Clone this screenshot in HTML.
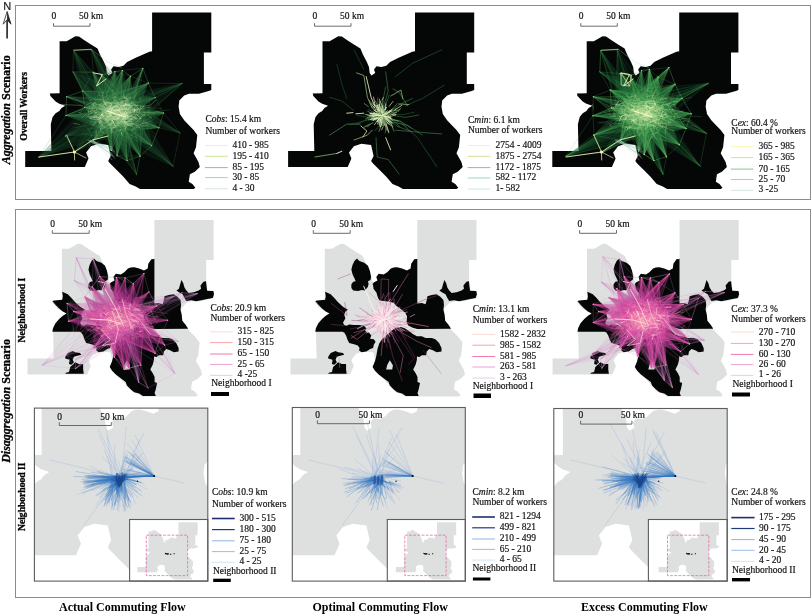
<!DOCTYPE html>
<html lang="en"><head><meta charset="utf-8"><title>Commuting flows</title>
<style>
html,body{margin:0;padding:0;background:#fff;overflow:hidden}
svg{display:block}
text{font-family:"Liberation Serif","Times New Roman",serif;fill:#111;stroke:#111;stroke-width:0.18px;paint-order:stroke}
.lg{font-size:9.5px}
.sb{font-size:9.5px}
.b{font-weight:bold}
.i{font-style:italic}
.ax{font-size:12px;font-weight:bold;fill:#000;stroke:none}
.rw{font-size:9.6px;font-weight:bold;fill:#000;stroke:#000;stroke-width:0.3px}
.vx{stroke:#000;stroke-width:0.3px}
.fl{fill:none;stroke-linecap:round}
</style></head><body>
<svg width="812" height="615" viewBox="0 0 812 615">
<defs>
<path id="ol" d="M59.6,41.3L66.7,41.3L75.4,36.2L79,36.4L84,39.9L91.4,44.8L97.5,48.5L100,54.6L103.7,61.4L106.1,66.9L106.8,73.1L108.5,75.4L112.3,73.1L111.1,69.4L113.5,66.3L118.5,66.9L123.4,65.7L127.1,62L135.7,57.7L149.4,51.8L152.1,51.2L152.1,12.4L211.3,12.4L211.3,52.5L203.9,52.5L203.9,83.9L211.3,83.9L211.3,90L208.8,91L199,93.7L189,93.7L184.2,95.6L179.3,100.5L178.6,106.7L179.9,114L184.2,120.2L188.7,125L193.6,130L197.3,134.9L196,147.2L193.6,153.3L198.5,162L199.8,166.9L194.8,171.8L189.9,174.3L188.7,181.7L192.4,184.1L195.4,187.8L193.6,189L140,189L135.7,186.6L129.6,184.1L123.4,176.7L117.2,170.6L109.9,163.2L108.2,161L110.7,156L108.2,145L98.4,143.7L91,146.2L86.1,152.4L88.5,158.5L84.8,166.9L25.2,166.9L25.2,150.9L51.4,150.9L50.8,124.3L51.1,122.9L52.6,117L55.6,113.3L59.3,111L61.5,108.1L65.2,105.7L59.3,103.7L55.6,101.4L50.4,95.9L49.8,93.4L59.6,93.2Z"/>
<path id="og" d="M59.6,41.3L66.7,41.3L75.4,36.2L79,36.4L84,39.9L91.4,44.8L97.5,48.5L100,54.6L103.7,61.4L106.1,66.9L106.8,73.1L108.5,75.4L112.3,73.1L111.1,69.4L113.5,66.3L118.5,66.9L122,64.8L125.7,61.1L128.5,60L131.9,59.8L136.8,61.1L141.7,62.9L145.4,61.1L146,56.2L149.1,51.8L151.6,51.6L152.1,51.2L152.1,12.4L211.3,12.4L211.3,52.5L203.9,52.5L203.9,83.9L211.3,83.9L211.3,90L208.8,91L199,93.7L189,93.7L184.2,95.6L179.3,100.5L178.6,106.7L179.9,114L184.2,120.2L188.7,125L193.6,130L197.3,134.9L196,147.2L193.6,153.3L198.5,162L199.8,166.9L194.8,171.8L189.9,174.3L188.7,181.7L192.4,184.1L195.4,187.8L193.6,189L140,189L135.7,186.6L129.6,184.1L123.4,176.7L117.2,170.6L109.9,163.2L108.2,161L110.7,156L108.2,145L98.4,143.7L91,146.2L86.1,152.4L88.5,158.5L84.8,166.9L25.2,166.9L25.2,150.9L51.4,150.9L50.8,124.3L51.1,122.9L52.6,117L55.6,113.3L59.3,111L61.5,108.1L65.2,105.7L59.3,103.7L55.6,101.4L50.4,95.9L49.8,93.4L59.6,93.2Z"/>
<path id="n1" d="M91.7,50.97L94.16,53.44L99.09,55.28L102.78,58.36L104.63,63.29L105.86,69.45L105.24,72.52L102.78,73.76L103.4,76.22L102.78,79.3L99.7,82.99L96.62,82.38L92.93,83.61L88,82.99L86.16,80.53L86.16,76.83L88,74.37L90.47,73.76L89.23,70.68L87.39,66.98L86.16,62.06L87.39,57.13L89.23,53.44ZM174.16,82.99L176.62,81.15L177.86,76.83L179.09,72.52L180.93,75.6L182.17,79.91L184.01,82.99L186.48,85.46L191.4,84.84L196.33,82.99L198.79,81.15L198.18,78.07L201.25,74.37L203.72,73.76L204.33,79.3L204.95,83.24L211.11,83.61L211.72,86.69L210.49,90.38L204.95,91.61L198.79,92.84L193.87,93.71L188.94,92.84L184.01,93.46L182.17,90.38L180.32,86.69L176.62,84.84ZM59.92,84.35L65.47,86.81L69.16,90.5L72.86,94.82L77.78,99.13L82.71,102.2L80.24,104.05L79.01,107.13L80.24,110.83L77.78,115.14L79.01,117.6L81.48,118.21L83.94,116.98L88.87,117.6L93.79,117.6L98.72,118.21L101.18,120.68L99.95,123.14L103.64,124.99L106.11,128.07L104.88,131.15L108.57,131.76L110.42,134.22L108.57,137.3L107.95,140.38L104.88,141.61L101.18,144.08L96.25,144.69L93.79,142.84L94.41,140.38L92.56,137.92L88.87,136.69L83.94,135.46L82.09,131.76L80.86,128.07L79.01,124.99L77.17,124.37L50.07,124.37L50.69,120.68L53.15,115.75L56.85,111.44L60.54,108.36L64.23,105.9L60.54,104.05L56.85,100.97L53.15,97.28L50.07,93.58L51.92,92.97L59.92,92.35L60.54,88.66ZM107.1,76.8L108.9,74.8L112.3,73.1L111.1,69.4L113.5,66.3L118.5,66.9L122,64.8L125.7,61.1L128.5,60L131.9,59.8L136.8,61.1L141.7,62.9L145.4,61.1L146,56.2L149.1,51.8L151.6,51.6L152.1,51.2L152.1,96L156.6,95.4L160.3,96.7L161.6,92.4L162.2,88.7L166.5,87.4L171.4,86.8L175.1,89.3L178.2,92.4L178.8,97.3L178.2,102.2L179.4,107.1L180,113.3L183.1,117L185.6,120.7L185.6,121.3L152.2,121.4L147.6,120.3L143.1,118L141.4,114.6L141.9,108.9L140.2,105.5L136.2,102.1L131.7,98.7L128.3,95.3L122.6,94.1L114.6,93L112.9,90.7L111.2,85L108.4,81.6L107.8,77.1ZM111.1,148.5L112.3,141.6L114,136L117,131.5L121,128L125,124.5L129.5,120.7L135.7,119.4L139.4,120.7L143.1,123.1L148,126.8L151.7,128.7L156.6,128.7L160.3,130.5L166.5,130.5L170.2,131.8L173.9,135.5L176.3,140.4L176.3,144.1L171.4,144.7L167.7,142.8L164,141.6L161.6,144.1L160.9,147.8L156.6,147.8L154.2,149.6L151.7,149L151.7,152.2L150.5,157.1L148,162.1L150.5,165.7L152.3,169.4L152.3,174.4L154.8,175.6L153.5,181.8L152.3,185.5L153.5,188.5L140.6,188.5L136.9,186.1L132,184.8L128.3,181.8L124.6,178.1L123.4,174.4L118.4,170.7L113.5,167L109.8,163.3L107.4,159.6L109.8,153.4ZM65.47,145.43L70.39,143.58L72.86,144.82L77.78,145.43L79.01,147.28L74.09,148.51L71.62,149.13L70.39,152.2L71.62,154.67L69.16,157.13L66.7,156.51L67.31,152.2L63,150.97L63,149.13ZM72.86,154.67L76.55,156.51L80.86,156.51L80.86,162.06L81.48,166.37L63,166.37L63.62,165.14L66.7,164.52L67.93,159.59L70.39,157.13Z"/>
<path id="n1h" d="M124.6,152.82L127.68,157.75L127.07,162.06L120.91,162.06L122.14,157.13Z"/>
</defs>
<rect width="812" height="615" fill="#fff"/>
<rect x="15.5" y="5.5" width="795" height="194" fill="none" stroke="#8c8c8c" stroke-width="1"/>
<rect x="15.5" y="209.5" width="795" height="388" fill="none" stroke="#8c8c8c" stroke-width="1"/>
<text x="7.3" y="9.6" text-anchor="middle" style="font-family:'Liberation Sans',Arial,sans-serif;font-size:11px;fill:#222">N</text>
<path d="M7.1,38.5V20" stroke="#222" stroke-width="1.6" fill="none"/>
<path d="M7.1,11.5L3.2,24.2L7.1,19.8L11,24.2Z" fill="#fff" stroke="#222" stroke-width="0.8" stroke-linejoin="miter"/>
<path d="M7.1,11.5L11,24.2L7.1,19.8Z" fill="#222"/>
<text class="ax vx" transform="translate(9.9,164.3) rotate(-90)"><tspan class="i">Aggregation</tspan> Scenario</text>
<text class="rw vx" transform="translate(27.4,140.8) rotate(-90)">Overall Workers</text>
<text class="ax vx" transform="translate(9.9,462.8) rotate(-90)"><tspan class="i">Disaggregation</tspan> Scenario</text>
<text class="rw vx" transform="translate(24.9,342.5) rotate(-90)">Neighborhood I</text>
<text class="rw vx" transform="translate(24.9,531) rotate(-90)">Neighborhood II</text>
<text class="ax" x="59" y="611">Actual Commuting Flow</text>
<text class="ax" x="312.5" y="611">Optimal Commuting Flow</text>
<text class="ax" x="581" y="611">Excess Commuting Flow</text>
<g transform="translate(0,0)">
<use href="#ol" fill="#050707"/>
<path d="M84.4,107.4L94.3,104.3L82.8,91L96,91.3L93.2,72.2L104.5,87.9L101.7,75L110.9,86L114.9,71.6L117.9,84.1L122.3,70.4L122.3,90.4L130.5,76.2L132.4,89.4L148.4,83.1L143.4,95.9L155.1,97.6L140.9,108.4L163.4,112.9L149.3,118.6L158.9,127.7L144.6,129.9L151.7,145.7L133.8,135.4L140,156.1L126.2,139.1L127,160.6L120,142.9L117.1,155.7L115.1,136.2L111.3,150.5L107.2,133.6L93.4,140L93.9,124.2L66,115.5L93.1,111.6Z" fill="#1c5230" fill-opacity="0.7"/>
<path d="M94,109.1L100.5,106.8L92.9,97.6L102.7,98.5L100.2,84.5L108.3,96L106.1,86.5L113,96.4L115.4,84.1L117.4,95.2L120.6,83.2L120.8,96.1L126.3,87.3L127.3,97L138.8,92.1L134.8,101.5L143.5,102.3L134.8,109.6L149.3,113L137.4,116.6L146.1,123.3L137.8,125.9L141.1,136L130.5,131.2L132.9,143.2L125.4,136.9L123.8,146.4L119,134.6L116.9,143L115.3,132.5L112.8,139.3L109.4,128.9L100.3,132L109,121.3L105.5,124.2L105.9,117.9L81.1,114.8L102.2,112.2Z" fill="#256a3a" fill-opacity="0.3"/>
<ellipse cx="116.5" cy="113.2" rx="20.2" ry="12.8" fill="#4a9456" fill-opacity="0.18"/>
<path d="M73.5,50.1L90.2,105.1L101.4,97.5Z" fill="#1c5230" fill-opacity="0.12"/>
<path d="M73.5,50.1L113,122.2L130.2,110.5Z" fill="#1c5230" fill-opacity="0.12"/>
<path d="M73.5,50.1L85,107L104.2,94Z" fill="#1c5230" fill-opacity="0.12"/>
<path d="M91.6,49.8L108.2,111.1L125.5,104.3Z" fill="#1c5230" fill-opacity="0.13"/>
<path d="M91.6,49.8L111.9,96.3L122.7,92.1Z" fill="#1c5230" fill-opacity="0.13"/>
<path d="M91.6,49.8L110.5,102.5L134.3,93.2Z" fill="#1c5230" fill-opacity="0.13"/>
<path d="M73,72L115.5,105.4L127.6,92.6Z" fill="#1c5230" fill-opacity="0.14"/>
<path d="M73,72L91.1,115.3L104.1,101.5Z" fill="#1c5230" fill-opacity="0.14"/>
<path d="M73,72L103.7,126.6L115.2,114.4Z" fill="#1c5230" fill-opacity="0.14"/>
<path d="M66.6,96.7L119.7,118.1L122.8,108.5Z" fill="#1c5230" fill-opacity="0.15"/>
<path d="M66.6,96.7L111,114.7L116.3,98.6Z" fill="#1c5230" fill-opacity="0.15"/>
<path d="M66,115.5L120.7,104.3L120.3,93.7Z" fill="#1c5230" fill-opacity="0.15"/>
<path d="M66,115.5L114.2,132.8L113.2,110.6Z" fill="#1c5230" fill-opacity="0.15"/>
<path d="M66,115.5L116.5,124.9L115.9,110.5Z" fill="#1c5230" fill-opacity="0.15"/>
<path d="M65.5,136L102.2,116.8L94.5,99.6Z" fill="#1c5230" fill-opacity="0.14"/>
<path d="M65.5,136L125.1,133.4L115.8,112.7Z" fill="#1c5230" fill-opacity="0.14"/>
<path d="M65.5,136L123,119.7L114.1,99.7Z" fill="#1c5230" fill-opacity="0.14"/>
<path d="M75.5,151.6L109.7,119.5L99.2,108.2Z" fill="#1c5230" fill-opacity="0.14"/>
<path d="M75.5,151.6L103.6,123.5L89.8,108.8Z" fill="#1c5230" fill-opacity="0.14"/>
<path d="M75.5,151.6L119.7,132.9L106.8,119.1Z" fill="#1c5230" fill-opacity="0.14"/>
<path d="M38.5,157.6L116.9,133.4L103.9,110.5Z" fill="#1c5230" fill-opacity="0.12"/>
<path d="M38.5,157.6L120.9,131.4L112.1,115.9Z" fill="#1c5230" fill-opacity="0.12"/>
<path d="M38.5,157.6L101,123.2L87.9,100.2Z" fill="#1c5230" fill-opacity="0.12"/>
<path d="M93.2,72.2L97.3,115.3L109.2,108.6Z" fill="#1c5230" fill-opacity="0.16"/>
<path d="M93.2,72.2L111.5,116L133.1,103.7Z" fill="#1c5230" fill-opacity="0.16"/>
<path d="M101.7,75L110.7,108L133.3,99.2Z" fill="#1c5230" fill-opacity="0.17"/>
<path d="M101.7,75L114.8,109.9L137.1,101.2Z" fill="#1c5230" fill-opacity="0.17"/>
<path d="M101.7,75L103.6,105.6L117.7,100.1Z" fill="#1c5230" fill-opacity="0.17"/>
<path d="M114.9,71.6L101.3,109.7L116.4,109.1Z" fill="#1c5230" fill-opacity="0.17"/>
<path d="M114.9,71.6L95.5,106.7L119.3,105.8Z" fill="#1c5230" fill-opacity="0.17"/>
<path d="M114.9,71.6L104.7,107.7L129,106.7Z" fill="#1c5230" fill-opacity="0.17"/>
<path d="M122.3,70.4L97,102L121.1,105.2Z" fill="#1c5230" fill-opacity="0.16"/>
<path d="M122.3,70.4L113.1,115.5L136.2,118.7Z" fill="#1c5230" fill-opacity="0.16"/>
<path d="M122.3,70.4L94.6,112.9L120.3,116.4Z" fill="#1c5230" fill-opacity="0.16"/>
<path d="M142.8,68.3L120.1,114.8L128.9,119.9Z" fill="#1c5230" fill-opacity="0.15"/>
<path d="M142.8,68.3L114.7,118L135.7,130.3Z" fill="#1c5230" fill-opacity="0.15"/>
<path d="M148.4,83.1L101.3,98.1L113.8,111.4Z" fill="#1c5230" fill-opacity="0.16"/>
<path d="M148.4,83.1L110.9,95.4L124.4,109.7Z" fill="#1c5230" fill-opacity="0.16"/>
<path d="M148.4,83.1L104,98.1L118.7,113.6Z" fill="#1c5230" fill-opacity="0.16"/>
<path d="M182.1,83.5L127.4,115.1L133.4,128.4Z" fill="#1c5230" fill-opacity="0.12"/>
<path d="M182.1,83.5L116,100L121.5,112.2Z" fill="#1c5230" fill-opacity="0.12"/>
<path d="M182.1,83.5L120.1,95.7L128.8,114.9Z" fill="#1c5230" fill-opacity="0.12"/>
<path d="M163.4,112.9L112.3,91.9L112.4,111.8Z" fill="#1c5230" fill-opacity="0.16"/>
<path d="M163.4,112.9L125.4,110.8L125.5,138.8Z" fill="#1c5230" fill-opacity="0.16"/>
<path d="M163.4,112.9L114.6,104L114.7,118.3Z" fill="#1c5230" fill-opacity="0.16"/>
<path d="M180,132.9L133.5,101.9L130.3,112.3Z" fill="#1c5230" fill-opacity="0.13"/>
<path d="M180,132.9L121,92.4L114.7,112.9Z" fill="#1c5230" fill-opacity="0.13"/>
<path d="M151.7,145.7L139.4,102.1L120.5,122.5Z" fill="#1c5230" fill-opacity="0.16"/>
<path d="M151.7,145.7L114.1,111L95.8,130.8Z" fill="#1c5230" fill-opacity="0.16"/>
<path d="M151.7,145.7L114.1,110.1L104.5,120.5Z" fill="#1c5230" fill-opacity="0.16"/>
<path d="M173,166.2L143,117.5L126.2,135.4Z" fill="#1c5230" fill-opacity="0.12"/>
<path d="M173,166.2L132.4,128.9L119.2,142.9Z" fill="#1c5230" fill-opacity="0.12"/>
<path d="M173,166.2L129.9,115.8L116.4,130.2Z" fill="#1c5230" fill-opacity="0.12"/>
<path d="M136.5,174.3L126.2,126.7L103.7,134Z" fill="#1c5230" fill-opacity="0.13"/>
<path d="M136.5,174.3L122.2,111.1L109.7,115.1Z" fill="#1c5230" fill-opacity="0.13"/>
<path d="M140,156.1L129.8,101.6L105.8,114.7Z" fill="#1c5230" fill-opacity="0.15"/>
<path d="M140,156.1L144.5,111.6L121.2,124.4Z" fill="#1c5230" fill-opacity="0.15"/>
<path d="M140,156.1L111.6,110.5L101.8,115.9Z" fill="#1c5230" fill-opacity="0.15"/>
<path d="M117.1,155.7L127.1,125.7L112.7,125.9Z" fill="#1c5230" fill-opacity="0.16"/>
<path d="M117.1,155.7L128.9,112.7L107.8,113Z" fill="#1c5230" fill-opacity="0.16"/>
<path d="M117.1,155.7L137.5,113.3L114.6,113.6Z" fill="#1c5230" fill-opacity="0.16"/>
<path d="M111.3,150.5L111.6,111.6L99.7,109.9Z" fill="#1c5230" fill-opacity="0.17"/>
<path d="M111.3,150.5L124.6,120.8L109.7,118.7Z" fill="#1c5230" fill-opacity="0.17"/>
<path d="M111.3,150.5L109.6,112.8L99.1,111.4Z" fill="#1c5230" fill-opacity="0.17"/>
<path d="M93.4,140L128.4,122.4L109.3,105.9Z" fill="#1c5230" fill-opacity="0.18"/>
<path d="M93.4,140L120,123.5L110.6,115.3Z" fill="#1c5230" fill-opacity="0.18"/>
<path d="M93.4,140L126.7,119.1L106.2,101.4Z" fill="#1c5230" fill-opacity="0.18"/>
<path d="M130.5,76.2L101.7,102.5L126.9,112Z" fill="#1c5230" fill-opacity="0.17"/>
<path d="M130.5,76.2L103.9,103.8L115.8,108.3Z" fill="#1c5230" fill-opacity="0.17"/>
<path d="M130.5,76.2L98.5,101.3L118.8,108.9Z" fill="#1c5230" fill-opacity="0.17"/>
<path d="M155.1,97.6L109.4,103.3L114.8,116.6Z" fill="#1c5230" fill-opacity="0.17"/>
<path d="M155.1,97.6L115.9,93.9L125.1,116.7Z" fill="#1c5230" fill-opacity="0.17"/>
<path d="M158.9,127.7L126.2,115.5L121,130.7Z" fill="#1c5230" fill-opacity="0.16"/>
<path d="M158.9,127.7L125.8,103.7L121.2,117.2Z" fill="#1c5230" fill-opacity="0.16"/>
<path d="M158.9,127.7L125.1,113.6L120.2,128Z" fill="#1c5230" fill-opacity="0.16"/>
<path d="M127,160.6L122.9,111.3L103.1,115.7Z" fill="#1c5230" fill-opacity="0.16"/>
<path d="M127,160.6L119.6,109.5L106.4,112.4Z" fill="#1c5230" fill-opacity="0.16"/>
<path d="M127,160.6L134.8,116.1L119.4,119.5Z" fill="#1c5230" fill-opacity="0.16"/>
<path d="M100.8,128.9L127.8,128.6L115.9,116.7Z" fill="#1c5230" fill-opacity="0.2"/>
<path d="M100.8,128.9L116.6,111.7L107.9,103Z" fill="#1c5230" fill-opacity="0.2"/>
<path d="M84.4,107.4L112.5,109.6L115.1,95Z" fill="#1c5230" fill-opacity="0.18"/>
<path d="M84.4,107.4L115,123.7L119,101.4Z" fill="#1c5230" fill-opacity="0.18"/>
<path d="M82.8,91L108,124.9L116.8,111.5Z" fill="#1c5230" fill-opacity="0.17"/>
<path d="M82.8,91L105.5,110.4L118.3,91Z" fill="#1c5230" fill-opacity="0.17"/>
<path class="fl" d="M173,166.2L128,128M180,132.9L119.2,94.9M38.5,157.6L93.7,102.7M182.1,83.5L125.9,114.9M38.5,157.6L98.5,123.3M180,132.9L115.9,105.5M65.5,136L112.8,105.5M73,72L118.4,102.7M173,166.2L125.9,127.2M73.5,50.1L98.3,95.3M173,166.2L124.7,133.2M91.6,49.8L129.5,95.3M73.5,50.1L92.7,106.2M65.5,136L123.5,130.9M73.5,50.1L88.3,105.4M73,72L108,119.7M75.5,151.6L105,108.4M136.5,174.3L121,116.2M75.5,151.6L107.2,112.3M91.6,49.8L120.6,100.1M73,72L101.9,121.9M91.6,49.8L117.6,94.1M65.5,136L125.5,129.1M91.6,49.8L119.6,107.3M182.1,83.5L135.2,122.6M65.5,136L120.2,126.4M65.5,136L102.4,106.9M75.5,151.6L110.9,114.2M180,132.9L129,107.4M38.5,157.6L115.4,121.5M73.5,50.1L92.6,97.9M73,72L102.9,108.8M136.5,174.3L124.9,126M38.5,157.6L90.3,108M38.5,157.6L92.9,111M73,72L127,98.5M65.5,136L123.7,116.6M65.5,136L119,129.8M73.5,50.1L100.5,100.9M73,72L104.6,126.1M38.5,157.6L112.7,120.6M65.5,136L90.7,103.4M182.1,83.5L134.6,121M73,72L98.5,112.2M38.5,157.6L111.5,117M73,72L114,119.6M75.5,151.6L98.4,118.1M38.5,157.6L115.1,125.9M136.5,174.3L119.9,110.9M73,72L92.8,111.4M136.5,174.3L120.4,115.1M91.6,49.8L120.6,108.1M73,72L93.2,110M75.5,151.6L106.6,120.4M173,166.2L135.4,119.7M73.5,50.1L99.3,96M65.5,136L93.5,101.8M182.1,83.5L115.5,109.7M73,72L110.7,121.4M91.6,49.8L129.5,94.3M180,132.9L133.1,104.8M75.5,151.6L117.3,128.9M73.5,50.1L97.1,100.9M73,72L101.3,105.6M73.5,50.1L97.6,94.9M75.5,151.6L114.6,134.4M38.5,157.6L118.2,127.3M91.6,49.8L133.3,98.2M182.1,83.5L129.4,127.9M73.5,50.1L117.4,123.2M136.5,174.3L118.9,114.6M38.5,157.6L112.8,119M180,132.9L129,106.7M75.5,151.6L100.3,120.6M173,166.2L126.7,125.8M173,166.2L121.2,121.6M182.1,83.5L118.3,111.1M173,166.2L134.6,128.5M91.6,49.8L118.6,110.6M136.5,174.3L121.5,109.8M182.1,83.5L123.2,107.8M75.5,151.6L98.5,115.3M180,132.9L116.3,102.7M73.5,50.1L129.7,116.6M65.5,136L124.6,116.6M173,166.2L123.7,121.3M73,72L98.3,101.5M65.5,136L124,127.4M182.1,83.5L120.4,102.7M173,166.2L140.5,118.9M136.5,174.3L117.2,110.2M73.5,50.1L116.9,125.5M73,72L98,113.7M91.6,49.8L109.7,106.7M91.6,49.8L118.9,97.4M73.5,50.1L93.5,102.3M73,72L123,92.9M73,72L100.9,104.9M65.5,136L96.6,105.8M38.5,157.6L116.4,119.5M38.5,157.6L105.1,109.9M38.5,157.6L97,115.9M73.5,50.1L118.3,117.9M75.5,151.6L104.3,110.3M180,132.9L113.4,105.4M182.1,83.5L129.5,129.8" stroke="#256a3a" stroke-width="0.4" stroke-opacity="0.25"/>
<path class="fl" d="M136.5,174.3L111.3,129.3M75.5,151.6L88.6,111.6M65.5,136L101.9,114.4M136.5,174.3L121.8,114.8M173,166.2L124.3,131.2M173,166.2L129.6,120.1M73,72L102.5,123.3M182.1,83.5L119.3,105M73,72L126.4,95.6M38.5,157.6L117.7,122.7M173,166.2L125.7,132.8M182.1,83.5L128.3,129.1M91.6,49.8L120.4,89.6M73.5,50.1L97.3,99.8M136.5,174.3L107.1,133.9M73,72L104.3,120.1M173,166.2L130.2,117.8M38.5,157.6L118.7,129.6M73,72L111.4,125.2M180,132.9L127.6,104.2M136.5,174.3L122.3,112.3M173,166.2L127,136.1M75.5,151.6L89.9,114.6M73,72L104.5,107.6M38.5,157.6L112.4,119.4M136.5,174.3L119.9,109.3M180,132.9L134.7,104.7M65.5,136L123.1,109.8M182.1,83.5L116,110.7M75.5,151.6L121.7,129.6M182.1,83.5L120.6,108.4M173,166.2L122.4,139.8M182.1,83.5L126.3,114M73.5,50.1L129.7,116.9M180,132.9L116.4,110.4M73.5,50.1L94,97.4M38.5,157.6L108.9,116.1M173,166.2L116.7,123.2M173,166.2L144.3,122.6M91.6,49.8L115,94.8M73.5,50.1L93.5,99.9M173,166.2L138.8,119.1M182.1,83.5L120.1,106.5M180,132.9L111.1,111.1M73.5,50.1L124.3,111.8M180,132.9L119.7,105.6M136.5,174.3L120.8,128.2M91.6,49.8L119.3,97.1M75.5,151.6L114.7,121.6M91.6,49.8L121.1,107.9M91.6,49.8L120.6,100.3M73.5,50.1L93,103.2M182.1,83.5L121.9,103.3M75.5,151.6L107.2,116.5M182.1,83.5L128.8,111.3M182.1,83.5L120.3,103M182.1,83.5L117.6,108.1M73.5,50.1L118.8,116.5M182.1,83.5L126.5,105.1M73.5,50.1L123.5,109.2M73.5,50.1L125.9,115.2M65.5,136L123.8,110.8M75.5,151.6L117.2,125.6M136.5,174.3L117.4,132.4M91.6,49.8L114.6,104.8M65.5,136L98.4,113.4M73,72L107.2,116.2M73,72L103.9,126.5M182.1,83.5L126.5,120.5M73,72L116.6,98.3M73,72L123.5,94M91.6,49.8L113.4,110.6M73,72L101.7,108.1M73.5,50.1L122,113.2M173,166.2L134,124.2M73,72L114.4,103.1M38.5,157.6L93.6,116.1M173,166.2L131.2,132.7M65.5,136L123.2,123.1M91.6,49.8L116.3,94.9M65.5,136L103.6,109.5M173,166.2L126.7,116.5M38.5,157.6L109.4,126.4M91.6,49.8L121,91.4M180,132.9L129.1,101.5M182.1,83.5L131.7,127.1M173,166.2L131.9,129.6M38.5,157.6L108.1,111.3M73,72L95.8,111.7M91.6,49.8L115.5,95M38.5,157.6L88.5,103.7M91.6,49.8L114,98.1M173,166.2L133.2,133.8M38.5,157.6L88.9,104.7M65.5,136L91.3,104.1M73,72L101.7,124M173,166.2L131.2,133.3M65.5,136L121.6,109.5M65.5,136L120.1,117.7M75.5,151.6L108,119.4M180,132.9L118.6,101.8M38.5,157.6L89.5,106.5M38.5,157.6L110.2,119M182.1,83.5L120.2,104.2M91.6,49.8L113.8,113.5" stroke="#256a3a" stroke-width="0.4" stroke-opacity="0.25"/>
<path class="fl" d="M130.5,76.2L115.5,107.7M142.8,68.3L134.6,131.9M127,160.6L118.4,113.3M136.5,174.3L103.7,134M101.7,75L133.2,108.1M151.7,145.7L113.9,117.1M101.7,75L130.2,106.4M117.1,155.7L125.9,121.8M82.8,91L116,102M66,115.5L115.5,132.2M111.3,150.5L107.6,108.3M158.9,127.7L125.2,116.4M142.8,68.3L125,116.5M73,72L115.5,105.4M151.7,145.7L109.4,116.1M142.8,68.3L127.4,121.6M140,156.1L101.9,111.5M114.9,71.6L113.6,106.8M127,160.6L108.6,117.3M66.6,96.7L114.2,110.6M117.1,155.7L121.7,118.5M151.7,145.7L100.1,127.6M101.7,75L121,109.8M163.4,112.9L112.4,99.7M130.5,76.2L106.8,108.9M142.8,68.3L123.8,119.4M130.5,76.2L115.2,107.1M66,115.5L115,116M140,156.1L109,118.5M158.9,127.7L126.7,110.1M122.3,70.4L100.4,114.8M101.7,75L114.2,103.3M158.9,127.7L123.3,129.8M140,156.1L136.2,116.4M101.7,75L116.6,107.8M111.3,150.5L106.4,110.3M122.3,70.4L113.1,112.1M148.4,83.1L124.6,102.8M136.5,174.3L109.7,115.1M66.6,96.7L123.5,110.9M142.8,68.3L122.7,125.4M182.1,83.5L120.1,95.7M140,156.1L132.2,113.2M180,132.9L133.5,101.9M66,115.5L114.9,115.6M127,160.6L111.8,112.8M101.7,75L118.6,104.5M148.4,83.1L114.5,110.5M151.7,145.7L96.6,123.7M163.4,112.9L116.7,111.3M130.5,76.2L108,109M127,160.6L133.9,120M158.9,127.7L122.2,117.2M114.9,71.6L102.3,110.7M158.9,127.7L125.8,126.3M66.6,96.7L118,115M114.9,71.6L107.9,112.5M114.9,71.6L101.3,107.3M151.7,145.7L135,107.2M148.4,83.1L107.3,97.2M117.1,155.7L121.9,113.5M130.5,76.2L110.3,107.4M127,160.6L122.7,120.8M114.9,71.6L117.8,103.5M130.5,76.2L124.8,111.8M140,156.1L129,105.5M66,115.5L116.5,94.7M127,160.6L125,113.7M163.4,112.9L117.9,104.6M163.4,112.9L108.8,100.4M101.7,75L126.3,100.3M130.5,76.2L106.3,102.2M140,156.1L106.3,117.2M130.5,76.2L103.8,106.6M66,115.5L120.9,112.3M148.4,83.1L124.7,108.5M142.8,68.3L115.1,122.4M111.3,150.5L116,124M117.1,155.7L126.1,117.8M140,156.1L107.5,115.4M93.2,72.2L113.3,115.5M93.2,72.2L115.7,117.7M151.7,145.7L98.4,122.6M140,156.1L109.3,118M93.2,72.2L104.8,115.8M127,160.6L116.3,111.7M117.1,155.7L124.7,112.3M130.5,76.2L115.4,107.2M130.5,76.2L125.9,113.1M73,72L104.1,101.5M66,115.5L116.2,110.9M122.3,70.4L114.1,120.3M114.9,71.6L105,114.2M122.3,70.4L103.7,99.4M117.1,155.7L114.5,108.9M142.8,68.3L127.1,128M151.7,145.7L105.3,113.3M117.1,155.7L122.3,115M66,115.5L122.3,103M114.9,71.6L98,104.4M114.9,71.6L113.3,107.2M93.2,72.2L129.7,103.2M73.5,50.1L90.2,105.1M151.7,145.7L107.2,116.3M122.3,70.4L116,120.1M130.5,76.2L108.7,103.6M158.9,127.7L117,124.1M101.7,75L112.9,104.5M151.7,145.7L106,114.7M82.8,91L121.1,94.5M114.9,71.6L114.2,110.9M101.7,75L127.6,100.9M111.3,150.5L118.2,121.1M148.4,83.1L114.2,102.7M111.3,150.5L102.4,111.5M101.7,75L136.9,104.2M140,156.1L140.6,108.8M101.7,75L115.9,101.5M163.4,112.9L118.8,115.1M142.8,68.3L126.8,114.4M114.9,71.6L120.5,106.5M130.5,76.2L98.3,103.8M111.3,150.5L111,114.3M127,160.6L121.7,114.1M155.1,97.6L118.7,113.6M122.3,70.4L114.7,102.2M117.1,155.7L120,115.4M163.4,112.9L125.3,135.9M127,160.6L117.8,114M151.7,145.7L106.1,117.1M158.9,127.7L129.8,118.7M111.3,150.5L107.2,113.2M117.1,155.7L114.8,111.2" stroke="#256a3a" stroke-width="0.4" stroke-opacity="0.36"/>
<path class="fl" d="M66,115.5L118.8,118.4M122.3,70.4L118.5,114.3M163.4,112.9L111.2,116.6M111.3,150.5L110.8,107.6M66.6,96.7L109.8,103.2M114.9,71.6L95.7,108.1M122.3,70.4L116.9,109M65.5,136L102.2,116.8M151.7,145.7L130,115M114.9,71.6L115.3,111.7M66.6,96.7L123.5,113.5M163.4,112.9L127.3,114.2M101.7,75L117.3,99.6M117.1,155.7L129,113.2M101.7,75L103.7,103.5M101.7,75L120.2,107.4M75.5,151.6L103.6,123.5M82.8,91L115.7,114.1M140,156.1L101.2,112.5M75.5,151.6L99.2,108.2M117.1,155.7L116,125.9M163.4,112.9L125.5,130M130.5,76.2L113.7,110.6M130.5,76.2L105.4,100.9M130.5,76.2L114.5,106.1M158.9,127.7L119.6,115.2M66.6,96.7L121.7,110.3M155.1,97.6L118.1,98.8M151.7,145.7L111.4,115.2M122.3,70.4L103,107.1M82.8,91L111,124.5M111.3,150.5L108.5,117.2M82.8,91L110,122.8M163.4,112.9L110.8,111.1M122.3,70.4L109.7,119.4M66.6,96.7L112.4,103.5M66,115.5L125.2,100.8M82.8,91L110.3,107.8M122.3,70.4L98.3,97.5M101.7,75L116.7,101.2M66.6,96.7L121.8,108.5M114.9,71.6L115.6,107.4M140,156.1L111.4,111.9M82.8,91L113.7,119M117.1,155.7L128,111.2M122.3,70.4L102,109.5M127,160.6L127.5,119.1M117.1,155.7L129.2,108.8M73.5,50.1L113,122.2M117.1,155.7L119.4,116.7M148.4,83.1L111.8,98.5M114.9,71.6L102,108.7M130.5,76.2L118.7,108.5M122.3,70.4L118.1,118.1M158.9,127.7L127.9,120.2M114.9,71.6L100.5,103.9M148.4,83.1L122.3,101.7M122.3,70.4L117.7,112.2M66,115.5L121,117.2M66.6,96.7L115.9,108.7M140,156.1L120.2,109.6M122.3,70.4L115.5,114.4M38.5,157.6L103.9,110.5M151.7,145.7L132.7,109.1M151.7,145.7L104.7,116.3M130.5,76.2L111.4,105.8M151.7,145.7L108,115.9M155.1,97.6L117.2,110.3M114.9,71.6L118,107.1M93.2,72.2L115.9,108.8M130.5,76.2L101.6,105.2M114.9,71.6L114.3,111.5M151.7,145.7L103.7,122.9M122.3,70.4L99.7,100.6M101.7,75L122.4,106.5M130.5,76.2L115.3,108.7M127,160.6L107.9,115.4M151.7,145.7L113.2,113.6M180,132.9L121,92.4M130.5,76.2L115,107.3M66,115.5L116.8,96.6M101.7,75L119.9,105.5M91.6,49.8L125.5,104.3M163.4,112.9L113.4,111.2M158.9,127.7L127.7,119M173,166.2L129.9,115.8M66,115.5L121.5,100.3M142.8,68.3L121.3,117M91.6,49.8L122.7,92.1M140,156.1L121.1,122.3M140,156.1L116.5,104.7M163.4,112.9L113.4,106M122.3,70.4L116.1,103.9M130.5,76.2L123.5,109.2M148.4,83.1L101.4,100.9M117.1,155.7L123.2,114.9M73.5,50.1L85,107M66,115.5L112.5,111.8M158.9,127.7L122.5,119.4M111.3,150.5L106.5,108.1M101.7,75L130.3,100.9M163.4,112.9L112.4,105.3M173,166.2L119.2,142.9M111.3,150.5L106.3,116.8M155.1,97.6L108.1,111.7M111.3,150.5L106.4,115.1M82.8,91L116.3,114.2M127,160.6L122.4,116.7M140,156.1L108.3,107.2M111.3,150.5L99.9,110.7M111.3,150.5L109.9,114.6M73,72L115.2,114.4M155.1,97.6L117.6,111.2M148.4,83.1L110.4,105.3M173,166.2L143,117.5M158.9,127.7L128.8,107.6M114.9,71.6L98.1,110.9M151.7,145.7L114.3,113.6M140,156.1L122.3,120.4M155.1,97.6L108,106.1M142.8,68.3L124,119.2M158.9,127.7L122.9,122.4M163.4,112.9L127.2,111.1M111.3,150.5L107.6,108.2M93.2,72.2L119.6,111.3M117.1,155.7L126,130.7M66,115.5L112.1,125.2M66.6,96.7L124.6,115.9M66,115.5L116.6,122.5M130.5,76.2L113.1,110.9M163.4,112.9L113.5,107.9M101.7,75L119,112.9M117.1,155.7L112.2,110.7" stroke="#256a3a" stroke-width="0.4" stroke-opacity="0.36"/>
<path class="fl" d="M142.8,68.3L126,122.3M114.9,71.6L107.6,110.4M155.1,97.6L113.4,103.5M93.2,72.2L114.7,111.3M158.9,127.7L120.7,130.6M38.5,157.6L120.9,131.4M151.7,145.7L116.2,114.5M130.5,76.2L104.4,102.1M163.4,112.9L115.5,98.2M66,115.5L118.4,113M163.4,112.9L129.9,123.6M111.3,150.5L104.9,114.4M122.3,70.4L115.8,119.2M148.4,83.1L118.9,100.9M151.7,145.7L113.6,113.3M151.7,145.7L102.3,127.2M117.1,155.7L123.1,126.4M158.9,127.7L124.1,129.2M158.9,127.7L119.3,115.5M93.2,72.2L126.1,110.3M101.7,75L111,98.7M101.7,75L103.4,103.1M148.4,83.1L121.7,110.4M101.7,75L117.2,108.5M82.8,91L112.8,113.1M101.7,75L135.9,105M122.3,70.4L96.2,115M127,160.6L110,115.7M122.3,70.4L118.8,106.7M158.9,127.7L122.4,120.1M101.7,75L114.6,110.2M114.9,71.6L109.3,110M66,115.5L121,114.3M130.5,76.2L108.7,101M148.4,83.1L109.4,107.6M114.9,71.6L121.2,104.8M101.7,75L108.7,103.8M182.1,83.5L116,100M130.5,76.2L104.7,100M127,160.6L106.6,117.9M111.3,150.5L123.4,124.3M101.7,75L117.2,108.2M111.3,150.5L103.4,116.6M93.2,72.2L107.1,109.8M127,160.6L109.1,112.1M155.1,97.6L125.2,105M93.2,72.2L104.1,113.2M148.4,83.1L112.1,109.8M127,160.6L110.5,113M122.3,70.4L136,118.3M111.3,150.5L104.1,112.2M148.4,83.1L114.7,108.1M163.4,112.9L114.5,112.1M93.2,72.2L121.1,108.9M75.5,151.6L119.7,132.9M151.7,145.7L101.9,127.6M140,156.1L108.5,110.8M114.9,71.6L113,106.8M130.5,76.2L111.5,103.7M93.2,72.2L119.7,108.1M82.8,91L114.8,123.2M101.7,75L120.9,107.5M82.8,91L114.4,112.3M163.4,112.9L110.2,108.4M82.8,91L118.1,113.3M82.8,91L112.2,117.2M111.3,150.5L106.2,116M155.1,97.6L110.2,103.8M93.2,72.2L103.3,112.6M82.8,91L106.4,121.3M158.9,127.7L125,131.1M114.9,71.6L101.9,112.1M182.1,83.5L133.4,128.4M38.5,157.6L101,123.2M117.1,155.7L136.3,111.5M130.5,76.2L108.9,107.7M122.3,70.4L117.4,101.3M140,156.1L104.2,117.7M122.3,70.4L99.2,110.4M117.1,155.7L108.3,112.1M111.3,150.5L100.3,109.5M155.1,97.6L110.8,108.8M117.1,155.7L123.3,123.2M111.3,150.5L105.3,110.4M148.4,83.1L106.8,107.6M148.4,83.1L117.4,105M140,156.1L107.8,115.8M158.9,127.7L126.1,117.4M111.3,150.5L108.9,117.5M163.4,112.9L108.1,111.1M101.7,75L129,100.4M111.3,150.5L107.2,110.8M111.3,150.5L100.4,109.9M140,156.1L129.7,106.7M65.5,136L125.1,133.4M142.8,68.3L125,119.2M111.3,150.5L107,112.4M111.3,150.5L100.8,115.1M142.8,68.3L124.1,118.9M117.1,155.7L112,114.2M66,115.5L122.3,102.5M114.9,71.6L110.7,106.8M66.6,96.7L124.7,114.7M163.4,112.9L114.2,107.7M155.1,97.6L119.7,92.6M65.5,136L123,119.7M101.7,75L134.1,107.4M66.6,96.7L110.6,108.7M82.8,91L107.7,109.8M148.4,83.1L102,101M111.3,150.5L110.8,108M82.8,91L112.2,118M66.6,96.7L107.8,109.1M93.2,72.2L106.7,111.3M114.9,71.6L112.3,113M142.8,68.3L134.4,126.3M93.2,72.2L119.5,107.7M127,160.6L123.5,114.4M91.6,49.8L110.5,102.5M111.3,150.5L104.1,111.3M140,156.1L123.3,103.1M155.1,97.6L114.3,101.4M140,156.1L143.4,111.8M66,115.5L112.5,118.2M122.3,70.4L120.9,121M122.3,70.4L116.2,118M114.9,71.6L108.4,114.3M101.7,75L122,105.9M127,160.6L118,110.3M127,160.6L121.2,115.3M66,115.5L111.7,117.7M130.5,76.2L113.2,102.2" stroke="#256a3a" stroke-width="0.4" stroke-opacity="0.36"/>
<path class="fl" d="M100.8,128.9L121.4,123.8M84.4,107.4L117.8,105.4M93.4,140L113.2,117.8M93.4,140L118.1,112.2M93.4,140L118.6,120.9M84.4,107.4L117.5,109.6M84.4,107.4L114.7,102.5M93.4,140L110.7,120.4M93.4,140L111.8,116.7M100.8,128.9L113.7,111.8M93.4,140L113.1,116.7M93.4,140L123,118M93.4,140L112.7,102.9M93.4,140L124,117.2M100.8,128.9L126.2,128.9" stroke="#256a3a" stroke-width="0.4" stroke-opacity="0.45"/>
<path class="fl" d="M100.8,128.9L117.8,123.3M100.8,128.9L119.5,108.3M84.4,107.4L109.6,103.5M84.4,107.4L117.7,107.8M100.8,128.9L127.3,121.9M100.8,128.9L115.6,122.7M100.8,128.9L106.9,104.3M93.4,140L109.7,110M93.4,140L114.5,124.8M93.4,140L119,115.4M93.4,140L112.2,113.9M93.4,140L122.9,115M84.4,107.4L117.4,111.3M93.4,140L119.3,120.8M100.8,128.9L116.7,105.9" stroke="#256a3a" stroke-width="0.4" stroke-opacity="0.45"/>
<path class="fl" d="M93.4,140L120.1,121.9M84.4,107.4L113.7,114.3M93.4,140L113.5,109.3M100.8,128.9L123.1,126.7M84.4,107.4L121.4,113.1M100.8,128.9L116.8,109.2M100.8,128.9L113.1,108.7M100.8,128.9L122.7,129.2M100.8,128.9L113.2,108.4M100.8,128.9L117.8,118.9M100.8,128.9L120.9,120.7M93.4,140L118.4,116.3M100.8,128.9L121.5,120.8M84.4,107.4L112.6,108.8M100.8,128.9L117.4,121.4" stroke="#256a3a" stroke-width="0.4" stroke-opacity="0.45"/>
<path class="fl" d="M84.4,107.4L114.8,99M100.8,128.9L112.1,111.7M100.8,128.9L118.3,107.5M93.4,140L110.5,118.1M100.8,128.9L124.6,130.9M93.4,140L128.4,119.9M93.4,140L110.2,106.3M84.4,107.4L114.8,97.4M84.4,107.4L119.3,115M84.4,107.4L114,94.9M93.4,140L122.5,109.4M93.4,140L114.4,117.4" stroke="#256a3a" stroke-width="0.4" stroke-opacity="0.45"/>
<path class="fl" d="M73.5,50.1L91.6,49.8M73.5,50.1L73,72M91.6,49.8L73.5,50.1M91.6,49.8L93.2,72.2M73,72L93.2,72.2M73,72L82.8,91M66.6,96.7L82.8,91M66.6,96.7L66,115.5M66,115.5L66.6,96.7M65.5,136L75.5,151.6M75.5,151.6L65.5,136M38.5,157.6L65.5,136M38.5,157.6L75.5,151.6M38.5,157.6L66,115.5M93.2,72.2L101.7,75M93.2,72.2L73,72M93.2,72.2L82.8,91M101.7,75L93.2,72.2M101.7,75L114.9,71.6M101.7,75L122.3,70.4M114.9,71.6L122.3,70.4M114.9,71.6L101.7,75M122.3,70.4L114.9,71.6M122.3,70.4L130.5,76.2M122.3,70.4L142.8,68.3M142.8,68.3L130.5,76.2M142.8,68.3L148.4,83.1M148.4,83.1L142.8,68.3M148.4,83.1L155.1,97.6M148.4,83.1L130.5,76.2M182.1,83.5L155.1,97.6M182.1,83.5L148.4,83.1M163.4,112.9L158.9,127.7M180,132.9L158.9,127.7M180,132.9L163.4,112.9M151.7,145.7L140,156.1M151.7,145.7L158.9,127.7M173,166.2L151.7,145.7M173,166.2L180,132.9M136.5,174.3L127,160.6M136.5,174.3L140,156.1M140,156.1L127,160.6M140,156.1L151.7,145.7M140,156.1L136.5,174.3M117.1,155.7L111.3,150.5M117.1,155.7L127,160.6M117.1,155.7L140,156.1M111.3,150.5L117.1,155.7M111.3,150.5L127,160.6M93.4,140L100.8,128.9M93.4,140L111.3,150.5M93.4,140L75.5,151.6M130.5,76.2L122.3,70.4M130.5,76.2L142.8,68.3M130.5,76.2L114.9,71.6M155.1,97.6L148.4,83.1M155.1,97.6L163.4,112.9M158.9,127.7L163.4,112.9M158.9,127.7L151.7,145.7M127,160.6L117.1,155.7M127,160.6L140,156.1M100.8,128.9L93.4,140M100.8,128.9L111.3,150.5M84.4,107.4L82.8,91M84.4,107.4L66,115.5M84.4,107.4L66.6,96.7M82.8,91L84.4,107.4M82.8,91L66.6,96.7M82.8,91L73,72" stroke="#4a9456" stroke-width="0.4" stroke-opacity="0.5"/>
<path class="fl" d="M123.6,116.1L130.9,108.3M109.5,120.1L100.5,122.9M123.2,108.5L124.3,112.2M124,123.6L125.3,113.5M112.5,125L108.5,124.2M121.3,106.4L136.4,101.9M109,128.5L110,118.2M113.2,117.3L127.3,113.7M114.8,126.5L111.5,119.3M123.1,113.1L118.5,107.8M91.4,99.3L80,112.7M99.7,92.6L112.9,90.7M127.5,104.2L103.7,102.3M136.7,110.8L134.4,119M114.3,102.3L122.8,106.3M115.8,108.2L122.4,110.5M148.8,113.9L147.9,105.7M106.8,113.3L98.2,106.1M105.3,118.5L109.4,123M156.3,111.3L154.2,110.3M130.5,106.6L144.1,99.3M120.5,101.6L116.9,104.6M114.8,126.5L111.3,130.2M108.6,116.6L111.1,122.8M97.5,114.8L110.9,119.3M116,122.3L131.1,130.2M99.7,109.5L94.2,101.2M111.7,105.1L117.1,113.5M119.4,109.1L140.2,97.1M114.7,98.2L107.9,106.9M145.3,114.8L139.9,106.3M102.8,105L102.8,107.1M102.8,105L98.8,108.5M105.3,112.1L109,115.7M111.7,107.5L101.7,98.6M124.2,118.3L121.5,129M115.6,134L121.4,131.1M129.8,121L124.1,116.4M119.6,122.8L120.6,119.5M124.2,118.3L124.3,120.1M113.1,109.9L110.6,114.7M156.9,122.3L151.3,128.5M108.6,116.6L110.7,115.7M128.2,113.4L126.5,119M105.3,110.7L87.5,113.9M103.7,93L114.3,99.9M119.2,99.4L135.8,96.9M106.4,118.3L108.2,129.6M114.8,126.5L91.6,119.2M106.8,107.4L104.2,118.9M114.5,111.7L119.8,108.7M156.3,111.3L150.6,115.9M108.4,108.5L100.7,104.9M116.2,103.3L133.2,100.8M135.5,123.8L120.9,123.9M113.7,120L108.8,119.9M96,116.2L89,107.9M132.9,124.3L117.8,112.7M109.7,116.4L98.5,125.5M127.7,134.2L137.7,137.4M111.7,104.2L97,99.4M134.3,103L128,111.4M142.4,116.3L138.1,116.2M129.9,106.3L134.3,100.9M95.3,104.7L85,92.6M143.4,120.1L155,122.3M136.7,110.8L139.5,110.7M124.2,118.3L122,122M124.3,108.6L130.2,103.3M123.6,116.1L131.3,118.3M102.8,105L108,110.7M127.7,134.2L123.5,131.3M113.5,109.8L119.9,112.7M141.7,114.1L138.9,122.5M126.3,106.1L112.3,107.5M145.3,114.8L141.4,102.6M148.5,107.5L161.8,108.8M120.7,103.1L115.6,92.5M106.2,122.2L108.8,118M124,123.6L106.4,116.9M128,123.9L124.4,127.3M124.9,111.1L126.7,109.5M106.3,108.9L102.7,106.2M115.4,119.6L122.5,115.4M124.2,118.3L129.6,113.3M156.3,111.3L159.9,111.5M95.2,122.2L94.4,117.1M156.3,111.3L164,113.5M91.8,135.3L95.1,147.1M123.8,115.6L112.2,117.5M91.8,135.3L102.9,135.3M128.2,113.4L119.5,111.8M134.6,109.1L133.9,110.6M107.1,107.5L101.5,110.8M123.6,115.4L124.4,113.7M114.8,126.5L129.2,123.1M121.3,106.4L130.8,103.7M123.6,116.1L114.1,105.6M112.8,109.2L109.7,104.6M113.2,123.7L106.5,119.9M123.6,115.4L116.2,113.3M129.9,106.3L135.2,99.4M121.8,99.2L134.6,94.2M127.1,105.1L129.9,105.9M124.9,111.1L123.8,119.3M123.2,108.5L121.9,122M101.6,113.7L103.2,108.5M112.9,113.7L109.2,117.6M111.3,110.6L108.1,106.4M117.2,104.5L116.1,107.8M120.4,108.6L135,109.2M125.4,118.5L131,121.9M111.4,108.2L123.7,112.9M114.6,112.2L122.1,115.4M91.8,135.3L83.3,134.1M97.3,123.4L101.5,124.4M117.2,104.5L112.1,94.3M134.6,109.1L139.1,106.9M96.6,113L100.1,110.2M105.3,112.1L113.4,111.3M126.3,106.1L128.2,100.2M118.9,125.5L132.6,123.8M118,107.9L111,109.7M119.4,109.1L102.8,113M124.5,111.7L124.5,106M88.5,112.2L80.1,112.9M97,100.6L100.4,88.5M112.9,113.7L119.6,125M124,123.6L127,121.9M98.5,106.5L95.6,105" stroke="#4a9456" stroke-width="0.45" stroke-opacity="0.5"/>
<path class="fl" d="M95.7,110.5L79.6,110.2M109.1,134.6L108.5,141.4M109.8,110.4L100.1,105.3M106.8,107.4L106.8,94.2M134.6,109.1L132.5,110.7M114.5,111.7L105.9,106.5M112.4,108.9L116.3,113.2M89,107.2L92,100.4M101.6,113.7L99.3,110.3M139.1,112.6L144.2,104M129.9,106.3L118.3,110.7M110.6,123.3L111.3,137.3M111.4,108.2L118.7,114.7M145.3,114.8L151.4,103.8M118,107.9L123.6,110M98.5,106.5L91.3,105.1M112.3,111.6L114.5,118.4M119.7,113.8L118.2,125.7M110.4,115.9L111.3,118.8M100.4,123.5L104.7,133.7M117.2,104.5L134.3,108M128,123.9L139.9,124.7M115.8,108.2L106.4,104.8M136,117.5L119.9,118.8M109.7,116.4L113.8,120.9M127.7,134.2L128.7,140.7M101.6,113.7L92.9,108.2M120.4,108.6L124,107.2M122.4,105.2L120.4,103.6M105.3,118.5L118.4,128.5M105.3,112.1L107.3,96.1M125.5,130.5L117.2,130.9M115.6,134L95.2,132.2M117.2,104.5L114.3,96.6M122.5,96.6L115.5,98.3M134.4,106.8L150.4,107.3M148.8,113.9L151.4,106.4M102.4,113.7L112,117.8M128.4,109.9L119.3,107M85.6,116.4L90.7,107.5M118,107.9L104.5,102.5M113.4,119.9L120.2,118.4M127.1,105.1L136.1,105.1M115.6,134L122.7,139.6M91,125.8L107.3,125M116.1,112.1L114.8,113.6M127.1,105.1L114.1,108.7M122.3,123.9L116.4,121M102.8,105L105.7,106.6M114.8,118.6L105.2,109M116.9,129.6L139.2,118.8M109.5,120.1L126.6,120M142.4,116.3L142.5,111.5M120.5,101.6L108.5,99.7M134.3,103L141.6,102.2M115.4,119.6L103,123.3M123.8,115.6L136.6,122.4M134.6,109.1L128.4,112M115,118.1L112.4,125.5M113.8,110.8L99.2,111.2M109.7,116.4L120.4,117.4M120.5,101.6L124.2,104.1M119.6,122.8L120.7,128.9M123.2,108.5L125.3,111.6M106.3,108.9L106.3,112.6M119.6,122.8L108.8,118.5M115.4,119.6L123,119M110.2,102.2L121.1,104.9M96.6,113L101.1,111.7M112.3,111.6L112.5,115.8M80.6,102.4L85,103.9M122.4,111.3L115.9,114.3M126.3,106.1L120.2,119.3M95.2,122.2L99,117.9M139.1,112.6L144.3,116.5M117.1,114.8L122.6,116.8M106.8,107.4L105.4,113.5M108.5,112.6L117.5,110.3M127.5,104.2L146.4,99.7M96,116.2L103.7,115.4M106.3,108.9L118.1,97.4M125,96.9L136.5,90.2M120.4,108.6L115.9,110.8M127.1,105.1L118.2,108.2M123.6,115.4L126.4,118.6M100.4,123.5L100.1,130.8M115,118.1L108.2,117.2M101.8,114.8L105.2,112.5M141.7,114.1L137,114.6M105.1,122.2L91.3,133.4M141.7,114.1L148,114.8M97.5,114.8L93.5,116.7M112.5,125L130.9,121.1M105.3,110.7L104.7,107M128.8,105.9L124.3,103M86,110.1L88.8,106.5M135.5,123.8L127,123.1M99.7,109.5L113.5,113.6M127.5,104.2L124.8,104.2M114.3,102.3L124,91.7M111.3,110.6L119.3,109.7M134.3,103L126.5,105.2M102.8,105L115.4,117.2M95.7,110.5L93.4,109.7M122.5,118.8L120.4,121.9M108.7,103.1L107.3,107.2M113.5,109.8L120.5,109.9M111.7,107.5L113.1,109.4M123.6,115.4L115.9,119.6M113.1,109.9L90.5,124.3M113.5,109.8L114.7,107.3M105.1,122.2L112.8,120.4M113.4,119.9L108.3,120.1M106.4,118.3L104.2,121.5M123.2,108.5L116.7,119.6M115.8,111.8L104.9,120.2M129.9,106.3L133.7,105.8M106.8,103.1L104.1,105.1M118.5,111L122.2,115M112.5,125L96,126.9M136.7,110.8L142.4,107M125.4,115.1L123.1,112.4M123.1,105L118.5,103.3M127.2,107.3L118.4,111.7M110.2,102.2L109.4,98.4M101.5,114.2L98.8,103.4M116.9,107.8L114,102.8M104.3,127.2L101.3,124M104.8,122.8L94.8,119.1M112.9,113.7L112.6,112" stroke="#4a9456" stroke-width="0.45" stroke-opacity="0.5"/>
<path class="fl" d="M101.8,114.8L103.7,113.6M118.5,111L134.1,109.2M125,96.9L117.2,93.7M128.4,109.9L143.7,95.8M104.3,127.2L111.2,128.9M99.7,92.6L94.8,102.4M91.8,135.3L87.9,150.1M111.8,109.4L93.5,113.4M128.8,105.9L133.8,113.5M107.9,119.9L115.5,98.9M104.5,101.6L99.2,106.5M101.6,113.7L102.6,118.2M97,100.6L100.8,102.9M123.4,112.1L120.8,114.8M119.7,113.8L118.1,116.4M106.3,108.9L111.1,99.2M108.5,122.5L109.7,114.4M134.3,103L111.9,93.4M118.8,111.6L124.3,113.5M95.4,97.4L102.2,91.2M122.5,96.6L125.3,93.1M128.2,113.4L140.9,129.4M114.8,126.5L117.6,122.6M105.1,122.2L87,120.2M110,118.3L109.7,115.8M128.8,105.9L124.2,104.6M109.7,116.4L110,120.6M118.9,105.7L114.9,107.8M115.4,119.6L116.4,113.9M123.2,108.5L115.1,110M113.7,120L117.7,118.2M105.9,104.1L117,102.5M148.8,113.9L147.3,111.8M114.7,98.2L130.4,106.2M117.3,117.9L118.9,119.8M122.3,123.9L136.9,130.7M112.5,125L107.1,127.6M136,117.5L133.2,120.1M124.3,108.6L110.9,98.8M129.8,121L118.7,124.4M102.7,125.5L86.9,140.5M118.2,101.7L99.3,105.7M118.9,105.7L116.1,106M126.5,105.5L118.1,105.4M123.1,113.1L131.8,112.5M111.3,110.6L118.2,103M128,123.9L120.5,124.6M118.9,105.7L98.4,116.2M123.4,112.1L121.3,115.3M103.8,117.2L109.1,116.2M111.7,105.1L108.3,107.1M105.9,104.1L106.2,96.3M109.5,120.1L100.2,115.1M116.2,103.3L138.3,111.9M95.7,110.5L96.6,112.3M124.1,116L122.4,104.6M113.2,117.3L110.8,118.6M135.5,123.8L137.4,128.9M106.4,118.3L106.7,111.2M107.9,119.9L102.9,114.1M105.1,122.2L107.9,120.2M113.8,110.8L112.3,107.9M126.5,105.5L133.7,108.8M117.2,104.5L114.4,101.7M108.1,102L115.8,107.9M113.5,109.8L119.3,106.8M108.7,103.1L104.5,111.3M129.8,121L124.4,126.2M122.3,123.9L104.4,119M111.4,108.2L113.1,99.5M115.8,108.2L114.6,113.7M108.6,116.6L99.1,122.9M106.8,113.3L114.2,114.5M98.5,106.5L109,110.9M122.3,123.9L115.7,119.2M114.6,112.2L122.9,99.9M118.9,125.5L107.3,132.6M120.7,103.1L118.3,102.3M113.1,109.9L119.1,109.6M109.6,111.2L101.3,118.3M113.2,117.3L116.6,118.6M107.1,107.5L116.5,115.2M108.1,102L101.2,102.3M134.3,103L126.2,98.1M130.1,108.8L123.7,97.5M111.3,110.6L114.7,110.1M122.3,123.9L129.5,119.6M114.6,112.2L119.1,111.4M128,123.9L122.6,130M126.3,106.1L127.8,113M116.9,129.6L128.3,131.1M97.3,123.4L75,127.6M105.9,104.1L99.1,107.3M148.8,113.9L160.3,114.5M105.9,104.1L107,108.2M123.8,115.6L124.7,121.3M96.6,113L106.1,121M119.2,99.4L115.3,102.6M107.1,107.5L117.2,100.5M115.6,134L114.5,138.8M115.6,134L132.7,138.7M116.2,123.1L106.7,120.7M86,110.1L87.3,108.5M143.4,120.1L151.6,118.6M124,123.6L119.6,127.8M132.9,124.3L118.1,121.1M111.7,107.5L93.9,116.1M127.1,105.1L126.7,102.3M115.8,108.2L140.4,102.5M108.7,103.1L120.3,102.8M124.5,111.7L119.7,105.9M117.1,109.4L128.3,112.5M120.7,103.1L110.3,95.7M113.2,117.3L122.3,132.7M108.1,102L117.1,112.1M128.4,109.9L133.9,108.8M116.5,120.2L124.1,119.4M88.6,115.7L81.3,122.8M131.7,116.1L120.1,114.6M106.8,103.1L120.7,100.4M117.3,117.9L112.8,119.8M132.9,124.3L129.1,121M80.6,102.4L77,100.2M136,117.5L129.5,123.4M124.1,116L121.7,118.7M120.4,108.6L122.3,109.8M108.7,103.1L98.3,104.8M127.7,134.2L123.7,122.4M139.5,109.8L141.6,108.8M139.5,109.8L138.8,112.4" stroke="#4a9456" stroke-width="0.45" stroke-opacity="0.5"/>
<path class="fl" d="M131.7,116.1L133.1,128.9M129.9,106.3L127.4,103.7M116,122.3L105.1,133.8M113.7,120L110.4,124M113.5,109.8L101.2,112.7M104.8,122.8L109.7,121.5M112.5,125L88.6,129.1M124,123.6L117.7,127.8M128.8,105.9L136.2,105.5M120.7,103.1L118.3,104M123.2,108.5L118.7,110.3M119.6,122.8L124.6,117.6M127.5,104.2L132,92.9M114.5,111.7L113.6,108.3M128,123.9L135.7,119.7M116.2,103.3L109.2,103.9M115.8,108.2L107.5,121.7M123.6,115.4L114.3,109.8M104.8,122.8L98.8,120.5M119.7,113.8L117.4,116.6M127.5,104.2L124,103.8M116.1,112.1L116.1,109.1M109.5,120.1L101.2,120.6M105.3,118.5L115.5,122.9M107,126.4L112.4,119.7M156.3,111.3L169.1,109.9M111.1,121.1L112.1,131M131.3,114.6L139.1,111M124,123.6L121,123.5M101.5,114.2L101.8,116.6M115.4,119.6L110.5,123.9M91.8,135.3L86.9,127.1M127.1,105.1L125.7,107.2M123.8,115.6L128.5,117.7M116.5,120.2L119.5,121.5M96,116.2L88.6,112M116.9,129.6L120.5,121.9M112.8,109.2L101.9,108.8M108.6,116.6L112.8,106.5M105.1,122.2L111.9,127.6M122.3,123.9L118.4,125.2M123.2,108.5L124.4,106.4M95.4,97.4L89.3,100.8M114.8,118.6L116.3,114.2M125.4,116.6L119.9,112.4M121.4,110.1L113.4,103.5M115.3,110.7L112.7,111.9M102.1,125.2L105.2,124.5M130.5,106.6L119.1,115.4M156.3,111.3L161.1,111.7M121,109L111.8,113.3M114.8,118.6L108.6,118.3M143.4,120.1L155.3,134.3M117.3,117.9L119.6,115.6M141.7,114.1L128.3,106.4M104.2,117L107.6,120M110,118.3L113.3,112.2M106.2,122.2L100.6,125.4M116.3,115L125.6,116M136,117.5L124.3,110.9M104.3,127.2L89.1,122.7M102.1,125.2L97,130.7M102.1,125.2L101.8,119.1M123.1,105L115.4,105.6M114.7,98.2L117.5,97.3M114.3,102.3L99.6,105.9M131.3,114.6L147.7,115.1M114.6,112.2L112.4,117.1M111.3,110.6L101.5,104.2M117.3,117.9L116.5,114.4M128.2,113.4L130.7,112.4M114.8,126.5L119.4,122.7M120.4,108.6L118.7,105M108.4,108.5L108.8,112.5M109,119.7L112.4,116.3M104.2,117L95.6,111.3M109.1,134.6L103.5,128.2M134.6,109.1L128.3,106.5M125.4,118.5L126.7,115.2M100.4,123.5L99.6,119.2M118.1,119.3L122.6,118.1M114.7,98.2L107.8,97M121,109L97.8,98.7M104.3,127.2L106.9,129.7M119.4,109.1L108,104.1M127.2,107.3L124.7,110M130.5,106.6L136.7,113.6M108.4,108.5L111.8,107.1M114.4,112.3L113.2,116.5M107,126.4L109.2,135.4M124.1,116L120,114.1M129.5,109.3L129.6,104.2M96,116.2L98.7,113.6M95.7,110.5L93.5,105.7M88.5,112.2L92,123.5M148.5,107.5L142.4,109.4M127.1,105.1L112.9,117.5M109.1,134.6L112.1,135.5M101.6,113.7L112.7,101.1M105.3,112.1L103.6,114.3M114.8,126.5L107.2,118.9M129.8,121L126.9,120.1M118.9,105.7L123.4,109M95.3,104.7L102.4,95.5M114.4,112.3L115.6,108.3M118.9,125.5L124.5,120.2M120.7,103.1L146.6,91.1M113.2,117.3L101.2,109.1M89,107.2L92.7,118.9M128.4,109.9L123.2,108.5M129.1,117.6L112.5,121M97.5,114.8L101.3,113.7M122,111.2L103.1,116.4M103.8,117.2L106,130.8M130.1,108.8L121.6,107.6M124.5,111.7L119.7,115.5M148.8,113.9L149.8,98.5M129.1,117.6L130.6,116.2M142.4,116.3L140.9,113.8M122,111.2L115.7,103.9M124,123.6L114.4,124.5M118.2,101.7L103.2,103.4M122.5,96.6L139.6,91M124,123.6L132.4,129.5M124.3,108.6L116.3,113.9M109.8,110.4L109.3,107.3M116.9,129.6L126.3,133M125.4,115.1L132.2,124.1M129.5,109.3L138.7,109.8M88.6,115.7L93.5,116.7" stroke="#4a9456" stroke-width="0.45" stroke-opacity="0.5"/>
<path class="fl" d="M66.6,96.7L116.4,116.5M66.6,96.7L119.7,118.1M66.6,96.7L116.6,101.6M66.6,96.7L111.1,110.3M66.6,96.7L116.3,98.6M66,115.5L116.2,94.3M66,115.5L115.7,97.6M66,115.5L120.3,93.7M66,115.5L114.7,117.1M66,115.5L114.9,112.8M66,115.5L114.2,132.8M66,115.5L114.2,120.9M66,115.5L115.9,110.5M93.2,72.2L105.9,104.8M93.2,72.2L96.6,113.2M93.2,72.2L103.1,110M93.2,72.2L109.2,108.6M93.2,72.2L127.5,105.7M93.2,72.2L111.5,116M101.7,75L128.1,101M101.7,75L121.3,108.8M101.7,75L110.7,108M101.7,75L132.3,104.3M101.7,75L137.1,101.2M101.7,75L103.6,105.6M114.9,71.6L103.4,104.9M114.9,71.6L101.3,109.7M114.9,71.6L95.5,106.7M114.9,71.6L106.4,111.5M114.9,71.6L110.9,109.4M114.9,71.6L129,106.7M122.3,70.4L103.3,99.3M122.3,70.4L99.2,102.3M122.3,70.4L121.1,105.2M122.3,70.4L130.5,122.3M122.3,70.4L113.1,115.5M122.3,70.4L111.3,113.6M122.3,70.4L104.4,116.7M122.3,70.4L111.1,111.2M122.3,70.4L120.3,116.4M142.8,68.3L128.5,114.6M142.8,68.3L120.1,114.8M142.8,68.3L119.6,125.4M142.8,68.3L125.4,123.5M142.8,68.3L122.7,126.9M142.8,68.3L114.7,118M148.4,83.1L104.2,96.8M148.4,83.1L107.3,107.7M148.4,83.1L101.3,98.1M148.4,83.1L124.4,109.7M148.4,83.1L115.7,103.6M148.4,83.1L118.4,110.8M148.4,83.1L107.7,104.9M148.4,83.1L104,98.1M163.4,112.9L112.6,109.2M163.4,112.9L112.4,111.8M163.4,112.9L125.5,138.8M163.4,112.9L112.7,110.5M163.4,112.9L114.7,118.3M151.7,145.7L117.9,119.5M151.7,145.7L141.9,105.6M151.7,145.7L133.6,110.6M151.7,145.7L120.5,122.5M151.7,145.7L105.6,122.2M151.7,145.7L114.1,111M151.7,145.7L111,115.1M151.7,145.7L104.5,120.5M140,156.1L126.5,100.4M140,156.1L114.1,110.8M140,156.1L113.4,109.4M140,156.1L129.8,101.6" stroke="#4a9456" stroke-width="0.45" stroke-opacity="0.5"/>
<path class="fl" d="M140,156.1L141,108.5M140,156.1L122.6,124.8M140,156.1L144.3,111.3M140,156.1L121.2,124.4M140,156.1L111.1,114.1M140,156.1L101.8,115.9M117.1,155.7L118.5,123.6M117.1,155.7L117.3,123.2M117.1,155.7L112.7,125.9M117.1,155.7L127.9,114.1M117.1,155.7L128.9,112.7M117.1,155.7L123.3,113.5M117.1,155.7L114.6,113.6M111.3,150.5L103.3,111.9M111.3,150.5L111.6,111.6M111.3,150.5L118.3,121.1M111.3,150.5L111.6,122.1M111.3,150.5L124.2,123.1M111.3,150.5L124.6,120.8M111.3,150.5L102,112.1M111.3,150.5L109.6,112.8M93.4,140L126.1,121.2M93.4,140L124.2,120M93.4,140L118.7,108.8M93.4,140L118.6,120.4M93.4,140L128.4,122.4M93.4,140L121.6,119M93.4,140L114.7,115.2M93.4,140L112,114M93.4,140L110.6,115.3M93.4,140L122.4,111.2M93.4,140L106.2,101.4M130.5,76.2L122.8,114.9M130.5,76.2L124.2,116.1M130.5,76.2L126.9,112M130.5,76.2L108.7,109.7M130.5,76.2L115.8,108.3M130.5,76.2L104.7,107.8M130.5,76.2L102.9,105.9M130.5,76.2L118.8,108.9M155.1,97.6L114.8,116.6M155.1,97.6L122.8,107.2M155.1,97.6L125.1,116.7M158.9,127.7L128.6,118.1M158.9,127.7L121,130.7M158.9,127.7L120,111.9M158.9,127.7L121.2,117.2M158.9,127.7L129.6,115.7M158.9,127.7L125.4,124.3M158.9,127.7L125.1,113.6M127,160.6L103.1,115.7M127,160.6L119.6,109.5M127,160.6L125.6,115.1M127,160.6L125.3,121.4M127,160.6L134.8,116.1M100.8,128.9L115.9,116.7M100.8,128.9L115,108M100.8,128.9L110.7,110.9M100.8,128.9L107.9,103M84.4,107.4L114.9,104.4M84.4,107.4L112.5,109.6M84.4,107.4L115.9,104.5M84.4,107.4L118,118.5M84.4,107.4L110.7,121.5M84.4,107.4L120.4,109.5M84.4,107.4L119,101.4M82.8,91L116,115.8M82.8,91L108,124.9M82.8,91L117.5,93.3M82.8,91L118.3,91" stroke="#4a9456" stroke-width="0.45" stroke-opacity="0.5"/>
<ellipse cx="116.5" cy="113.7" rx="14.9" ry="8.5" fill="#b0d496" fill-opacity="0.12"/>
<path class="fl" d="M123.3,108.1L131.9,105.4M125.2,105.3L113.3,99.2M96.2,130.9L96.2,135M106.8,112.3L115.7,113.6M103.6,104.3L107,102.5M122.5,109.9L124.2,108.4M130.4,115.9L126.7,116.9M117.2,109.4L112.8,112M107.1,114L113.7,116.9M116.7,107.3L122.4,102.3M104.6,116.4L100.8,116.9M115.8,107.1L109.9,107.9M114.5,106.7L117.1,111M129.3,104.4L128.9,106.4M111.1,114.6L102.1,107.5M107.7,109.8L106.1,111.1M108.7,109.8L115.6,111.4M132.1,104.1L143.2,106.5M112.2,126.7L114.2,127.3M93.9,116.6L100.7,118.4M106.5,117L108.5,117.1M98,114.7L96.7,115.8M103,125.2L99.2,124.8M114.3,110.3L110.6,105.8M130.6,97.9L129,98.6M107.5,116.3L107.7,118.4M124.8,121.2L124.9,125.1M104.3,105L99.3,107.6M143,122.5L142.2,123.9M122.4,122.6L110.1,125.4M120.5,116.8L124.8,119.9M124,116.3L119.6,119.2M107.6,110.7L111.7,105.5M124.5,118L121,122.9M135.2,119.9L139.1,116.3M114.5,105.9L115.8,104.9M132.3,112.8L129,109.3M101.8,120.1L99.4,118.1M90.9,108.2L91.6,106.9M111.9,116.6L110.4,113.3M113.9,108.6L119.9,112.9M102.2,112.2L111.7,113.6M103.5,99.6L93.9,99.3M81,113.6L79.1,112.2M121.4,101.6L124.6,109M110.4,109.1L106.1,108.7M130,99.4L130.6,96.8M127.1,113.6L121,115.3M117.1,99.3L123.6,100.9M114.9,127.3L116.4,129.3M122.4,112.6L113.2,112.8M110.2,119.6L108,116.9M112.8,122.6L107.2,117.3M103.6,132.4L100.2,131.1M135.7,121.7L139,121.3M136,118.4L133.8,117.4M110.8,125.5L103.6,118.6M129,99L125.4,98.1M129.1,124.3L129.4,120.7M118.2,116.9L124.3,113M126,117.6L124.1,122.5M109.2,104.4L109.2,106M128.5,108.7L131.6,106.7M127,114.7L123.5,114.9M133.5,111.5L137.7,108.3M130.2,104L135.5,101.5M122.7,112.1L122.4,108.1M94,116.4L88.4,116.2M138.9,114.9L140.8,105.6M119,109.7L103.8,111.8M117.1,117.3L119.4,118.9M124.1,109.7L135.7,110.4M106.4,117.9L105.8,120M90.9,117L98.3,116.6M135.2,126L148,122.2M103.5,113.6L106.7,112.2M110.1,114.4L113.4,117.7M107.3,119.9L98.9,115.8M103.2,114.1L100.4,114.1M124.5,104.7L125.6,107.7M124.6,113.2L111.8,108.3M105.7,108.6L91.3,107.8M128.1,110.4L122.4,112.6M116.7,97.5L112.6,97.4M122.1,106.7L127.4,103.1M92.8,104.6L96.4,108.7M99.2,114.3L106.9,116.5M125,118.3L124.6,122.6M115.6,115.6L109.6,112.8M126.1,108.8L123.8,109.9M99.3,109.8L96.4,109.8M125.4,122.6L114.3,116.5M95.4,112.9L96.2,116.1M121,107L122.6,107.8M130.5,123.5L134.4,123M115.3,106.8L118.8,108.5M123.9,108.7L121.1,113M92.5,109.4L93.7,104.4M109.2,101.9L100.5,103.9M119.1,120.8L132.8,121.8M119.9,113.1L111.2,108.1M111.2,109.9L118.3,118.9M123.8,118.3L120.5,121.3M104.2,115.5L103.1,116.7M142.8,112.4L154.6,113.1M99.1,117.5L99.7,121M119.1,120.6L116.5,123.2M120.6,116.6L115.5,118.1M81.7,118L85.4,114.6M111.5,116.3L96.5,117.6M118.9,111.5L116.5,104.2M120,105L122.3,108M100.2,121.6L100.1,122.8M114.4,125.8L122.9,124.3M135.3,116.2L137.3,115.9M114.1,110.4L122,108.7M112.2,114.7L105.7,118.3M118.6,112.3L120,108.2M124,118.6L124.4,116.1M123.8,117.5L120.3,119.7M114.1,96.5L116.2,96.5M106.3,122.6L98.8,123.6M151,104.7L156,99.9M104,114.9L101.2,116M116.7,130.9L126.2,127.8M137.5,113L116.7,113.1M132.2,110.2L136.5,108.8M111.9,110.7L117.8,104.5M129.6,117.2L133.2,120.5M118.5,115L111,113.3M121.3,114.9L113.3,114M129.1,117.9L124.9,119.7M117.9,115.7L110.9,117.1M121.2,109L123.3,115.3M98,122.1L100,123.1M131.6,111.8L124.6,114.7M97.4,116.2L93.6,115.8M134,119.1L125.6,121.8M120.7,102.7L135.1,106M111,107.7L106.7,112.4M101.5,109.4L102.5,104.9M116.8,116.9L113.4,115.2M96.8,118.3L103.8,127.7M138,123.7L130.1,124.3M98.5,120.7L93.6,123.5M120.8,120L118.6,120.9M113.5,114.7L117.7,109.1M104,124.6L104.5,128.2M93,120L89.3,117.2M111.5,117.3L113.8,119.3M105.4,112.1L106.2,115.9M124.4,125.4L127.9,121.4M126.7,109.2L126.9,110.4M96,112.6L91,108.8M123.3,111.8L120,111.7M126.2,107.4L129.6,103.5M123.9,116.7L123.4,113M99,117.1L105.6,119.3M107.4,123.7L107.5,121.3M120.2,121.1L134,124.4M99.9,123.8L98.3,117.2M106.9,109.4L115.7,114.2M135.5,106.8L137.8,105M109.9,116.4L115.6,118.9M105,120.3L112.7,119.9M140.7,98L140.1,100M126.5,115.8L119.6,110.9M115.9,108.5L111.5,110.7M126.4,116.8L122.8,121.4M114,114.7L109.4,116.3M114.5,120.9L115,116.4M129.6,106.1L131.9,107.9M91.3,118.9L85.9,115.4M119.2,117.6L124.9,117.4" stroke="#b0d496" stroke-width="0.42" stroke-opacity="0.7"/>
<path class="fl" d="M121.4,104.7L121.1,106.5M125.1,101.5L131.7,103.6M111.9,124.3L109.4,125.9M100.2,105.1L110.5,109.3M118.8,104L116.6,102.2M103.7,104.4L109.1,103M104.6,107L95.1,103.4M110.6,108.7L111.8,101.6M125.6,109.1L111.1,105.7M112.3,112.8L116.4,108.3M99,109L87.9,114.7M111.3,123.1L108.8,122M116.2,105.8L121.9,105.1M118.9,116L121.4,113.8M118.7,117L131.6,125.4M123.6,105.5L129.3,104.3M90.7,111.5L88.5,111.9M100.4,116.3L101.1,123.4M103.6,113.7L99.4,118.3M133.7,110.4L146.3,107.7M136.4,126.1L147.8,125.7M115.2,119.4L117.5,118.8M119.2,104.5L119.3,106M114.1,120L110.3,114.2M118.1,123.3L123.1,122.8M128.1,123.4L122.4,125.8M106.2,118.1L105,108.7M115.3,103.5L126.9,100.2M117.3,110.5L111,106M119.7,114.9L107.8,113.2M109.7,114.6L104.5,115.6M114.4,100.8L111.2,104.3M110.4,123.9L102.3,128.8M114.4,118.1L106,121.5M126.5,112.6L131.3,105.7M121.1,111.7L112.9,110.6M112.8,120.7L111.4,123.7M125.7,109.3L132.7,106.3M112.4,111.9L120.7,116.6M122.1,107.7L119.5,106.9M101.2,119.4L100.5,121.5M139.8,113.3L130.3,109.7M125.3,109.5L125.1,115.5M100.6,107.4L99.7,105.8M110.3,112.9L103.5,107M121.2,114.1L125.8,116.7M121.4,119.8L122.5,117.2M117.6,104.4L124.4,104.6M109.5,118.6L109.1,115.9M115.5,109.6L107.6,110.9M95.3,121.2L90,122.1M126.6,107.2L127,113.4M117.2,115.9L120.2,112.8M118.5,110L119.5,108.2M116.7,108.5L121.5,109.2M116.1,119.1L116.2,117.7M119.4,118L114.6,116.1M124.9,98.2L118.8,98.5M131.1,118L130.9,121.5M123.7,110.2L115.2,103.6M118.9,103L108,102.7M112.2,117.6L125.3,112.1M116.8,116.5L119.3,116M91.5,113.2L90.9,110.6M106.7,128.4L112.2,127.1M118.3,113.6L130.5,111.4M117.6,118.5L118.4,126.2M102.5,116.3L103.4,113.5M101.5,107.5L111.2,108.4M126.2,117.7L130.5,119.1M104.8,116.7L110.1,118.1M125.6,123L137.2,114M89.4,107.3L89.4,108.5M130.6,110.5L125.8,109.1M99.3,113.3L95,112.5M121.4,106L123.5,105.8M119.7,113.1L120.5,114.4M123.4,119.3L125.1,122.5M128.4,125.2L118.6,119M113.6,106.3L115.6,107M112.1,118.9L112.1,121.7M114.3,104.5L115.5,106.9M110,115.3L117.4,118.4M125.2,111.2L123.7,104.6M129.5,124.7L132.1,123.3M102.3,112.9L106.6,107.6M123.7,119.1L123.2,117.4M131.8,108.8L138.2,104.2M102.8,124.2L100.8,128.5M128.4,113.2L132.2,109.9M94.6,108.2L93.1,110.6M105.4,112.8L100.4,108.5M108.9,105.2L109.9,110M94.4,123L97.2,120.1M111.6,112.3L113,109.1M98.8,115L91.9,116.5M125.6,115.4L135.3,114.2M123.5,120.2L123.1,118.3M121.8,114.2L123.2,115.7M102.6,114.2L102.2,109.2M131.2,100.9L138.2,108.3M126.1,114.4L128.8,117.6M104.9,112.5L100,115.7M105.1,108.3L107.5,107.4M96.5,108.8L101.3,103.4M109.6,111.9L109.7,113.1M123.2,121L126.1,121.8M101.4,114.5L109,116.5M115.9,112.9L114.5,110.5M104.1,110.5L126.7,114.5M82.5,105.5L62.2,104.5M122.3,109.5L120.1,105.7M115.7,117.2L112.1,116.1M117.8,113L120.7,112.8M134.6,127.2L127.2,125.3M117.7,119.2L115.1,113.5M117.6,114.7L116.2,120.8M103.5,92.1L102.1,95.7M102.3,110L110,109.8M111.6,109.1L113.5,107.1M115.9,116.2L112.7,119.1M120.2,110.2L117.8,111.2M112.1,105.2L109.1,102.6M108.9,111.7L99.7,109.2M122.4,109.7L119.1,112.8M110,117L105.1,120M111.2,112.6L112.6,113.8M128.3,103.4L128.1,105M100,114.3L94,114.2M129.6,105.3L126.8,100.6M98.3,113.4L108.4,120.9M120.7,113.4L119.8,112M106.4,116.7L110,118.2M117.3,115.8L107.6,111.2M137.7,111L138.3,108.6M114.5,122.9L116.7,123.6M111.4,103.4L122.7,103.4M101.3,104.2L91.7,105.3M103.5,116.8L99.1,111.8M126.1,116.7L124.3,114.2M115.6,122.7L130,121.2M114.3,117.5L100,122.2M125.1,103.4L128.2,104.3M118.6,117.7L129.4,107.7M105.8,101.8L101.7,101.7M104.1,119.7L100.9,118.9M103.5,97.8L99.2,94.7M115.6,117.2L124.3,110.6M128.1,120L123.6,116.7M122.2,118.5L129.9,116.9M113.4,118.1L120.3,123.3M125.2,105.6L124,111M118.8,109L124.3,100.4M128.4,114.2L128.2,115.6M118.5,115.6L115.7,116.8M120.3,102.5L128.1,99.1M96.9,116.4L97.8,117.7M128.4,104.6L138.4,113.1M118.9,113.9L116.9,112.4M108.8,118.2L113.6,118.5M124.9,112.7L129.7,111.6M116.1,132.1L110.6,131.8M102.9,109.5L105,105.9M140.5,118.2L142.2,115.8M126.9,110.3L118.8,107.9M137,110.9L133.5,110.7M105.7,119.8L114,119.2M121,113.6L122.1,116.7M100.7,126.1L98.7,126.9M126.5,104.8L123.6,105.1M135.4,122.3L138.7,123.9M106.5,119.2L112.9,131.4M121,101.2L126.1,103.5M128.5,111.8L125.2,115" stroke="#b0d496" stroke-width="0.42" stroke-opacity="0.7"/>
<path class="fl" d="M107.9,115.6L113,117.1M132.5,114.2L136.2,116M106.2,104.8L108.7,98M109,116.9L111.6,118.3M104.6,111.4L116.3,111.4M121.2,115.5L121,114.1M122,113.2L127.6,116.5M137.6,110.7L139.7,111M122.7,116.5L128,115.2M128.3,108L133.6,105.5M111.6,111.3L114.2,109.7M127.4,109.5L137.6,109.7M112,105.6L104.7,103.8M126.4,109.6L127.3,106M128.5,119.5L120.3,116M114.2,93.4L111.8,89.3M122.9,105.5L125,106.4M118.6,110.7L117.1,114.8M123.4,123.1L117.1,123.3M123.3,113L136.1,118M122.8,111.4L115.3,112.2M129.9,112.4L127.5,115.9M79.5,124.5L73.3,123.2M116.6,126.7L112.2,127.8M131.8,115.3L136.7,119.5M110.1,112.3L116.8,109.8M135.3,104.4L138.5,108.6M107.3,110.7L110.6,109.9M105.8,112.9L99.6,112.2M120.9,114L126.2,115.4M129,100.8L123.7,96.1M112.3,118.2L104.4,118.4M111.3,126.1L121,125.4M135.1,127.8L139.5,127.5M99.4,110.4L94.7,113.9M129.9,121L124.6,129.9M103.6,105.4L105.6,105M113.9,119.2L116.4,117.4M123,114.2L128.7,118.5M104.3,109.8L108.5,111.4M125,98.4L124.2,96.6M111.1,115.7L110.5,117.1M115.3,104.1L117.5,105.8M131.3,118.3L117.5,119.9M134.4,124.2L140,127.7M118.7,114.1L116.3,116.4M121.6,120.6L123.7,123.4M102.2,136L101.5,137.8M118.3,107.5L117.4,102.6M113.1,115.9L116.7,121M116.3,116.7L126.4,115.5M119.9,117.3L125.5,120M120,111.3L124.9,117.4M123.7,124.9L128.2,129.8M109,122.2L106.5,118M130.6,116.5L136.1,117.5M117.4,109.4L119.8,112.1M132.7,118.6L127.8,119.9M112,114.8L112.9,112.8M111.2,117L109.1,112.8M114,113.4L116.8,111.9M121.8,105.2L120.1,104.1M117,122.8L108.1,123.6M115.2,106.4L117.1,108.1M122.1,110.8L130.7,113M122.6,107.2L126.1,109.7M112.5,118L111.8,119.9M100.7,117.9L99.5,116.7M119.9,123L111.2,129.7M111.3,129L108.6,125M91,110.8L97.5,111M109.3,114.7L99.4,122.6M124.2,95.5L123.6,93.5M137,121L139.4,119.6M124.9,108.5L137.6,108M116.2,105L122.6,109.3M119.7,104.1L112.7,106.2M114.4,123.3L110.7,118.4M111.4,118.2L116.3,116.1M115.3,111.2L114.6,115.1M112.7,112.1L117.7,106.9M111.5,129.3L111,133.6M128.9,116.8L122,118.6M114.1,105.6L107.6,102.4M120.8,129.4L119.1,131.8M93.2,108.2L87,109M123.6,114.6L117.2,114.2M118.1,121.5L110.8,121.3M122.8,109.1L128.6,107.4M120.3,126.4L110.7,128.7M123.1,108.7L116.4,101.4M128.8,121.1L133.1,118.2M110.5,105.5L113.9,111.2M102.9,123.3L99.3,119.4M105.4,103L108.6,102.9M124.4,115.8L121.3,116M102.4,117.5L102,110.7M106,100.1L106.6,102.7M94.3,116.4L102.7,122.9M126.8,113.1L133.2,112.5M105.8,124L108.7,119.7M126.3,117L126.6,112.8M121.5,115.3L119.3,114.5M101.2,109.1L94,105.7M112.3,108.7L111.1,110.3M116.4,110.6L121.2,107.7M126.1,108.3L128.6,111.1M113,125.9L113.4,127.9M122.9,120.5L125.8,129.9M125.3,119.9L124.9,117.7M110.5,107.1L106.8,105.4M131.5,119.5L131.9,123.9M112.3,120.6L114.2,117.8M129,107.8L130.9,107.6M125.9,124.3L111.5,118.3M102.6,98.5L104.2,101M108.2,116.1L111.2,114.4M117.3,120.4L118.1,114.4M111.6,109L105.4,109.3M145.2,113.8L140.2,117.9M100.2,109.5L113.7,110.3M140.3,112.6L145.1,116.1M117.2,112.1L122.6,108.8M111.7,112.4L104.8,113.4M128.5,108.1L128.1,109.9M129.5,97.2L121.3,97.1M97.1,112.5L87.6,111.4M111.7,112.9L112.9,109.2M124.9,107.8L125.9,109.3M126.1,99.2L129.4,102.6M125.7,121.6L127.5,122.8M106.4,118.7L105,117.2M136.6,118.7L130.4,116.8M112.3,122.2L108.4,125.2M108.5,123.9L106.1,127.8M134,98.1L137.2,92.1M130.4,108L116.1,110.1M142.6,106.4L149.2,105.4M118.6,112.9L117.7,114.5M121,121.1L114.8,126.5M139.5,110.3L145.1,105.4M135.3,106.1L130.7,102.3M126.9,109.6L131.7,114.4M109.9,118.8L105.8,122.8M113.1,121.8L109,118.3M147.4,114.5L152,118.5M88.3,112.4L88.3,109.8M129.1,105.9L121.7,102.2M103,114.4L114.8,112.5M112,108.7L110.2,112.4M125.2,107.6L120.3,108.5M132.6,111L138.9,108.4M128.2,115.3L133,111.3M101.8,113.5L101,114.9M131.5,130L136.7,127.7M114.8,114.9L117,115.2M126.1,125.8L119.9,127.5M114.8,103.6L114.4,99.9M120.6,115.6L116.3,118.8M106,112.4L113.9,110.8M123.1,109.2L125.8,111.7M117.2,123.1L116.5,125.6M130.6,112.5L140.1,108.6M91.7,102.4L85.7,105.6M130.7,111.1L127,112.3M125.6,123.6L126.7,126.9M110,115.4L103,115.3M109.9,110.5L118.8,113.1M129.6,119.4L141.7,118.3M100.5,120.5L92.3,125.4M118.6,111.7L121.4,110.2M115.3,113.6L111.7,112.2" stroke="#b0d496" stroke-width="0.42" stroke-opacity="0.7"/>
<path class="fl" d="M125.9,119.4L125.4,115M99.4,119.1L93.6,119.2M96.5,117.2L90.1,118.2M136.6,114.1L141,118.9M120.8,106.2L127.1,104.4M125.6,104.6L126.1,101.5M128.2,124.6L124.5,122.1M123,106L130.7,105.3M117,113.2L120.6,117.2M122.5,113.8L117.8,114.8M107.5,116.9L111,115.1M112.9,109.5L114.9,111.7M123.9,115.5L124.3,113.5M109.6,102.7L111.2,104M134.1,113L134.7,108.7M92.2,104L95.1,102.6M114.6,110.2L119.6,109.9M122,135L121.3,132.4M116.1,106.3L110,108.6M110,114.3L109.9,111.2M106.9,106.6L103.6,101.1M122.3,119.9L126.1,115M131.7,125.3L127.8,125.4M120.1,109.3L115.9,105.9M103.5,116.2L101.4,114.3M127,117.6L131.9,115.4M106.3,113.1L107.7,114.5M119.5,115.8L117.8,119.5M112.3,120.3L115.2,126.1M110.7,108.5L107.8,111.1M107,114.3L112.3,112.4M102.8,114.1L98.8,117.2M102.6,118.1L99.2,118.5M110.9,105.6L107.9,107M115.4,111.1L122.3,109.8M110.6,115.4L111.7,109.4M127.4,116.6L126.8,112.7M121.7,116.4L125.6,111.5M113.4,122.7L110.8,124.2M124.8,115.9L127.2,115.3M115.8,113.7L111.3,112.3M121,112.7L116.9,109.4M110.6,107.4L107.3,108.9M119.3,115.7L126.4,113.4M113.5,106.6L110.9,110.7M120,118.4L114.2,119.3" stroke="#f0f2c4" stroke-width="0.6" stroke-opacity="0.85"/>
<g fill="#f0f2c4" fill-opacity="0.8"><circle cx="66.6" cy="96.7" r="0.5"/><circle cx="66" cy="115.5" r="0.5"/><circle cx="65.5" cy="136" r="0.5"/><circle cx="75.5" cy="151.6" r="0.5"/><circle cx="93.2" cy="72.2" r="0.5"/><circle cx="101.7" cy="75" r="0.5"/><circle cx="114.9" cy="71.6" r="0.5"/><circle cx="122.3" cy="70.4" r="0.5"/><circle cx="142.8" cy="68.3" r="0.5"/><circle cx="148.4" cy="83.1" r="0.5"/><circle cx="163.4" cy="112.9" r="0.5"/><circle cx="151.7" cy="145.7" r="0.5"/><circle cx="140" cy="156.1" r="0.5"/><circle cx="117.1" cy="155.7" r="0.5"/><circle cx="111.3" cy="150.5" r="0.5"/><circle cx="93.4" cy="140" r="0.5"/><circle cx="130.5" cy="76.2" r="0.5"/><circle cx="155.1" cy="97.6" r="0.5"/><circle cx="158.9" cy="127.7" r="0.5"/><circle cx="127" cy="160.6" r="0.5"/><circle cx="100.8" cy="128.9" r="0.5"/><circle cx="84.4" cy="107.4" r="0.5"/><circle cx="82.8" cy="91" r="0.5"/></g>
<path class="fl" d="M74.4,50.2L91,49.3" stroke="#cfe6a0" stroke-width="0.7" stroke-opacity="1" stroke-linejoin="round"/>
<path class="fl" d="M93.9,73L102.4,74.5L96.5,86L106,79" stroke="#f0f0b8" stroke-width="0.9" stroke-opacity="1" stroke-linejoin="round"/>
<path class="fl" d="M39,157L74.4,152L92.7,140L108,136" stroke="#e4eea8" stroke-width="0.9" stroke-opacity="1" stroke-linejoin="round"/>
<path class="fl" d="M66.6,135L74.4,152L74.6,160" stroke="#d8e8a0" stroke-width="0.8" stroke-opacity="1" stroke-linejoin="round"/>
<path class="fl" d="M74.4,152L86,158" stroke="#d8e8a0" stroke-width="0.7" stroke-opacity="1" stroke-linejoin="round"/>
<path class="fl" d="M107,111L125,117" stroke="#f6f6c8" stroke-width="1.1" stroke-opacity="1" stroke-linejoin="round"/>
<circle cx="74.4" cy="152" r="1.6" fill="#f4f4c4"/>
<path class="fl" d="M88,140L112,147M88.8,141L113,148.6M89.6,142L114,150.2M90.4,140L115,151.8M91.2,141L112,153.4M92,142L113,155M92.8,140L114,156.6M93.6,141L115,158.2M94.4,142L112,159.8" stroke="#a8d8c4" stroke-width="0.5" stroke-opacity="0.7"/>
<path class="fl" d="M91,49.3L108,62L122,68" stroke="#a8d8c4" stroke-width="0.4" stroke-opacity="0.8" stroke-linejoin="round"/>
</g>
<path d="M53.5,23.2V26.2H90V23.2" fill="none" stroke="#5a5a5a" stroke-width="0.9"/>
<text class="sb" x="53.8" y="19.2" text-anchor="middle">0</text>
<text class="sb" x="79" y="19.2">50 km</text>
<g transform="translate(262.9,0)">
<use href="#ol" fill="#050707"/>
<path class="fl" d="M113.3,117.2L99.9,121.3L86.2,124.7M112.8,115.2L106.8,114.9L100.8,114.7M113.8,110L109.4,107.6L106.9,103.4M126.6,119.6L138.4,121.5L146.2,130.9M129.2,114.5L140.4,114.5L151.4,112.3M120.7,117.1L128.1,123L131.4,131.9M120.9,118.8L122.7,122.4L124.1,126M111.4,118.4L101.9,120.5L93.3,124.8M112.2,115.5L103.3,117.1L94.1,115.5" stroke="#2f7a42" stroke-width="0.55" stroke-opacity="0.8"/>
<path class="fl" d="M129.5,115.4L142.6,117.4L155.9,115M118,118.7L117.4,125.2L112.2,130.5M120,110.8L120.3,98.9L122.8,87M128,113.4L131.2,110.9L135.7,111.6M124.4,112.7L136.3,104.8L149.4,98.5M125.8,118.3L138,121.4L148.3,128.3M123.5,117.7L134.5,126.4L148.4,131.4M122.4,117.9L127.4,119.6L130,124.1M120.5,112.6L123.1,103.7L126.4,95.1" stroke="#5aa862" stroke-width="0.55" stroke-opacity="0.8"/>
<path class="fl" d="M66.7,135.1L83.8,124.1L97.2,124.1" stroke="#5aa862" stroke-width="0.7" stroke-opacity="0.8" stroke-linejoin="round"/>
<path class="fl" d="M122.8,71.7L125.3,91.2L121.6,103.4" stroke="#5aa862" stroke-width="0.6" stroke-opacity="0.8" stroke-linejoin="round"/>
<path class="fl" d="M132.6,76.6L149.7,63.2L178.9,49.8" stroke="#2f7a42" stroke-width="0.6" stroke-opacity="0.8" stroke-linejoin="round"/>
<path class="fl" d="M113.1,137.6L114.3,157.1L125.3,159.5L136.2,174.1" stroke="#5aa862" stroke-width="0.6" stroke-opacity="0.8" stroke-linejoin="round"/>
<path class="fl" d="M132.6,130.2L161.9,132.7L178.9,133.9" stroke="#5aa862" stroke-width="0.6" stroke-opacity="0.8" stroke-linejoin="round"/>
<path class="fl" d="M66.7,97.3L78.9,101L91.1,110.7" stroke="#2f7a42" stroke-width="0.6" stroke-opacity="0.8" stroke-linejoin="round"/>
<path class="fl" d="M135,120.5L154.5,137.6L174,166.8" stroke="#2f7a42" stroke-width="0.6" stroke-opacity="0.8" stroke-linejoin="round"/>
<path class="fl" d="M142.3,105.9L159.4,98.5L181.4,85.1" stroke="#2f7a42" stroke-width="0.6" stroke-opacity="0.8" stroke-linejoin="round"/>
<path class="fl" d="M91.1,49.8L100.9,69.3" stroke="#2f7a42" stroke-width="0.5" stroke-opacity="0.8" stroke-linejoin="round"/>
<path class="fl" d="M74,64.4L78.9,83.9L83.8,98.5" stroke="#2f7a42" stroke-width="0.5" stroke-opacity="0.8" stroke-linejoin="round"/>
<path class="fl" d="M130.1,88.8L136.2,92.4L144.8,105.9" stroke="#5aa862" stroke-width="0.6" stroke-opacity="0.8" stroke-linejoin="round"/>
<path class="fl" d="M122.8,120.5L144.8,125.4L159.4,135.1" stroke="#5aa862" stroke-width="0.6" stroke-opacity="0.8" stroke-linejoin="round"/>
<path class="fl" d="M119.7,115.8L120.3,118.7M116.3,116.9L113.4,119.8M121.4,115.2L125,116M115.1,118.2L108.4,120.4M123.3,117.7L130.9,120.8M119.3,115.7L118.6,118.2M123.3,117.4L127.2,120.5M117.1,116.1L111.3,115.1M116.9,114.4L107.7,113.3M120.8,113.1L121.5,109.7M119.2,112.1L122.6,103.7M118.2,114.7L115.8,113.2M124.3,116.5L127.9,118.2M120,114.7L122.3,111M119.7,115.8L124.1,120.6M121,113.9L123.9,110.8M119.8,115.4L123.9,111.6M120.6,115.9L125.6,116.1M115.5,114L109,106.6M116.9,112.3L114.3,106.1M120.3,116.3L122.4,123.6M119.8,115.4L125.1,110.8M118.8,115.6L116.4,114.6M113.8,114.1L105.8,109.5M119.2,112.7L120.8,108.2M114.9,106.9L114.8,97.9M116.5,116.9L110.2,119.9M109.7,122.7L104.2,126.9" stroke="#5aa862" stroke-width="0.6" stroke-opacity="0.85"/>
<path class="fl" d="M131.7,120.9L136.7,126.9M106.7,124.1L100.8,127.1M118.1,115.9L115.9,116.2M117.5,114.3L114.4,112.1M116.5,108.3L116.9,104.3M119.7,115.5L127,114.6M121.6,121L122.4,126.5M129.7,108.9L134.5,103.4M123.1,124.1L122.3,133.1M115.6,118.3L112,121M128.1,123.4L130.8,130.6M119.8,115.4L122.7,113.7M118.8,115.7L112.3,118.4M114.8,115.6L106.3,117.6M122.1,115.3L129.6,110.3M120.3,115.7L126.1,118.6M119.4,115.8L119.3,121.4M120.8,115.7L124.2,117.5M125.4,121.2L130.1,126.4M117.9,113.6L115.2,104.4M118.5,113.7L117.1,112.2M112.2,116.5L108.8,116.4M118.7,120.3L117.6,127.1M119.8,108.5L119.3,100.2M130.8,109.4L133.7,108.4M111.5,117.4L102.4,119M110.3,122.7L101.8,127.1M113.7,116.6L110.1,116.9" stroke="#5aa862" stroke-width="0.6" stroke-opacity="0.85"/>
<path class="fl" d="M118.8,112.3L118.9,108.6M126.7,111.3L136.5,109.8M118,115.2L110.9,109.9M116.1,119.3L115,124.7M118.6,115.3L110.3,116.6M126.8,118L129.3,120.2M119,116.1L117.9,122.1M118.9,112.6L120.2,105.2M135.3,111L138,108.4M118.7,115.4L110.9,115.7M111.1,107.5L108.4,103.9M118.1,116.5L109.6,120.1M122.3,123.8L123.8,130.2M123.9,126.6L125.5,132.4M105.4,106.7L101.3,103.5M120.5,113.1L122.7,107.6M116.7,109.7L112.4,101M122.6,114.2L126.9,110.4M127.6,122.1L129.7,127.5M117.4,119.2L116.6,126.1M126.8,112.5L128.9,109.6M120.7,122.4L120.5,126.9M118,117L115.7,118.9M117.3,115.4L113.8,116M113.5,114.6L107.3,113.9M120.9,117.2L126.2,121.8M111,107.4L106.1,100.1M119.8,117.5L118.7,125.9" stroke="#a8d48e" stroke-width="0.6" stroke-opacity="0.9"/>
<path class="fl" d="M121.5,114.4L125.1,113.7M125,115.5L127.8,116.6M119.6,116.1L123.5,123.8M114.9,117.5L111.9,118.1M119.1,115.7L114.5,121.6M120.5,115L123.4,114.7M119.1,115.5L115.7,114.7M126.8,118.3L129.1,118.4M111.1,113.2L107.6,113.3M119.7,116.1L119.2,126M121.3,114.8L127,114.7M119.6,114.4L119.2,108.7M111.1,114.9L104.1,117.8M121.7,112.9L123.2,107.4M119.2,112.5L116.9,106.9M122,115.7L129.5,119.7M117.8,110.7L115.2,104.4M112.1,115.3L104.7,111.2M119,123.2L116.2,131.3M114.5,118.2L105.7,119.9M119.1,114.5L115.7,107.5M130,119.5L135.5,121.1M125.5,115.8L129.3,116.6M126.8,113.4L131.4,112.5M115.4,110.3L109.1,102.5M117.2,113.3L113.5,106.1M128.8,114.6L132.9,115M118.4,116.1L116.7,119.3" stroke="#a8d48e" stroke-width="0.6" stroke-opacity="0.9"/>
<path class="fl" d="M116.5,117.9L110.5,120.2M116.5,115.4L110.8,112.2M127.6,115.3L133.7,112.3M120.1,107.9L116.4,99.2M121.7,118.3L125.4,124.1M120.2,115.7L123.9,119.6M114.2,114.8L107,115.1M116,114.4L108.4,113.1M118,119.4L118.6,122.6M119.5,115.1L118.8,106M119.3,99.8L120.4,97.5M124.8,112.6L129.4,109.1M119.8,115.5L127.3,117.5M111.3,116.8L103.1,114.5M113.8,112L110.8,109.9M125.5,117.1L128.3,118.2M116,116.6L110.5,120.3M113.7,118.1L107.6,119.5M130.2,115.4L133,114.6M122.1,113.9L128.5,111.2M118.6,116.4L114,121.3M112.6,109.4L110.9,106.2M119.6,127.6L118.8,129.8M121.3,116.1L126.6,116.9M114.6,111.7L112.1,110.7M117.2,111.8L114.4,105.4M116.2,118.2L111.6,124.7M119.8,115.1L120.2,112.1M122.5,109.3L123,103.9" stroke="#eef2c0" stroke-width="0.7" stroke-opacity="0.95"/>
<path class="fl" d="M119.1,122.1L117.3,126.7M116,111.5L111.8,104.7M119.9,115.3L124,112.7M121.1,116.4L127.5,117.6M117.5,115.6L113.2,115.3M120.2,112.2L121,109.6M118.8,117.2L114.7,123.5M118.7,118.7L116.6,123.1M123.2,118.2L127.1,123.5M131.8,110L138.9,105.4M117.6,119.7L116.8,124.8M123.3,114.2L127.5,111.6M117.4,117.4L114.5,121.6M123.3,124L125.9,132.3M115.1,114L107,113.5M119.7,115.3L124.4,111.1M118.2,115L113.7,109.4M122.2,109.5L123.7,107.3M122.5,116.8L129.2,123.1M121.7,116.5L126.8,121.6M119.6,117.8L122,125.5M118.9,115.4L109.1,115.7M116.3,110.7L113.3,105.1M118.8,112.4L116.5,104.1M112.1,105.3L110.7,97M126.2,106.3L130,101.5M116.7,106.9L117,101.5M113.5,118.1L108.5,118.2M123.9,121.7L127.9,125.5" stroke="#eef2c0" stroke-width="0.7" stroke-opacity="0.95"/>
<path class="fl" d="M103.3,76.6L108.2,97.3L111.9,105.9" stroke="#eef2c0" stroke-width="0.9" stroke-opacity="0.95" stroke-linejoin="round"/>
<path class="fl" d="M93.6,72.9L100.9,75.4L104.5,97.3L109.4,108.3" stroke="#a8d48e" stroke-width="0.7" stroke-opacity="0.95" stroke-linejoin="round"/>
<path class="fl" d="M52.1,157L74,153.4" stroke="#a8d48e" stroke-width="0.7" stroke-opacity="0.95" stroke-linejoin="round"/>
<path class="fl" d="M74,153.4L79,151.2" stroke="#eef2c0" stroke-width="1.0" stroke-opacity="0.95" stroke-linejoin="round"/>
<path class="fl" d="M122.8,137.6L127.7,149.8" stroke="#eef2c0" stroke-width="0.9" stroke-opacity="0.95" stroke-linejoin="round"/>
<path class="fl" d="M83.8,113.2L90,112.6" stroke="#eef2c0" stroke-width="0.9" stroke-opacity="0.95" stroke-linejoin="round"/>
<path class="fl" d="M93,113.8L100.9,113.2" stroke="#eef2c0" stroke-width="0.9" stroke-opacity="0.95" stroke-linejoin="round"/>
<path class="fl" d="M91.1,140L104.5,135.1L109.4,130.2" stroke="#a8d48e" stroke-width="0.7" stroke-opacity="0.95" stroke-linejoin="round"/>
<path class="fl" d="M98,126L104,131L100,137" stroke="#eef2c0" stroke-width="0.8" stroke-opacity="0.95" stroke-linejoin="round"/>
<path class="fl" d="M128,96L138,90L140,99" stroke="#a8d48e" stroke-width="0.7" stroke-opacity="0.95" stroke-linejoin="round"/>
<path class="fl" d="M136,104L146,104.5" stroke="#a8d48e" stroke-width="0.7" stroke-opacity="0.95" stroke-linejoin="round"/>
</g>
<path d="M314.5,23.2V26.2H351V23.2" fill="none" stroke="#5a5a5a" stroke-width="0.9"/>
<text class="sb" x="314.8" y="19.2" text-anchor="middle">0</text>
<text class="sb" x="340" y="19.2">50 km</text>
<g transform="translate(527.1,0)">
<use href="#ol" fill="#050707"/>
<path d="M84.3,108.1L96.7,105.2L83.1,90.1L94.7,89.8L93,73.7L103,84.7L102.9,75.7L111.8,89.7L114.5,70.5L117.5,88.6L122.3,69.4L124.1,84.3L130.9,77.1L133.6,88.4L147.9,84.3L139.3,99L154.9,98.3L141.6,108.6L164.2,113.7L148.6,119L158.9,128.4L147.1,131.2L152.2,144.7L134.4,136L139.3,156.8L127.5,143.6L126.7,160.6L119.9,142.7L117.1,154.5L115.1,136.4L111.4,150.9L107,134.6L93.5,140.3L97.6,122.5L65.9,115.7L94.5,112Z" fill="#1c5a30" fill-opacity="0.72"/>
<path d="M94,109.6L102.9,107.7L93.1,97L104.6,100.5L100.1,85.6L108.4,96.1L106.9,86.9L113.1,96L115.1,83.3L117.3,94.7L120.6,82.5L120.8,96.7L126.6,87.9L127.1,97.9L138.5,93L132.7,103.1L143.4,102.8L137.7,109.3L149.9,113.5L137.7,117L146.2,123.9L134,123.6L141.5,135.2L129.6,129.8L132.5,143.7L124.1,134.2L123.7,146.4L119,134.8L116.9,142.1L115.5,130.2L112.9,139.6L109.5,129L100.4,132.2L108.2,122.1L105.1,124.3L105.3,118.1L81.1,114.9L100.7,112.3Z" fill="#2f8a46" fill-opacity="0.32"/>
<ellipse cx="116.5" cy="113.2" rx="20.2" ry="12.8" fill="#58b060" fill-opacity="0.2"/>
<path d="M73.6,50.5L99.4,105.6L109,99Z" fill="#1c5a30" fill-opacity="0.12"/>
<path d="M73.6,50.5L90.6,113.4L110.5,99.8Z" fill="#1c5a30" fill-opacity="0.12"/>
<path d="M90.2,49.8L88.2,103.6L105.9,96.2Z" fill="#1c5a30" fill-opacity="0.12"/>
<path d="M90.2,49.8L100.5,108.2L125.7,97.7Z" fill="#1c5a30" fill-opacity="0.12"/>
<path d="M72.7,71.9L111.5,108.8L128.8,90.4Z" fill="#1c5a30" fill-opacity="0.14"/>
<path d="M72.7,71.9L104.9,100L113.9,90.4Z" fill="#1c5a30" fill-opacity="0.14"/>
<path d="M66.2,96.8L102.1,112.7L107.5,96.3Z" fill="#1c5a30" fill-opacity="0.15"/>
<path d="M66.2,96.8L103,127L109.6,106.9Z" fill="#1c5a30" fill-opacity="0.15"/>
<path d="M65.9,115.7L120.6,126.6L120.2,116.5Z" fill="#1c5a30" fill-opacity="0.15"/>
<path d="M65.9,115.7L113.8,120.3L112.6,95.4Z" fill="#1c5a30" fill-opacity="0.15"/>
<path d="M66.9,135L118.2,115.3L107.4,90.7Z" fill="#1c5a30" fill-opacity="0.15"/>
<path d="M66.9,135L118.8,128.5L113.5,116.4Z" fill="#1c5a30" fill-opacity="0.15"/>
<path d="M75.3,152.6L130.5,124.1L111.2,103.9Z" fill="#1c5a30" fill-opacity="0.14"/>
<path d="M75.3,152.6L132.7,126.1L121.3,114.1Z" fill="#1c5a30" fill-opacity="0.14"/>
<path d="M38.7,156.3L100.1,137.5L91.9,122.8Z" fill="#1c5a30" fill-opacity="0.12"/>
<path d="M38.7,156.3L109.7,139.6L97.1,116.9Z" fill="#1c5a30" fill-opacity="0.12"/>
<path d="M38.7,156.3L119.8,124.6L109.9,106.7Z" fill="#1c5a30" fill-opacity="0.12"/>
<path d="M93,73.7L113.2,111.1L133.6,99Z" fill="#1c5a30" fill-opacity="0.16"/>
<path d="M93,73.7L99.3,125L122.7,111.2Z" fill="#1c5a30" fill-opacity="0.16"/>
<path d="M102.9,75.7L109.8,113.5L120.2,109.7Z" fill="#1c5a30" fill-opacity="0.17"/>
<path d="M102.9,75.7L112.6,111.2L129.5,105Z" fill="#1c5a30" fill-opacity="0.17"/>
<path d="M114.5,70.5L98.5,106.6L115.3,105.8Z" fill="#1c5a30" fill-opacity="0.16"/>
<path d="M114.5,70.5L98.2,111.4L123.5,110.2Z" fill="#1c5a30" fill-opacity="0.16"/>
<path d="M122.3,69.4L125.4,106.6L136.3,108Z" fill="#1c5a30" fill-opacity="0.16"/>
<path d="M122.3,69.4L119,106.2L134.5,108.3Z" fill="#1c5a30" fill-opacity="0.16"/>
<path d="M122.3,69.4L102.2,106.7L126,109.9Z" fill="#1c5a30" fill-opacity="0.16"/>
<path d="M141.8,67.6L99.5,104.9L114.3,113.2Z" fill="#1c5a30" fill-opacity="0.15"/>
<path d="M141.8,67.6L111.7,116.4L122,122.1Z" fill="#1c5a30" fill-opacity="0.15"/>
<path d="M141.8,67.6L95,104.9L119.1,118.3Z" fill="#1c5a30" fill-opacity="0.15"/>
<path d="M147.9,84.3L109.1,90.4L125.3,108Z" fill="#1c5a30" fill-opacity="0.16"/>
<path d="M147.9,84.3L107.6,101.4L118.1,112.9Z" fill="#1c5a30" fill-opacity="0.16"/>
<path d="M147.9,84.3L116.1,104.4L127.8,117.1Z" fill="#1c5a30" fill-opacity="0.16"/>
<path d="M181.1,83.4L127.6,99L138.3,122.2Z" fill="#1c5a30" fill-opacity="0.12"/>
<path d="M181.1,83.4L123.2,88.4L132.6,108.7Z" fill="#1c5a30" fill-opacity="0.12"/>
<path d="M181.1,83.4L116,108L120.4,117.7Z" fill="#1c5a30" fill-opacity="0.12"/>
<path d="M164.2,113.7L125.3,104.5L125,128.5Z" fill="#1c5a30" fill-opacity="0.16"/>
<path d="M164.2,113.7L124.4,106.3L124.2,127.1Z" fill="#1c5a30" fill-opacity="0.16"/>
<path d="M179.3,133.3L123.2,92.7L115.2,117.8Z" fill="#1c5a30" fill-opacity="0.13"/>
<path d="M179.3,133.3L136.6,97.1L129.6,118.8Z" fill="#1c5a30" fill-opacity="0.13"/>
<path d="M152.2,144.7L121.9,120.4L108.5,135.7Z" fill="#1c5a30" fill-opacity="0.16"/>
<path d="M152.2,144.7L125.8,113.2L109.4,131.7Z" fill="#1c5a30" fill-opacity="0.16"/>
<path d="M173,166L118.3,109L108.3,119.7Z" fill="#1c5a30" fill-opacity="0.12"/>
<path d="M173,166L133,101.3L123.4,111.6Z" fill="#1c5a30" fill-opacity="0.12"/>
<path d="M173,166L128.9,117.5L116.1,131.2Z" fill="#1c5a30" fill-opacity="0.12"/>
<path d="M135.9,174.2L120.6,114.2L99.1,121Z" fill="#1c5a30" fill-opacity="0.13"/>
<path d="M135.9,174.2L125.4,109L109,114.2Z" fill="#1c5a30" fill-opacity="0.13"/>
<path d="M139.3,156.8L128.8,112.6L116.9,118.9Z" fill="#1c5a30" fill-opacity="0.15"/>
<path d="M139.3,156.8L137,106.3L116.6,117Z" fill="#1c5a30" fill-opacity="0.15"/>
<path d="M139.3,156.8L126.7,112.4L111.9,120.1Z" fill="#1c5a30" fill-opacity="0.15"/>
<path d="M117.1,154.5L132,114.4L119.9,114.6Z" fill="#1c5a30" fill-opacity="0.17"/>
<path d="M117.1,154.5L133.7,113.5L113,113.8Z" fill="#1c5a30" fill-opacity="0.17"/>
<path d="M117.1,154.5L126.3,125.3L98.8,125.7Z" fill="#1c5a30" fill-opacity="0.17"/>
<path d="M111.4,150.9L141.4,120.1L114.4,116.4Z" fill="#1c5a30" fill-opacity="0.17"/>
<path d="M111.4,150.9L125.4,119.8L103.9,116.9Z" fill="#1c5a30" fill-opacity="0.17"/>
<path d="M111.4,150.9L126.1,111.4L113.3,109.7Z" fill="#1c5a30" fill-opacity="0.17"/>
<path d="M93.5,140.3L137.9,127.1L120.2,112Z" fill="#1c5a30" fill-opacity="0.18"/>
<path d="M93.5,140.3L106,115L98.3,108.5Z" fill="#1c5a30" fill-opacity="0.18"/>
<path d="M130.9,77.1L98.4,102.2L115.3,109Z" fill="#1c5a30" fill-opacity="0.17"/>
<path d="M130.9,77.1L104.1,105.5L122.5,112.8Z" fill="#1c5a30" fill-opacity="0.17"/>
<path d="M130.9,77.1L126.1,109.5L137,113.8Z" fill="#1c5a30" fill-opacity="0.17"/>
<path d="M154.9,98.3L111.7,95.5L118.7,113.7Z" fill="#1c5a30" fill-opacity="0.17"/>
<path d="M154.9,98.3L121.9,109.3L130.6,131.6Z" fill="#1c5a30" fill-opacity="0.17"/>
<path d="M154.9,98.3L120.8,107.2L127.3,123.9Z" fill="#1c5a30" fill-opacity="0.17"/>
<path d="M158.9,128.4L135.8,95.9L126.6,121.5Z" fill="#1c5a30" fill-opacity="0.16"/>
<path d="M158.9,128.4L127.9,113.2L122,129.7Z" fill="#1c5a30" fill-opacity="0.16"/>
<path d="M158.9,128.4L127.9,106.3L124,117.3Z" fill="#1c5a30" fill-opacity="0.16"/>
<path d="M126.7,160.6L116.4,116.1L102,119.2Z" fill="#1c5a30" fill-opacity="0.16"/>
<path d="M126.7,160.6L116.5,111.3L102,114.5Z" fill="#1c5a30" fill-opacity="0.16"/>
<path d="M126.7,160.6L111.6,110.7L92.8,114.7Z" fill="#1c5a30" fill-opacity="0.16"/>
<path d="M100.2,129L126.3,128.6L108.6,110.3Z" fill="#1c5a30" fill-opacity="0.2"/>
<path d="M100.2,129L126.5,120.2L117.8,111.3Z" fill="#1c5a30" fill-opacity="0.2"/>
<path d="M100.2,129L133.1,130.6L114.1,111Z" fill="#1c5a30" fill-opacity="0.2"/>
<path d="M84.3,108.1L112.2,131.3L114.9,114.3Z" fill="#1c5a30" fill-opacity="0.18"/>
<path d="M84.3,108.1L108.5,118.3L111.3,100.6Z" fill="#1c5a30" fill-opacity="0.18"/>
<path d="M84.3,108.1L119.8,111.5L121.8,99.1Z" fill="#1c5a30" fill-opacity="0.18"/>
<path d="M83.1,90.1L110.2,109.5L123,91.1Z" fill="#1c5a30" fill-opacity="0.17"/>
<path d="M83.1,90.1L117.2,110.2L127.2,95.8Z" fill="#1c5a30" fill-opacity="0.17"/>
<path d="M83.1,90.1L105.6,116.2L113.4,105Z" fill="#1c5a30" fill-opacity="0.17"/>
<path class="fl" d="M75.3,152.6L128.7,125.6M90.2,49.8L95.2,100.3M38.7,156.3L98.1,136.9M173,166L116.9,129.1M181.1,83.4L132.1,108.9M179.3,133.3L121.7,113.5M75.3,152.6L115.1,109.1M75.3,152.6L130.8,121.6M73.6,50.5L103.4,110.1M181.1,83.4L135.9,119.8M73.6,50.5L105.2,104.1M181.1,83.4L131,98M38.7,156.3L114.1,123.7M135.9,174.2L114.4,116.3M38.7,156.3L110.9,115.3M173,166L116.7,109.3M179.3,133.3L137.2,107.6M75.3,152.6L126.3,123.7M179.3,133.3L136.3,97.3M73.6,50.5L98.4,107.8M181.1,83.4L128.7,93.7M179.3,133.3L120.3,94.8M38.7,156.3L98.6,129.5M90.2,49.8L110.3,109.5M173,166L128.6,104M73.6,50.5L104.8,107.5M73.6,50.5L102.1,108.9M179.3,133.3L118.9,93.8M75.3,152.6L129.4,123.5M135.9,174.2L116.3,110M135.9,174.2L103.4,119.5M75.3,152.6L125.8,117.1M75.3,152.6L125.8,120.1M73.6,50.5L100.8,103.3M181.1,83.4L131.3,105.4M38.7,156.3L112.6,108.5M75.3,152.6L127.7,117.9M75.3,152.6L128.9,123.6M181.1,83.4L132.6,121.3M179.3,133.3L127.1,95.9M75.3,152.6L126.6,126.6M73.6,50.5L92.1,111.8M38.7,156.3L106.8,138.6M75.3,152.6L127.5,127M72.7,71.9L111.7,105.1M179.3,133.3L116.6,108.2M72.7,71.9L111.2,100.3M135.9,174.2L105,118.7M72.7,71.9L112.6,96.4M72.7,71.9L110.1,99.2M72.7,71.9L118.2,108.6M179.3,133.3L116.2,112.5M38.7,156.3L96.9,128.9M179.3,133.3L114.5,108.5M90.2,49.8L91.4,106.3M179.3,133.3L129.5,102.9M181.1,83.4L114.3,111.8M179.3,133.3L132.8,102M90.2,49.8L116.2,107M135.9,174.2L116,116.1M90.2,49.8L103.3,101.4M38.7,156.3L99.5,121.3M73.6,50.5L90.6,111.5M90.2,49.8L93.3,98.3M75.3,152.6L122.9,117.6M181.1,83.4L127.1,101.2M38.7,156.3L92.8,128.4M38.7,156.3L97.4,119.6M38.7,156.3L104.7,120.3" stroke="#2f8a46" stroke-width="0.4" stroke-opacity="0.29"/>
<path class="fl" d="M38.7,156.3L100.8,116.2M72.7,71.9L115.1,106.8M72.7,71.9L125.4,98.4M38.7,156.3L120.3,118.2M173,166L114.4,115.7M179.3,133.3L133.5,104.2M75.3,152.6L133.2,123.3M179.3,133.3L134.1,99.8M90.2,49.8L92.1,97.7M90.2,49.8L103.5,93.7M173,166L121.5,132.4M38.7,156.3L119.5,114.3M38.7,156.3L105.7,136.5M38.7,156.3L110.6,106.7M38.7,156.3L108.9,113.4M179.3,133.3L118.5,109.2M135.9,174.2L113.7,118.6M181.1,83.4L129.5,106.6M38.7,156.3L109.4,113.8M90.2,49.8L107.7,103.5M38.7,156.3L117.5,116.5M72.7,71.9L130,94.4M38.7,156.3L107.7,138.4M181.1,83.4L131.6,107.9M38.7,156.3L88,125.7M173,166L129.8,111.2M173,166L119.2,133.6M135.9,174.2L121.2,108.9M90.2,49.8L112.4,100.1M75.3,152.6L125.8,118.1M173,166L129.7,120M173,166L126.2,109.7M135.9,174.2L103.2,115.2M173,166L114.2,106.6M173,166L114.4,120.2M72.7,71.9L112.3,93.4M179.3,133.3L122.4,110.4M135.9,174.2L112.9,116.7M38.7,156.3L108.1,139.1M72.7,71.9L116,106.6M73.6,50.5L104.9,97.6M90.2,49.8L89.2,103.7M181.1,83.4L130.6,93.8M181.1,83.4L120.8,94.4M135.9,174.2L112.2,109.3M73.6,50.5L89.6,109.7M173,166L119.9,123.6M73.6,50.5L90.8,107.9M181.1,83.4L113,112.7M135.9,174.2L112.9,109.7M73.6,50.5L103.9,105M90.2,49.8L106.7,101.2M181.1,83.4L125.1,105.5M135.9,174.2L117.9,112.6M38.7,156.3L99,122.8M38.7,156.3L117.7,114.5M135.9,174.2L108.3,115.3M75.3,152.6L126.9,118.6M179.3,133.3L113,111.7M135.9,174.2L117.8,112.4M75.3,152.6L129.6,124.7M173,166L129.2,110.2M173,166L118.7,122M72.7,71.9L108.6,95.1M181.1,83.4L115.6,113.5M72.7,71.9L120.8,98.1M72.7,71.9L113,97.5M181.1,83.4L115.1,111M73.6,50.5L107.7,97.2" stroke="#2f8a46" stroke-width="0.4" stroke-opacity="0.29"/>
<path class="fl" d="M83.1,90.1L106.1,114.5M141.8,67.6L108.1,106.8M147.9,84.3L111.2,105.7M158.9,128.4L133.5,110M117.1,154.5L129.4,116.2M66.2,96.8L105,111.6M147.9,84.3L126.4,108.6M154.9,98.3L125.4,124.5M66.2,96.8L111.7,111M111.4,150.9L115.7,121.5M66.9,135L121,122.6M152.2,144.7L120.9,123.4M73.6,50.5L110.5,99.8M66.2,96.8L108.8,102.6M164.2,113.7L127.6,112M139.3,156.8L113.7,122.8M83.1,90.1L126.3,96.2M130.9,77.1L113.8,112.8M117.1,154.5L125.7,119M102.9,75.7L118.3,106.5M164.2,113.7L126.9,116.3M158.9,128.4L133.8,102.4M122.3,69.4L127.6,106.2M179.3,133.3L136.6,97.1M111.4,150.9L115.6,108.1M122.3,69.4L129.4,102.4M83.1,90.1L124.8,103.4M126.7,160.6L95.9,117.4M93,73.7L118.1,102.5M158.9,128.4L125.2,114M152.2,144.7L123.1,116.2M102.9,75.7L114.4,116.2M38.7,156.3L91.9,122.8M117.1,154.5L115.3,124.5M147.9,84.3L118.8,102.2M93,73.7L110.6,118M83.1,90.1L114.6,106.4M83.1,90.1L107.9,107.6M126.7,160.6L105.3,110.4M93,73.7L106.6,123.8M122.3,69.4L128,109.6M66.2,96.8L99.7,109.1M65.9,115.7L111.7,97.8M93,73.7L129.3,101.8M90.2,49.8L125.7,97.7M102.9,75.7L124.1,110M158.9,128.4L126.2,112.2M130.9,77.1L115,113.4M139.3,156.8L122.5,115.1M158.9,128.4L122.1,119.6M111.4,150.9L123.1,118.4M66.2,96.8L105.2,113.7M111.4,150.9L123.2,106.8M65.9,115.7L115.3,96.1M147.9,84.3L112,112.2M154.9,98.3L116.4,97.2M126.7,160.6L108.6,112.8M126.7,160.6L109.5,119.6M154.9,98.3L131.7,125.4M83.1,90.1L117.6,92.9M154.9,98.3L110.5,103.1M147.9,84.3L121.8,113.4M158.9,128.4L126.6,113.2M139.3,156.8L118.2,111.7M66.9,135L115.4,116.7M152.2,144.7L112.4,125.5M126.7,160.6L106.5,122.5M122.3,69.4L127.8,111.3M154.9,98.3L126,118.6M158.9,128.4L124.8,114.1M102.9,75.7L109.5,108.9M158.9,128.4L121,111M66.9,135L108,92.5M66.2,96.8L109.8,98.5M102.9,75.7L120.1,111.2M93,73.7L108.8,119.9M122.3,69.4L135.8,109.7M158.9,128.4L122.9,127.2M126.7,160.6L109.6,110.6M66.9,135L119.4,126.3M122.3,69.4L118.6,109.6M111.4,150.9L123.5,107.1M102.9,75.7L121.1,110.2M154.9,98.3L126.9,112.6M111.4,150.9L123.2,110.7M126.7,160.6L96.1,112.7M114.5,70.5L120.6,108.1M93,73.7L100.7,120.2M83.1,90.1L111.9,111.2M164.2,113.7L126.1,108.4M158.9,128.4L123.1,105.5M181.1,83.4L120.4,117.7M65.9,115.7L122.7,117.1M111.4,150.9L138.3,123.2M93,73.7L123.5,109M117.1,154.5L122.9,114.6M126.7,160.6L108.5,117.6M130.9,77.1L121.4,111.6M141.8,67.6L106.9,104.5M117.1,154.5L121.2,112.6M130.9,77.1L115,105.3M130.9,77.1L137.5,110.9M66.9,135L110.3,120.9M122.3,69.4L121.3,104.5M83.1,90.1L122.2,100.5M65.9,115.7L115.2,102.3M154.9,98.3L124.5,111.6M130.9,77.1L116,114.7M130.9,77.1L108.1,112.2M114.5,70.5L99.6,107M147.9,84.3L113.5,105.9M154.9,98.3L124.8,109.8M66.2,96.8L102.3,126.2M66.2,96.8L102.7,103.8M164.2,113.7L124.7,111.8M117.1,154.5L108.8,130.3M130.9,77.1L116.6,108.6M154.9,98.3L123.5,119.4M111.4,150.9L117.4,117.8M139.3,156.8L113.6,120.9M38.7,156.3L119.8,124.6M179.3,133.3L123.2,92.7M158.9,128.4L130.4,109.8M90.2,49.8L88.2,103.6M139.3,156.8L120.9,113.4M102.9,75.7L125.5,105.9M102.9,75.7L119.9,107.6" stroke="#2f8a46" stroke-width="0.4" stroke-opacity="0.42"/>
<path class="fl" d="M135.9,174.2L99.1,121M111.4,150.9L116.1,111.5M117.1,154.5L123,125.6M122.3,69.4L120,107.3M158.9,128.4L130.6,98.9M83.1,90.1L111.1,106.6M126.7,160.6L97.8,114.4M111.4,150.9L123.2,113M152.2,144.7L124.4,112.2M141.8,67.6L97.5,101.7M154.9,98.3L123.4,106.3M38.7,156.3L97.1,116.9M141.8,67.6L118.4,118.8M83.1,90.1L123.5,97.6M158.9,128.4L125.4,115M122.3,69.4L119.9,103.1M130.9,77.1L110.2,108.5M83.1,90.1L107.4,117.1M152.2,144.7L123,119.3M111.4,150.9L108.9,117.2M122.3,69.4L103,108.6M147.9,84.3L115.1,115.2M181.1,83.4L127.6,99M130.9,77.1L110.3,105.6M122.3,69.4L122.3,107.1M147.9,84.3L115.8,102M65.9,115.7L123.1,125M75.3,152.6L121.3,114.1M66.9,135L113.8,118.8M102.9,75.7L120.9,112.3M122.3,69.4L135.1,104.9M117.1,154.5L132.6,114M66.2,96.8L106.2,107.4M139.3,156.8L119.1,117.9M158.9,128.4L130.2,116.4M83.1,90.1L110.5,116.3M117.1,154.5L111.5,127.4M139.3,156.8L113,118.6M65.9,115.7L118.6,118.4M154.9,98.3L111.5,101.1M122.3,69.4L125.4,107.5M73.6,50.5L99.4,105.6M130.9,77.1L121.7,110.2M65.9,115.7L112.7,102.9M141.8,67.6L109.3,111.1M111.4,150.9L125.1,111M147.9,84.3L114.4,94.4M164.2,113.7L122.6,119.6M102.9,75.7L119.7,108.8M130.9,77.1L104.8,104.7M122.3,69.4L134.1,110.9M83.1,90.1L123.4,107.7M147.9,84.3L109.4,97.2M102.9,75.7L119.7,112M139.3,156.8L132,107.9M66.9,135L112.9,111M66.2,96.8L100,125.6M152.2,144.7L113.2,130.8M154.9,98.3L123.2,111M102.9,75.7L116,110.1M164.2,113.7L120.7,116M83.1,90.1L119.5,91.2M126.7,160.6L114.3,115.8M122.3,69.4L128.1,112M102.9,75.7L118.6,108.1M126.7,160.6L109.9,114.1M130.9,77.1L106.7,108.6M147.9,84.3L125.4,102.1M93,73.7L132.9,104.6M111.4,150.9L140.1,121.1M66.2,96.8L109.7,104M173,166L108.3,119.7M122.3,69.4L122.7,105.6M130.9,77.1L128.5,106.5M83.1,90.1L121.1,98.6M130.9,77.1L115.5,107.2M173,166L123.4,111.6M93,73.7L122.9,104M65.9,115.7L113.1,101.6M114.5,70.5L114,111.8M181.1,83.4L123.2,88.4M122.3,69.4L136.2,107.4M141.8,67.6L101.9,104.7M139.3,156.8L118.9,115.3M83.1,90.1L125.8,102.8M75.3,152.6L111.2,103.9M102.9,75.7L121.2,107.4M164.2,113.7L119.6,119.6M111.4,150.9L123,114.4M126.7,160.6L104.1,115.5M66.9,135L108,101.5M93,73.7L116.2,105.1M117.1,154.5L131,110.1M66.9,135L120,109.1M141.8,67.6L97.3,102.5M126.7,160.6L114.9,121.4M66.9,135L121,125M147.9,84.3L121,102.5M66.9,135L117.3,103.6M158.9,128.4L128.1,119M114.5,70.5L103.9,113.8M139.3,156.8L118.8,118.7M130.9,77.1L99.5,99.8M66.9,135L114.1,110.9M117.1,154.5L129.1,111.4M114.5,70.5L106.8,102.2M154.9,98.3L122.4,119.9M66.9,135L118.9,123.6M139.3,156.8L125.4,118.2M83.1,90.1L104.3,111.6M130.9,77.1L128.2,104.9M66.9,135L115.3,118.7M152.2,144.7L121.6,118.7M152.2,144.7L119.7,114.1M102.9,75.7L130.5,109.8M111.4,150.9L110,118.4M66.9,135L113.7,118.9M65.9,115.7L119.1,121.5M114.5,70.5L107.4,110.6M65.9,115.7L124.7,116.8M93,73.7L109.8,119.6M114.5,70.5L105.8,115.7M139.3,156.8L123.5,114.9M83.1,90.1L116.3,109.4M152.2,144.7L116,117.3M65.9,115.7L120.7,117.6M66.2,96.8L101.2,124.1" stroke="#2f8a46" stroke-width="0.4" stroke-opacity="0.42"/>
<path class="fl" d="M135.9,174.2L109,114.2M102.9,75.7L111.8,107.9M164.2,113.7L125.6,108.2M173,166L128.9,117.5M65.9,115.7L114.4,98.8M158.9,128.4L132.2,101.4M141.8,67.6L99.5,110.2M139.3,156.8L120.4,114.8M147.9,84.3L124.2,101.3M117.1,154.5L122.6,113.1M130.9,77.1L114.4,106.9M114.5,70.5L111.7,107.7M158.9,128.4L135.9,96.5M83.1,90.1L113.2,113.1M130.9,77.1L102.1,98.4M93,73.7L133.4,102.1M83.1,90.1L103.9,112.1M83.1,90.1L118.8,110.5M65.9,115.7L123.7,123.1M117.1,154.5L131.8,116.4M130.9,77.1L101.9,108M111.4,150.9L124.5,124.2M164.2,113.7L124,122.3M154.9,98.3L122.7,119.4M141.8,67.6L102.9,109.4M114.5,70.5L100.5,104.9M102.9,75.7L117.1,110.2M154.9,98.3L128,121.2M117.1,154.5L128.1,112M139.3,156.8L126.2,108.7M65.9,115.7L120.2,121.8M72.7,71.9L128.8,90.4M66.2,96.8L104.3,124.8M117.1,154.5L133.3,117.3M83.1,90.1L117.7,100.9M126.7,160.6L115.9,111.5M164.2,113.7L125.2,113.9M152.2,144.7L112.8,126.1M147.9,84.3L109.5,101.6M122.3,69.4L124.2,103.1M130.9,77.1L101.6,101.8M83.1,90.1L106,108.1M147.9,84.3L125.2,110M66.2,96.8L101.8,122.3M130.9,77.1L118.5,110.5M164.2,113.7L121.7,125.3M154.9,98.3L124.3,124.9M66.2,96.8L107.2,109.7M152.2,144.7L110.7,128.5M111.4,150.9L104.9,113.8M66.9,135L106.9,98.9M102.9,75.7L114.8,111.1M65.9,115.7L122.7,123.3M117.1,154.5L122.6,123.8M141.8,67.6L108.2,104.4M164.2,113.7L124.5,122.6M139.3,156.8L117,112.2M66.9,135L115.8,115.7M122.3,69.4L123.8,107.2M141.8,67.6L110.2,105.7M66.2,96.8L110.3,109.3M122.3,69.4L123.8,110M139.3,156.8L115.5,116.2M122.3,69.4L135.7,110.4M158.9,128.4L122.8,105.8M83.1,90.1L121.2,97.6M102.9,75.7L113.2,110.3M111.4,150.9L112.4,121.8M66.2,96.8L99,107.5M117.1,154.5L103.3,125.7M93,73.7L107.1,117.2M72.7,71.9L104.9,100M164.2,113.7L128.4,113.7M158.9,128.4L127.4,112.4M164.2,113.7L127.2,107.2M102.9,75.7L117.3,114.3M117.1,154.5L122.3,114.1M122.3,69.4L112.9,111.1M93,73.7L114.4,111.7M154.9,98.3L116.9,113.9M130.9,77.1L135.1,109.3M65.9,115.7L114.3,101.4M147.9,84.3L121.7,112M141.8,67.6L115.3,118.5M122.3,69.4L131,108.1M158.9,128.4L125.4,115.7M139.3,156.8L123.7,112.4M122.3,69.4L133.8,104.2M114.5,70.5L114.2,109.2M111.4,150.9L119.5,112.7M154.9,98.3L130.7,125.9M139.3,156.8L119.9,112.5M111.4,150.9L131.6,116.5M154.9,98.3L114.3,108.5M130.9,77.1L115,105.9M158.9,128.4L124.8,116.4M154.9,98.3L117.1,99.1M111.4,150.9L116.7,110.7M139.3,156.8L119.8,112.1M164.2,113.7L128.9,106.3M130.9,77.1L107.9,106.6M66.9,135L116.7,114M117.1,154.5L125.8,115.2M83.1,90.1L122.4,97M130.9,77.1L120,112.5M66.9,135L121.3,112.2M139.3,156.8L115.9,116.7M152.2,144.7L123.3,121.5M83.1,90.1L123.5,107.4M141.8,67.6L113.8,115.1M83.1,90.1L106.6,108.2M114.5,70.5L110.4,115.8M122.3,69.4L107.4,103.4M83.1,90.1L115.2,97.1M152.2,144.7L118,128M65.9,115.7L118.2,112M158.9,128.4L128.8,109.7M111.4,150.9L121.6,116.6M158.9,128.4L132.8,100.6M158.9,128.4L127.8,114.1M139.3,156.8L119.2,119.9M154.9,98.3L117.3,112.2M122.3,69.4L121.9,107M158.9,128.4L125.8,109M152.2,144.7L110.6,126.7M158.9,128.4L128.3,114.2M164.2,113.7L129.2,118.1" stroke="#2f8a46" stroke-width="0.4" stroke-opacity="0.42"/>
<path class="fl" d="M93.5,140.3L99,112.8M84.3,108.1L113.3,114.2M93.5,140.3L127.4,120.5M93.5,140.3L124.8,117.7M84.3,108.1L117.7,109.4M93.5,140.3L99,108.8M93.5,140.3L128.9,116.8M93.5,140.3L104.6,112.5M93.5,140.3L105.9,111.4M100.2,129L119.8,119.2M100.2,129L122.7,116.8M84.3,108.1L107.3,117.1M93.5,140.3L96.7,112.4M100.2,129L120.3,114.8M100.2,129L119.8,118.2" stroke="#2f8a46" stroke-width="0.4" stroke-opacity="0.52"/>
<path class="fl" d="M84.3,108.1L124.5,101.8M84.3,108.1L108.3,113M93.5,140.3L101,116.9M100.2,129L124.8,119.7M100.2,129L122.6,115.6M93.5,140.3L104.5,112.4M84.3,108.1L116.6,128.6M93.5,140.3L122.7,115M84.3,108.1L121.2,109.5M84.3,108.1L119.3,109.7M93.5,140.3L107.8,110.5M93.5,140.3L130.6,118.5M84.3,108.1L118.9,107.6M84.3,108.1L110.8,117M84.3,108.1L114.2,129.6" stroke="#2f8a46" stroke-width="0.4" stroke-opacity="0.52"/>
<path class="fl" d="M84.3,108.1L114.4,131.7M84.3,108.1L121.1,101.2M100.2,129L124.6,114.1M100.2,129L110.2,111.2M84.3,108.1L108.6,102.3M100.2,129L113.3,109.2M84.3,108.1L125.9,102.8M100.2,129L125.1,117.8M100.2,129L118.2,121.7M100.2,129L130.8,124.4M93.5,140.3L104.7,107.7M100.2,129L118.2,113.1M84.3,108.1L106.6,103.5M100.2,129L125,122.2M93.5,140.3L122.6,115.5" stroke="#2f8a46" stroke-width="0.4" stroke-opacity="0.52"/>
<path class="fl" d="M93.5,140.3L96.2,111M100.2,129L121.1,116.7M100.2,129L117.7,107.9M93.5,140.3L132.6,122.2M84.3,108.1L116.3,130.7M100.2,129L121.9,119.7M100.2,129L124.4,125.2M84.3,108.1L110.1,113.8M100.2,129L126.3,115.5M93.5,140.3L118.2,114.4M100.2,129L122.6,114.3M100.2,129L124,120.6M84.3,108.1L116.5,103.6M100.2,129L131.8,123.1M84.3,108.1L124.7,104.2" stroke="#2f8a46" stroke-width="0.4" stroke-opacity="0.52"/>
<path class="fl" d="M73.6,50.5L90.2,49.8M73.6,50.5L72.7,71.9M90.2,49.8L73.6,50.5M72.7,71.9L93,73.7M72.7,71.9L83.1,90.1M72.7,71.9L73.6,50.5M66.2,96.8L83.1,90.1M65.9,115.7L66.2,96.8M66.9,135L65.9,115.7M66.9,135L75.3,152.6M66.9,135L93.5,140.3M75.3,152.6L66.9,135M75.3,152.6L93.5,140.3M75.3,152.6L100.2,129M38.7,156.3L66.9,135M38.7,156.3L75.3,152.6M38.7,156.3L65.9,115.7M93,73.7L102.9,75.7M102.9,75.7L93,73.7M102.9,75.7L114.5,70.5M102.9,75.7L122.3,69.4M114.5,70.5L122.3,69.4M122.3,69.4L114.5,70.5M141.8,67.6L130.9,77.1M141.8,67.6L147.9,84.3M141.8,67.6L122.3,69.4M147.9,84.3L154.9,98.3M147.9,84.3L141.8,67.6M147.9,84.3L130.9,77.1M181.1,83.4L154.9,98.3M164.2,113.7L158.9,128.4M164.2,113.7L154.9,98.3M179.3,133.3L158.9,128.4M152.2,144.7L158.9,128.4M152.2,144.7L139.3,156.8M173,166L152.2,144.7M173,166L179.3,133.3M135.9,174.2L126.7,160.6M139.3,156.8L126.7,160.6M139.3,156.8L135.9,174.2M117.1,154.5L111.4,150.9M117.1,154.5L126.7,160.6M111.4,150.9L117.1,154.5M111.4,150.9L126.7,160.6M93.5,140.3L100.2,129M93.5,140.3L111.4,150.9M130.9,77.1L122.3,69.4M130.9,77.1L141.8,67.6M154.9,98.3L147.9,84.3M154.9,98.3L164.2,113.7M154.9,98.3L181.1,83.4M158.9,128.4L164.2,113.7M158.9,128.4L152.2,144.7M126.7,160.6L117.1,154.5M126.7,160.6L139.3,156.8M100.2,129L93.5,140.3M100.2,129L111.4,150.9M84.3,108.1L83.1,90.1M84.3,108.1L65.9,115.7M84.3,108.1L66.2,96.8M83.1,90.1L84.3,108.1" stroke="#58b060" stroke-width="0.4" stroke-opacity="0.5"/>
<path class="fl" d="M102,117.9L103.1,120.9M120.1,114.1L124.3,124.1M122,96.3L111,94.5M106.4,110.3L109.6,111.3M104.1,99.5L100.5,96.8M104.1,99.5L104,93.9M123.6,111.8L121.6,113.1M139.3,116.3L126.4,126.5M104.3,127.1L108.3,130.3M104.1,99.5L105.2,103.7M99.3,107.5L111.8,109.1M99.5,94.1L101.2,95.7M97.1,102.2L100.4,104.5M117.1,110.3L120.5,104.3M98.6,119.2L72.4,122.4M116.9,114.9L119.9,114.5M105.9,123.2L114.1,124.6M109.9,122.6L106.1,125.2M131.3,122.6L156.4,127.8M124.6,108.9L121.2,107.2M117.3,104.6L113.3,109M122.9,121.2L121.7,123.5M119.7,110.4L116.9,115.6M120.3,116.6L125.3,108.2M102,117.9L99.4,121.2M123.3,107.3L123,105M113,119.6L133.1,108.9M101.4,106.1L97.2,97.5M113.2,105.9L111,107.7M92.7,112.4L95.4,112.6M129,109.6L128.9,126.1M101.4,106.1L105.6,101.6M96.1,111.4L93.2,106.3M97.1,127.9L90.5,120.6M99.5,94.1L99.4,97.8M147.5,106.6L158.1,114.7M106.5,107.9L112.9,111.2M124.1,114.6L124.1,105.8M123.2,114.3L130,114.3M120.2,101.5L118.4,112.3M130.1,115.2L127.2,118.3M119.7,119.4L117.4,121.7M137.6,118.5L140.6,111.6M94.8,113.4L86.6,111.6M113.4,111.9L115.5,107.3M128.7,126L119.4,121.3M129.1,123.3L139.8,127.5M109.7,120.3L109.5,115.4M98.7,104.4L90.6,103.3M99.3,107.5L84.7,107.9M119.1,105.8L121,110.1M102,117.9L118,114.4M118.2,115.6L124.9,117.8M125.7,107.8L126.1,109.7M106.5,107.9L91.8,96.5M125.9,102.5L120.6,101.4M139.7,110.9L144.1,110.7M92.2,113.1L96,111.3M135.2,95.5L128.9,111.6M111.5,99.9L101.3,97.2M120.1,112.8L115.7,104.2M123,124.5L116.5,117.6M133.3,108.9L131.7,113.3M107.3,116.7L107.4,118.8M117.4,115.9L127.7,111.1M123.2,114.3L119.3,111M132.9,124.6L137.4,118.4M118,108.6L102,111.5M98.1,127.2L105.2,125.6M135.9,111.8L149.3,124.2M129,109.6L130.1,107.7M126.1,102L128.1,95.5M117.3,104.6L111.8,97.5M123.2,112.9L121.7,118M95.3,116.6L97.7,122M113.1,107.6L116.7,115.1M112.4,117.6L111.9,108.9M123.6,111.8L119.1,110.5M108,120.8L109.5,125.2M104.3,121L113.8,128.6M106.2,106.8L122.2,110.2M124,119.5L114.6,103.4M112.4,106.9L114.3,108.3M124.3,107.7L145.4,102.7M106.5,109.9L122.9,110.8M117.3,104.6L139.2,112M124.4,107.5L117,102.6M112.3,124.3L110.8,125.6M93.2,109.1L109.7,107.2M123,124.5L124.2,122.8M124,119.5L118.9,119.1M110.2,114.5L109.5,111.9M113.2,105.9L120.8,109.5M98.6,119.2L88.2,118.9M148.2,104.5L139.1,106.7M107.5,108.1L108.8,109.8M108.2,111L109.3,106.6M132.6,102L141.9,96.1M115.9,111.4L105.1,107.8M102.2,119.3L102.7,123.1M121.1,116.7L123.3,102M116.6,120.2L104.9,115.6M117.1,110.3L112.7,111M139.7,110.9L139.1,107.5M98.6,119.2L96.9,113.6M141.9,106.5L135.1,106.6M112,106.7L128,114.6M133.1,109.7L123.4,114.3M123.5,120L127.5,121.5M102,117.9L95.8,113.5M119.7,110.4L121,129.8M101.1,120.4L99.7,123.2M102.1,118.8L107.1,118.2M122,96.3L112.1,92.4M120.1,112.8L105,109.8M101.8,104.9L101.9,107.1M113,119.5L112.5,121.8M112.8,111.6L110.8,115.6M135.2,95.5L127.5,92.3M130.3,123.5L163.3,120.9M103.3,98.9L98.3,99.5M113,119.6L111,129.6M116.9,114.9L133.6,112.5M113,119.5L109.2,120M140.1,114.2L149.8,113.3M117.2,104L116.3,107.1M129.4,118.3L112.2,124.7M114.2,118.5L100.2,122.2M114.1,122.8L104.6,120.8M94.8,113.4L90.3,109.6" stroke="#58b060" stroke-width="0.45" stroke-opacity="0.5"/>
<path class="fl" d="M115.9,111.4L116.3,109.8M125.7,110.4L126.6,112.5M123.6,111.8L121.9,115.7M101.1,120.4L103,122.6M127.4,101.6L132.7,96.9M124.2,97L135.3,97.3M114.1,122.8L114.7,126.6M101.4,106.1L99.9,104.2M114,118.2L110.1,122.1M113.4,111.9L115.1,125.5M109.8,104.9L107.1,106.4M102.2,119.3L101.6,122.4M102,117.9L107.1,115.7M119.8,124.5L121.1,126.9M106.9,128.8L107.2,133.8M112.3,124.3L120.8,126.8M133.1,109.7L136.3,109.3M124.9,114.3L130.2,117.2M140.1,114.2L138.6,111.7M132.6,102L131.6,105.9M114.2,118.5L113.1,130.4M106,114.2L104.1,116.6M120.3,107.1L119.6,111.1M119.7,119.4L132.4,118.6M115.9,111.6L117.8,109.8M146.5,102.7L164,97M102,117.9L97.3,117.4M123.2,114.3L129.1,111.4M117.8,111.6L115.3,110.3M113,119.5L99.7,124.1M139.5,114.6L140,117.6M129.7,115.8L116.4,121M106,105.3L134.4,108M93.2,109.1L90.6,109.6M107.4,106.8L110,101.9M107.5,108.1L99.8,102.2M120.1,112.8L116.7,105.7M117.8,113.8L109,116M139.3,116.3L135.5,112.9M140.1,114.2L126.1,107.9M118,108.6L100.1,104.7M138.5,119.6L146.6,129.4M98.1,127.2L98.2,131M112.5,103.5L111.9,111.8M112.6,111.5L114.1,102.3M101.8,104.9L113.9,113.7M117.8,113.8L124,112.9M123,124.5L109.8,125.8M112.4,101L111.3,92.2M116.5,112.7L112.8,115M117.3,114.3L120.2,119.5M106.5,109.9L111.1,108.3M106.9,128.8L94.8,126.1M110.2,114.5L105.9,125M120.3,119.8L118.5,121.9M125.7,107.8L117,113M138.5,119.6L137.8,123.2M104.9,114.3L104.2,116.8M125.7,106.9L133,108.3M114.5,120.1L112.8,122.1M140.1,114.2L140.7,118.5M132.9,124.6L140.7,130.2M97.5,110.9L94.3,110.5M106.3,122.6L110,122.1M121.1,125.2L119.1,129.9M127.1,107.4L130.3,110.2M94.8,113.4L112.6,114.6M113.4,111.9L115.5,119.4M101.4,106.1L98.4,104.3M114.8,119.8L116.6,121.9M103.3,98.9L110.9,99.6M117.2,104L114.3,101.7M109.6,124.2L124.6,122.9M102.2,119.3L93.8,122.6M116.5,123.6L132,125.4M124.2,97L134.3,107.9M112.4,101L111.3,97.7M103.3,98.9L108.1,100.1M104.9,114.3L109.4,119.7M100.9,102.9L114.1,98.3M98.4,108.3L86.6,106.1M118.2,115.6L122.6,114.5M139.3,116.3L138.1,113.7M146.5,102.7L152.7,100.6M119,112.3L114.3,113.4M139.3,116.3L145,123.5M129.4,118.3L125.5,113.4M116.6,98.6L106.1,100M119.8,120.1L109.3,129.7M105.7,108.9L107.5,104.4M120.1,112.8L132.9,117.2M109.9,122.6L104.8,123.3M92.7,112.4L85,115.3M126.9,108.1L125.6,97.4M100.9,102.9L91.4,94.1M146.5,102.7L145.6,94.5M113.9,97.4L127.1,100.5M98.4,108.3L106.9,101.6M119,112.3L119.8,115.8M119.1,105.8L122.5,104.9M103.3,98.9L112.2,103.7M123.3,107.3L108.2,99.1M109.7,120.3L117.8,119.5M92.2,113.1L81.9,107M105.1,116.2L101.5,119.7M100.9,110.4L106.1,95.1M112.6,111.5L107.7,114M129.1,123.3L130.5,128.1M114.8,119.8L108.9,116.7M98.7,104.4L96,103.1M114,118.2L127,115.8M124.9,114.3L111,116.4M107.7,126.8L124.7,131.6M124.1,114.6L120.5,119.4M130.3,123.5L135.7,118.7M105.3,119.5L108.2,119M114.2,100.7L99.6,100.6M112.4,101L126.9,100.3M97.5,110.9L101.1,107.4M105.3,119.5L97.2,116.4M116.6,98.6L115.8,100.3M116.6,120.2L128.6,116.4M114.1,122.8L105.6,129.6M139.3,116.3L132.7,118.5M98.4,108.3L105.4,94.1M120.1,114.1L136.6,112.9M116.5,112.7L107.4,114.4M116.4,123.6L136.6,119M120.2,101.5L118,100.1M118.7,98.8L108.5,108.1" stroke="#58b060" stroke-width="0.45" stroke-opacity="0.5"/>
<path class="fl" d="M101.4,106.1L101.4,112.2M109.9,122.6L107.2,125.3M138.8,111.8L143.8,112.4M113.4,111.9L112.8,107.4M118.2,120.1L112.6,114.3M141.9,106.5L133.4,100.4M117.3,114.3L108.5,109.3M106.4,119.4L112.4,121.6M133.1,109.7L131.9,111.2M114.2,100.7L106.3,104.3M113,113.6L113.9,112M135.4,111.8L144.3,122.3M130.1,115.2L174.4,116.5M119,112.3L111.7,102.5M112.3,124.3L102.6,125.6M112.4,101L100,95.8M123.2,112.9L123.8,114.7M113,119.6L118,120.4M119.1,105.8L113.2,112.4M117.2,104L100.5,98.9M101.8,104.9L101.2,112.9M97.5,110.9L97.2,113.8M104.3,121L106,119.6M138.8,111.8L142.7,112M102.1,118.8L111.1,127.5M108,120.8L118.3,117.6M101.1,120.4L96.4,122.2M106,105.3L101,106.9M124.4,107.5L124.6,89.3M135.2,95.5L138.8,93.9M137.6,118.5L137.1,125.4M98.1,127.2L110.3,129.4M97.1,127.9L100.8,135.6M121.1,116.7L135.8,112.7M113,113.6L116.1,105.4M106.5,109.9L139.2,101.3M114.9,113.6L116.3,116.9M113,119.5L122.5,118.9M130.1,115.2L138,116.6M112.4,106.9L106.7,98.9M119.8,124.5L142.6,116.1M108.5,109.2L94.9,111.3M92.7,112.4L94.7,109.7M114.9,121.5L123.1,115.8M123,124.5L125.1,127.5M129,109.6L125.3,114.1M120.3,116.6L151.3,120.2M135.9,111.8L122.8,115M119.8,124.5L119.3,118.7M155.7,118.7L150.2,120.3M112.7,107.2L124.7,110.4M114.9,121.5L130,122.8M106.4,119.4L115.1,119.7M102.2,119.3L108.1,118.8M94.8,113.4L90.3,110.9M133.3,108.9L120.9,104M102,117.9L95.7,117.3M101.4,106.1L94.7,114.4M109.9,122.6L105.5,120.1M113,119.6L106.5,119.3M97.1,127.9L101.3,134.3M102,117.9L108,121.6M102,106.5L95.8,98.4M101.4,106.1L112.5,120.5M109.7,120.3L109.8,115.5M124.6,108.9L121.5,109.2M117.2,104L105.3,104.5M126.9,108.1L122.5,103.7M104.9,114.3L91.4,113.7M107.4,106.8L112.5,113.9M92.7,112.4L111.8,108.8M146.5,102.7L152.1,95.4M119.7,119.4L133.5,119.6M110.6,128.5L110.7,133.5M101.8,104.9L101.5,102.2M104.1,99.5L102.6,104.5M93.2,109.1L101.7,109M115.9,111.6L119.1,121M113.9,97.4L91.6,104.3M126.9,108.1L119.4,104.6M124.1,100.3L154.1,94.5M115.9,111.4L107.4,108.4M104.3,127.1L92.5,127.8M123.5,120L131.6,118.6M135.9,111.8L141.4,115M119.8,120.1L114.5,116.6M113.7,114.8L113.1,116.7M125.9,102.5L121.7,107.8M147.5,106.6L150.3,98M124.6,108.9L120.5,105.2M99.3,107.5L101.2,111M135.4,111.8L147,111.5M125.7,110.4L121.4,112.3M112.8,111.6L110.2,110.2M114,118.2L116,119.8M99.3,107.5L125.7,115.7M124.2,97L129.3,98.8M101.8,104.9L100.7,98.4M107.5,108.1L107.2,97.9M94.8,113.4L92.1,112.9M101.1,120.4L97,117M106.9,128.8L106.6,138.3M100.9,110.4L94,110.2M98.6,119.2L92.1,119.8M135.4,111.8L135.1,106.1M120.3,116.6L130.2,118M124.6,108.9L133.7,103.6M88.7,123.3L70.9,122.8M133,116.9L129.4,107.6M106,114.2L102.3,108.5M114.5,120.1L122.4,119.8M102.2,119.3L112.4,116.4M113.7,114.8L115.2,123.8M115.9,98.4L117.4,92.5M110.2,114.5L112.4,125.6M106.6,115L110.4,114.8M113.2,105.9L113.4,99.7M108.2,113.1L110,111.8M132.9,124.6L118.4,131M118,108.6L99.4,111.9M106.9,128.8L106.2,126.4M113.1,107.6L106.5,92.3M102.1,118.8L107.4,127.4M133.1,109.7L142.6,104M114.9,121.5L116.8,117.1M109.6,124.2L113.5,116.1M95.3,116.6L91.4,123.2M122.9,121.2L124.6,118.1M115.7,96.1L118,108M90.5,128.1L87.9,128" stroke="#58b060" stroke-width="0.45" stroke-opacity="0.5"/>
<path class="fl" d="M107.4,106.8L107.7,100.4M108.5,109.2L117.7,119.2M117.8,113.8L123.5,120.1M129.7,115.8L130.9,108.2M94.8,113.4L91.1,110.8M140.1,114.2L142.5,110M124.1,114.6L114.6,117.1M113.9,97.4L100.9,93.2M124.1,108.5L123.3,116.2M146.5,102.7L148.2,107.9M119.8,120.1L124.6,120.3M112.6,111.5L108.7,120.8M119.7,119.4L125.7,117.8M111.7,109.5L111.6,100.9M112.4,117.6L116.3,118M125.7,110.4L120.8,116.1M94.8,113.4L91.8,111M116.5,123.6L108.3,128.6M97.5,110.9L91.2,113.8M113,119.5L125.6,116.7M110.6,128.5L112.7,126.3M112.3,124.3L113.5,126.2M103.3,98.9L104.6,94.8M92.7,112.4L78.6,104M117.1,110.3L112.5,110.3M125.8,120.3L133.7,118.8M127.1,107.4L132.4,104.1M113.2,105.9L103,115.1M126.9,108.1L128.6,102.2M123,124.5L129.1,122.6M125.7,107.8L121.7,106M133,116.9L149.1,113.5M106.6,115L115,115.9M109.7,120.3L110.4,118.3M120.3,119.8L113.1,123.3M102,106.5L97.1,105.4M108,120.8L97.3,122.3M112.5,103.5L122.4,113.1M123.2,114.3L116.8,114.2M126.9,108.1L131,107.1M119,112.3L125.4,125.4M123.6,111.8L134.3,110.8M103.3,98.9L97.8,93.6M126.9,108.1L112.4,94.8M127.1,107.4L125.9,109.7M88.7,123.3L90.3,115.2M106,105.3L110.7,106.7M88.7,123.3L97.9,128.4M113,113.6L122.6,114.7M116.4,123.6L117.1,125.2M112.6,111.5L97.6,108.7M122.7,123.9L133.8,117.6M113.4,111.9L125.3,117.4M113,119.6L117,119.7M123.2,114.3L133.3,117.4M138.5,119.6L132.9,115.5M107.7,126.8L113,130.2M124.1,100.3L117.3,100.1M133,116.9L119.5,119.9M117.8,113.8L107.8,111.8M119.1,105.8L121.2,108.4M119.3,114.7L113.6,110M104.3,121L88.3,117.9M107.5,108.1L97.6,100.2M133,116.9L130.8,123.2M119.8,120.1L118.7,117.3M124.4,107.5L120.9,106.8M112.3,124.3L114.9,124.9M155.7,118.7L158.3,115.6M98.6,119.2L87,118.3M114.9,113.6L100.1,113.9M97.1,127.9L111.3,122.6M113.4,111.9L119.2,111.1M124.3,107.7L123.6,110.6M130.3,123.5L123.9,122.4M107.5,108.1L127.6,105M107.7,126.8L112.9,137.2M114.1,122.8L114.7,120.4M99.5,94.1L95.5,96.4M111.7,109.5L107.1,110.3M118,108.6L102.8,109.3M100.9,102.9L119.4,101M113.1,107.6L121.9,112.9M130.3,123.5L138,123.1M113.4,111.9L106.8,111.6M125.8,120.3L134.6,116.6M125.7,110.4L133.9,110.1M127.4,101.6L139.3,103M116.7,118.7L113.1,119M135.9,111.8L133.3,111.6M122.9,121.2L134.8,115.7M133.1,109.7L138.6,104.3M124.9,114.3L146.2,120.7M113,119.6L98.7,115.3M98.1,127.2L92,123.9M124,119.5L129,121.8M120.1,112.8L104,109.9M112.4,101L114.4,96.1M123.2,112.9L131.2,108.6M118.7,98.8L116,101.9M109.9,122.6L108.4,110.7M118.6,117.2L137.2,119.3M124.5,123.7L126.9,114.8M106,114.2L128.9,101.8M112.8,111.6L112.7,108M124.1,114.6L125.3,126.4M120.3,116.6L112,118.2M117.4,115.9L116.4,121.3M87,116.3L88.8,119.6M147.5,121.3L169.9,126.9M113,119.5L99.8,118.3M107.3,116.7L103,121.4M129.4,118.3L155.5,119.2M121.1,116.7L111,119M112.8,111.6L110.2,113.4M124,119.5L117.3,132.7M94,120.8L88.9,120.1M118.2,120.1L124.5,107.2M108.2,111L114.9,111.7M119.7,119.4L118.9,111.9M113.1,107.6L112.6,121.1M137.6,118.5L140.2,128.4M107.7,126.8L115.6,127.6M114,118.2L119.2,118.4M117.8,113.8L131.7,114.9M139.3,116.3L136,118.6M106.4,110.3L101.2,111.8M114.2,100.7L111,111.6M117.3,104.6L120.1,104.5M107.3,116.7L110.4,118" stroke="#58b060" stroke-width="0.45" stroke-opacity="0.5"/>
<path class="fl" d="M66.2,96.8L103.7,103.6M66.2,96.8L109.3,103.7M66.2,96.8L107.5,96.3M66.2,96.8L109.6,106.9M65.9,115.7L116.9,121.3M65.9,115.7L120.2,116.5M65.9,115.7L111.3,111.5M65.9,115.7L112.6,95.4M66.9,135L118.3,113.6M66.9,135L117,103.9M66.9,135L108.8,103.3M66.9,135L118.2,115.3M66.9,135L109.9,120.6M66.9,135L118.8,128.5M93,73.7L133.6,99M93,73.7L122.7,111.2M102.9,75.7L112.8,114.8M102.9,75.7L109.8,113.5M102.9,75.7L120.9,107.9M102.9,75.7L112.9,111.3M102.9,75.7L129.5,105M114.5,70.5L108.7,102.7M114.5,70.5L115.3,105.8M114.5,70.5L123.2,111.3M114.5,70.5L98.2,111.4M122.3,69.4L128.1,106.8M122.3,69.4L126.3,107.6M122.3,69.4L136.3,108M122.3,69.4L119.4,108.5M122.3,69.4L119,106.2M122.3,69.4L113.6,105M122.3,69.4L120.1,104.2M122.3,69.4L121.7,106.9M122.3,69.4L118.2,108.5M122.3,69.4L126,109.9M141.8,67.6L112.7,106.9M141.8,67.6L104.6,106.9M141.8,67.6L107,104.5M141.8,67.6L99.5,104.9M141.8,67.6L111.7,119.9M141.8,67.6L122.5,116.9M141.8,67.6L111.7,116.4M141.8,67.6L98.2,110M141.8,67.6L119.1,118.3M147.9,84.3L117,103.9M147.9,84.3L109.1,90.4M147.9,84.3L114.2,104.6M147.9,84.3L107.6,101.4M147.9,84.3L120.5,113.9M147.9,84.3L122,109.8M147.9,84.3L117.9,110.5M147.9,84.3L122.1,118.2M147.9,84.3L127.8,117.1M164.2,113.7L123.4,105.8M164.2,113.7L125.3,104.5M164.2,113.7L127.4,116.2M164.2,113.7L122.5,125M164.2,113.7L124.4,106.3M152.2,144.7L115.9,125.8M152.2,144.7L107.4,133M152.2,144.7L115.2,124.9M152.2,144.7L121.9,120.4M152.2,144.7L121.7,123.2M152.2,144.7L121.1,115.3M152.2,144.7L125.4,117.2M152.2,144.7L125.6,117.5M152.2,144.7L109.4,131.7M139.3,156.8L124.6,110.6M139.3,156.8L128.8,112.6M139.3,156.8L137.9,110.5M139.3,156.8L116.6,117M139.3,156.8L114.6,117.6M139.3,156.8L127,116.7M139.3,156.8L125,116.8M139.3,156.8L117.1,117.1M139.3,156.8L111.9,120.1M117.1,154.5L132,118.9M117.1,154.5L121,119.1M117.1,154.5L121.3,113.6" stroke="#58b060" stroke-width="0.45" stroke-opacity="0.5"/>
<path class="fl" d="M117.1,154.5L132,114.4M117.1,154.5L119.6,112.5M117.1,154.5L116.4,117.1M117.1,154.5L115.8,117M117.1,154.5L120.2,109.9M117.1,154.5L133.7,113.5M117.1,154.5L113.8,125.4M117.1,154.5L118.7,125.7M117.1,154.5L98.8,125.7M111.4,150.9L140.7,121.7M111.4,150.9L141.4,120.1M111.4,150.9L110.6,118.5M111.4,150.9L125.4,119.8M111.4,150.9L113.3,109.7M93.5,140.3L137.9,127.1M93.5,140.3L104,113.5M93.5,140.3L106.5,112.5M93.5,140.3L99.1,111.2M93.5,140.3L98.3,108.5M130.9,77.1L109.6,101.6M130.9,77.1L106.3,102.5M130.9,77.1L98.4,102.2M130.9,77.1L117.2,108.4M130.9,77.1L122.5,112.8M130.9,77.1L131.5,116M130.9,77.1L129,115.3M130.9,77.1L126.1,109.5M154.9,98.3L114.8,98.3M154.9,98.3L118.7,113.7M154.9,98.3L129.3,116.9M154.9,98.3L121.9,109.3M154.9,98.3L129,119.6M154.9,98.3L127.3,123.9M158.9,128.4L130.9,119.1M158.9,128.4L138.1,97.8M158.9,128.4L135.8,95.9M158.9,128.4L125.3,121M158.9,128.4L122.8,116.4M158.9,128.4L124.7,120.7M158.9,128.4L126.6,126.3M158.9,128.4L127.9,113.2M158.9,128.4L124.6,108.7M158.9,128.4L124,117.3M126.7,160.6L107.4,118M126.7,160.6L104.7,123M126.7,160.6L116.4,116.1M126.7,160.6L112,116.8M126.7,160.6L115.8,113.7M126.7,160.6L107.8,112.5M126.7,160.6L108.5,111.3M126.7,160.6L102,114.5M126.7,160.6L106.1,107.8M126.7,160.6L99.4,113.2M126.7,160.6L111.6,110.7M100.2,129L118.3,114.6M100.2,129L122.8,130.4M100.2,129L121.2,124M100.2,129L108.6,110.3M100.2,129L126.5,120.2M100.2,129L129.2,125.4M100.2,129L114.1,111M84.3,108.1L114.1,127.4M84.3,108.1L112.2,131.3M84.3,108.1L108.2,109.7M84.3,108.1L110.6,101.2M84.3,108.1L106.9,111.2M84.3,108.1L108.3,109.2M84.3,108.1L108.5,118.3M84.3,108.1L121.7,110.3M84.3,108.1L119.8,111.5M83.1,90.1L111.4,107M83.1,90.1L110.2,109.5M83.1,90.1L113.7,107.3M83.1,90.1L123.8,99M83.1,90.1L127.2,95.8M83.1,90.1L113.3,107.5M83.1,90.1L106.4,110.8M83.1,90.1L105.6,116.2" stroke="#58b060" stroke-width="0.45" stroke-opacity="0.5"/>
<ellipse cx="116.5" cy="113.7" rx="14.9" ry="8.5" fill="#b0d890" fill-opacity="0.12"/>
<path class="fl" d="M98.1,101.6L102.3,108M113.8,104.7L108.5,105.4M118.1,108.9L117.6,107.3M114.8,125.4L113.7,124.2M126,108.3L117.3,106.4M107.6,111.3L105.3,110M126.3,107L125.7,105.5M97.7,112.7L102.8,116.6M141.4,117.5L145.1,120.9M123.5,126.7L120.1,125.4M128.6,104.1L128,106.2M115.9,119L112.4,119.6M141,120.1L142.9,122.9M113.9,110.9L108.9,113.2M131.2,120L136.4,122.8M110.4,112.7L110.7,116.5M126.7,109.8L122.7,107.4M118.2,113.4L121.1,111.8M120.7,117.9L117.4,121.3M122.1,117.7L127.8,117.3M119.4,123L120.4,126.7M115,106.2L112,104.8M124.7,109.1L122.2,111.8M126.6,115.1L125.8,117.3M125,113.5L123.6,121M125.9,111.2L118.7,117M102.5,121.7L116.3,116.6M109.9,110.5L118.4,106.8M132.5,109.6L132.5,112.7M108.7,120.9L113.5,123.3M109.5,114.4L109.4,112.9M125.2,113.6L125.7,121.4M102.9,112.5L111.9,109.5M128.3,111L145,117.7M112.4,110.5L114.2,108.7M106.1,120.3L108.5,122M102.1,119.5L105.6,119.1M142.4,109.2L140.2,103.8M120.7,114.4L120.8,116.9M119.3,119.9L131.6,119.4M130,112.5L130.2,105.3M124.3,126.2L123.6,124.6M125.4,112.2L119.9,116M109.9,109.9L113.7,108.5M131.6,108.5L136,104.3M131.5,111.6L128,112M94.6,109.4L100.2,111.8M107.6,118L102.3,114.5M121.3,107.6L127.8,108.3M119.7,112.3L123.6,112.3M127.4,115.6L122.6,108.5M126.6,119.1L128.9,124.4M100.6,119.6L101.2,118.5M121,119.7L119.4,115M129.4,103.5L127.8,101.6M123.8,107.3L127.4,106.4M129.3,111.3L132.9,114M123.3,115.5L127.5,117.1M96.6,119.2L99.7,118.2M107.1,112.7L101.1,107.2M141.7,103.6L147.7,104.7M126.8,116.3L130.7,118.1M120.9,112.5L123.3,107.7M130.2,115.6L124.2,115.2M123.2,122.4L119.9,125.8M126.2,113.5L127.3,114.7M120.3,106.8L113.9,110.7M116.8,119L119.8,119.2M117.6,117.2L116.9,119.2M135.9,108.3L138.6,109.9M113.7,118.5L122.1,119.4M103.3,115.9L93.2,113.6M134.2,108L136.6,106.5M138.8,116.9L145.2,117.2M106.5,102.2L97.9,101.1M124.9,113.6L126.2,115.2M132.4,118.7L128.8,121.9M113.3,119.9L117.4,125.9M100.5,120.7L100.6,122.5M118.9,114.5L120.7,115.1M108.1,114.6L111.9,116.4M125.2,125.2L119.3,123.9M122.5,117.6L120,121M118.9,125.2L116.5,124.7M145.8,109.6L144.1,113.2M111.3,110.3L120.9,107.5M94.1,119.4L99.5,115.6M119.5,112.7L118,104.1M133.1,113.3L128.2,116.5M113,117.6L108.1,119.5M104.9,114.1L97.5,118.8M124.3,124.4L123.3,127.1M104,109.5L98.2,107.3M118.2,112.6L117.6,117M104.4,119.1L110.5,125.8M91.4,104.9L92.8,104M120.5,108.7L117.9,109.8M114.9,111L117.8,116.8M107.7,120.3L102.3,118.3M132.7,111.2L133.5,108.7M125.4,111.1L128.8,114.4M102.9,109.1L115.6,117.9M110.3,132.2L111.7,126.8M144.3,110.7L142.1,112.7M128.6,116.6L128.8,120.5M116.6,113L116.4,116.7M105.1,114.1L111.9,115.7M126.2,123.1L128.1,124.7M95.6,111.5L85.7,109.9M118.7,120.7L121.9,124M99.9,112.2L96.7,111.9M127.5,115.1L141.4,121.6M115.7,104.8L114.6,106.2M121.4,102.9L123.8,102M102.3,125.5L104.8,126.6M135.3,111L139,113.3M106.7,116.5L105.1,118.8M110.9,107.3L111.1,109M130.2,108.9L139.5,109.5M88.1,116.1L86.8,112.9M131.3,109.1L128.7,108.3M143.5,121.1L141.1,123.4M116.8,127L106.6,128.3M111.9,111.2L104.5,114.9M101,97.5L99.9,95.4M105.1,114.4L104.4,115.9M105.9,106.2L103.5,105.6M122.1,111.4L125.1,116.1M96.1,119.7L99.6,117.9M122.1,105.6L124.9,104.6M106,116.7L104.9,115.4M134.5,115L131.6,118.6M130.9,106.6L127.5,107M129.1,114.9L126.5,117.7M109.5,124.9L103.9,119M123.1,118.1L124.3,114.2M108.7,112.4L103.5,109.4M117.3,119.6L113.6,119.1M142.4,124L134.6,123M129.1,108.2L129.3,110.7M119.3,118.3L127.3,114.1M126.3,106.9L127,105.8M112.5,103.5L121.4,101.3M94.9,120L95.9,121.1M142.6,107.7L143.3,106.3M105.7,114.7L113.5,112.6M115.3,110.2L117.7,110.8M131.3,125.4L146.7,130.7M111.3,106.1L113.8,107M111.3,117.5L105.9,117.4M129.7,113.6L110.2,114M129.6,108.9L137.9,109.6M122.9,108.5L122,112.7M131.7,131.8L124.6,134.3M93.5,120.2L94.4,122.3M142.1,103.9L132.3,105.6M102.9,116L105.4,113M123,125.3L121.6,127M110.8,115.9L124.1,115.2M135.4,125.4L135.3,123.6M113.9,113.5L125.2,109.1M132.2,125.2L134.4,125.9M120.6,125L116.8,123.1M115.7,105.8L114.3,103.7M110.2,120.4L105.9,116M117.2,123.6L118.9,129.5M107.7,103.3L99.3,102.9M102.6,107.9L92.4,109.8M143,103.5L144.6,99.6M97.3,119.5L100.1,121.3M131.3,113.6L132,111.7M124.7,98.1L128.6,90.3M87.4,115.2L86.2,116.5M137.1,111.2L134.4,112.7" stroke="#b0d890" stroke-width="0.42" stroke-opacity="0.7"/>
<path class="fl" d="M65.4,104.5L66.2,109M123.2,116.7L128.9,116.9M118.4,113.9L129.3,116.2M111.4,110.5L113.7,107.4M105.4,113.8L106.1,117.5M139.8,117.4L139.6,115.8M155.8,121.7L157.5,120.2M142.3,105.5L136,104.2M113.4,122.1L118.7,125.4M114.9,108.2L103.7,111M121.2,115.6L107.5,114.9M148.9,113.7L156,110.9M113.9,117.1L114.3,122.6M118.4,119.8L112.2,119M116.6,108.4L111.7,103.3M121.1,125.6L123.1,125.9M112.1,124L112.1,128.4M106.8,106.4L101.9,103.1M114.1,117.3L115.5,119.1M117.1,119.3L122.8,121.6M115.4,115.5L118.2,114.7M103,118.1L99.4,114M110.3,120.9L106.8,121.9M118,120.8L116.6,116.7M112.8,107.3L104.5,105.5M117.7,108.8L106.4,112.5M131.5,120.5L122.7,115.3M134.5,120.5L136,124.3M116.9,121.6L119.2,120M129.2,100.2L144.4,97.6M126.4,100.5L115.8,98.8M93.4,106.8L95.4,108.6M98.5,101.2L89,106.6M96,112.2L93.3,113.6M96.2,113.2L94.3,110.2M96.9,109.4L98.9,110.2M124.6,107L135.7,107.7M113.4,108.9L115.2,113.6M121.7,116.3L119.3,117.2M150.6,101.9L146.1,101.4M110.5,102.3L126.9,101.4M116.9,111.2L113.8,110.3M132,108.2L129.1,110.4M107.3,117.5L108.5,114.5M98.9,105.9L103.1,104.3M126.9,127.3L122.8,129.8M117.7,109.5L117.9,112.5M113.7,108.4L104.6,105.8M121.5,115L123.9,108.5M120.1,113.7L120.9,120.2M112.3,106.5L109,106.3M127.4,113.9L120.7,119.6M117.1,108.2L122.4,110.1M103.9,110.3L103.2,113.7M117.6,111.9L108.4,107.3M107,99.1L108.9,94.5M123.9,109.5L127.2,112.6M119.8,109.7L113.1,107.7M115.8,118.6L116.8,120.1M131.1,109.5L135.9,105.5M111.5,110.5L113.9,114.6M116.3,117.3L116.2,115M133.2,112L128.3,116.6M143.6,116.1L161.9,119.1M122.1,115.4L132,113.9M119.9,123.4L126.2,125.8M127.5,110.6L123.6,117.9M106.5,112.3L100.1,111.6M107.7,114L113.7,110.8M131.3,116.9L132.3,118M130.2,109.6L124.5,106M106.5,106.5L107.5,112.1M124.2,110.6L109.5,111.5M126.5,105.7L129.4,102.2M98.6,119.8L98.5,116.1M113.3,116.3L109.6,112.5M112.9,123.9L112.3,119.9M108.3,108.4L108.6,114.7M127.7,107.8L117.9,107M120.2,113L125,110.4M131.4,100.9L120.7,101.8M102.4,111.5L106.2,108.1M105.6,114.7L110.5,113.8M126.1,128.6L135.7,126.4M115.5,117.1L122.8,116.6M117.7,122.5L114.6,125.2M140.8,105.5L135,98.3M108.3,103.1L112.8,103.5M123.7,126.9L127.3,123.5M133.2,124L133.5,122.1M109.3,105.9L99,103.3M112.2,124L100.6,123.6M101.9,110.1L107.9,108.5M111.5,124.4L116.2,118.3M127.5,110L127.3,106.9M120.8,121.4L110.5,115.5M104.8,110.8L107.7,109M121.8,102.2L134.1,102.2M110.1,106.8L113.4,105.9M124,107.8L124.9,105.8M95.3,106.5L89.8,105.1M121.9,111.1L113.6,111.7M126.4,124L126.5,128.1M143,119.5L146.9,120.9M136.7,108.8L126.5,104.9M116.8,117L114.8,117.4M116.4,111.7L111.9,112.2M135.5,100.3L136.1,103.1M117.5,115.5L108.6,118.6M126.8,104.5L135.8,98M106.7,109.4L104.3,107.7M111.1,116.2L113.5,117.8M120.5,120.9L120.9,118.9M101.1,126L104.2,123.3M86.5,107.3L83.6,105.6M105,126L107.8,120.4M103.9,122.9L106.3,118.2M114,131.9L112.4,135.6M128.4,111.3L125.5,108.9M129.7,107.7L126.4,106.6M112.3,105.6L105.7,102.3M112.7,111.1L110.3,114.4M138.6,112.8L134.8,117.9M132.4,115.5L132.4,112.8M133.7,106.7L136.5,107.3M115.5,108.9L104.5,105.9M96.1,114.7L112.2,125M117.1,111.5L118.7,107.4M113.1,122.2L116.1,120.5M110.5,116.8L110.5,114.3M110.6,116.9L102.6,116.3M83.6,113.9L77.6,112.9M139.1,110.8L137.6,114.6M117.6,114.5L117,112.8M116.2,108.3L131.7,109.4M123,119.2L129.1,121.3M118.4,117.3L118.2,113.9M119.6,115.7L125.5,122.2M110.8,113.9L111.4,110.3M132.8,111.2L148,109M113.1,110.9L118.8,102.8M124.2,117.6L131.4,115.4M114.3,115.6L111.1,116.1M111.9,113L102.5,116.8M114.9,113.6L121.5,109.3M103.2,111.9L101.6,110.6M98.7,127.3L116.5,129.2M95.9,103.8L105.5,113.2M130.2,130.3L129.3,128.2M129.9,123.7L133.8,123.9M94.4,109.2L95.7,113M94.2,107.8L92,110.8M122.8,125L117.4,129M117.3,101L111.8,102.1M131.6,113.3L128.2,122.8M128.6,111.6L133.3,108.1M111.3,109.3L111.6,102.8M115.8,104.8L111,100.5M114,118.6L111.4,119.8M110.4,106.2L112,103.9M123,114.4L129,116.4M117.2,106.4L120,102.4M117.3,101.5L119.3,100.9M103.7,109L100.8,107.7M121.5,108.4L127.6,108.1M143.6,122.1L141.3,122.6M134.6,110.5L128.6,110.9M102.9,114.5L100.5,111.7M122.6,118.8L115.9,119.9M123.7,128L127.4,137.1M117.6,117.2L118,119.2M122.3,118L126.6,116.8M106.4,110L102.8,108.8M104.3,111.8L106.2,109.7" stroke="#b0d890" stroke-width="0.42" stroke-opacity="0.7"/>
<path class="fl" d="M107.7,111L105.6,105.3M115.2,113.5L113.4,110.6M117.6,114.5L125.3,113.4M113,116.4L110.9,112.3M120.4,115.6L124.3,122.7M132.6,119.7L128.3,118.1M97.5,106.4L96.2,104.8M111.8,119.9L119.5,124.7M104.8,117.8L98.6,115.5M111.4,116.4L113.2,121.6M132,121.8L128.1,116.9M122.8,104.7L119.7,107.8M125.3,112.5L132.4,120.7M116.3,110.2L122.3,107.8M108.5,117.3L106.1,118.3M108.5,95.7L100.8,97.5M123.1,113.2L121,113.5M135.3,116.2L131.2,115.5M131.7,119.2L142.8,116M102.9,114.8L106.7,121.9M82.6,112.1L81.7,110.3M102,107.1L88,104.3M133.9,125.9L125.1,121.8M126,101.5L122.6,102.5M129,113.4L124.6,113.4M110.7,115.2L100.1,114.1M120,128.9L121.1,121.8M132.4,110.2L134.5,109.9M106.9,109.9L110,110.4M115.6,113.8L105.8,115.8M125.2,108L118.3,113.5M102.8,115.6L111.2,115.6M125.3,98.1L128.8,98.5M96.8,111.1L91.8,111.2M106.8,103.4L120.9,103.3M101.4,110.3L115,109M116.3,111.8L120.4,112.5M110.9,109.1L117.3,105.8M125.9,112.9L115.7,108.1M102.2,116.8L98.6,118M111.4,116.2L115.6,116.2M107.5,111.1L118.9,108.1M127,109.6L121.7,111.8M104.1,105.9L104.7,107.6M126.3,113.7L125.6,116M115.1,112.4L115.9,105.5M125.4,105.2L117,105.3M107.6,121.5L105.8,122.6M124.3,104.6L130,104.7M118.9,93.9L116.9,96.4M115.5,111.1L108.8,108.5M116,108.7L114.9,114.8M135.5,108.4L131.5,107.9M97.9,114.4L90.6,118.3M82.7,123.9L83.9,126.5M88.4,116.4L83.7,116.3M123.6,91.7L119.5,90.2M125.9,117.5L133.2,123.7M127.2,120.8L132.7,123.8M119.8,117.6L122.2,115.1M91.1,114.6L96,121.6M117.1,118.8L119.2,114.6M107.3,103.8L104,106.3M118.6,105.7L120.5,104.6M147.9,114.7L146.9,119.3M123,115.7L125.5,113.5M111.4,108.4L108.9,107.2M107.6,105.4L108.7,106.8M117.9,119.8L119.2,122.4M104.4,104.7L102.2,109M101.3,107.1L95.2,105.4M115.2,107.9L117.3,112.3M133.9,124L133.5,121.5M118.9,107.5L113.1,108.1M127,121L126,115.6M107.9,119.4L106.3,116.8M122.1,118.7L123.9,123.9M112.6,109.1L114.4,112.2M139.7,123.7L137.9,133.4M119.8,112.9L120.4,114.1M129.6,116.7L125.6,114.7M114.4,111.7L111.2,113.5M98.7,98.9L96.1,98.9M102.6,109.6L111.1,115.4M112.6,113.4L113.6,110.3M120.4,112.4L123.4,114.4M106.2,113.1L97.4,112.8M114.7,121.9L113.9,125.1M107,123.5L108.8,121.8M128.3,117.3L123.2,116.7M95.8,119.7L97.5,117M109.3,98.5L115,102.1M91.6,123.5L94.5,123.3M117.2,113.4L122.7,112.5M110.3,117.1L117.8,119.5M106.8,120.8L102.8,118.8M107.2,126L103.9,127.3M112.1,123.3L116.4,134.9M97.5,119.3L95.2,127.2M98.4,119.6L109.4,118.8M127,95.3L118,96.9M117.2,116.6L121.3,113.9M130.8,122.7L131.9,124.1M112.7,105.7L115.4,112.2M112.7,99L106.4,96M96.7,109L103.3,113.1M116.4,107.7L118.6,104M118.6,114L105.7,108.7M92.6,104.6L85.1,104.2M127.1,116.1L126.8,120.4M133,109.2L131.5,111M121.7,108.5L135.1,115.2M121.9,116.6L128.1,114.1M120.8,111.4L128.7,111M112.4,117.3L114,118.4M108.7,117.6L109.6,123.8M121.1,119.5L123.9,115.1M116.6,109.5L113.7,112.4M129.1,112.4L128.2,111.4M120.5,116.9L124.5,113.2M106.9,117.7L106,114.3M127.3,115.3L129.7,113.4M120.7,124.7L117.1,121.1M119.5,132.9L121.9,131.4M95,113.1L98.6,113.7M119.8,120.9L115.1,112.8M133.6,111.9L136.3,120.1M129.2,112.5L128,111.3M106,102.4L103.8,105.3M122.5,114L125.6,118.6M135.2,105.2L132.4,106.1M130.7,104.8L127.6,103.9M106.1,115.1L100.4,109.1M121.7,115.3L125.3,115.3M121.5,118.3L120.8,111.8M116.7,119.4L121.6,120.9M121.8,114.1L117.5,113.6M107.7,113.8L105.8,114.3M104.4,127.3L97.6,126.4M123.8,104.1L118.2,103.4M107.7,104.6L111.4,98.8M126.9,103.6L128.4,106.3M112.6,121.5L114.1,120.2M112.2,117.1L116.1,118.7M131,112.1L128.9,109.2M124.1,109.5L114.1,115.4M122,119.4L121.9,124.1M106,110.5L108.2,112M110.6,115.5L115.6,111.4M120.2,107.7L117.4,105.9M99.4,114.1L102.5,114.9M112.2,105.9L107,106.9M119.6,123.7L125.9,120.6M114.1,101.9L125.6,102.9M110.7,110.2L121.9,110.6M114,115.2L118.7,115.7M106.4,120.4L112.5,120.2M111.6,114.4L109.4,114.5M108.3,100.8L96.4,99.5M122.9,112.9L129.8,117.6M144.2,125.1L135.3,126.6M97.6,105.3L96.5,103.1M117.8,118.2L122,115.5M97,113L98.6,109M124.9,130.4L122.3,127.7M114.7,117.5L122.1,114.4M109.7,123.2L112,123M119.4,106.5L121.6,106.8M130.2,102.1L132.2,110.5M127.1,117.2L126.2,122.4M118.1,105.1L117.9,103.1M131.8,120.6L131.2,125.9" stroke="#b0d890" stroke-width="0.42" stroke-opacity="0.7"/>
<path class="fl" d="M109.9,114.7L108.6,113.3M109.7,111.7L112.2,114M125.4,125.5L128.2,126.2M112.5,124.9L116.6,125.2M119.3,107.2L120.5,109.8M123.5,114.6L123.7,116.3M122,115.5L117.7,120.6M100.1,116.4L98.5,119.6M129.9,119.7L123.1,122.1M104.3,108.8L106.6,111M119.6,116.3L117.8,118.5M108.5,113L111.2,110.3M127.5,103.5L121.9,103.5M108.7,122.5L106,119M133.6,116.5L135.7,111.2M119.3,111.7L119,114.5M110.8,110.6L108.5,111.8M120.9,113.4L115.7,116.4M104.7,110.7L107.2,107M99.2,114.1L92.6,117M88.4,106.1L91.3,101.3M119.8,115.1L112.8,117.9M119.3,111.6L122.7,110.7M118.9,112.3L116.9,110.1M117.7,115.9L124.7,115.8M118.3,102.2L124.2,100.4M110.8,109.7L111.1,113.8M118.3,112.9L123.5,112.9M129.2,122.6L127,121.7M122,107L115.1,105.1M129.1,106.1L126.5,100.5M114.4,112.3L121.2,114.2M121.5,112.2L124.6,114.8M122.9,108.4L128.9,110.6M109.5,119L104.2,121.3M92.3,120.6L94.7,115.9M118.7,107.1L120.4,105.9M126.5,107.4L122.6,107.9M134.7,115L139.6,114.2M124,107.4L128.6,103.6M102.3,128.2L103,126.5M132.5,115.9L137.1,117.2M122.1,106.4L122.2,108.5M102.7,115.6L97.6,115.1M120.6,107L118.5,103.3M121.7,110.9L119.3,114.8" stroke="#f0f2c0" stroke-width="0.6" stroke-opacity="0.85"/>
<g fill="#f0f2c0" fill-opacity="0.8"><circle cx="66.2" cy="96.8" r="0.5"/><circle cx="65.9" cy="115.7" r="0.5"/><circle cx="66.9" cy="135" r="0.5"/><circle cx="75.3" cy="152.6" r="0.5"/><circle cx="93" cy="73.7" r="0.5"/><circle cx="102.9" cy="75.7" r="0.5"/><circle cx="114.5" cy="70.5" r="0.5"/><circle cx="122.3" cy="69.4" r="0.5"/><circle cx="141.8" cy="67.6" r="0.5"/><circle cx="147.9" cy="84.3" r="0.5"/><circle cx="164.2" cy="113.7" r="0.5"/><circle cx="152.2" cy="144.7" r="0.5"/><circle cx="139.3" cy="156.8" r="0.5"/><circle cx="117.1" cy="154.5" r="0.5"/><circle cx="111.4" cy="150.9" r="0.5"/><circle cx="93.5" cy="140.3" r="0.5"/><circle cx="130.9" cy="77.1" r="0.5"/><circle cx="154.9" cy="98.3" r="0.5"/><circle cx="158.9" cy="128.4" r="0.5"/><circle cx="126.7" cy="160.6" r="0.5"/><circle cx="100.2" cy="129" r="0.5"/><circle cx="84.3" cy="108.1" r="0.5"/><circle cx="83.1" cy="90.1" r="0.5"/></g>
<path class="fl" d="M74.4,50.2L91,49.3" stroke="#cfe6a0" stroke-width="0.7" stroke-opacity="1" stroke-linejoin="round"/>
<path class="fl" d="M93.9,73L102.4,74.5L96.5,86L106,79" stroke="#f0f0b8" stroke-width="0.9" stroke-opacity="1" stroke-linejoin="round"/>
<path class="fl" d="M39,157L74.4,152L92.7,140L108,136" stroke="#e4eea8" stroke-width="0.9" stroke-opacity="1" stroke-linejoin="round"/>
<path class="fl" d="M66.6,135L74.4,152L74.6,160" stroke="#d8e8a0" stroke-width="0.8" stroke-opacity="1" stroke-linejoin="round"/>
<path class="fl" d="M74.4,152L86,158" stroke="#d8e8a0" stroke-width="0.7" stroke-opacity="1" stroke-linejoin="round"/>
<path class="fl" d="M107,111L125,117" stroke="#f6f6c8" stroke-width="1.1" stroke-opacity="1" stroke-linejoin="round"/>
<circle cx="74.4" cy="152" r="1.6" fill="#f4f4c4"/>
<path class="fl" d="M88,140L112,147M88.8,141L113,148.6M89.6,142L114,150.2M90.4,140L115,151.8M91.2,141L112,153.4M92,142L113,155M92.8,140L114,156.6M93.6,141L115,158.2M94.4,142L112,159.8" stroke="#a8d8c4" stroke-width="0.5" stroke-opacity="0.7"/>
<path class="fl" d="M91,49.3L108,62L122,68" stroke="#a8d8c4" stroke-width="0.4" stroke-opacity="0.8" stroke-linejoin="round"/>
<path class="fl" d="M93.9,73L104.5,75L102.5,86L94,85L93.9,73L102.5,86" stroke="#dcecac" stroke-width="0.7" stroke-opacity="1" stroke-linejoin="round"/>
</g>
<path d="M580.8,23.2V26.2H617.3V23.2" fill="none" stroke="#5a5a5a" stroke-width="0.9"/>
<text class="sb" x="581.1" y="19.2" text-anchor="middle">0</text>
<text class="sb" x="606.3" y="19.2">50 km</text>
<g transform="translate(2.3,207.5)">
<use href="#og" fill="#dedfdf"/>
<use href="#n1" fill="#050707"/>
<use href="#n1h" fill="#dedfdf"/>
<path d="M83,106.9L89.9,107.9L71.5,103.9L93.2,103.1L82.6,89.3L99.4,97L89.9,79.4L101.5,88L97.5,69.1L109.9,85.1L114.1,70L117.7,88.4L122.8,70.4L124.5,83.3L131,76.3L130.4,92.5L146.6,84.5L138.9,98.9L154.3,98.4L139.1,108.8L165.4,112.7L141.1,117.6L158.1,129.2L148.5,127.8L162.4,137.6L148.1,135.3L152.7,145.7L137.4,140.7L138.5,157.4L125.6,139.4L126.7,160.8L121.1,141.7L122.1,162L116.4,134.9L112,149.6L107.9,131.9L91.3,140.8L90.8,124.7L66.2,113.8L93.8,111.2Z" fill="#942880" fill-opacity="0.38"/>
<path d="M93.1,108.8L102.4,110.4L85,106.7L99.2,105.7L92.7,96.5L101.9,99.4L97.9,89.6L105.7,95L103.2,82.4L111.6,92.5L114.8,83L117.4,94.4L120.9,83.3L122,92.8L126.6,87.4L126,99L137.6,93.1L133,102.7L143,102.9L137.4,109.2L150.7,112.9L135.5,116.6L145.6,124.4L133.5,121L148.6,130.3L138.9,128.8L141.8,135.9L131.8,133.3L131.9,144.2L123.6,133.6L123.6,146.5L120.5,137.9L120.4,147.4L116.4,129L113.3,138.7L108.2,131.1L98.8,132.6L109.7,120L104.6,123.9L107.3,116.8L81.3,113.6L101.3,111.9Z" fill="#bc3e98" fill-opacity="0.24"/>
<ellipse cx="116.5" cy="113.2" rx="20.2" ry="12.8" fill="#de5aa6" fill-opacity="0.28"/>
<path d="M97.5,69.1L114.4,98.8L128.2,92.9Z" fill="#942880" fill-opacity="0.11"/>
<path d="M97.5,69.1L106.8,108.6L127.1,99.9Z" fill="#942880" fill-opacity="0.11"/>
<path d="M89.9,79.4L98.3,116L112.6,104.7Z" fill="#942880" fill-opacity="0.11"/>
<path d="M89.9,79.4L93.9,121.3L107.8,110.3Z" fill="#942880" fill-opacity="0.11"/>
<path d="M89.9,79.4L105.5,123.6L124.6,108.5Z" fill="#942880" fill-opacity="0.11"/>
<path d="M64.8,95.9L103.4,123.9L106.9,113.3Z" fill="#942880" fill-opacity="0.1"/>
<path d="M64.8,95.9L100.4,114.8L107,95.2Z" fill="#942880" fill-opacity="0.1"/>
<path d="M66.2,113.8L114.5,124.4L114.2,100.9Z" fill="#942880" fill-opacity="0.11"/>
<path d="M66.2,113.8L112.6,115.8L112.4,97.9Z" fill="#942880" fill-opacity="0.11"/>
<path d="M71.5,103.9L109.1,117.5L112.6,100.7Z" fill="#942880" fill-opacity="0.11"/>
<path d="M71.5,103.9L110.7,138.3L115.7,114Z" fill="#942880" fill-opacity="0.11"/>
<path d="M71.5,103.9L115.8,127.5L118.5,114.4Z" fill="#942880" fill-opacity="0.11"/>
<path d="M91.3,140.8L126.3,137L107.9,120.2Z" fill="#942880" fill-opacity="0.12"/>
<path d="M91.3,140.8L114.6,119.1L106.6,111.8Z" fill="#942880" fill-opacity="0.12"/>
<path d="M99.5,128.5L127.1,123.1L115.8,110.6Z" fill="#942880" fill-opacity="0.14"/>
<path d="M99.5,128.5L124.2,127.5L111.3,113.1Z" fill="#942880" fill-opacity="0.14"/>
<path d="M99.5,128.5L123.2,118.3L112.4,106.3Z" fill="#942880" fill-opacity="0.14"/>
<path d="M114.1,70L109.5,101L135.2,99.6Z" fill="#942880" fill-opacity="0.11"/>
<path d="M114.1,70L109.7,110.4L127.5,109.5Z" fill="#942880" fill-opacity="0.11"/>
<path d="M114.1,70L107.6,114.4L134.1,113Z" fill="#942880" fill-opacity="0.11"/>
<path d="M122.8,70.4L112.3,100.7L124.4,102.5Z" fill="#942880" fill-opacity="0.11"/>
<path d="M122.8,70.4L105.8,105.8L129.6,109.3Z" fill="#942880" fill-opacity="0.11"/>
<path d="M131,76.3L119,109.5L140.8,118Z" fill="#942880" fill-opacity="0.12"/>
<path d="M131,76.3L107.3,105.6L131.8,115.2Z" fill="#942880" fill-opacity="0.12"/>
<path d="M141.6,66.1L112.2,93.1L129.1,102.1Z" fill="#942880" fill-opacity="0.1"/>
<path d="M141.6,66.1L125.1,109.3L136.8,115.6Z" fill="#942880" fill-opacity="0.1"/>
<path d="M146.6,84.5L108.6,106.3L121.6,119.9Z" fill="#942880" fill-opacity="0.12"/>
<path d="M146.6,84.5L103.8,104.7L116,117.4Z" fill="#942880" fill-opacity="0.12"/>
<path d="M165.4,112.7L118.6,109.7L118.8,122.8Z" fill="#942880" fill-opacity="0.11"/>
<path d="M165.4,112.7L112.6,99.9L112.7,112.8Z" fill="#942880" fill-opacity="0.11"/>
<path d="M154.3,98.4L121.8,97.5L128.7,115.1Z" fill="#942880" fill-opacity="0.12"/>
<path d="M154.3,98.4L119.5,114.6L126.8,133.2Z" fill="#942880" fill-opacity="0.12"/>
<path d="M154.3,98.4L119.7,99.7L129.4,124.5Z" fill="#942880" fill-opacity="0.12"/>
<path d="M162.4,137.6L136.4,105.1L130.2,116.8Z" fill="#942880" fill-opacity="0.11"/>
<path d="M162.4,137.6L137,98.7L123.9,123.3Z" fill="#942880" fill-opacity="0.11"/>
<path d="M162.4,137.6L124.9,103.6L119,114.7Z" fill="#942880" fill-opacity="0.11"/>
<path d="M152.7,145.7L108.4,116.1L101.1,124.1Z" fill="#942880" fill-opacity="0.11"/>
<path d="M152.7,145.7L132.7,113L117.3,130.1Z" fill="#942880" fill-opacity="0.11"/>
<path d="M152.7,145.7L134.7,97.2L120.4,113.1Z" fill="#942880" fill-opacity="0.11"/>
<path d="M138.5,157.4L120,125.1L102.9,133.6Z" fill="#942880" fill-opacity="0.11"/>
<path d="M138.5,157.4L141.1,109.8L119.4,120.7Z" fill="#942880" fill-opacity="0.11"/>
<path d="M138.5,157.4L126.2,117.9L106.3,127.8Z" fill="#942880" fill-opacity="0.11"/>
<path d="M122.1,162L138.5,124.5L120.8,126.5Z" fill="#942880" fill-opacity="0.11"/>
<path d="M122.1,162L115.3,116.4L104.2,117.7Z" fill="#942880" fill-opacity="0.11"/>
<path d="M122.1,162L116.1,118.6L103.3,120.1Z" fill="#942880" fill-opacity="0.11"/>
<path d="M112,149.6L117.4,122.2L100.4,120.1Z" fill="#942880" fill-opacity="0.12"/>
<path d="M112,149.6L118.5,115.3L104.3,113.5Z" fill="#942880" fill-opacity="0.12"/>
<path d="M112,149.6L135.5,113.6L109,110.3Z" fill="#942880" fill-opacity="0.12"/>
<path d="M126.7,160.8L124.8,120.8L103.5,125.4Z" fill="#942880" fill-opacity="0.11"/>
<path d="M126.7,160.8L134.2,121.2L118.3,124.6Z" fill="#942880" fill-opacity="0.11"/>
<path d="M126.7,160.8L119,115.5L92.9,121.1Z" fill="#942880" fill-opacity="0.11"/>
<path d="M83,106.9L114.6,130.8L118.7,109Z" fill="#942880" fill-opacity="0.12"/>
<path d="M83,106.9L117.7,116.4L120.9,99.2Z" fill="#942880" fill-opacity="0.12"/>
<path d="M83,106.9L112.2,132.3L116.5,109.7Z" fill="#942880" fill-opacity="0.12"/>
<path d="M158.1,129.2L133.2,104.4L129.5,113.9Z" fill="#942880" fill-opacity="0.11"/>
<path d="M158.1,129.2L118.2,101.2L109.5,124Z" fill="#942880" fill-opacity="0.11"/>
<path d="M158.1,129.2L118.8,96.3L114,108.9Z" fill="#942880" fill-opacity="0.11"/>
<path d="M82.6,89.3L112.2,121.7L122.8,106.6Z" fill="#942880" fill-opacity="0.11"/>
<path d="M82.6,89.3L95.5,122.4L103.2,111.5Z" fill="#942880" fill-opacity="0.11"/>
<path d="M82.6,89.3L97.5,126.1L111.8,105.9Z" fill="#942880" fill-opacity="0.11"/>
<path class="fl" d="M136.4,174.7L125.3,107M145.8,180.5L118.9,123.8M136.4,174.7L132.3,105.1M90.9,51.3L105.2,101.1M172.3,165.7L102.9,123.4M136.4,174.7L126.2,107.2M170.8,89.1L113.3,100.5M90.9,51.3L114.5,114.6M136.4,174.7L120.9,103.2M73.6,152L128.5,126.5M73.3,161.1L111.2,126.4M195.1,86.1L133.7,120.1M73.3,161.1L109.5,123.1M136.4,174.7L112,105.5M179.7,85.3L133.5,124.5M90.9,51.3L105.6,99.8M176.2,134L117.2,124.8M195.1,86.1L129.4,104.7M145.8,180.5L110.2,119.9M73.3,161.1L128.5,123.4M172.3,165.7L136.7,106M179.7,85.3L129.6,115.8M90.9,51.3L106.6,105.7M74.1,50.4L110.2,91.6M73.3,161.1L111.4,129M179.7,85.3L123.4,101.3M195.1,86.1L137.7,120.8M72.1,73.2L124.9,102.6M170.8,89.1L117.2,102.7M136.4,174.7L129.6,110.9M74.1,50.4L98.2,103.9M40.1,157.6L87.3,104.8M72.1,73.2L117.1,111.9M170.8,89.1L116.1,108.1M73.3,161.1L118.6,132.8M64,147.4L104,103.2M172.3,165.7L128.6,108.2M73.6,152L124.4,117.1M90.9,51.3L101.3,114.1M73.3,161.1L113.9,137.5M73.6,152L126.8,124.8M73.6,152L123.2,117.3M179.7,85.3L132.9,110.4M73.3,161.1L123.5,121.8M172.3,165.7L134.6,102.5M176.2,134L127.5,107.3M195.1,86.1L133.8,105.8M176.2,134L116.9,114.1M170.8,89.1L125.3,126.5M64,147.4L105.6,112.9M170.8,89.1L113.9,121.9M170.8,89.1L107.5,105.8M136.4,174.7L119.8,114.2M195.1,86.1L131.1,102.3M74.1,50.4L109.6,127.7M40.1,157.6L101.3,124M136.4,174.7L121.8,109.7M145.8,180.5L122,128.6M170.8,89.1L116.5,116.6M90.9,51.3L104.9,109.6M72.1,73.2L118.3,104.7M73.3,161.1L120.7,112.7M179.7,85.3L117.8,105M179.7,85.3L129.7,107M136.4,174.7L117.8,106.4M136.4,174.7L122.6,106.1M136.4,174.7L129.4,106.4M170.8,89.1L101,91M172.3,165.7L129.4,118.2M73.6,152L122.3,118.8M170.8,89.1L114.1,121.9M72.1,73.2L128.6,105.2M170.8,89.1L116.8,106.9M40.1,157.6L89.9,114.7M176.2,134L109.3,125.4M73.6,152L127.1,123.2M40.1,157.6L104.6,133.3M73.6,152L123.5,117.3M40.1,157.6L93.7,123.7M195.1,86.1L132.6,105.8M73.3,161.1L131.7,116.4M136.4,174.7L118.7,110.2M72.1,73.2L114.9,107.2M90.9,51.3L109.9,101.7M170.8,89.1L121.4,103.9M195.1,86.1L127.4,117.3M172.3,165.7L126,115.1M40.1,157.6L98,130.8M74.1,50.4L98.4,102.5M136.4,174.7L121.8,112.7M72.1,73.2L103.8,112.7M195.1,86.1L127.3,98.8M73.6,152L120.3,126.3M170.8,89.1L119.1,102.4M64,147.4L123,124.3M64,147.4L122.7,132.4M170.8,89.1L114.4,117.6M195.1,86.1L135.9,107.5M74.1,50.4L112.2,127.1M64,147.4L118.3,117M195.1,86.1L135.4,102M176.2,134L123.2,113.2M74.1,50.4L98.5,103.3M40.1,157.6L105.7,127.1M74.1,50.4L96.3,97.7M73.3,161.1L109,124.6M40.1,157.6L93,107.8M73.6,152L123.3,129.7" stroke="#d098d0" stroke-width="0.35" stroke-opacity="0.45"/>
<path class="fl" d="M90.9,51.3L99.8,103.5M114.1,70L116.9,100.6M158.1,129.2L113,120.1M141.6,66.1L118.1,100.1M91.3,140.8L113.1,115.8M141.6,66.1L118.4,95.4M112,149.6L117.6,111.7M122.1,162L116,118.4M66.2,113.8L115.3,111.5M112,149.6L107.5,111.7M114.1,70L119,97.1M114.1,70L115,114.2M82.6,89.3L119.6,106.7M158.1,129.2L121.2,106.4M154.3,98.4L125.4,101.1M152.7,145.7L118.2,125.4M154.3,98.4L122.3,108.3M66.2,113.8L114,110.2M112,149.6L113.3,119.6M126.7,160.8L106.4,120.7M154.3,98.4L128.8,103.9M162.4,137.6L131.3,115.4M82.6,89.3L107.7,109.3M141.6,66.1L136.8,111.5M71.5,103.9L120.9,120.1M91.3,140.8L118.9,134.2M112,149.6L116.4,110.8M176.2,134L118.4,109.6M64.8,95.9L108.1,124.1M89.9,79.4L114.1,121.9M138.5,157.4L115.4,122.4M158.1,129.2L116.8,102.6M146.6,84.5L104.8,113M138.5,157.4L108.8,133.3M158.1,129.2L113.7,108.7M165.4,112.7L110.7,111.2M74.1,50.4L94.2,104.1M138.5,157.4L106.9,128.4M66.2,113.8L111.6,109.7M158.1,129.2L117,115.4M112,149.6L124,110.6M146.6,84.5L112.3,109.4M114.1,70L120.7,99.6M71.5,103.9L114.7,101.5M91.3,140.8L106.5,115.8M131,76.3L125.9,108.1M162.4,137.6L122.7,112.5M97.5,69.1L122.8,97.7M158.1,129.2L135.6,111.8M112,149.6L109.2,121.9M64.8,95.9L103.6,120.3M141.6,66.1L116.9,94M114.1,70L124.2,114.5M73.6,152L118.4,113.2M64.8,95.9L105.3,110.3M138.5,157.4L138.3,113.3M152.7,145.7L104.8,113.1M91.3,140.8L110.6,127.2M122.1,162L126.5,130.7M152.7,145.7L127.4,117.4M122.8,70.4L126.2,108.9M114.1,70L108.5,116.7M89.9,79.4L113.4,110M122.1,162L108.9,119.6M131,76.3L137.7,117.7M71.5,103.9L118,119.9M176.2,134L128.4,93M152.7,145.7L104.5,116.6M112,149.6L104.7,110.6M122.1,162L123.7,128M122.1,162L106.9,122M162.4,137.6L136.3,100.7M64.8,95.9L104,97.1M66.2,113.8L112.3,105.2M162.4,137.6L138.7,109.4M71.5,103.9L107.8,109.3M66.2,113.8L107.8,111.2M154.3,98.4L121.4,99.7M131,76.3L120.2,115.3M138.5,157.4L108.1,124.4M82.6,89.3L109.3,117.5M195.1,86.1L136.1,109.1M146.6,84.5L114.4,113.6M158.1,129.2L132.3,113.4M146.6,84.5L103.8,111.2M138.5,157.4L122.3,115M97.5,69.1L120.1,93.9M112,149.6L117.8,111.6M66.2,113.8L115.3,103.1M136.4,174.7L134.5,106.6M154.3,98.4L121.9,128.3M112,149.6L135.2,108.9M122.8,70.4L123.6,104.5M71.5,103.9L116.3,127.4M89.9,79.4L108.3,104.3M89.9,79.4L119.9,114.5M114.1,70L120.4,111.7M66.2,113.8L112.3,109.2M64.8,95.9L103,106.1M162.4,137.6L118.1,110.9M114.1,70L120.1,110.9M114.1,70L117.5,118.1M122.1,162L104.4,117M91.3,140.8L110.7,117.7M91.3,140.8L122.4,134.1M66.2,113.8L115.4,107.8M138.5,157.4L104.1,133.1M146.6,84.5L103.1,109.7M146.6,84.5L107.6,109M131,76.3L123,114.8M91.3,140.8L119.7,127.3M64.8,95.9L104.2,96.8M158.1,129.2L118,111.4M158.1,129.2L113.2,112.4M126.7,160.8L108.5,122M141.6,66.1L124.3,96.6M165.4,112.7L111,108.4M131,76.3L132.4,112.5M126.7,160.8L121.6,120.3M152.7,145.7L103.9,124.3M89.9,79.4L112.2,110.5M154.3,98.4L124.9,106M122.1,162L114.3,122.2M152.7,145.7L104.3,117M64,147.4L99.6,96.2M89.9,79.4L104.9,122.8M114.1,70L121,109.7M89.9,79.4L111,125.2M89.9,79.4L117.7,119.5M112,149.6L107,117.3M126.7,160.8L109.4,119M158.1,129.2L134.6,109.6M152.7,145.7L127.5,108.9M152.7,145.7L100,119.1M114.1,70L111.3,114.9M71.5,103.9L112.8,100.9M73.6,152L130.2,133.8M122.8,70.4L121.2,107.1M71.5,103.9L109.9,101.2M89.9,79.4L106.7,111.2M126.7,160.8L123.3,120M131,76.3L133.7,114.8M64.8,95.9L100,109M141.6,66.1L113,95.7M152.7,145.7L130.2,106.8M112,149.6L112.4,115.2M97.5,69.1L121.1,90.6" stroke="#bc3e98" stroke-width="0.4" stroke-opacity="0.29"/>
<path class="fl" d="M114.1,70L116.4,111.7M114.1,70L124,96.9M73.3,161.1L118.1,110.2M170.8,89.1L115.7,114M158.1,129.2L128.4,110.7M131,76.3L118.5,111.2M158.1,129.2L112.2,122.4M179.7,85.3L116.4,97.5M141.6,66.1L129.8,108.2M126.7,160.8L121.6,120.5M138.5,157.4L132,118.3M66.2,113.8L115.9,104.2M71.5,103.9L116.9,120.6M97.5,69.1L119.2,97.3M114.1,70L131.5,104.6M91.3,140.8L109.9,112.8M114.1,70L128.3,103.8M66.2,113.8L117.4,111.5M158.1,129.2L133.1,108.8M82.6,89.3L112.3,109.4M112,149.6L128.6,116.2M152.7,145.7L137,101.9M162.4,137.6L137.7,107.6M91.3,140.8L127.8,132.7M71.5,103.9L109,111M64.8,95.9L107.6,100M71.5,103.9L111.4,114.7M72.1,73.2L121.8,99.3M97.5,69.1L114.3,110M97.5,69.1L123.7,95.1M146.6,84.5L104.7,104.9M122.1,162L114.3,112.3M131,76.3L120.2,108.2M82.6,89.3L117.4,107.1M114.1,70L123.2,96M112,149.6L129.5,112.7M152.7,145.7L119.9,128.3M66.2,113.8L111.5,104.4M152.7,145.7L134.9,102.8M71.5,103.9L122.4,120.2M165.4,112.7L113.4,108.3M89.9,79.4L100.1,121M40.1,157.6L94.6,116.8M89.9,79.4L104.7,113M71.5,103.9L110.9,105.7M165.4,112.7L110.5,110.6M158.1,129.2L109.8,111.8M138.5,157.4L122.2,120.6M158.1,129.2L117.4,101.8M138.5,157.4L124.2,114.3M154.3,98.4L129.6,112.6M91.3,140.8L114.9,130.8M138.5,157.4L119.8,129.5M64.8,95.9L103.8,121M154.3,98.4L132.5,123.2M146.6,84.5L111.3,108.7M154.3,98.4L124.2,124.6M91.3,140.8L106.2,115.5M91.3,140.8L112.8,118.8M170.8,89.1L122.1,128.1M112,149.6L112.3,126.1M146.6,84.5L113,113.7M131,76.3L137.5,118.3M158.1,129.2L118.2,104.4M112,149.6L106.2,111.3M154.3,98.4L125.1,127.3M71.5,103.9L107.6,103.9M64,147.4L127.9,132.9M154.3,98.4L124.6,113.1M145.8,180.5L108.2,124.3M162.4,137.6L132,106M112,149.6L120.9,109.6M89.9,79.4L94.4,120.6M158.1,129.2L115.2,96.5M71.5,103.9L116.7,121.4M112,149.6L121.7,115.6M152.7,145.7L104.8,121.1M158.1,129.2L133.9,109.4M82.6,89.3L98.3,118.5M152.7,145.7L135.8,101M64.8,95.9L103.5,101M138.5,157.4L124.8,115.8M97.5,69.1L122.8,97.8M162.4,137.6L120.7,110.9M138.5,157.4L121.1,121M146.6,84.5L111.1,106.3M112,149.6L114.5,113M162.4,137.6L133.6,111.4M165.4,112.7L117.7,105.9M114.1,70L116.3,96.1M66.2,113.8L110.4,102.5M126.7,160.8L99.4,121.3M112,149.6L101.6,121.3M114.1,70L116,108.8M141.6,66.1L112.6,94.6M112,149.6L116.6,107.5M152.7,145.7L104.7,116.6M138.5,157.4L119.5,122M165.4,112.7L119.6,120.9M146.6,84.5L101.3,108.2M172.3,165.7L117.2,109.4M82.6,89.3L104.3,111.9M131,76.3L140.2,114.6M91.3,140.8L110.4,125.7M91.3,140.8L108.1,112.3M154.3,98.4L123.6,112.1M131,76.3L127.1,111.6M89.9,79.4L106,112.9M122.8,70.4L108.4,108.3M112,149.6L115.6,117.2M145.8,180.5L121.3,126.9M141.6,66.1L119,92.5M114.1,70L115.6,112.7M154.3,98.4L125.9,98.9M97.5,69.1L116.8,101M126.7,160.8L93.4,120.4M162.4,137.6L127.4,120.1M126.7,160.8L119,120.8M91.3,140.8L118.7,128.1M146.6,84.5L117.5,115.4M126.7,160.8L118,120.8M162.4,137.6L132.8,114.6M97.5,69.1L123.2,103.3M112,149.6L111.2,118.6M122.1,162L138.4,124.3M40.1,157.6L86,102.9M136.4,174.7L111.8,109M141.6,66.1L125.9,95.1M162.4,137.6L129.9,108.6M89.9,79.4L104.5,117.6M82.6,89.3L114,112.8M165.4,112.7L116.4,117.2M82.6,89.3L99.5,113.8M141.6,66.1L116.2,97.2M71.5,103.9L113.1,126.1M162.4,137.6L129.8,110M82.6,89.3L97,122.7M82.6,89.3L97.9,122.6M141.6,66.1L129.9,109.8M73.3,161.1L104.5,124.4M152.7,145.7L120,129.3M74.1,50.4L105,127M158.1,129.2L127.8,112.6M158.1,129.2L129.3,112.6M158.1,129.2L118,112M71.5,103.9L116.7,102.7M91.3,140.8L122.1,130" stroke="#bc3e98" stroke-width="0.4" stroke-opacity="0.29"/>
<path class="fl" d="M114.1,70L127.4,95.1M126.7,160.8L104.4,116.2M82.6,89.3L99.3,125.8M122.8,70.4L109,102.3M71.5,103.9L110.8,104.5M89.9,79.4L110.3,105.2M122.8,70.4L114.4,102.9M154.3,98.4L127.7,121.1M71.5,103.9L114.5,110.1M165.4,112.7L108.7,107.3M146.6,84.5L114.4,113.9M154.3,98.4L120.6,115.7M114.1,70L133.3,115.4M138.5,157.4L134.4,112.3M82.6,89.3L93.9,116.9M97.5,69.1L108,102.7M126.7,160.8L123.3,124.8M152.7,145.7L123.7,108.1M131,76.3L122.8,108.4M66.2,113.8L112.8,102.9M154.3,98.4L122.8,124.1M89.9,79.4L116.9,113.9M82.6,89.3L98.9,109.5M112,149.6L113.8,116M89.9,79.4L93.5,119.5M195.1,86.1L133.5,123.3M97.5,69.1L124,101.7M82.6,89.3L98.3,120.3M91.3,140.8L117,122.6M71.5,103.9L117.8,122.9M66.2,113.8L116.9,106.1M152.7,145.7L108.8,122.5M71.5,103.9L116.3,123.3M112,149.6L114.8,119.4M146.6,84.5L112.8,110.1M131,76.3L118.5,113.6M73.6,152L117.8,118.3M122.8,70.4L119.7,105.4M114.1,70L112.9,118.9M126.7,160.8L127.6,120.1M172.3,165.7L136.9,102.6M71.5,103.9L120.3,125.2M158.1,129.2L113.4,115.7M71.5,103.9L107.1,132.2M112,149.6L134.8,109.6M179.7,85.3L138.6,123.9M114.1,70L114.4,110.5M122.1,162L107.3,119.5M89.9,79.4L98.4,113.2M126.7,160.8L129.7,122.6M158.1,129.2L131.3,108.7M89.9,79.4L100.3,110.4M112,149.6L124.6,114.3M126.7,160.8L116,122M82.6,89.3L95.9,117.1M172.3,165.7L140.2,101M71.5,103.9L109.3,109.3M158.1,129.2L116.5,98.4M141.6,66.1L118.7,97.9M138.5,157.4L107.6,122.4M71.5,103.9L115.7,118.6M66.2,113.8L110.7,112.9M136.4,174.7L135.8,104.1M158.1,129.2L128,107.4M126.7,160.8L119.2,127M152.7,145.7L104.3,115.3M152.7,145.7L99.5,120.9M112,149.6L125.6,114.9M162.4,137.6L124.3,114.7M112,149.6L104.8,118.9M89.9,79.4L116.8,108.7M90.9,51.3L117.2,108.1M158.1,129.2L116.1,101.2M165.4,112.7L117.5,106.6M126.7,160.8L118.2,121.1M122.8,70.4L126.1,104.6M66.2,113.8L108,102.7M122.8,70.4L127.9,107.5M112,149.6L116.7,122.8M112,149.6L116.1,119.1M112,149.6L114.8,118.4M82.6,89.3L125.7,110.8M89.9,79.4L98.9,111.3M89.9,79.4L106.9,105.1M82.6,89.3L101.4,124.5M152.7,145.7L120.1,112.2M114.1,70L110.5,114.9M122.1,162L132.9,128.8M138.5,157.4L119,131.1M114.1,70L109.8,106.9M162.4,137.6L124.4,122M154.3,98.4L124.1,126.8M122.8,70.4L124.1,109.5M122.1,162L106.7,115.1M122.8,70.4L123.1,109.7M158.1,129.2L127,112.4M146.6,84.5L106,104.6M138.5,157.4L138,113.8M71.5,103.9L113.2,130.1M89.9,79.4L104.4,116.9M82.6,89.3L94.9,121.4M89.9,79.4L108.8,102.5M165.4,112.7L119.4,114.3M122.1,162L128.4,123.8M82.6,89.3L123.7,110.5M152.7,145.7L125,107.9M114.1,70L119.7,96.4M126.7,160.8L127.5,126.8M122.8,70.4L115.3,105.7M138.5,157.4L140.5,110.5M97.5,69.1L118.2,95.7M122.8,70.4L116.3,103.3M89.9,79.4L116.5,109.2M122.1,162L111.2,118M112,149.6L107,118.7M154.3,98.4L123.4,101.4M146.6,84.5L111.2,117.7M170.8,89.1L119.6,108.9M138.5,157.4L114.9,130.7M114.1,70L115.2,113.8M82.6,89.3L102.7,116.8M162.4,137.6L134.2,110.6M126.7,160.8L122.3,125.1M122.1,162L107.2,124.2M114.1,70L113.1,105.6M114.1,70L120.3,110.5M72.1,73.2L135.2,96.4M154.3,98.4L121.3,124.9M141.6,66.1L129.3,108.4M146.6,84.5L109.7,112.8M64.8,95.9L107.2,119M122.8,70.4L122.8,103M154.3,98.4L127.3,106M114.1,70L116.8,111.1M91.3,140.8L109.8,121M114.1,70L122.5,108M97.5,69.1L110.6,104.8M122.1,162L133.6,120.6M122.1,162L111.8,115.6M138.5,157.4L126,118.7M162.4,137.6L124.8,103.7M114.1,70L115.4,110.8M154.3,98.4L118.8,123.9M146.6,84.5L111.6,104M112,149.6L116.9,125.6M91.3,140.8L114.9,114" stroke="#bc3e98" stroke-width="0.4" stroke-opacity="0.29"/>
<path class="fl" d="M83,106.9L120.2,114.5M83,106.9L116.5,131.6M99.5,128.5L125.1,117.2M83,106.9L115,125.8M83,106.9L114.3,112.5M99.5,128.5L121.4,126.2M83,106.9L119.3,124.8M83,106.9L117.1,126.2M99.5,128.5L120.7,120M83,106.9L114.5,120.8" stroke="#bc3e98" stroke-width="0.4" stroke-opacity="0.36"/>
<path class="fl" d="M99.5,128.5L114.9,115M83,106.9L116.8,116M83,106.9L120.4,121.7M83,106.9L117.1,125.4M83,106.9L118.3,103.7M83,106.9L109.1,126.3M99.5,128.5L123,117.6M83,106.9L109.7,122.8M99.5,128.5L117,105.3M99.5,128.5L112.4,121.6" stroke="#bc3e98" stroke-width="0.4" stroke-opacity="0.36"/>
<path class="fl" d="M83,106.9L122.8,102.8M99.5,128.5L123.1,127.8M99.5,128.5L128.3,118.2M99.5,128.5L116,119M83,106.9L123.9,101.1M83,106.9L115.7,118.8M83,106.9L118.5,111.3M99.5,128.5L110.6,118M99.5,128.5L127.9,117.3M83,106.9L116.5,111.9" stroke="#bc3e98" stroke-width="0.4" stroke-opacity="0.36"/>
<path class="fl" d="M83,106.9L110.5,122.6M99.5,128.5L119.1,116.7M99.5,128.5L123.9,113.3M99.5,128.5L120,121.2M83,106.9L119.1,109.5M99.5,128.5L111.2,107.5M83,106.9L117.4,108.6M99.5,128.5L121.7,123.9M83,106.9L116.2,120.5M83,106.9L123.2,106.9" stroke="#bc3e98" stroke-width="0.4" stroke-opacity="0.36"/>
<path class="fl" d="M90.9,51.3L74.1,50.4M90.9,51.3L97.5,69.1M90.9,51.3L89.9,79.4M97.5,69.1L89.9,79.4M97.5,69.1L114.1,70M97.5,69.1L90.9,51.3M89.9,79.4L82.6,89.3M89.9,79.4L97.5,69.1M64.8,95.9L71.5,103.9M64.8,95.9L66.2,113.8M64.8,95.9L82.6,89.3M66.2,113.8L71.5,103.9M66.2,113.8L64.8,95.9M66.2,113.8L83,106.9M71.5,103.9L64.8,95.9M91.3,140.8L99.5,128.5M99.5,128.5L91.3,140.8M99.5,128.5L112,149.6M114.1,70L122.8,70.4M114.1,70L97.5,69.1M114.1,70L131,76.3M122.8,70.4L114.1,70M122.8,70.4L131,76.3M122.8,70.4L141.6,66.1M131,76.3L122.8,70.4M141.6,66.1L131,76.3M141.6,66.1L146.6,84.5M146.6,84.5L154.3,98.4M165.4,112.7L158.1,129.2M170.8,89.1L179.7,85.3M154.3,98.4L146.6,84.5M154.3,98.4L165.4,112.7M154.3,98.4L170.8,89.1M179.7,85.3L170.8,89.1M179.7,85.3L195.1,86.1M195.1,86.1L179.7,85.3M195.1,86.1L170.8,89.1M162.4,137.6L158.1,129.2M176.2,134L162.4,137.6M176.2,134L158.1,129.2M152.7,145.7L162.4,137.6M152.7,145.7L158.1,129.2M136.4,174.7L145.8,180.5M138.5,157.4L126.7,160.8M138.5,157.4L122.1,162M138.5,157.4L136.4,174.7M122.1,162L126.7,160.8M122.1,162L112,149.6M122.1,162L138.5,157.4M112,149.6L122.1,162M112,149.6L126.7,160.8M126.7,160.8L122.1,162M126.7,160.8L138.5,157.4M126.7,160.8L136.4,174.7M145.8,180.5L136.4,174.7M145.8,180.5L138.5,157.4M73.6,152L73.3,161.1M73.3,161.1L73.6,152M64,147.4L73.6,152M64,147.4L73.3,161.1M74.1,50.4L90.9,51.3M74.1,50.4L72.1,73.2M72.1,73.2L89.9,79.4M72.1,73.2L82.6,89.3M72.1,73.2L74.1,50.4M40.1,157.6L64,147.4M40.1,157.6L73.3,161.1M172.3,165.7L152.7,145.7M172.3,165.7L162.4,137.6M172.3,165.7L145.8,180.5M83,106.9L71.5,103.9M83,106.9L82.6,89.3M83,106.9L66.2,113.8M158.1,129.2L162.4,137.6M158.1,129.2L152.7,145.7M82.6,89.3L89.9,79.4M82.6,89.3L83,106.9M82.6,89.3L71.5,103.9" stroke="#d098d0" stroke-width="0.4" stroke-opacity="0.5"/>
<path class="fl" d="M148.8,104L146.5,101.7M117.9,94.8L144.8,88.2M107.8,109.9L106,106.1M142,120L137.6,119.6M123.6,121.4L138.9,123.2M123.9,112.3L122,110.5M116.3,117.8L121.4,120.1M106,118.9L87.2,116.8M138,111.6L147,105M125.2,116.3L125.8,132.9M117.8,118.4L124.6,123.8M127.4,116.9L123.2,116.9M115,118.6L121,107.5M105.1,129.6L105,126.5M106,118.9L107,122.4M108.3,115.1L80.7,107.5M107.9,115.2L109.7,118.7M105.3,109.7L108.9,107.6M120.9,101.9L118.1,100.6M97.9,106.5L90.6,107.4M123.7,118.7L117.8,122.3M115.7,110.4L118.6,109.9M133.4,111.4L136.3,113.8M119.9,100.7L137.5,101.4M110.5,111L98.9,110.3M98.9,116.6L96.9,111.9M122.8,112.2L118.5,116.9M95.9,120.5L116.7,123.8M136.9,117.8L152.5,122.4M115.1,120.8L136.5,114.2M126,89.7L125.7,91.5M138,111.6L130.5,105.1M109.7,112.7L103.9,114.4M112.9,120.8L105.4,118.1M129.7,106.9L128.4,109M97.6,111.9L101.5,113.2M117.8,118.4L121,124.4M131.8,104.3L129.2,105.6M92.2,115.9L96,111.5M120.2,107.7L107.8,96.1M124.8,106.9L119.3,110.2M116.7,105.6L115.8,107.2M132.9,104.3L140.5,105.3M114.9,110.5L100.5,112.8M130.6,110.5L144.9,106M106.6,111.4L113.5,106.1M96.6,102.9L90.4,107.9M94,109.6L86.6,103.1M103,105.4L103.1,109.6M114.8,123L130.6,125.4M110.4,102L120.6,99.2M140.6,111.2L140.2,107.4M97.6,111.9L124.7,116.8M124.6,108L128.2,94.6M137.3,109.4L116.3,112.6M116.3,102.4L105.8,105.1M123.3,109.7L121.7,99.6M127.4,116.9L143.1,115.3M113.6,113.5L124.2,107.6M115.3,116.2L124.8,119.6M104.7,127.2L110.1,121.4M128.9,116.3L137,107.6M110.2,132.3L111.2,129.7M108.4,111.7L103,112.8M129.4,112.3L125.8,113.4M108.1,105.2L113.1,104.7M80.8,116.5L95.1,112.4M125.7,122.2L127.9,120M103.3,111.1L105.3,119.9M124.6,115.7L129.9,119.8M104.7,127.2L91.3,137.5M112.4,98.1L121.9,92.1M148.8,104L151.3,103.6M98.9,99L78.8,104.1M125.6,120.7L130.6,122.1M116.3,118.9L114.4,121.8M116.7,105.6L137.9,105.5M120.6,113.6L107.4,110.9M137.3,109.4L128.3,102.6M125.6,120.7L118,123.8M108.4,105L115.5,106.3M119.7,116.1L113.2,124.8M148.8,116.4L148.8,120.8M109.5,122.5L107.8,124.6M133.4,111.4L138.4,111.4M108.8,122.2L113.1,103.7M101.4,101.8L99.5,104.8M92.2,115.9L91.7,118.5M109.5,128.9L110.6,125.4M96.6,102.9L115.6,104.2M93.5,122.3L119.9,132.3M111.8,123.7L115.1,122.7M101.4,101.8L115.5,85.4M123.3,109.7L124.2,107.7M129.4,112.3L117.9,117M112.4,98.1L119.7,106.4M101.4,109.9L98.7,109.6M116,116.6L112,112M125.7,122.2L128,123.3M88.5,118.7L90.7,109.4M118,117.4L120.7,116.8M109.9,114.8L101.4,115M104.7,127.2L103.5,123.2M134.2,125.1L127.9,123.4M118.2,104L121.9,108.8M122.1,93L124,99.3M112.2,115.3L115.3,112.3M125.7,122.2L121,123.9M106.2,104.7L100.9,107.5M107.7,115.2L103.1,106.3M115,118.6L117.3,124.9M124.1,106.4L122.3,96.7M104.7,127.2L105.9,132.2M109.5,122.5L124.5,126.8M116.3,118.9L127.8,116.3M88.5,118.7L91.7,118.4M150.8,119.3L156.4,114.1M97.4,116.2L98.7,105.7M125.2,101.7L107.6,98.7M108.1,105.2L89.5,107.4M124.8,118.9L125.4,123M111.5,119.4L115.2,120.6M118.1,122.1L137.8,114.8M83.4,100.2L88.1,101.5M104.7,127.2L104.9,120.1M125,110.6L146.3,110.6M110.4,102L107.4,101.8M119.9,100.7L123.2,97.5M106.4,121.9L115,123.5M83.4,100.2L84.8,96.6" stroke="#de5aa6" stroke-width="0.45" stroke-opacity="0.5"/>
<path class="fl" d="M115,118.6L107.8,119.8M113.3,130.3L110,120.5M100.5,111.3L103.4,118.4M132.9,104.3L135.5,110.6M108.4,111.7L110.7,118.2M124.6,108L117.1,107.7M115.2,106.8L113.7,108.9M140.1,111.9L153,109.9M83.4,104.6L96.6,105.8M95.3,104.3L92.9,94.2M115,118.6L118.6,120.5M120.2,107.7L137.6,111.9M108.4,115.7L128,109.2M93.5,122.3L88.1,125.4M106.2,104.7L112.8,96.9M119.7,116.1L117.5,119.2M118.6,127.7L116.2,130.1M115.7,112.5L106.4,109.8M104.7,127.2L93,115.8M115.3,116.2L104.6,121.9M118.6,127.7L111.3,129.2M114.9,110.5L111.7,116.8M127.7,114.6L128.6,121.1M96.6,102.9L84.9,94.2M116.3,117.8L120.1,119.3M112.4,101.2L129.9,100.2M117.8,118.4L98.7,120.4M117.9,94.8L133.3,97.1M115,118.6L118.3,119.1M108.4,111.7L108.3,107.3M76.1,115L76.5,112.9M111.5,119.4L112.7,104.5M116.3,102.4L125.2,107.2M125,110.6L128.6,113.2M128.3,107.8L130.2,105.9M114.9,110.5L113.2,118.9M114.2,116.9L115.3,120.7M108.4,115.7L110.1,113.8M114.4,105.1L111.3,111.8M116.3,117.8L126.3,117.6M93.5,122.3L99.1,128.2M128.9,116.3L125.8,115.4M125,110.6L122.7,105.5M124.7,116.6L128.9,110.5M101.5,121.6L105.1,120.2M94,109.6L99,109M108.4,105L125.9,115.1M124.8,118.9L114.2,119.9M128.3,107.8L134.9,108.4M97.9,106.5L106.2,101M125.2,101.7L130.1,106.8M112.4,119L79.3,124M135,130.6L143.3,127.2M118.7,107.1L120.8,109.6M115.2,106.8L117.6,116.5M111.6,114L116.3,116.4M119,112.7L110,115.5M101.4,109.9L99,115.1M127.7,114.6L128.5,99.5M125.7,122.2L119,119.8M134.2,125.1L134.6,131.5M92.2,115.9L102.8,111.6M104,111L104.2,104.2M113.3,130.3L118.6,125.3M114.8,118.6L116.2,116.8M108.4,115.7L115.7,114.2M140.6,111.2L124,110.9M117.8,118.4L123.3,123.8M122.2,120L126.9,124.3M92.6,111.7L76.6,114.7M115.7,112.5L131.1,121.8M108.9,96.1L93.2,100.2M125.5,114.9L117,112.7M110.4,102L101.9,90.1M104.2,111.7L116,111.5M80.8,116.5L78.3,121.6M106,118.9L108.2,126.3M95.9,120.5L89.5,123.2M98.5,113.2L118.3,114.6M123.9,112.3L129.1,109.2M117.8,118.4L110.5,115.8M80.8,116.5L81.6,106.8M111.8,123.7L95.3,123.1M107.8,109.9L109.9,107.7M121.3,118.6L111.6,119.7M120.2,107.7L123.3,105.2M117.5,102.7L83.5,108.4M100.2,121.7L99.3,123.8M118.6,127.7L118.5,123.5M134.5,126.2L113.7,134.3M100.2,121.7L95,120.3M112.4,98.1L114.8,99.1M95,126.5L92.9,117.1M124.8,106.9L114.8,102.5M127.4,116.9L136.3,116.4M106.6,111.4L108.4,113.7M118.7,107.1L116.5,106.1M130.6,110.5L121.7,118.1M108.4,111.7L119.4,112M121.2,98.9L112.7,99.1M112.2,115.3L127.7,105.3M76.1,115L82.3,111.4M123.6,121.4L117.4,115.6M95,126.5L109.8,121.6M108.8,98.3L102.2,105.2M98.9,116.6L90.7,105.4M115.2,106.8L115.9,96.5M109.9,114.8L101.7,112.4M95,126.5L90.9,129.8M111.5,122.4L124,124.5M134.5,126.2L152.8,135.2M125.2,116.3L129.3,114.3M126.4,122L129,124.2M106.7,115.2L104.8,131.7M138,111.6L142.1,107.5M119,112.7L123.9,113.5M117,123.1L120.3,117M108,110L106.3,111.4M128.9,116.3L128.9,111.6M101.4,109.9L101.5,107.7M115,118.6L117.5,122.2M134.2,125.1L149.4,133.4M132.7,107.7L134.5,109.6M126.9,105.2L129.2,109.4M118.7,107.1L131.8,106M124.1,106.4L122.3,109.3M112.6,123.2L109.7,124.9M95.9,120.5L89.6,139.2M114.8,123L118.4,120.3M88.5,118.7L77.7,118.3" stroke="#de5aa6" stroke-width="0.45" stroke-opacity="0.5"/>
<path class="fl" d="M114.9,110.5L112.4,107.1M140.1,111.9L137.5,106.9M120.9,101.9L105.2,100.5M103,105.4L94.2,104.7M127.7,114.6L133.9,112.7M108.8,122.2L107.9,116.5M132.9,104.3L128.2,103M108.4,115.7L113.4,109.9M126.9,105.2L128,103.3M104.7,127.2L98.8,126.8M128.3,116.6L123,115.8M150.8,119.3L148.6,115M92.2,115.9L85.8,117.4M125.2,101.7L135.6,100.6M125.5,114.9L131.5,114.9M120,113.9L106.5,113.3M125,110.6L128.8,121.6M106,118.9L110.2,118.5M129.7,106.9L128.7,102.9M118.2,104L121,115.3M142,120L150.7,120M122.8,112.2L115.7,105.8M95.8,105.3L89.4,99.3M107.8,109.9L120.2,108.9M111.9,117.6L99.7,115.9M123.7,118.7L121.2,115.5M116.3,117.8L115.2,119.6M115.7,112.5L109.5,115M102.9,100.9L103.9,96.4M130.4,116.8L126,106.4M116.2,119.5L121.2,112.1M108.9,96.1L93.3,94.9M102.7,125.3L111.6,119.7M122.2,120L118.5,122.8M119.4,122.7L125.3,121.4M129.7,106.9L138.4,88.6M140.1,111.9L146.1,110.3M108.3,115.1L111.6,114.4M116.2,119.5L114.3,113.3M113,101.6L109.1,96.2M150.8,119.3L121.9,111.1M108,110L100.3,105.5M114.9,110.5L120,108.8M115.5,108.9L120.2,108.4M117.7,117.4L144.5,108.6M114.8,123L116.5,118M123.9,112.3L116.2,113.8M127.7,114.6L131.1,133.3M106.7,115.2L107,111.3M124.7,116.6L102.9,109.1M100.7,122.7L109.1,121.1M102.7,125.3L91,121.9M109.7,112.7L117.7,105.6M116.3,118.9L104,120.9M94.1,110.1L91.1,111.8M100.5,111.3L84.9,105.6M115.3,116.2L116.4,120.8M123.7,102.8L123,99.9M129.4,112.3L127.6,109.5M130.6,110.5L124.3,111.9M115.7,110.4L116,103.5M107.7,115.2L107.7,120.9M104,111L110.3,112.9M123.9,112.3L108.7,101.7M130.4,114.8L133.1,117.2M120,113.9L123.4,111M108,110L108.3,103.9M128.3,116.6L131.3,117.9M127.8,105.2L122.2,103.6M122.2,120L116.5,113M115.7,110.4L116.4,112.2M103,105.4L98.2,104.1M119,112.7L117.4,115.7M117.7,117.4L101.3,109.8M124.7,116.6L129.8,114.3M123.3,109.7L119.7,113.3M117.5,118.4L112.8,118.3M107.7,115.2L103.1,115.6M93.5,122.3L93.7,120.1M126.9,113.6L130,113.9M95.9,120.5L88.5,133.9M125.2,116.3L109,106.9M140.6,111.2L132.7,105.7M126.9,105.2L124.8,108.1M98.5,113.2L97.4,111.3M148.8,104L154.1,114.8M116.3,117.8L114.2,115.6M122.2,120L123.1,121.9M76.1,115L67.4,112.1M130.4,114.8L146.8,111.8M122.5,102.6L117.4,102.2M102.9,100.9L87.7,105.4M126.9,101.2L123.3,99.8M120.2,107.7L120.5,112.5M107.8,109.9L113.7,112.2M134.5,126.2L138.8,129M119,112.7L131.1,106.5M106,118.9L105.5,123.1M111.5,119.4L120.2,113.5M117.9,94.8L134.6,100.9M95.9,120.5L91.7,115M106.2,104.7L90.5,102.7M94.1,110.1L96.7,100M97.9,106.5L106.2,101.2M114.9,107.3L109.2,99.8M110.4,102L127.1,103.5M138,111.6L146.7,118M113.3,130.3L117.4,130.4M119,109.7L115.5,109.5M76.1,115L71.6,112.2M107.7,115.2L136.7,107.7M129.7,106.9L141.8,105.2M123.9,112.3L144.7,109.2M124.8,118.9L122.4,117.9M127.4,116.9L124.7,125.5M108.1,105.2L101.8,105M132.6,95.1L124,98.4M83.4,104.6L72.8,99.6M118.6,127.7L115.2,127.5M114.2,116.9L117.9,124.4M145.9,101.4L147,97M116,116.6L115.1,121.4M114.8,123L119.9,130.6M108.8,98.3L103.6,100.3M113.6,113.5L109.3,110.5M111.6,114L108,116.3M125,110.6L119.6,105M110,102.3L100.7,104.7M126.9,101.2L130.1,99.2M125.2,101.7L126.2,107.2" stroke="#de5aa6" stroke-width="0.45" stroke-opacity="0.5"/>
<path class="fl" d="M95.9,120.5L89.3,112.8M109.9,114.8L107.1,113.9M98.9,99L88.1,93M109.5,122.5L117.3,114.9M118.2,104L121.7,103.7M106.4,126.3L112.5,130M108,110L103.3,111.4M119.7,116.1L110.3,116.2M117.8,118.4L123.4,118.1M129.4,112.3L126.8,112.8M120.6,113.6L122.2,109.3M111.5,122.4L120.6,117.5M93.5,122.3L88.2,119.1M119,109.7L111.4,110.5M97.9,106.5L101.3,110.2M120.9,101.9L128.6,96.7M114.8,123L114.2,126.6M140.6,111.2L121.8,103.5M108.4,111.7L108.8,100.3M119.4,122.7L117.2,120M94.1,110.1L119.9,113.2M128.3,107.8L132.4,107M119.7,116.1L106.2,113.8M118.7,107.1L132.5,105.5M97.6,111.9L83.1,112.2M119,109.7L126.5,97.5M117.5,102.7L118.8,100.5M123.7,118.7L102.2,106.3M107.9,115.2L118,115.7M108.4,111.7L108.9,106.2M114.2,116.9L110.3,115.8M76.1,115L73.6,124.4M113.4,119L127.9,116.8M110.2,132.3L98.9,129.4M109.9,114.8L112.8,114.2M108.1,105.2L100.8,97.8M140.6,111.2L135.2,107.3M104.7,127.2L94.9,119.5M120.5,112.4L135.9,109.1M148.8,104L140.6,99.3M110.4,102L119.1,98.3M148.8,104L165.9,106M114.8,123L116.3,120.3M140.1,111.9L143.5,101.5M136.9,117.8L144.5,120.8M148.8,104L147,94.8M95,126.5L99.3,129.5M95.9,120.5L87.4,114M101.4,109.9L101.6,113.6M108.3,115.1L99.5,122M121.2,98.9L123.2,92.6M137.3,109.4L134.4,109.6M124.8,118.9L130.1,122.7M111.5,119.4L108.4,122.2M109.5,128.9L121.1,121.6M118.6,127.7L107.2,119.5M112.9,120.8L106.8,120.2M114.4,105.1L107.1,107.1M110.5,111L122.7,107.6M128.2,102.4L122.2,104M121.3,118.6L139.9,135.2M137.3,109.4L161.4,100.6M125.6,120.7L114.8,127.2M106.6,111.4L97.3,107.9M119.7,116.1L124.5,117M124.6,115.7L131.4,116.8M112.1,110.5L111.8,114.5M126,89.7L126.1,86.5M101.9,122.9L126.3,122.6M117.7,117.4L119.7,121.3M100.5,111.3L93.2,107.3M124.8,106.9L120.1,111.6M109.5,104.2L97.1,104.6M112.4,119L116.7,119.8M118.2,104L107,113.9M133.4,111.4L131.1,112.5M116.3,118.9L112.8,123.9M100.7,122.7L98.3,124.7M126.9,113.6L118.9,118.2M100.5,111.3L99.7,113.9M118.6,127.7L128,131M117.5,118.4L102.7,115.4M110.5,111L113,117.8M109.7,112.7L106.4,113.5M114.8,118.6L120.8,123.3M97.9,106.5L100.3,115M109.9,114.8L88.6,108.5M132.9,104.3L125.4,92.8M109.9,119.5L105.2,116.1M104.7,127.2L89.8,140M108.4,115.7L112.1,103.3M115.7,112.5L122.4,114.2M116,116.6L123.5,116.9M113.4,119L109,116.4M95.8,105.3L99.9,104M117.7,117.4L96.5,117.9M112.4,119L105.8,124M114.2,116.9L132.3,123.8M134.5,126.2L130.6,125.2M127.4,116.9L121,124M109.9,110.2L107.7,109.1M108.1,105.2L104.7,104.4M118,117.4L121.2,120M98.9,99L97.8,97.1M110,102.3L102.2,91.3M122.2,120L117.3,107.1M118.6,127.7L109.1,129.4M115.5,108.9L117.9,115M111.9,117.6L116.2,116.4M123.7,118.7L133,113.9M104.2,111.7L109.8,119.9M105.5,103.8L103.2,102.8M116.3,117.8L119.7,124.2M98.9,116.6L101.1,115.5M95.8,105.3L99.4,102.7M103.7,124.6L114.5,116.8M103.7,124.6L117.6,138.3M114.4,105.1L119.5,99.3M116.2,119.5L114.3,113M119,112.7L126.2,117.3M113.2,116.2L126.4,114.1M124.7,116.6L118.6,110.3M98.5,113.2L91.6,113.7M118,117.4L109.4,114.6M114.9,117.3L122.7,112.6M127.4,116.9L130,110.8M118.1,122.1L110.9,117.9M95,126.5L92.4,129.1M135,130.6L132.6,131.2M119.4,122.7L120.9,128.8" stroke="#de5aa6" stroke-width="0.45" stroke-opacity="0.5"/>
<path class="fl" d="M97.5,69.1L123.8,93.2M97.5,69.1L115,99M97.5,69.1L124.4,97.9M97.5,69.1L127.2,98.2M97.5,69.1L128.2,92.9M97.5,69.1L125.7,100.6M97.5,69.1L113.7,108.5M97.5,69.1L106.8,108.6M89.9,79.4L109.9,106.3M89.9,79.4L112.6,104.7M89.9,79.4L107.9,111.5M89.9,79.4L103,112.5M89.9,79.4L107.8,110.3M89.9,79.4L120.7,109.6M89.9,79.4L113.2,121.6M89.9,79.4L120.5,114.3M89.9,79.4L124.6,108.5M64.8,95.9L101.8,119M64.8,95.9L106.9,113.3M64.8,95.9L107.4,104M64.8,95.9L100.4,114.8M66.2,113.8L114.5,124.4M66.2,113.8L117,99.5M66.2,113.8L112.4,97.9M71.5,103.9L109.6,111.4M71.5,103.9L112.2,105.8M71.5,103.9L112.6,100.7M71.5,103.9L110.7,138.3M71.5,103.9L118.9,116.5M71.5,103.9L119.2,123.7M71.5,103.9L119.3,123.9M71.5,103.9L113.6,118.6M71.5,103.9L114.1,120.7M71.5,103.9L118.5,114.4M91.3,140.8L126.2,130.6M91.3,140.8L107.9,120.2M91.3,140.8L111.8,109.9M91.3,140.8L112,117.4M91.3,140.8L113.4,115.2M91.3,140.8L109.5,112.3M91.3,140.8L109.4,118.3M91.3,140.8L114.6,119.1M99.5,128.5L121.3,119.7M99.5,128.5L118.4,110.9M99.5,128.5L125.4,115.8M99.5,128.5L115.9,115M99.5,128.5L115.8,110.6M99.5,128.5L122.4,118.5M99.5,128.5L116.8,115.2M99.5,128.5L111.3,113.1M99.5,128.5L117.4,118.3M99.5,128.5L118.2,106.5M99.5,128.5L121,109.8M99.5,128.5L112.4,106.3M114.1,70L112.2,104.3M114.1,70L121.8,103.1M114.1,70L135.2,99.6M114.1,70L109.5,105.8M114.1,70L124.2,105.7M114.1,70L113.6,113.6M114.1,70L127.5,109.5M114.1,70L110.7,119M114.1,70L107.6,114.4M122.8,70.4L124.4,102.5M122.8,70.4L108.3,109.2M122.8,70.4L106.1,108M122.8,70.4L105.8,105.8M131,76.3L133.5,119.7M131,76.3L140.8,118M131,76.3L126.4,107.8M131,76.3L122.2,114.5M131,76.3L131.8,115.2M141.6,66.1L114.8,90.4M141.6,66.1L121.5,97.2M141.6,66.1L129.1,102.1M141.6,66.1L127.2,109.4M141.6,66.1L136.8,115.6M146.6,84.5L114.4,112.3M146.6,84.5L114.7,119.8M146.6,84.5L121.6,119.9M146.6,84.5L110.1,113.6M146.6,84.5L116,117.4M165.4,112.7L119.1,121.9M165.4,112.7L117.2,115.3M165.4,112.7L118.8,122.8" stroke="#de5aa6" stroke-width="0.45" stroke-opacity="0.5"/>
<path class="fl" d="M165.4,112.7L112.6,99.9M154.3,98.4L120.4,98.6M154.3,98.4L123.3,104M154.3,98.4L123.2,104M154.3,98.4L125.7,107M154.3,98.4L126.7,106.9M154.3,98.4L128.7,115.1M154.3,98.4L119.5,114.6M154.3,98.4L124.2,111M154.3,98.4L121.9,112.1M154.3,98.4L119.7,99.7M162.4,137.6L136.4,105.1M162.4,137.6L130.4,102.4M162.4,137.6L138.3,99.8M162.4,137.6L137,98.7M162.4,137.6L123.5,112M162.4,137.6L119.1,108.7M162.4,137.6L119,114.7M152.7,145.7L104.2,122.8M152.7,145.7L100.6,123.2M152.7,145.7L108.4,116.1M152.7,145.7L122.8,122.4M152.7,145.7L135.4,115.9M152.7,145.7L117.3,130.1M152.7,145.7L135.9,102.8M152.7,145.7L124.4,108.3M152.7,145.7L133,100.1M152.7,145.7L124.7,104.8M152.7,145.7L134.7,97.2M138.5,157.4L120,125.1M138.5,157.4L141.7,111.2M138.5,157.4L141.1,109.8M138.5,157.4L128,122.1M138.5,157.4L110.6,120.6M138.5,157.4L117.6,123.3M138.5,157.4L106.3,127.8M122.1,162L120.8,126.5M122.1,162L105.3,117M122.1,162L115.3,116.4M122.1,162L105.4,122M122.1,162L104.3,119.5M122.1,162L110.6,122.6M122.1,162L111.6,114.2M122.1,162L114.5,119.3M122.1,162L116.1,118.6M112,149.6L105.8,122.7M112,149.6L103.7,121.4M112,149.6L100.4,120.1M112,149.6L112.1,113.2M112,149.6L114,118.8M112,149.6L104.3,113.5M112,149.6L114.6,115.7M112,149.6L111.9,106.3M112,149.6L135.5,113.6M126.7,160.8L124.6,121.5M126.7,160.8L103.5,125.4M126.7,160.8L130.9,118.4M126.7,160.8L126.7,126.8M126.7,160.8L118.3,124.6M126.7,160.8L112.4,115.6M126.7,160.8L95.9,125.2M126.7,160.8L92.9,121.1M83,106.9L118.8,120.3M83,106.9L118.7,109M83,106.9L121.7,100M83,106.9L119.2,114.2M83,106.9L118.6,106.4M83,106.9L117.7,116.4M83,106.9L117.1,111.1M83,106.9L110.4,130M83,106.9L112.2,132.3M158.1,129.2L129.8,110.1M158.1,129.2L131.2,105.5M158.1,129.2L133.2,104.4M158.1,129.2L111,118.6M158.1,129.2L109.5,124M158.1,129.2L114.6,97.9M158.1,129.2L114,108.9M82.6,89.3L112.2,121.7M82.6,89.3L102.1,115M82.6,89.3L95.5,122.4M82.6,89.3L95.8,123.1M82.6,89.3L102.4,114.7M82.6,89.3L97.5,126.1" stroke="#de5aa6" stroke-width="0.45" stroke-opacity="0.5"/>
<ellipse cx="116.5" cy="113.7" rx="14.9" ry="8.5" fill="#f48cb4" fill-opacity="0.15"/>
<path class="fl" d="M119.8,108.6L122.5,107.4M110.9,111.9L108.1,112.5M122.7,122.8L130.8,123.9M109.3,95.5L107.9,98.1M120.3,104.4L129.4,106.2M124.3,119L127,122.3M115.5,122.8L115.9,120.4M121.5,115.7L120.3,121M92.6,110.9L86.7,110.6M139.1,116.8L134,115.9M121.9,115.8L108.6,115.4M105.2,112.7L105.3,107.9M104.9,125.8L106.4,126.8M119.4,108L118.2,109.8M127.4,122.8L132.3,124.9M126.5,109.7L129.5,111.8M83,118.7L84.4,112.1M138.7,124.1L137.2,120M123.8,115.7L135,111.1M138.4,111.8L134.2,115.6M126.6,104.5L137.3,110.4M132.8,110.8L136.3,114.3M116.5,112.6L119.6,107.4M111.6,119.5L98.7,118.1M138.3,104.7L141.4,104.9M119.5,110.1L110.3,110.8M117.6,117.5L121.8,115.9M113.6,116.6L111.8,115.7M116.9,111.1L123.7,121.8M129.6,114.2L125.3,119.5M105.7,115.2L105.1,117.5M99.8,116.6L91.5,118.2M112.8,110.8L106.9,112.7M123.4,101.4L114,100M109.5,106.8L113.6,103.8M129,114.4L132.9,112.9M107.5,112.9L104.9,110.2M90,116.1L97.3,121.2M109.8,100.2L98.2,107.5M125.9,101.2L120.6,100.9M109.1,120.9L112,123.7M137,111.7L145.4,112.4M89.2,125.1L84,121.6M136.4,125.9L130.3,126.1M103.7,116.8L98.5,122.3M114,104.6L112.6,105.8M103.6,104.9L108.6,111M119.6,107.1L111.5,111.8M116.5,95.3L118.1,94.5M142.6,116.5L155.9,113.2M115.8,112.8L104.5,111.7M105.8,123.4L101.5,124.1M109.4,106.7L109.9,113.4M117.4,127.2L117.4,129.1M114.7,115.3L116.6,114.5M105.4,116.9L112.7,120.1M137.1,109.6L141,109.9M120.2,115.3L115.7,109.2M123.7,117.7L127.7,116.8M99.1,113.9L95.8,113M109.6,106.9L107.1,106.1M106.6,114.7L108.6,112.9M131,119L133.2,120.7M97.5,102.7L105.6,101.3M101,111.9L98.1,115.2M98.6,94.6L97.8,92.4M126.9,119.4L122.6,117M135.7,110.2L133.3,111.6M116.1,113.9L119.1,114.7M120,118.9L126.2,110M115.4,121.4L122.3,128.2M99.2,123L100.7,121.8M124.1,105.5L120.4,103.1M109.7,105.8L106.3,107.5M115.5,118.1L117.7,114.3M126.4,103.7L128.2,105.9M114.9,128.9L118.6,127M113.3,105.3L107.9,109.5M108.4,109L104.4,105.3M111.1,115L108.9,122.2M108.1,98.1L105.6,92.9M110.4,118.7L116.8,116.8M117.7,101.2L126.4,103.6M136.1,116.7L134.9,109.8M130.5,112.6L142.1,111.5M143,113L133.6,112M113.1,115.6L113.2,119.2M123.8,122.1L102.6,120.7M130.6,110.7L132.7,111.9M107.3,115.1L99,114.5M132,113.2L132.7,111.2M136.9,124.4L138.3,127M115.4,99L129,97.6M119,115.7L120.7,116.8M126.6,116.2L117.1,120M117.1,116.5L115.4,118.7M109.2,111.9L111,106.3M115.8,121.6L112.2,118.7M116.6,114.5L129.8,114.6M119.6,117.8L117.9,118.7M106.3,120.9L101,119.2M111.4,103L111.3,104.9M90.8,100.9L87,96.2M106.1,115.8L103,121.6M114.7,119.4L100.1,122M114.8,111L114,106.7M104.5,117.4L105,115.7M100.7,109.4L97.1,107.8M108.3,111.1L112.9,114.4M105.9,111L106.5,109.3M96.1,120.1L103.8,119M122.5,118.3L117.6,110.8M109.6,128.3L104.8,130.3M110.7,116.9L108.1,117.6M129.7,131L137.4,128.5M109,111.5L96.4,108.1M114.9,119.4L123.4,118.4M113.4,108.3L122,107.1M105.5,104.8L107.4,100.4M106.4,123.7L103.9,128.5M111.6,108.8L108.6,116.3M112.3,124.5L108.6,125.1M116.5,109.2L114.8,107.4M123.1,109.5L128.7,109M109.8,106L117.4,104.7M116.8,119.2L121,113.1M124.3,122L122.7,123.2M124.8,121.7L123.3,122.9M118.8,118.3L121.8,113.8M124.1,110.5L134.4,112.9M125.6,111.5L128.6,116.6M89.8,120L97.2,120.6M133.9,115.5L140.8,117.3M121.5,110L116.5,111.9M120.7,103.5L125.8,106.2M133.7,118.1L130.5,120.3M121.1,111.9L110.4,103.7M131.9,118.2L130.3,116.5M104.1,112.5L108.2,113" stroke="#f48cb4" stroke-width="0.42" stroke-opacity="0.55"/>
<path class="fl" d="M116.8,114.1L114.1,113.8M96.9,101.8L106.3,100M114.5,96.6L124,98.2M116.8,112.6L114.1,111.7M106.5,120.4L95,121.1M108.6,106.1L103.1,106.6M102.9,111.7L105.5,110.7M100.5,104.2L96.3,104.1M131,117.9L123.1,117.2M124.9,117.4L127.5,117.2M126.9,116.3L130.1,126M127.7,116.1L123,117.1M109.9,124.7L108.7,121M129.4,112.4L127.9,109.5M122.9,102.3L127.1,97.7M122,109.5L124.8,112.1M115.2,120.8L118.5,122.5M150.6,100.1L132.1,96.4M136,119.2L125.4,118.2M105.9,115.8L106.9,113.8M96,125.4L104.5,127.6M128.4,110.8L127.7,105.8M134.3,115.4L128.6,112M125.5,108.5L121.9,108.6M125.8,112.3L134.5,115.7M115,102.7L113.2,104.8M120.5,111.6L112.1,117.9M84.4,121.8L87.9,122.1M110.1,114.5L121.1,116.3M75.9,111.3L74.7,107.4M124.8,112.9L132.2,117.3M125.9,98.2L128.1,102.5M123.4,108.6L126.3,109.1M142.8,118.2L150.4,119.5M126,112.3L131.6,112.2M132.2,118.2L124.6,121.7M129.4,109L129.6,112.9M112.9,100.1L116.1,89.8M110.2,103.1L115.3,107.6M95.2,108.6L91.8,108M126.6,118.2L143.7,116.9M115.5,113.2L120.7,111.7M131.8,103.2L133.2,101.5M132,108.4L126.7,102.8M128.2,109.8L124.7,111.2M119.1,112.8L117.2,112.1M107.5,112.3L126.3,115.6M131.5,116.6L131.7,118.4M105.7,115.4L110.5,112.1M109,116.1L107.2,111.9M116.9,115L122.3,115.2M98.8,113.7L95,107.3M108.2,125.6L113.5,125.6M113.1,101.3L103.9,106.3M143.4,108.9L147.9,122.4M114.2,104.2L117.3,101.2M114.6,118.5L104.5,118.7M123.1,115L119.7,112M124.3,119L123.1,116.1M122.9,119.6L127.7,116.4M117.2,115.4L118.6,119.5M121.2,112.4L122,114.2M113.7,116.4L111,116.7M116.6,106.1L112.3,107.2M112.2,125.1L100,120.8M101.4,111.5L107.3,109.6M106.8,112.7L115,111.2M110.4,110.8L115.1,108.7M104.9,107L102.3,111.2M153.7,107.2L155.2,109.3M97.7,106.7L100.4,105.4M125.3,118.1L120.9,121M107.4,111.9L101.3,112.9M124.2,114L128.9,115.4M104.2,113.7L106,114.2M144.3,108.1L155.5,109.1M117,103.4L116.8,100.7M95.8,103.5L97.4,102.2M85.6,108.7L82.1,110.9M124.2,106.8L125.9,105.5M121.3,114.3L122.3,106.6M123.4,105.4L117.3,97.6M133.5,121L130.3,118.5M112.6,117.4L112.9,119.3M118.8,111L132.6,106.3M125.6,115.1L120,120.5M117.6,100.9L113.2,92.7M124.4,115.9L134.5,113.6M121.7,112.7L120.4,115M108.8,111.3L113.3,116.6M107.7,116.6L109,110.6M107.6,108.7L110.9,107M122.6,110.5L116.5,106.5M129.3,112.5L129.5,114.3M96.3,113.6L100,120.3M111.7,119L114.8,117.2M108.1,112.8L107.5,109.2M122.5,116.3L116.4,120.3M119.2,129.6L122.9,131.1M94.6,113.9L92.8,116.5M101.2,110.4L106.2,106.8M118.1,115.4L113.2,118.6M124.8,124.4L128.6,125M105.3,104.8L108.4,104.2M96.3,108.5L92.5,109.7M122.4,115.1L120.5,121.9M107.5,117.8L107.2,121.3M104.6,124.7L109.5,130.5M107.3,117.6L104.2,121.4M136.2,113.7L136.5,109.9M89,103L84,104.1M115.7,108.9L113.3,110.4M112.3,123.3L113.4,121.9M111.6,115.5L111,114M106.4,118.2L110.1,115.3M109,107.8L111.1,106.3M137.2,107.5L139.9,109M115.6,113.8L117,112.4M129.8,113.8L133.4,116M128.9,110.5L128.6,108.9M111,105.2L108.2,104.9M133.1,103.6L134.1,105.4M125.6,105.8L128.3,109.3M108.9,96.4L111,99.9M106.4,102.5L98.6,99.1M126.6,106L124.1,105.5M121,118.5L121.6,121.6M122.8,115.8L121.8,109.7M93.8,108.9L91.3,108.1M113.2,106L119.8,102.6M110.7,102.2L106.6,106.7M118.7,107L115.6,106.7M120.3,122.8L124.9,127.8M112.9,121.3L97.4,124.1M109.7,104L112.5,105.9M117.6,117.5L114.5,117M109,114.6L116.2,110M124.1,107.4L123.9,104.4M90.3,119.2L95.2,111.5" stroke="#f48cb4" stroke-width="0.42" stroke-opacity="0.55"/>
<path class="fl" d="M103,105.7L90,106.1M129.5,99.9L133.6,93.5M103.4,102.1L103.9,98.6M106.7,129.3L105.9,124.2M112.8,106.2L103.4,106.7M156.9,124.3L152.7,129.3M100.5,113.9L96.1,105.6M119.2,129.4L116.7,138.2M98.3,120.1L100.5,124M126.8,110.4L130.9,111.8M118.6,127L116.2,127.8M116,111L112.1,112.7M126.7,118.8L123.2,119.2M138.8,108.6L133.6,106.9M88.1,106.7L91,110.8M105.7,105.2L112,104.4M110.7,111.6L116.5,112.5M125.1,118.1L119.8,114.7M142.9,110.3L150.4,101.3M153.3,111.9L142,114.7M123.4,116.8L128,120.7M118.5,106.2L122.2,104.2M98.1,103.3L98.6,101.6M140.1,114.6L145.4,113.3M117.7,111.4L115.8,113.1M115.5,107.8L117.2,106.6M134,107L134.4,111M104.3,115.4L110.6,112.9M112.4,113.6L108.7,111.5M70.5,117.1L71.8,126.6M103.8,133.3L103,134.4M109.8,106.1L105.4,109.4M120.8,107.3L123,110.1M126,115.7L130.9,112.6M112.2,105.1L106.8,108M119.9,117.3L117.7,117M123.9,120.5L124.2,119M107.4,105.4L109.5,103.8M131.4,111L125.9,107.7M126.8,122.3L119,123.2M106.7,115.6L106.7,113.2M117.4,113.6L114.1,119.8M114.2,129.6L115.7,131.3M110.3,118.8L105.2,116.3M119.4,123.5L115.6,121.9M106.8,117.5L114.5,117.5M100.7,117.3L88.9,117.1M115.4,113.3L112.8,117.2M107.6,121.5L109.4,116.9M115.5,100.7L117.7,99.8M94.8,120.1L87.6,124M113.9,116.3L115.5,115.6M121.2,109.7L123.8,110.5M94.9,120.8L100.2,123.1M127.3,111.9L128.3,120.1M92,103.2L96.3,99.7M118,116.5L126.3,119.2M99.7,116.4L102.5,115.3M133.2,126.8L130.5,131.3M121.9,111.4L124.6,113.3M107.9,119.9L100.3,116.5M117.6,113L124.8,113.2M89.8,108.7L92.4,107.8M126.6,112.2L127.1,116.6M107.3,113.7L106.8,116.4M111.6,128.4L113.9,126M115.8,125.9L109,129.6M124.7,107.1L118,102.9M113.6,118.1L109.6,116.6M120,109.5L122.2,106.6M117.5,107.9L114.1,102M105.9,125.9L116.3,125.7M105.6,105.1L109.2,102.1M127.3,126.6L133.7,128.6M112.7,109.5L110.5,113.6M95,103.8L103.6,106M136.4,113.3L137.3,111.6M148.5,103.8L150.8,107.3M114.8,102.5L118.1,101.1M105.7,107L101.8,99.1M113.7,114.5L117.2,114.3M111,105.6L104.1,106.9M128.2,107.4L134.6,107.6M98.7,106.7L109.6,112M115.1,111.7L111.5,113M136.3,114.5L136.3,115.8M134.6,112.9L135.5,117.8M112.6,113.2L108.4,108.9M113.5,105.7L119.2,110.3M123.7,111.9L126.7,112M107.6,102.9L105.5,102.9M105.1,121.2L113.9,126.1M115.5,115.1L106.9,114.9M125.9,114.8L120.5,116.3M113.3,110L112.2,108M123.5,114.5L130.8,116.9M117.1,110.9L118.1,105M123.8,117.4L118.7,117.7M97.3,118.1L116.3,122.7M137.2,120.1L146,120.2M124.5,110.5L133.6,104.4M104,114.6L109.7,113.6M120.5,110.9L122.7,111.3M113.9,101.9L108.8,104.4M118.6,109.1L121,105.8M116.8,111.9L116.1,107M134.5,107.8L129.2,107.9M119.2,109.1L128.2,106.1M125.8,117.2L130.7,118.4M121,108.5L122.6,112.4M100.3,100.7L102,98.3M97.8,122.2L105.3,123.9M135.7,103.4L142,102.9M102.5,112.8L101.6,108.8M92.3,107L83.1,101.8M127.1,125.4L128.1,120.4M121.6,115.7L116.6,114.4M127.1,114L124.2,113.3M114.5,111.7L134.2,114.2M101.3,100.2L95.9,98M115.7,125.3L121.1,128.2M130,110.7L128.3,115.5M101.7,99.6L104,97.7M129.2,113.1L131.8,117.3M124.3,108.8L124.8,111.2M107.3,107.1L123.5,107.9M111.3,101.5L109.4,101.3M114.9,109.8L108.7,108.6M111.1,109.8L111.7,108.6M127.9,104.1L119.4,101.6M113.7,114.6L102.3,112M128.7,119.7L130.9,122.4M130.5,111.5L138.4,117.1M102.8,123L98.6,117.6M92.8,115.8L90.8,119.3M116.5,111.4L124,113.5M124.6,115.9L116.4,112.3M137,103.1L130.6,99.2" stroke="#f48cb4" stroke-width="0.42" stroke-opacity="0.55"/>
<path class="fl" d="M99.9,111.8L95.9,112M123.4,114.6L115.6,115.4M100.1,112.3L97.3,112.3M115.5,109.7L116.6,107M109.2,121.4L104.8,118.2M105.7,112.5L107.5,117.6M129.1,121.2L127.7,116.5M130.8,102.4L138,102.7M121.4,99.7L126.8,101.5M128.4,120.3L132.2,117.2M107.5,110L104.9,111.6M114.6,116.9L118.4,116M119.3,112.2L115.1,110M126.6,107L131.2,108.5M127.6,111.7L134.5,113.5M98.3,106.3L99.4,109.5M114.8,101.3L111.4,102.3M125.7,110.5L125.1,108.5M106,105L103.4,107.3M136.7,101.8L132.7,101.3M135.7,106.4L140.7,108.8M114,111.1L112.2,106.7M120.5,106.9L115.8,104.4M112.7,116L119.1,117.3M125.1,113.8L119.7,113.1M114.3,109.3L120.7,109.5M112.3,117.8L109.1,119.3M115.7,112.9L112.5,114.1M109.6,100.9L116.7,102.5M104.2,107.8L101.7,105.6M107.2,112.5L109.6,109.5M130.9,113.3L136.4,114.4M127.5,102.2L128,96.8M118.6,104.1L116.2,98.1M139.6,123.4L136.9,124.1M109.1,111.8L108.5,114.9" stroke="#fcd8cc" stroke-width="0.6" stroke-opacity="0.85"/>
<g fill="#fcd8cc" fill-opacity="0.8"><circle cx="97.5" cy="69.1" r="0.5"/><circle cx="89.9" cy="79.4" r="0.5"/><circle cx="64.8" cy="95.9" r="0.5"/><circle cx="66.2" cy="113.8" r="0.5"/><circle cx="71.5" cy="103.9" r="0.5"/><circle cx="91.3" cy="140.8" r="0.5"/><circle cx="99.5" cy="128.5" r="0.5"/><circle cx="114.1" cy="70" r="0.5"/><circle cx="122.8" cy="70.4" r="0.5"/><circle cx="131" cy="76.3" r="0.5"/><circle cx="141.6" cy="66.1" r="0.5"/><circle cx="146.6" cy="84.5" r="0.5"/><circle cx="165.4" cy="112.7" r="0.5"/><circle cx="154.3" cy="98.4" r="0.5"/><circle cx="162.4" cy="137.6" r="0.5"/><circle cx="152.7" cy="145.7" r="0.5"/><circle cx="138.5" cy="157.4" r="0.5"/><circle cx="122.1" cy="162" r="0.5"/><circle cx="112" cy="149.6" r="0.5"/><circle cx="126.7" cy="160.8" r="0.5"/><circle cx="83" cy="106.9" r="0.5"/><circle cx="158.1" cy="129.2" r="0.5"/><circle cx="82.6" cy="89.3" r="0.5"/></g>
<path class="fl" d="M96,74L103,75.5L99,84" stroke="#fbd0d0" stroke-width="0.8" stroke-opacity="1" stroke-linejoin="round"/>
<path class="fl" d="M103,82L113,100L121,118" stroke="#fbd6cc" stroke-width="0.9" stroke-opacity="1" stroke-linejoin="round"/>
<path class="fl" d="M88,111.5L106,112.5L118,116" stroke="#fcdcd0" stroke-width="0.9" stroke-opacity="1" stroke-linejoin="round"/>
<path class="fl" d="M120,92L124,108L131,122" stroke="#f8b8c8" stroke-width="0.8" stroke-opacity="1" stroke-linejoin="round"/>
<path class="fl" d="M99,122L108,132L100,138L112,136" stroke="#fbd0d0" stroke-width="0.7" stroke-opacity="1" stroke-linejoin="round"/>
<path class="fl" d="M126,104L137,112L148,127" stroke="#f8b8c8" stroke-width="0.7" stroke-opacity="1" stroke-linejoin="round"/>
<path class="fl" d="M110,104L116,122L113,135" stroke="#fcdcd0" stroke-width="0.7" stroke-opacity="1" stroke-linejoin="round"/>
<path class="fl" d="M74,152L80,147L88,143" stroke="#f8c0d0" stroke-width="0.7" stroke-opacity="1" stroke-linejoin="round"/>
</g>
<path d="M52.3,230.2V233.3H89.2V230.2" fill="none" stroke="#5a5a5a" stroke-width="0.9"/>
<text class="sb" x="52.6" y="226.6" text-anchor="middle">0</text>
<text class="sb" x="78.2" y="226.6">50 km</text>
<g transform="translate(265.2,207.5)">
<use href="#og" fill="#dedfdf"/>
<use href="#n1" fill="#050707"/>
<use href="#n1h" fill="#dedfdf"/>
<path class="fl" d="M122.3,118L128.1,126L133.5,134.1M120.3,119.4L122.9,130.2L125.7,140.8M114.6,112.4L110.6,112.7L106.5,112.2M116.3,111.4L104.4,107.4L94.4,100.3M118.8,114.5L118.3,127.2L122,139.8M123.4,108.3L125.8,105.2L129.6,103.1M115.6,112.5L101.2,113.7L86.6,112.9M123.3,118.5L123.7,123.5L129.4,126M112.4,114.1L105,116.1L97.5,117.9M119.4,114.3L126.5,124.1L129.8,135.5M119.2,109.4L125.4,98.1L124.7,85M118.7,105.6L121.2,96.9L119.4,88M122.7,115.9L133.9,121.8L141.5,131.4M126.6,108.9L133.5,104.7L141.6,102.2M113.6,113.8L99.8,118.5L85.2,121.5M121.2,112.9L131.9,117.5L144.7,116.3M112.6,112.6L102.6,111.2L92.5,113.1" stroke="#9a3c7c" stroke-width="0.55" stroke-opacity="0.75"/>
<path class="fl" d="M119.7,118.3L120.4,126.8L123.2,135.2M119.9,115.1L121,121.8L126.5,127.2M114.6,117.2L112.9,123.5L106.2,127.5M126.3,115.4L138.3,118.6L149.3,123.9M115.5,106.7L114.5,94.7L104.2,85.2M110.2,117.1L97.5,123.2L85.9,130.8M122.9,109.1L127.7,103.4L135,99.9M120.8,110.5L125,108.5L127.6,104.8M119.4,107.6L117.1,96.3L123.3,85.4M118.3,116.2L120,123.4L117.4,130.8M122.8,114.2L133,122.4L147.9,124.2M118.3,107.5L121,102L118,96M110.8,111.4L106.4,112.3L102.3,110.3M122.9,106.5L131.1,97.1L137.3,86.7M112.6,115L101.6,121.5L88.7,125.2M114.4,111.7L101.8,112.9L90.1,107.2M114.7,105L113.6,101.4L111.3,98.3" stroke="#e07cb0" stroke-width="0.55" stroke-opacity="0.75"/>
<path class="fl" d="M72.8,71.4L85.1,66.5" stroke="#9a3c7c" stroke-width="0.5" stroke-opacity="0.75" stroke-linejoin="round"/>
<path class="fl" d="M118.3,105.9L143,66.5" stroke="#e07cb0" stroke-width="0.6" stroke-opacity="0.75" stroke-linejoin="round"/>
<path class="fl" d="M123,100L123.5,72L116,71.5L115.5,96" stroke="#e07cb0" stroke-width="0.5" stroke-opacity="0.75" stroke-linejoin="round"/>
<path class="fl" d="M66,96L82,108L79.5,95" stroke="#9a3c7c" stroke-width="0.6" stroke-opacity="0.75" stroke-linejoin="round"/>
<path class="fl" d="M66,117L80,118" stroke="#9a3c7c" stroke-width="0.6" stroke-opacity="0.75" stroke-linejoin="round"/>
<path class="fl" d="M125,112L163,119" stroke="#e07cb0" stroke-width="0.8" stroke-opacity="0.75" stroke-linejoin="round"/>
<path class="fl" d="M128,106L160,92L172,88" stroke="#9a3c7c" stroke-width="0.6" stroke-opacity="0.75" stroke-linejoin="round"/>
<path class="fl" d="M124,122L138,148L135,165" stroke="#e07cb0" stroke-width="0.6" stroke-opacity="0.75" stroke-linejoin="round"/>
<path class="fl" d="M128,120L152,134L166,140" stroke="#e07cb0" stroke-width="0.6" stroke-opacity="0.75" stroke-linejoin="round"/>
<path class="fl" d="M121,124L128,150L137,173" stroke="#9a3c7c" stroke-width="0.6" stroke-opacity="0.75" stroke-linejoin="round"/>
<path class="fl" d="M118,124L116,148" stroke="#e07cb0" stroke-width="0.6" stroke-opacity="0.75" stroke-linejoin="round"/>
<path class="fl" d="M108,118L92,132L86,128" stroke="#e07cb0" stroke-width="0.6" stroke-opacity="0.75" stroke-linejoin="round"/>
<path class="fl" d="M130,124L148,150" stroke="#9a3c7c" stroke-width="0.5" stroke-opacity="0.75" stroke-linejoin="round"/>
<path class="fl" d="M74,150L74.5,160" stroke="#e07cb0" stroke-width="0.6" stroke-opacity="0.75" stroke-linejoin="round"/>
<path class="fl" d="M158,143L176,166" stroke="#9a3c7c" stroke-width="0.4" stroke-opacity="0.75" stroke-linejoin="round"/>
<path class="fl" d="M131,117L150,150L143,157" stroke="#9a3c7c" stroke-width="0.5" stroke-opacity="0.75" stroke-linejoin="round"/>
<path class="fl" d="M114.6,108.6L110.5,105.4M126.6,110.8L129.7,111.2M119.7,113.2L122.4,114.8M119.2,111.9L121.5,110M114.5,111.7L111.1,111.8M121.8,118.5L125.8,125.1M107.2,109.5L100.8,104.3M119.4,109.7L118.1,104.2M118.9,112.6L122.2,114.9M116.9,108.8L115.7,106.8M113.8,115.7L110,120.4M103.4,108.6L101.4,106.7M108.2,106.4L106.1,102.4M118.3,112L116.4,105.8M126.4,115.2L130.8,116.3M138.4,111.8L140.8,110.7M123.2,114.4L129.6,117.1M130.7,113.7L136,115.2M112.4,112L110,112.4M113.8,114.2L107.8,118.9M119.1,111.5L119.9,106.4M109.9,113.1L100.2,112.6M126.3,116.2L133,122.5M118.7,111.6L121.2,103.9M114.7,107.1L113.4,103.4M126.7,108.7L132.3,104.6M129,96L128.9,91.5M116.5,116.5L115.6,119.5M112.9,111L107.3,105.4M115.4,113.1L107.6,118.8M117.9,111L116.8,103.6M118,118L115.8,122M118.4,114.6L117.7,118.1M115.4,110.8L110.8,108.8M126.2,110.1L130.3,109M119.3,113.7L121.6,117.2M119.3,114L120,123.5M118.4,112.1L114.2,107.8M127.8,114.4L129.8,114.3M111.1,110.8L106.7,111.4M112.8,113.9L106.1,118.9M120.6,109.1L121.7,107M121.6,118.6L126.8,125.2M121.7,108.7L129.4,103.9M121.3,112.7L128.3,116.6M118.6,111.2L118,108.8M121.9,106.2L125.1,98.4M114.9,117.1L113.4,121.7M115.1,121.4L115.4,123.9M106.6,111.8L103.2,110.9" stroke="#e07cb0" stroke-width="0.6" stroke-opacity="0.8"/>
<path class="fl" d="M118.2,114.1L117.4,121.5M118.1,112L115.7,110.3M125.6,109.9L133.2,108M116.6,112.3L108.3,114.5M120.1,118.1L121.5,124.9M119.4,113.8L120.9,119.6M123,118.3L124,125.6M120.9,121.5L120.2,130.7M101.3,109.6L91.8,108.6M129,109L131.1,108.8M113.6,117.7L108,122.2M122.2,117.3L123,123.5M124,108.4L130.3,103.2M116.8,91L118.3,86.4M122.1,114.1L129.3,118.7M116.7,114.2L116,116.3M117.1,113.1L113.6,114.2M119.2,112.9L122,118.5M121.7,110.5L125,106.2M118.3,112.3L115,104.9M118.4,112.4L114.4,108.1M117.7,119.2L116.9,124.8M123,113.3L129.9,117.3M117.4,105L119.2,100.3M109.3,118.3L103.8,122M118.8,112.5L122.4,111.3M118.2,109.7L115.6,105.5M122.4,106.5L125,101.5M112.8,116.3L105,120.6M118.6,106.3L118.1,102.4M119.5,108.7L118.6,100M132,103.6L134,99.6M112.5,107.1L106.3,102.9M115.1,121.6L115.1,125.2M117.2,112.5L112.6,111.7M115.3,109L112.9,106.5M125.7,119.6L127.8,121.7M121.7,110.1L123.5,108.9M117.4,106.9L115.9,97.3M115.1,115.2L109.5,119.6M113.5,117L109.2,120.7M107.6,111.7L99.5,113.3M123.9,113L130.5,112M112.6,109.8L106.7,109.1M119.6,114L122,116.8M124.9,114.1L128.1,114.1M116.2,110.7L110.4,108.3M121.9,114.9L128.4,119.7M119.4,114.8L122,117.8M110.9,108.1L107.4,107.3" stroke="#e07cb0" stroke-width="0.6" stroke-opacity="0.8"/>
<path class="fl" d="M115,111L113.3,109.8M115.7,119.1L114.3,128.3M118.2,112.8L112.5,119.9M118.8,110.9L119.5,107.5M134.5,106.1L142.2,104.6M108.9,111L104.2,111.7M116.2,109.5L115.7,107.1M117,117.6L117.8,122.1M118.5,112.4L118.8,109.5M116.1,109.4L113.9,106.3M114.6,115.6L108.8,119.6M112.4,113.3L107.5,113.9M120.6,117.6L122.3,120.7M118.7,112.4L121.6,110.3M122,113.1L129.3,113.3M120.4,124.8L120.2,130.4M117.9,106.5L115.8,100M119.2,111.6L123,107.1M112.9,120.9L111.8,128.2M119.8,104.9L122.8,95.6M119,112.1L122,108.1M145,109.3L149.5,106.9M117.9,112L114.7,105.9M118.3,107.6L120.5,98.9M126.1,107.7L132.1,102.9M99,111.1L92.8,107.3M115.4,113.6L111.9,117.3M122.2,115.9L124.8,116.9M118.3,112.5L115.4,113M116,112.4L110.5,113.1M116.9,107.3L116.9,104.3M116.1,115.2L109.8,121.1M119,112.4L126.2,110.1M124.8,105.2L125.9,100.6M124.7,110.4L128.9,110.1M120.4,105.5L119,101M120,114.7L127.1,119.2M120.6,115.7L123.1,121.6M122.2,108.4L124.5,100.7M125.9,116.7L128.2,120.5M118.5,113.8L115.8,122.2M118.3,106.3L119.1,102.4M117.3,114.5L110,121.3M125.4,115.7L130.5,123.5M113.8,113.4L107.9,117.1M131.4,111.3L140.3,113.7M120.2,113.3L122.2,116M110,110.4L101.6,111M117.4,107.2L113.8,101.1M117.6,111.7L108.7,108.2" stroke="#f6c4d6" stroke-width="0.6" stroke-opacity="0.9"/>
<path class="fl" d="M127.9,110.8L134.3,108.5M115.5,114.3L109.3,119.4M120.1,115.5L121.7,117.4M129.4,107.1L132.7,103M118.3,112.9L117.1,115.6M111.3,111.3L108.8,111.9M118.6,112.8L122.9,120.4M114.6,107.7L109.9,100.9M116.8,109.3L115.8,103.1M118.7,104.5L120.1,95.2M117.6,120.7L116.5,129.9M134.3,121.1L137.1,124.1M118.5,105.6L117.5,101.6M121.5,109.8L126.9,105.3M122.6,115.5L128.4,118.1M111.9,97.4L109.9,91.3M119.6,112.3L124.8,111M116.2,108.3L115.2,104.4M118.1,111.6L115.3,107.3M118.7,112.9L120.3,122.7M128.2,108.9L134.3,106.1M127.4,106.9L129.6,102.5M115.3,115.1L112.9,122.1M125.3,111L128.3,109.2M117.7,113.6L115.2,116M114,110.1L109,104.7M131.2,118.5L139,122.8M115.2,110.5L110.2,109M119.5,110.9L119.9,107.4M118.1,112.3L113.7,108.8M112.7,115.7L109.4,117.2M116.8,112.4L114,113M115.5,116.5L111.4,121.4M119.9,108.6L120.6,106M117,104L119,98.1M118.5,118.6L119.3,124.5M115.8,117.1L111.1,124.2M118.8,108.7L122.6,101.2M117.1,113.2L109.7,115.2M118.3,114.2L118,118.3M122,103L127.3,96.8M114,115.9L108.2,123.4M120.8,111.2L128.5,108.8M117.1,118L115.6,127.5M120,113.3L125.4,121.2M107.2,114.3L97.4,113.3M118.1,113.1L115.9,115.3M112.7,111.1L110,108.7M104.5,100.8L100.5,96.4M121.7,110.7L124.6,109.7" stroke="#f6c4d6" stroke-width="0.6" stroke-opacity="0.9"/>
<path class="fl" d="M124.1,99.8L128.3,95.7M107.9,117.5L104.9,120.5M120.2,117.3L124.7,122.4M109.4,107.4L105.1,102.4M119.1,112.3L123,110.7M121.9,112.3L129,114.8M118.7,112.3L120.6,107.9M112.1,117.7L107.2,123M122.5,113L127.7,116.8M117.6,112.1L110.5,109.3M116.3,105.7L113.1,99.4M123.8,113.9L127.6,116.3M117.1,106.8L116,104.9M117.8,118.8L115.7,123.4M113.1,111.9L105.6,112.6M122.7,95.9L125,91.7M117.2,112.7L110.3,113.9M122,108.7L124.7,101.9M119.5,116.4L119.9,123.5M125.6,110.6L130.5,106.7M117.5,112.6L113.9,114.5M135.6,116L142.3,118.9M120.1,120.3L124.4,128.8M121.7,109.1L125.7,101.1M121.7,115.3L123,119.5M113.4,116L108.9,123.3M120.2,115.5L123.4,124M117.9,117.2L116.9,124.2M110.1,108.9L107,108M124.8,112.8L131.3,113.8M120.5,107.5L122.1,101.5M123.3,105.6L126.1,100.9M112.6,106.4L111.2,104.5M105.7,113.7L96.4,110.5M116.9,113.1L115.2,114.5M118.8,127.3L119.2,134.7M124.4,114.6L127.7,115.5M115.8,104L113.6,96.8M114.9,112.8L107,109.7M116.9,105.6L115.7,98.9M108.1,120.7L100.8,124.3M123.3,107.8L130,100.4M115.3,112.9L109,114.8M118.7,112.2L122.3,104.7M114.1,116.1L112.5,117.4M111.5,104.1L107.6,102M118.8,112.7L120.3,114.8M119.8,116.2L120.5,125.6M123.9,114.6L126.1,116M123.7,112.9L132.4,110.1" stroke="#fdeeee" stroke-width="0.7" stroke-opacity="0.95"/>
<path class="fl" d="M115.3,112.7L106.2,111.5M119.4,114.6L119.8,123.4M128.9,112.1L137,110.4M116.8,115.9L113.4,122M119.3,112.5L123.8,110.6M115.8,114.2L112.1,115.9M112.5,110.6L107.7,107.9M120.5,112.3L128.6,107.9M116.5,110.6L112,103.5M118,113L113.4,117.2M122.2,114.4L129.1,118.6M122.3,109.5L126.8,107.5M121.8,108.7L126.4,101.1M117.1,106L116.9,97.6M116.5,114.8L114.9,118M118.4,111.5L114,103.3M115.5,110.7L110,107.2M119.3,113.3L120.2,118.1M117,113L109.9,118.3M125.2,115.1L131.7,117.2M114.4,112.9L110.7,115.3M111,115.1L105.7,115.8M115.4,114L112.2,115.6M114.6,109.7L109.4,104.6M123.2,108.8L127.9,100.4M97.2,118.7L92.2,121.3M130.6,107.3L132.8,105.4M119.7,115.6L120.6,123.2M142.1,120.8L144.4,121.3M117.9,112.6L111,117.5M105,110.5L101.3,111.2M121.2,103.4L123,98.2M109.9,121.2L101.5,125.4M131.4,111.1L133.3,110M118.6,112.4L123,103.6M109.5,115.2L106.8,117.6M119.9,111.7L124.9,111M117.9,109.4L117.2,100.5M108.6,113L103.5,111.5M119.4,111.2L121.4,106.7M117.7,113.3L111.6,116.1M119.5,105.2L118.5,100.3M117.8,112.2L115.9,109.9M118.1,112L117.7,107.7M117.9,116.3L116.1,118.9M118.8,119.4L117.3,123.3M118.5,112.5L111.7,108.1M118.7,112.4L124.2,110.6M121.5,114.3L123.6,115.3M117.9,112.5L113.6,112.2" stroke="#fdeeee" stroke-width="0.7" stroke-opacity="0.95"/>
<path class="fl" d="M98.6,78.8L109.7,105.9" stroke="#fdeeee" stroke-width="1.0" stroke-opacity="0.95" stroke-linejoin="round"/>
<path class="fl" d="M128,84L132,78" stroke="#fdeeee" stroke-width="1.0" stroke-opacity="0.95" stroke-linejoin="round"/>
</g>
<path d="M313.3,230.2V233.3H350.2V230.2" fill="none" stroke="#5a5a5a" stroke-width="0.9"/>
<text class="sb" x="313.6" y="226.6" text-anchor="middle">0</text>
<text class="sb" x="339.2" y="226.6">50 km</text>
<g transform="translate(527.4,207.5)">
<use href="#og" fill="#dedfdf"/>
<use href="#n1" fill="#050707"/>
<use href="#n1h" fill="#dedfdf"/>
<path d="M83.2,108.9L90.4,108.9L71.3,104L93.7,103.9L81.5,90.4L97.6,96.5L89.4,81.1L101,88.5L96.8,69.3L110.5,88.4L114.1,70.1L117.6,88.6L122.9,70.5L122.5,90.9L131.5,74.9L131.5,91.5L147.4,85.4L141.7,97.3L155.6,96.9L144.4,107.2L164,111.9L147.7,118.5L158.4,129.1L139.6,123.4L162.1,136.3L139.8,128.6L153.2,144L137.1,139.4L138.5,157.4L125.8,140L126.3,159.7L121.4,139.4L124.2,160.9L116.5,133.7L110.6,148.4L105.5,136.4L92.3,140.9L90.2,125.7L65.9,115.1L93.7,112.1Z" fill="#9c2a84" fill-opacity="0.38"/>
<path d="M93.2,110.2L102.7,110.9L84.8,106.8L99.3,106.1L92,97.2L100.3,98.9L97.5,90.7L104.6,94.3L102.7,82.5L111.9,94.5L114.8,83L117.5,92.3L121,83.3L121,96.4L127,86.4L128.1,96.4L138.2,93.7L135.1,101.5L143.9,101.8L136.8,108.8L149.7,112.3L140,117.2L145.8,124.3L135,121.4L148.4,129.4L137.1,126.8L142.2,134.8L130.9,131.5L131.9,144.1L124.4,135.9L123.3,145.8L120.2,133.2L121.9,146.6L116.5,130.5L112.4,137.9L108.7,129.6L99.5,132.6L109.4,120.6L105,124.2L106.1,117.6L81.1,114.5L102.4,112.6Z" fill="#c8409c" fill-opacity="0.24"/>
<ellipse cx="116.5" cy="113.2" rx="20.2" ry="12.8" fill="#e860a8" fill-opacity="0.3"/>
<path d="M96.8,69.3L103.4,122.5L121.5,114.4Z" fill="#9c2a84" fill-opacity="0.11"/>
<path d="M96.8,69.3L112.6,100L125.8,94.1Z" fill="#9c2a84" fill-opacity="0.11"/>
<path d="M96.8,69.3L113.6,111.7L136.8,101.3Z" fill="#9c2a84" fill-opacity="0.11"/>
<path d="M89.4,81.1L96.5,114.1L105.3,106.8Z" fill="#9c2a84" fill-opacity="0.12"/>
<path d="M89.4,81.1L98.7,133.5L119,116.3Z" fill="#9c2a84" fill-opacity="0.12"/>
<path d="M89.4,81.1L107.2,113L122.9,99.8Z" fill="#9c2a84" fill-opacity="0.12"/>
<path d="M65.8,96.8L120.3,113.3L124.3,100.9Z" fill="#9c2a84" fill-opacity="0.1"/>
<path d="M65.8,96.8L102.1,118.8L109,97.4Z" fill="#9c2a84" fill-opacity="0.1"/>
<path d="M65.8,96.8L109.1,112.6L117.5,86.5Z" fill="#9c2a84" fill-opacity="0.1"/>
<path d="M65.9,115.1L116.1,127.3L115.1,100Z" fill="#9c2a84" fill-opacity="0.11"/>
<path d="M65.9,115.1L102.8,111.6L102,89.6Z" fill="#9c2a84" fill-opacity="0.11"/>
<path d="M65.9,115.1L112.4,138.1L111.6,114.3Z" fill="#9c2a84" fill-opacity="0.11"/>
<path d="M71.3,104L107.2,113.6L112.5,87.3Z" fill="#9c2a84" fill-opacity="0.11"/>
<path d="M71.3,104L116.5,121.1L122.1,93.8Z" fill="#9c2a84" fill-opacity="0.11"/>
<path d="M92.3,140.9L114.1,119.2L96,103.3Z" fill="#9c2a84" fill-opacity="0.12"/>
<path d="M92.3,140.9L119.9,115.8L109.7,106.8Z" fill="#9c2a84" fill-opacity="0.12"/>
<path d="M92.3,140.9L113.5,115.6L98.8,102.7Z" fill="#9c2a84" fill-opacity="0.12"/>
<path d="M100.1,128.9L119.1,116.5L99.8,96.2Z" fill="#9c2a84" fill-opacity="0.14"/>
<path d="M100.1,128.9L118.8,123.1L100.9,104.4Z" fill="#9c2a84" fill-opacity="0.14"/>
<path d="M100.1,128.9L121.5,116.5L108.2,102.6Z" fill="#9c2a84" fill-opacity="0.14"/>
<path d="M114.1,70.1L98.2,104.4L114.5,103.5Z" fill="#9c2a84" fill-opacity="0.11"/>
<path d="M114.1,70.1L105.2,118L129.2,116.6Z" fill="#9c2a84" fill-opacity="0.11"/>
<path d="M114.1,70.1L123.5,114.9L137.6,114.1Z" fill="#9c2a84" fill-opacity="0.11"/>
<path d="M122.9,70.5L118.8,104.3L132.2,106.3Z" fill="#9c2a84" fill-opacity="0.11"/>
<path d="M122.9,70.5L108.4,103.4L121.1,105.3Z" fill="#9c2a84" fill-opacity="0.11"/>
<path d="M131.5,74.9L120.2,113.9L134.9,119.6Z" fill="#9c2a84" fill-opacity="0.12"/>
<path d="M131.5,74.9L103.2,104.5L113.7,108.6Z" fill="#9c2a84" fill-opacity="0.12"/>
<path d="M141.9,66.4L99,107L108.7,112.3Z" fill="#9c2a84" fill-opacity="0.1"/>
<path d="M141.9,66.4L107.1,96.2L117.9,102.1Z" fill="#9c2a84" fill-opacity="0.1"/>
<path d="M141.9,66.4L108.1,98.9L127,109.2Z" fill="#9c2a84" fill-opacity="0.1"/>
<path d="M147.4,85.4L118,112L135.5,131.5Z" fill="#9c2a84" fill-opacity="0.12"/>
<path d="M147.4,85.4L120.6,108.2L133.8,122.8Z" fill="#9c2a84" fill-opacity="0.12"/>
<path d="M147.4,85.4L101.4,100.1L112,111.8Z" fill="#9c2a84" fill-opacity="0.12"/>
<path d="M164,111.9L123.9,110.2L124.4,129.4Z" fill="#9c2a84" fill-opacity="0.11"/>
<path d="M164,111.9L117.3,99.1L117.7,115Z" fill="#9c2a84" fill-opacity="0.11"/>
<path d="M164,111.9L114.2,91.1L114.9,115.5Z" fill="#9c2a84" fill-opacity="0.11"/>
<path d="M155.6,96.9L112.2,91.3L122.2,115.3Z" fill="#9c2a84" fill-opacity="0.12"/>
<path d="M155.6,96.9L122,105.3L128.9,121.8Z" fill="#9c2a84" fill-opacity="0.12"/>
<path d="M155.6,96.9L119.1,97.4L124.5,110.3Z" fill="#9c2a84" fill-opacity="0.12"/>
<path d="M162.1,136.3L117.5,110.2L110.5,123.9Z" fill="#9c2a84" fill-opacity="0.11"/>
<path d="M162.1,136.3L114.3,110.2L107.8,122.9Z" fill="#9c2a84" fill-opacity="0.11"/>
<path d="M162.1,136.3L134.4,105.3L126.3,121.3Z" fill="#9c2a84" fill-opacity="0.11"/>
<path d="M153.2,144L116.1,109.5L102.5,125.7Z" fill="#9c2a84" fill-opacity="0.11"/>
<path d="M153.2,144L127,120.1L116.6,132.4Z" fill="#9c2a84" fill-opacity="0.11"/>
<path d="M138.5,157.4L139.5,103.6L116.4,115.1Z" fill="#9c2a84" fill-opacity="0.11"/>
<path d="M138.5,157.4L136.2,106.1L118.5,114.9Z" fill="#9c2a84" fill-opacity="0.11"/>
<path d="M138.5,157.4L111.7,114.3L96.9,121.7Z" fill="#9c2a84" fill-opacity="0.11"/>
<path d="M124.2,160.9L142,117.6L117.1,121.7Z" fill="#9c2a84" fill-opacity="0.11"/>
<path d="M124.2,160.9L126.2,119.9L110.8,122.4Z" fill="#9c2a84" fill-opacity="0.11"/>
<path d="M124.2,160.9L128.4,118.5L102.1,122.7Z" fill="#9c2a84" fill-opacity="0.11"/>
<path d="M110.6,148.4L109.4,120.4L97.9,118.5Z" fill="#9c2a84" fill-opacity="0.12"/>
<path d="M110.6,148.4L122.8,121.4L108,118.9Z" fill="#9c2a84" fill-opacity="0.12"/>
<path d="M126.3,159.7L141.1,112.3L121,116.5Z" fill="#9c2a84" fill-opacity="0.11"/>
<path d="M126.3,159.7L142.7,109.5L116.3,115Z" fill="#9c2a84" fill-opacity="0.11"/>
<path d="M126.3,159.7L138.7,105.4L112.1,111Z" fill="#9c2a84" fill-opacity="0.11"/>
<path d="M83.2,108.9L108,133.6L110.8,111.9Z" fill="#9c2a84" fill-opacity="0.12"/>
<path d="M83.2,108.9L116.7,112L118.2,100.5Z" fill="#9c2a84" fill-opacity="0.12"/>
<path d="M83.2,108.9L111.5,109.2L113.3,95.7Z" fill="#9c2a84" fill-opacity="0.12"/>
<path d="M158.4,129.1L121.2,115.8L112.3,139.2Z" fill="#9c2a84" fill-opacity="0.11"/>
<path d="M158.4,129.1L119.7,97.7L115.5,109Z" fill="#9c2a84" fill-opacity="0.11"/>
<path d="M158.4,129.1L131.5,93.5L123.4,114.9Z" fill="#9c2a84" fill-opacity="0.11"/>
<path d="M81.5,90.4L112.9,118.8L126,98.6Z" fill="#9c2a84" fill-opacity="0.11"/>
<path d="M81.5,90.4L113.9,107.4L120.2,97.8Z" fill="#9c2a84" fill-opacity="0.11"/>
<path d="M81.5,90.4L108.7,103L115.8,92.2Z" fill="#9c2a84" fill-opacity="0.11"/>
<path class="fl" d="M74.1,74.7L113.8,115.6M92.6,52.3L104.5,102M64.1,148.1L109.7,118.7M178.4,83.8L113.5,97.2M178.4,83.8L110.6,97.2M136.9,172.8L121.2,135.2M136.9,172.8L128.4,124.9M136.9,172.8L127.5,131.5M176.7,132.8L127.5,128.2M74.6,160.6L110.7,110.9M136.9,172.8L122.5,133.4M145.1,180.2L110.5,141M145.1,180.2L128.7,132.3M176.7,132.8L130.6,107.6M38.7,158.2L117.3,119.2M75.5,49.3L123.8,101.1M64.1,148.1L97.9,116.2M136.9,172.8L108.7,129.2M136.9,172.8L101.9,121.9M176.7,132.8L130.7,130.6M92.6,52.3L122.2,87.7M74.1,74.7L123.3,109.4M145.1,180.2L126.8,128.7M197,85.1L131.6,108.1M92.6,52.3L103.7,100.1M136.9,172.8L129.9,126.8M178.4,83.8L123.2,125.7M75.5,49.3L126.8,110.2M64.1,148.1L107.2,128.3M171,90.9L122.9,125M171.1,167L133.5,120.9M171.1,167L144.8,123.3M171.1,167L140.4,125.5M73.6,151.2L115,114.2M136.9,172.8L125.3,130.2M92.6,52.3L92.2,105.1M64.1,148.1L110.4,123.2M145.1,180.2L128.2,107.9M73.6,151.2L111.6,111.8M74.6,160.6L106.8,103.3M197,85.1L116,112.3M145.1,180.2L110.9,137.7M136.9,172.8L109.2,135.9M74.1,74.7L111.1,103.9M64.1,148.1L104.8,122.1M74.1,74.7L125.5,98M171.1,167L124.4,125.3M136.9,172.8L102.8,122.2M136.9,172.8L130.3,123.6M64.1,148.1L100.9,117.9M176.7,132.8L126.8,105.7M74.1,74.7L114.2,109.8M74.6,160.6L98.7,118.2M145.1,180.2L114.8,136.6M73.6,151.2L123.6,120.6M74.6,160.6L97.2,107.1M38.7,158.2L126.7,116.8M136.9,172.8L126,124.3M197,85.1L112.1,122.5M75.5,49.3L110.8,112M73.6,151.2L126.1,119.5M73.6,151.2L115,112.6M171,90.9L118.8,95.9M38.7,158.2L127.7,120.1M145.1,180.2L118.1,128.8M64.1,148.1L99.2,113.3M73.6,151.2L126.5,119.4M92.6,52.3L91.6,102.5M197,85.1L112.1,121M74.1,74.7L120,107.1M171,90.9L129.3,108.2M178.4,83.8L118.3,122.3M64.1,148.1L105.6,113.2M74.1,74.7L119.7,115.9M75.5,49.3L121.8,107.3M171.1,167L121.1,129.5M74.6,160.6L105.5,102.2M73.6,151.2L106,88.6M73.6,151.2L119.9,102.2M73.6,151.2L118.4,116.6M136.9,172.8L108.5,121.3M74.6,160.6L99.6,103.5M171.1,167L123.3,122.3M74.1,74.7L112,106.6M74.1,74.7L119.1,114.3M178.4,83.8L119.7,104M171.1,167L138.8,128.9M64.1,148.1L116.4,124.8M136.9,172.8L113.3,136.4M74.1,74.7L112.5,104M64.1,148.1L113.9,124.6M176.7,132.8L132.6,127.3M64.1,148.1L109.3,115.3M64.1,148.1L111.3,123.5M178.4,83.8L121.2,116.6M74.1,74.7L122.6,114.8M171,90.9L124.9,96.3M74.1,74.7L124.2,108.3M136.9,172.8L104.8,126.7M136.9,172.8L125.4,123.7M145.1,180.2L116,107.3M74.6,160.6L106.3,121.5M75.5,49.3L114.6,115.3M197,85.1L137.9,110.4M64.1,148.1L104.2,122.4M176.7,132.8L123.1,101.2M136.9,172.8L111,137.7M176.7,132.8L118.6,115.2M197,85.1L134.8,96.9M136.9,172.8L135.7,129.1M171,90.9L119,120.6M145.1,180.2L127,104.1M92.6,52.3L96.8,101.5M145.1,180.2L126.4,105.4M178.4,83.8L122.9,113.8M145.1,180.2L118.9,109.7M197,85.1L137.1,113.4M176.7,132.8L118.6,112.9M176.7,132.8L121.7,118.8M64.1,148.1L111.4,130.8M74.6,160.6L109.8,118.1M171,90.9L114.6,124.9M75.5,49.3L126.3,110.1M74.1,74.7L116.4,109.1M176.7,132.8L131.1,138.7M176.7,132.8L130.7,131.6M145.1,180.2L128,133.7M73.6,151.2L103.2,108.4" stroke="#d898d0" stroke-width="0.35" stroke-opacity="0.45"/>
<path class="fl" d="M65.9,115.1L100,105.2M164,111.9L123.5,123.7M114.1,70.1L132.2,114.2M96.8,69.3L118,99.2M147.4,85.4L128.5,115.9M126.3,159.7L127.1,111.4M75.5,49.3L132.4,101.4M89.4,81.1L103.2,131.3M65.9,115.1L113.6,111.5M155.6,96.9L120.8,99.3M65.8,96.8L127.1,108.3M92.3,140.9L101,101.8M122.9,70.5L116.6,105.5M155.6,96.9L111.6,92.3M96.8,69.3L120.4,91.3M126.3,159.7L135.8,109.1M81.5,90.4L119.5,101M153.2,144L115.4,117.4M38.7,158.2L129.4,127.8M164,111.9L112,97.5M122.9,70.5L126.7,108.9M147.4,85.4L120.8,113.9M158.4,129.1L115.8,104.8M147.4,85.4L111.2,109.2M65.9,115.1L119.9,121.7M124.2,160.9L116.5,117.8M147.4,85.4L132.4,123.7M96.8,69.3L114.8,101.4M153.2,144L125.8,127.5M141.9,66.4L105.6,109.6M164,111.9L123.4,116.8M114.1,70.1L105.7,99.5M162.1,136.3L118.1,113.7M96.8,69.3L120.6,106.3M71.3,104L112.6,107.1M126.3,159.7L121.8,110.9M162.1,136.3L112.7,115.1M147.4,85.4L123.7,114.9M153.2,144L109.9,113M74.1,74.7L127.6,88.6M122.9,70.5L120.5,101.8M131.5,74.9L104.1,108.6M65.9,115.1L98.6,105.9M124.2,160.9L127.9,117.4M162.1,136.3L111,123.7M164,111.9L117.9,105M153.2,144L125.5,120.7M124.2,160.9L141.1,118.3M81.5,90.4L116,98.5M147.4,85.4L103.1,99.2M96.8,69.3L121,95.6M155.6,96.9L122.8,106.1M114.1,70.1L100.2,99.3M138.5,157.4L106.7,112.9M138.5,157.4L120.7,112.4M89.4,81.1L104.1,105.5M176.7,132.8L128.2,99M162.1,136.3L114.4,109.9M74.1,74.7L125.4,104.3M162.1,136.3L111.5,124.6M122.9,70.5L120,107.4M138.5,157.4L97.1,121.4M122.9,70.5L125.7,107.5M124.2,160.9L123.6,120.4M74.6,160.6L113.6,115.7M65.8,96.8L110.6,112.4M89.4,81.1L111.3,113M136.9,172.8L124.6,128.4M92.3,140.9L100.3,101.7M155.6,96.9L121.1,111.1M197,85.1L132.7,96.9M162.1,136.3L117.3,113.6M65.8,96.8L112.4,105.8M153.2,144L107.7,121.7M65.8,96.8L111.4,113.2M136.9,172.8L130.7,127.7M126.3,159.7L119.2,104.9M155.6,96.9L119.4,97.8M89.4,81.1L118.2,103.6M153.2,144L127.5,124.8M131.5,74.9L110.7,108.1M138.5,157.4L121,109.2M81.5,90.4L124.5,103.5M164,111.9L120.9,105.8M122.9,70.5L118.7,103.3M114.1,70.1L103.8,100.1M124.2,160.9L117,121.4M96.8,69.3L117.5,110.4M162.1,136.3L125.3,118.6M162.1,136.3L126.6,116.4M141.9,66.4L107.1,109.5M71.3,104L119.8,106.6M138.5,157.4L134,104.6M124.2,160.9L115.8,124.8M71.3,104L121.2,101.8M65.9,115.1L120.9,123.3M171.1,167L135.5,126M162.1,136.3L128.8,117.6M145.1,180.2L109,112.5M124.2,160.9L126.5,124.6M164,111.9L117.8,101.1M131.5,74.9L110.8,111.1M164,111.9L127.1,121.5M126.3,159.7L140.5,111M92.3,140.9L112.6,110.5M96.8,69.3L109.9,124.3M147.4,85.4L102.1,107.5M155.6,96.9L116.3,112.4M155.6,96.9L123.9,105M171.1,167L115.9,128.5M92.6,52.3L132.2,103M65.8,96.8L115.8,100.8M138.5,157.4L99.3,117.7M162.1,136.3L117.6,113.1M158.4,129.1L129.9,93.3M89.4,81.1L107.1,109.2M96.8,69.3L133.6,97.9M126.3,159.7L120.5,112.1M92.3,140.9L105.6,114.5M122.9,70.5L122.7,108.9M126.3,159.7L124.5,115.5M81.5,90.4L112.1,101.3M74.6,160.6L108.3,125.2M164,111.9L119.9,121.6M122.9,70.5L118.2,106.8M155.6,96.9L123.9,118.4M153.2,144L106.7,116.5M153.2,144L109.6,112.1M153.2,144L118.8,132.3M131.5,74.9L133,118.4M124.2,160.9L121.5,123.2M122.9,70.5L130.5,104.4M89.4,81.1L99.2,106.4M158.4,129.1L111.2,131.5M89.4,81.1L114.6,108.6M162.1,136.3L130.7,117.1M65.9,115.1L109.2,117.9M162.1,136.3L107.7,117.5M81.5,90.4L115,99.1M124.2,160.9L113,122.6M124.2,160.9L118.3,117.6M147.4,85.4L112.1,110.7M138.5,157.4L124.3,114.9M96.8,69.3L117.4,112.8M73.6,151.2L114.5,116" stroke="#c8409c" stroke-width="0.4" stroke-opacity="0.32"/>
<path class="fl" d="M138.5,157.4L127.7,112.7M65.9,115.1L114.8,104.3M155.6,96.9L128.7,109.8M164,111.9L113,95.1M141.9,66.4L104.4,108.4M141.9,66.4L113.8,103.8M74.1,74.7L111.1,110.7M162.1,136.3L111.6,111.2M164,111.9L114.7,102.5M126.3,159.7L138.2,108.3M162.1,136.3L107.3,119.5M65.8,96.8L118.8,110.1M114.1,70.1L109.5,105.1M124.2,160.9L102.7,118.6M71.3,104L120.3,120.7M124.2,160.9L119.2,118.6M124.2,160.9L119.4,123.6M65.9,115.1L107.6,126.8M138.5,157.4L98.7,115.2M126.3,159.7L139.1,110.9M92.3,140.9L114.7,110.3M122.9,70.5L116.1,102.7M92.3,140.9L114.5,114.1M92.6,52.3L114.7,94.1M153.2,144L120,122.8M155.6,96.9L123.7,103.9M147.4,85.4L128.7,111.4M114.1,70.1L129,113.7M92.3,140.9L105.5,111.6M114.1,70.1L112.6,116.2M138.5,157.4L133.9,110.6M71.3,104L108.9,101.6M158.4,129.1L114,103M141.9,66.4L112.5,100.2M131.5,74.9L130.2,118.2M126.3,159.7L136,110.3M141.9,66.4L102,114.2M158.4,129.1L115.4,106.7M155.6,96.9L113.6,97M71.3,104L121.3,102.5M124.2,160.9L126.2,123.7M124.2,160.9L125.4,119.8M147.4,85.4L103.7,109.8M71.3,104L120.5,119.9M141.9,66.4L100.2,110.5M92.3,140.9L112,115.4M89.4,81.1L113.6,122.2M158.4,129.1L121,129.6M122.9,70.5L112.4,105.1M131.5,74.9L109.6,105.3M158.4,129.1L113.9,108M89.4,81.1L104.1,106.3M96.8,69.3L116.5,101.7M71.3,104L107.7,103.1M96.8,69.3L120.5,100.2M162.1,136.3L117.2,113.4M71.3,104L110,111.9M92.3,140.9L95.2,108.7M81.5,90.4L116.8,107.2M162.1,136.3L108.8,110.3M122.9,70.5L128.7,105.1M155.6,96.9L126.5,102.9M147.4,85.4L98.5,104.2M138.5,157.4L136.4,109.6M96.8,69.3L131.6,100.7M81.5,90.4L115.3,94.2M158.4,129.1L117.9,101M89.4,81.1L101.7,108.1M81.5,90.4L112.7,100.4M81.5,90.4L112.6,100.4M138.5,157.4L103.8,114.2M96.8,69.3L126.3,97.6M147.4,85.4L125.3,107.8M153.2,144L115.6,130.7M92.3,140.9L102.6,109.2M131.5,74.9L104.1,109.9M65.8,96.8L103.4,108.9M162.1,136.3L111.3,118.2M92.3,140.9L110.8,113.3M126.3,159.7L126.1,117.7M96.8,69.3L133,101.1M122.9,70.5L119.1,107.3M124.2,160.9L121.4,117.2M89.4,81.1L107.1,120.3M158.4,129.1L127.5,101.8M124.2,160.9L125.4,123.8M65.8,96.8L117.5,106.5M141.9,66.4L118.2,101.1M92.3,140.9L111.9,107.1M122.9,70.5L115.6,109.4M147.4,85.4L135.4,127.8M164,111.9L127.1,128M138.5,157.4L111.5,120M126.3,159.7L126,109.2M81.5,90.4L122.3,100.7M96.8,69.3L115.5,122.2M124.2,160.9L134.3,120.7M155.6,96.9L129.9,116.9M65.9,115.1L105.7,94.5M138.5,157.4L125.6,112M92.3,140.9L113.1,104.6M131.5,74.9L106.9,111.1M96.8,69.3L120.9,96.5M141.9,66.4L108.2,97.3M122.9,70.5L111.6,101M92.3,140.9L112.1,116.2M81.5,90.4L120.5,106.3M162.1,136.3L134.9,110.4M92.3,140.9L117.8,114.3M147.4,85.4L132.4,121.1M162.1,136.3L115.6,124.9M147.4,85.4L107.4,106.1M155.6,96.9L125.9,119.3M158.4,129.1L134.4,95.8M147.4,85.4L126.5,113.2M147.4,85.4L110.5,104.1M114.1,70.1L128.9,119.1M96.8,69.3L115,106.1M147.4,85.4L131.9,116.1M141.9,66.4L121.9,108.2M89.4,81.1L97.8,113.8M197,85.1L112,108.7M147.4,85.4L119.9,110.9M124.2,160.9L118.7,123M178.4,83.8L123.7,126.3M96.8,69.3L110.4,116M71.3,104L115.6,114.3M65.8,96.8L106.3,97.5M126.3,159.7L136.2,105.3M153.2,144L126,121.1M162.1,136.3L111.1,112.7M89.4,81.1L99.6,117M138.5,157.4L127.7,107.2M81.5,90.4L116.1,116.4M122.9,70.5L131.5,108.4M147.4,85.4L127.2,122.5M114.1,70.1L109.5,115.3M141.9,66.4L102.3,107.1M89.4,81.1L111.4,119.5M65.9,115.1L116.8,122.7M124.2,160.9L121.9,117.9M65.9,115.1L115.1,137.1M164,111.9L117.6,101.8M124.2,160.9L123.5,122.8M96.8,69.3L114.5,120.6" stroke="#c8409c" stroke-width="0.4" stroke-opacity="0.32"/>
<path class="fl" d="M164,111.9L123,127.9M38.7,158.2L124.3,124M114.1,70.1L106.9,116.2M138.5,157.4L106.2,114.5M96.8,69.3L118.3,117.2M147.4,85.4L125.4,115.3M81.5,90.4L120.7,100M126.3,159.7L135.3,112.2M171,90.9L116.2,120.5M176.7,132.8L132.9,123.6M155.6,96.9L128.9,110.4M64.1,148.1L107.8,118M92.3,140.9L96.8,106.6M114.1,70.1L124.6,111.6M126.3,159.7L123.4,114.8M81.5,90.4L118.6,98.3M122.9,70.5L119.4,102.5M126.3,159.7L115.4,110.8M162.1,136.3L137.4,110.2M81.5,90.4L107.3,100.7M126.3,159.7L131,109.6M138.5,157.4L120.7,116.4M81.5,90.4L116.8,97M92.3,140.9L104.1,104.3M114.1,70.1L129.8,109.8M141.9,66.4L122.2,103.7M114.1,70.1L128.9,116.3M71.3,104L112,102.7M155.6,96.9L119.4,110.4M96.8,69.3L109,121.2M89.4,81.1L114.5,110.4M147.4,85.4L104.9,101.6M131.5,74.9L134.5,119.7M138.5,157.4L97.9,123.6M131.5,74.9L134.1,114.9M92.3,140.9L101.4,105.6M155.6,96.9L129.3,112.5M65.8,96.8L117.7,97.6M131.5,74.9L133.8,114M92.3,140.9L113.1,114.5M147.4,85.4L137.7,128.8M81.5,90.4L112.9,101.9M155.6,96.9L129.3,111.9M155.6,96.9L129.1,110.2M73.6,151.2L119.2,108.4M122.9,70.5L130.9,105.7M126.3,159.7L126.7,109.7M124.2,160.9L126.1,121.7M64.1,148.1L95,114M176.7,132.8L128.5,98.7M141.9,66.4L106.7,115.9M162.1,136.3L113,114.7M131.5,74.9L103.4,105.3M92.3,140.9L113.4,110M141.9,66.4L109.2,93.2M96.8,69.3L113.4,108.6M141.9,66.4L110.4,97.9M178.4,83.8L120.7,114.9M153.2,144L109.3,124.7M158.4,129.1L126.7,105.1M114.1,70.1L128.5,112.5M153.2,144L111.9,111.2M65.9,115.1L117.7,125.9M92.3,140.9L109.3,108.4M141.9,66.4L112.8,105M65.9,115.1L100.2,102.7M71.3,104L110.8,111.2M65.8,96.8L123.3,108M65.8,96.8L121.6,105.8M141.9,66.4L97.9,111.8M92.6,52.3L90.5,104M38.7,158.2L107,138.8M126.3,159.7L121.3,115.7M164,111.9L117.7,110.1M81.5,90.4L108.6,100.5M145.1,180.2L125.8,129.7M71.3,104L119.1,114.8M65.8,96.8L103.7,99.9M141.9,66.4L110.9,97.5M89.4,81.1L107.1,110.1M155.6,96.9L122.1,113.6M153.2,144L120.9,126.3M145.1,180.2L129.6,128.9M114.1,70.1L136.7,116.7M75.5,49.3L97.2,127M65.9,115.1L107.1,123M92.3,140.9L113.8,110.5M147.4,85.4L118.5,113.2M114.1,70.1L108.2,105.7M122.9,70.5L114.6,106.3M141.9,66.4L114.4,104.5M138.5,157.4L127.2,104.2M92.3,140.9L114.7,110.8M71.3,104L109.6,108.8M73.6,151.2L129.8,123M65.8,96.8L121.8,107.7M158.4,129.1L109.5,135.1M81.5,90.4L120.3,104.4M131.5,74.9L125.3,113.6M81.5,90.4L118.4,112.3M89.4,81.1L118.3,105.4M96.8,69.3L134.9,105.1M131.5,74.9L103.1,105.8M158.4,129.1L112.7,128.9M155.6,96.9L122.9,102.3M141.9,66.4L117.5,102.6M65.9,115.1L105.1,97.8M138.5,157.4L96,119.2M92.3,140.9L100.8,109.1M65.9,115.1L117.4,101.4M122.9,70.5L127.2,100.7M164,111.9L111.5,92.1M114.1,70.1L104.9,101.6M114.1,70.1L110.1,100.2M89.4,81.1L108.7,118.8M141.9,66.4L105.8,110.8M141.9,66.4L110.5,99.2M158.4,129.1L118.1,98.4M92.3,140.9L107.6,116.1M158.4,129.1L113.1,105.7M65.9,115.1L115.9,110.2M158.4,129.1L117,121.6M141.9,66.4L103.7,114.3M136.9,172.8L111.3,123.2M89.4,81.1L99.7,132M164,111.9L123.6,121.4M65.9,115.1L112.9,118.2M162.1,136.3L108.6,111.8M65.8,96.8L108.4,102.6M89.4,81.1L108,125.8M114.1,70.1L114.5,118.1M122.9,70.5L117.8,102.1M124.2,160.9L123.5,124.8M126.3,159.7L137.9,104.2M162.1,136.3L113.3,118.2M158.4,129.1L132.3,101.1M65.8,96.8L123.1,110M171,90.9L129.8,112.5M131.5,74.9L104.4,101.8M92.3,140.9L112.7,111.5M65.8,96.8L104.4,100.8M64.1,148.1L105.4,111.9M155.6,96.9L123.3,109.6" stroke="#c8409c" stroke-width="0.4" stroke-opacity="0.32"/>
<path class="fl" d="M110.6,148.4L104.2,123.3M83.2,108.9L111.1,124.8M83.2,108.9L115.4,97.8M83.2,108.9L117.8,104.9M100.1,128.9L111.8,122M110.6,148.4L102.5,115.2M83.2,108.9L121.3,111.6M110.6,148.4L111.7,115.6M110.6,148.4L121.3,122.2M83.2,108.9L110.7,117.9M100.1,128.9L114.9,117.1M83.2,108.9L115.7,109.7M110.6,148.4L109.7,124.1M100.1,128.9L112.3,121.8M100.1,128.9L101.7,100.7M110.6,148.4L101.5,120.4M83.2,108.9L108.3,113.8M83.2,108.9L117.2,109.4M100.1,128.9L101.7,98.1M100.1,128.9L108.4,108.4M83.2,108.9L110.7,125.1" stroke="#c8409c" stroke-width="0.4" stroke-opacity="0.4"/>
<path class="fl" d="M83.2,108.9L108.5,97.2M83.2,108.9L122.2,102.1M83.2,108.9L119.2,100.9M100.1,128.9L122.2,114M100.1,128.9L113.3,115.7M83.2,108.9L110.3,99.1M100.1,128.9L115.7,125.5M100.1,128.9L118.2,112.2M110.6,148.4L122.7,118.7M110.6,148.4L106.4,123.6M100.1,128.9L109.6,106.1M110.6,148.4L116.7,121.8M83.2,108.9L110.4,126.1M83.2,108.9L122,108.1M110.6,148.4L106,120.7M83.2,108.9L113.8,95.9M110.6,148.4L108.9,123.2M100.1,128.9L106.4,109M83.2,108.9L114.7,101.9M110.6,148.4L108.1,119.5M100.1,128.9L104,112.1" stroke="#c8409c" stroke-width="0.4" stroke-opacity="0.4"/>
<path class="fl" d="M83.2,108.9L112.1,109.2M83.2,108.9L116.6,108.9M100.1,128.9L103.3,108.4M100.1,128.9L114.8,112.1M83.2,108.9L116.8,105.7M110.6,148.4L119.2,119.5M110.6,148.4L102.2,118.5M83.2,108.9L114.4,115.4M83.2,108.9L113.3,114.7M83.2,108.9L121.9,104M100.1,128.9L100.3,101.8M100.1,128.9L101.5,104M110.6,148.4L108.1,116.3M83.2,108.9L110.1,96.4M83.2,108.9L109.1,125.9M100.1,128.9L110.6,117.3M83.2,108.9L121,104.9M83.2,108.9L104.8,132.8M83.2,108.9L120,104.8M83.2,108.9L112.8,120.8M110.6,148.4L111.8,120.3" stroke="#c8409c" stroke-width="0.4" stroke-opacity="0.4"/>
<path class="fl" d="M100.1,128.9L114,106.5M110.6,148.4L101.9,118.9M83.2,108.9L116,107M110.6,148.4L108,123.8M83.2,108.9L109.7,95.3M100.1,128.9L121.4,111.2M110.6,148.4L108.3,117.6M100.1,128.9L114.8,110.9M100.1,128.9L109.4,101.9M100.1,128.9L108.7,102.4M100.1,128.9L117.4,110.6M100.1,128.9L121.4,119.9M110.6,148.4L113.8,117.1M100.1,128.9L112,113.6M83.2,108.9L116,109.3M100.1,128.9L119,117.5M83.2,108.9L114.3,99.5M110.6,148.4L103.8,122.4M100.1,128.9L105,106.7M83.2,108.9L105,126.2M110.6,148.4L107.9,115.7" stroke="#c8409c" stroke-width="0.4" stroke-opacity="0.4"/>
<path class="fl" d="M92.6,52.3L75.5,49.3M92.6,52.3L96.8,69.3M96.8,69.3L89.4,81.1M96.8,69.3L114.1,70.1M96.8,69.3L92.6,52.3M89.4,81.1L81.5,90.4M65.8,96.8L71.3,104M65.8,96.8L81.5,90.4M65.9,115.1L71.3,104M65.9,115.1L65.8,96.8M71.3,104L65.8,96.8M92.3,140.9L100.1,128.9M92.3,140.9L110.6,148.4M92.3,140.9L73.6,151.2M100.1,128.9L92.3,140.9M100.1,128.9L110.6,148.4M100.1,128.9L83.2,108.9M114.1,70.1L122.9,70.5M114.1,70.1L96.8,69.3M114.1,70.1L131.5,74.9M122.9,70.5L114.1,70.1M122.9,70.5L131.5,74.9M122.9,70.5L141.9,66.4M131.5,74.9L122.9,70.5M131.5,74.9L141.9,66.4M131.5,74.9L114.1,70.1M141.9,66.4L131.5,74.9M141.9,66.4L122.9,70.5M141.9,66.4L147.4,85.4M147.4,85.4L155.6,96.9M147.4,85.4L131.5,74.9M164,111.9L155.6,96.9M164,111.9L158.4,129.1M164,111.9L171,90.9M171,90.9L178.4,83.8M171,90.9L155.6,96.9M171,90.9L164,111.9M155.6,96.9L147.4,85.4M178.4,83.8L171,90.9M178.4,83.8L197,85.1M197,85.1L178.4,83.8M197,85.1L171,90.9M162.1,136.3L158.4,129.1M162.1,136.3L153.2,144M162.1,136.3L176.7,132.8M176.7,132.8L162.1,136.3M176.7,132.8L158.4,129.1M153.2,144L162.1,136.3M136.9,172.8L145.1,180.2M136.9,172.8L138.5,157.4M138.5,157.4L126.3,159.7M138.5,157.4L124.2,160.9M138.5,157.4L136.9,172.8M124.2,160.9L126.3,159.7M124.2,160.9L138.5,157.4M110.6,148.4L124.2,160.9M110.6,148.4L126.3,159.7M110.6,148.4L92.3,140.9M126.3,159.7L124.2,160.9M145.1,180.2L136.9,172.8M145.1,180.2L138.5,157.4M73.6,151.2L74.6,160.6M74.6,160.6L73.6,151.2M74.6,160.6L64.1,148.1M74.6,160.6L92.3,140.9M64.1,148.1L73.6,151.2M64.1,148.1L74.6,160.6M75.5,49.3L92.6,52.3M75.5,49.3L74.1,74.7M74.1,74.7L89.4,81.1M38.7,158.2L64.1,148.1M38.7,158.2L73.6,151.2M171.1,167L153.2,144M83.2,108.9L71.3,104M83.2,108.9L65.9,115.1M158.4,129.1L162.1,136.3M158.4,129.1L153.2,144M81.5,90.4L89.4,81.1" stroke="#d898d0" stroke-width="0.4" stroke-opacity="0.5"/>
<path class="fl" d="M124.3,111.1L121.1,120.1M117.6,112.6L138.3,105.5M123.7,112.3L135.4,107M135.4,99L136.8,94.8M91.9,124.9L109.6,119.1M112,108.9L103.8,94M119.8,115L124.8,124M109.3,115.6L107.6,117.7M110.6,110.2L117.6,111.7M109.3,115.6L110,113.9M109.3,115.6L120.4,117.4M121.7,111.6L115,111M112,113.3L121.7,104.8M132.5,96.4L135.3,92.2M115,120.3L111.8,118.1M116.8,99.6L120.4,104M135.6,106.8L135.3,98.9M112,113.3L101,121.1M106.9,99.6L127.4,94.4M93.9,115.2L95.1,113.4M108.7,104.5L109.9,100.5M89.6,126.3L89.6,128.2M109.4,107L103,107.9M104.2,110.5L96,117.2M138.4,108.7L130.3,111.5M131.7,121.2L134.6,136.8M103.3,104.5L97.1,100.3M105.3,101.4L105.1,96.8M112,102.7L110.3,96.7M92.6,119.8L83,116.2M99.9,119.9L108.5,113.3M108.7,104.5L120.2,106.8M120.9,106.8L124.1,105.1M131.8,106.8L124.2,109.2M111.4,104.1L112.1,114.2M127.5,122.7L137.4,125M135,113.4L125.2,102.8M114.8,117.4L128.4,122.2M109.4,107L88,113.3M125.6,111.7L127.1,94.6M116.5,114.3L117.3,120.4M141.3,108L157.7,118.8M119.5,113.1L105.5,121.1M117.6,112.6L128.5,107.5M132.5,114.4L129.4,101.8M101.9,113.8L111.7,119.4M119.2,123.1L122.5,125.7M107.4,135.8L110.1,133.6M109.4,107L95.5,100.3M111.6,109L115.3,114M113.6,116.8L82,131.3M121.3,112.9L112.9,125.3M103.3,104.5L119.1,103.9M117.6,112.6L112.1,110.9M116.6,119.9L118.8,130.9M130,112.2L137.2,108.9M124.6,131L109.4,132.1M141.2,118.1L143.6,120.4M123.1,124.7L126.5,129.4M109.3,116.4L103.2,113.3M117.8,109.2L128,122.2M120.7,103.6L124.3,89.4M136.8,123.7L138.7,120M117.4,135.4L99.3,142.8M103.6,122.3L110,124.6M119.1,116.7L117.7,104.9M112.7,118.6L109.7,120.2M111.2,126.6L112.1,123.8M136.8,123.7L131.3,123.2M111.6,109L95.6,102.2M95.4,121.3L78.1,120.3M132.5,114.4L125.4,119.5M135.4,99L145,99M129.3,103.4L126.6,104.6M113.6,112.5L116.7,111.9M105.3,101.4L118.9,91.4M126.7,116.6L119.8,108.2M106.3,116.7L122.4,126.9M130.4,112.8L132.6,114.8M99.3,118.5L102.8,117.6M152.7,108.8L156.6,112.3M112,113.3L121.8,110.5M99.9,119.9L104.7,111.6M125,111.2L130.1,105M116.8,99.6L118.1,96.6M99.3,118.5L109.3,123.1M109.1,121.6L130.4,128.1M107.4,108L105.8,106.2M111.1,121.5L111.5,127.5M106.9,99.6L98,99.1M114.5,94.8L106.3,92.9M121.7,111.6L119.8,109M107.4,108L119.3,103.7M135.4,99L118.6,93.7M107.4,108L108.2,111.9M113.3,115.7L114.1,113.8M129.3,103.4L130.7,107.4M105.4,112.2L110.5,117.3M111.3,105.1L135.2,108.4M116.5,114.3L122.9,113.3M127.9,113.8L133.8,125M112.4,105.9L103.6,103.7M122.7,107.3L116.8,111.3M95.3,100L105.5,103.9M129.3,103.4L134.9,101.6M104,115.7L107.2,112.3M136.8,118.5L129.6,115.3M107.6,119.5L115.5,110.2M108.1,120.2L114.3,120.1M128.2,116.8L131.8,112.6M128.1,119.5L141.6,107.8M136.8,118.5L129.3,112.5M125,111.2L114.2,106.8M114.5,92.7L106.2,98.2M139.4,103.8L136.2,100.1M109.4,107L107.1,104.4M108.1,120.2L101.8,130.5M119.5,113.1L95,108.8M126.5,116.2L131.1,116.8M127,110.3L149.6,108.3M114.1,121.8L113.3,114.8M117.2,121.2L115.5,119.5M116.6,98.6L119.2,99.3M92.1,133.9L81.4,141.2M134.3,115.8L128.6,115M124.6,131L131.3,137.4M128.1,119.5L114.9,120.5M113.6,116.8L106.5,121.5M130.4,112.8L137.2,104.9M141.2,118.1L137.5,122.5" stroke="#e860a8" stroke-width="0.45" stroke-opacity="0.5"/>
<path class="fl" d="M130,112.2L124,101.2M141.3,108L134.9,105.5M126.7,116.6L141.5,115.6M126.3,113.2L132.7,110.1M116.5,114.3L113.7,115.2M101.9,113.8L102.4,110.3M114.5,109.7L126.2,110.2M132.5,114.4L125.1,113.6M109.4,107L106.9,108.7M128.1,119.5L137.6,122.5M109.4,121L96.1,111.5M110,133.7L109.4,135.8M113.3,115.7L93.6,111.8M119.6,123L125.6,117.7M109.4,107L105.9,110.2M108.1,119.1L103.2,120.7M103.2,103.6L106.2,101.6M109.7,112L101.6,113.3M115.9,116L113.2,115.9M111.3,105.1L107.9,103.4M92.6,119.8L93.4,117.1M110.1,114.7L121.9,112.9M120.7,103.6L120.9,94.8M118.8,111.6L113.5,108.1M125,111.2L126.8,109.5M126.5,116.2L119.6,115.1M127,110.3L129.7,106.9M133,113.2L123.6,119.9M86.6,115.6L86.1,119.7M126.3,111.7L131.5,123M95.4,121.3L88.2,117.9M113.6,112.5L113.1,116.4M130.4,112.8L133,115.6M110,133.7L106.2,136.6M126.5,116.2L118.7,121.9M95.5,112.6L86.4,105.6M95.4,121.3L95.4,123.6M89.6,126.3L82.6,126.8M107.4,105.7L104.7,111.1M122.7,107.3L133.4,100.6M121.3,112.9L106,115.3M107.4,108L101.8,106.6M126.3,111.7L126.5,105.9M105.5,110.9L101,104.4M116.6,98.6L110,102.8M126.3,113.2L135.9,118.2M98.8,112.8L107.3,116.4M106.3,116.7L100.5,113.7M108.2,99.6L105.7,94.8M111.6,104L116.9,99M114.8,117.4L112.2,118.5M106.9,99.6L91.3,92.3M126.3,113.2L121,107.1M104.3,109.9L95,108.1M116.6,98.6L132.4,100M122.3,109.1L119.8,106.7M103.6,122.3L89,120.9M138.4,108.7L140.1,104.5M98.8,112.8L95.2,116.4M122.3,109.1L116.9,115.8M101.9,113.8L121.6,110.8M103.6,122.3L97.9,122.6M127.5,122.7L122.8,129.7M114.5,109.7L119.4,114.1M128.2,116.8L115.4,119.2M99.9,119.9L98.1,117.8M119.9,119.2L112.9,127.3M132.5,96.4L145.9,89.1M113.6,116.8L134.5,113.2M96,114L85,124.4M125,131.4L125.5,125M115.1,114.9L128.4,117.5M108.7,104.5L115.1,115.1M129.1,131.2L139.2,115.9M126.3,113.2L150.1,130M104,115.7L105,112.7M111.3,105.1L107.5,109.2M131.1,108.5L130.7,110.3M110.5,108.7L117.6,109.4M108.7,104.5L103.4,100.9M101.9,113.8L122.1,119.7M150.7,107.7L147,102.4M136.2,114.7L131.7,109.3M105.3,101.4L92.5,104.7M124.4,110L135.1,104.4M143.3,104.3L140.8,106.2M116.5,114.3L114.2,110.1M111.2,126.6L114.4,117M96.6,129.4L86.5,138.2M125.7,122.2L119.7,128.1M91.9,124.9L93.3,123.2M115.7,112.7L127.4,118M112.5,102.6L101.5,109.5M105.4,112.9L112.7,114.9M107.4,108L92.3,100.5M121.7,111.6L121.6,119.8M125,131.4L131.7,133.9M112.6,110.3L115.5,113.4M119.7,102.3L105.9,106.8M104,115.7L84.7,113.9M119.1,116.7L105.4,115.1M123.6,119.7L119.7,122.5M111.6,109L125.8,101.9M119.1,116.7L115.8,115.8M150.7,107.7L168.3,98.5M115.9,116L102.7,121.9M110.1,114.7L96,115.2M116.1,108.4L124,111.1M136.2,114.7L129.1,115.8M124.6,131L151.7,140.2M117.9,105.8L122.6,103.1M95.8,122.6L85.4,117.8M119.7,102.3L125.1,101.8M119.5,113.1L106.8,120M103.3,104.5L105.7,101.6M110.1,114.7L118.5,123.3M104.5,115.1L99.8,106.5M114.5,94.8L117.1,88.2M106.5,120.9L104.7,126.4M104.4,118L97.3,114.4M113.6,116.8L129.1,119.4M86.5,107.7L83.3,103.6M109.1,105L98.5,104.2M107.4,135.8L112.3,125.7M104.3,109.9L108.9,115.5M104,115.7L96.5,112.7M105.3,101.4L102.1,101.2M99.9,119.9L111.9,110.3M110,133.7L117.8,138.3M112.7,118.6L124.4,112" stroke="#e860a8" stroke-width="0.45" stroke-opacity="0.5"/>
<path class="fl" d="M104.5,115.1L106.3,110.4M116.8,99.6L119,98.4M125,111.2L123.4,109.6M129.7,125.1L117.3,117M109.4,107L110.1,101.5M117.6,112.1L129.9,118.1M109.4,107L114.6,109.7M99.3,118.5L102.7,116.2M115.6,135L122.6,137M127.5,122.7L121.9,113.9M126.7,116.6L134.9,122.4M146.2,108.2L136.9,102.1M108.2,99.6L116.1,99.8M147.2,109.9L155.2,106.3M98.8,112.8L96.5,111M111.2,126.6L106.7,132M131.1,108.5L125.1,99.9M117.6,112.6L115.7,102.5M138.4,108.7L150.4,109.5M131,103.6L123,96.4M85.4,102L68,105.7M115,117L103.1,115.4M132.5,96.4L132.9,93.8M113.6,116.8L122.1,122.7M112,102.7L109.9,104.6M96.6,129.4L113,134.7M100.2,97.9L101.3,101.8M125.6,111.7L110,116.3M100.2,97.9L97.1,96.5M114.8,117.4L118.8,114.8M112,113.3L127.1,122.4M108.2,99.6L94.1,101.1M100.2,97.9L114.7,96.5M119.1,127.2L100.3,128.2M120.7,103.6L122.8,111.5M110.1,114.7L111.8,113.5M109.5,117.8L111.3,105M112,108.9L105.2,98.3M140.7,114L153.3,96M116.6,98.6L117.7,95.2M117.9,105.8L117.5,107.6M115.8,116.7L113.8,114.6M120.6,96.8L126.8,98.7M103.2,103.6L103.8,106.6M107.4,135.8L95.8,142.8M135,113.4L116.9,109.5M128.1,119.5L112.4,120.1M110,133.7L96,135.5M115,117L111,116.6M99.3,118.5L83.4,128.5M117.4,135.4L111,147.3M115.8,116.7L125,103.2M122.3,109.1L123.6,111.3M138,111.2L122.8,117.7M135.8,120.3L134.8,127.3M109.5,117.8L106.9,114.5M114.8,109.1L121.4,104.2M86.5,107.7L87.2,110.4M122.6,114.6L112.9,118.1M126.7,116.6L130.1,98.5M113.3,115.7L104.4,119.1M123.1,124.7L105.9,117.9M135.8,120.3L129.3,122.7M103.4,92L119.3,84.1M114.8,101.2L124.9,96.8M93.9,115.2L99.1,105.6M119.5,113.1L120,116.1M136.8,123.7L139.9,127.3M105.3,101.4L94.3,104.5M92.1,133.9L83,144.6M120.9,106.8L133.9,102.4M110.6,110.2L113.6,108.6M122.3,109.1L129.7,102.8M104.5,115.1L93.6,122.7M152.7,108.8L145.8,107M111.4,104.1L116.7,107.7M123.1,124.7L104.6,125.4M111.3,105.1L117.4,98.5M114.8,117.4L102.4,120.2M146.2,108.2L156,109M136.8,123.7L134,121.9M117.9,105.8L133.2,95.1M123,111.2L141,124.5M108.1,120.2L123.2,124.2M114.5,109.7L116.4,107.8M120.9,106.8L115.9,107.1M118.8,111.6L120,115.2M123.3,108.7L104.7,111.8M130.4,112.8L107.7,105M117.6,112.6L119.8,107.9M119.1,127.2L122.3,132.6M109.3,115.6L112.4,114.6M111.6,109L105,107.9M103.2,103.6L107.7,102.1M93.4,101.4L87.4,105M95.8,122.6L92.8,129.2M131.7,121.2L131.8,119.2M115.2,126.2L127.6,130.6M113.3,115.7L116.7,116.9M111.6,104L98.7,106.5M135.4,99L139.5,103.8M103.2,103.6L112,104.9M92.1,133.9L89.1,133.2M112.7,118.6L97,127.1M107.6,119.5L111.6,122.3M119.7,102.3L126.8,101.7M119.7,102.3L105.9,99.9M114.5,94.8L100.6,95.2M119.7,123.4L128.8,123.5M129.2,112.5L123.7,111.9M92.6,119.8L94.5,121.3M126.3,113.2L145.1,125.6M113.6,112.5L110.5,114.4M132.5,128.8L122,134.6M103.2,103.6L117.5,102M104,115L110.1,111.2M120.9,106.8L136.3,108.9M132.7,112.1L140.6,112.1M101.7,109.5L107.4,104.7M119.7,102.3L118,104.8M109.3,116.4L110.8,120.8M115,120.3L110.7,121M116.6,119.9L116.4,122.1M129.7,125.1L142.3,130.6M103.3,104.5L103.5,102.7M86.6,115.6L84.3,123.4M113.6,116.8L118.3,124M125.6,111.7L132.6,115.8M103.6,122.3L95.8,116.6M108.1,120.2L110,116.5" stroke="#e860a8" stroke-width="0.45" stroke-opacity="0.5"/>
<path class="fl" d="M130.4,112.8L127.4,125M96.6,129.4L113.4,136.8M141.3,108L150.5,111.9M141.2,118.1L126.9,126M113.9,108.8L106,103.1M131.1,108.5L110.8,108.7M91.9,124.9L97.2,125.7M135,113.4L141.7,117.1M122.6,114.6L104.3,126.8M115,120.3L117,119M144.5,92.2L127,103.1M114.5,94.8L113.9,96.6M136.8,123.7L132.7,129.5M112.4,105.9L111.7,108M126.3,111.7L130.9,117.7M138,111.2L149.2,123.7M141.2,118.1L147.3,100.6M107.4,105.7L112.7,97.3M141.2,118.1L131.5,109.5M111.2,126.6L107.7,130M138,111.2L137.1,117.6M117.1,107.9L120.3,104.9M131.7,121.2L128.4,123M129.8,117.5L130.7,119.8M112.6,110.3L111.6,111.9M123.3,108.7L127.1,104.4M146.2,108.2L145.3,100.7M127,110.3L132.5,104.5M110.1,114.7L122.9,104.6M109.1,121.6L93.1,129.4M100.2,97.9L97.8,95.7M117.9,105.8L109.5,105.2M141.2,118.1L140.3,113.1M104.4,118L89.2,121.3M121.7,111.6L118.3,111.6M107.6,119.5L102.2,126.1M108.7,120.6L103,123.4M95.4,121.3L100.5,116.9M120.7,103.6L129.2,95.4M124.4,110L116.7,115.3M107.1,119.8L100,121.9M141.2,118.1L135.9,114.6M119.1,116.7L110.1,120.3M103.2,103.6L101.5,111.2M113.9,108.8L119.1,102.2M121.7,111.6L113,106.4M111.3,105.1L112.1,119.3M103.3,104.5L108.4,97.2M115.2,126.2L112.9,129M107.1,119.8L102.9,121.1M114.8,101.2L121.4,102.4M111.4,104.1L107.2,103.3M114.1,121.8L109.2,127.3M129.7,125.1L135.6,131M103.4,92L109.4,90.5M146.2,108.2L133.8,108.4M135.6,106.8L132.9,107M85.4,102L97.8,95.4M129.1,131.2L145.3,134.5M98.8,112.8L96.9,110.5M86.6,115.6L83.5,121.1M111.3,105.1L105.9,103.4M110,107.2L119.5,102M98.1,109.4L111.3,106.7M114.5,92.7L104.7,98.9M106.5,120.9L109.2,120.3M103.6,122.3L100.9,128.2M113.6,112.5L124.6,116.4M115.6,135L112.4,133.7M107.4,135.8L121,135.6M109.1,105L110.5,99.9M110.6,110.2L97.5,108.4M123,111.2L117.1,107.4M144.9,120.3L140.8,121.1M135.1,114.8L131.1,113.2M104.2,110.5L87.6,100.7M123,111.2L118.5,110.4M126.3,113.2L108.8,109.6M115.7,112.7L121.2,111.6M115,117L103.5,106.7M116.5,114.3L122.5,103.2M92.6,119.8L79.1,122.8M114.8,117.4L130.5,123.9M109.5,117.8L119.6,108.4M124.6,131L113.4,147.3M110.1,114.7L115.7,117.5M117.6,112.1L114.8,108.7M117.1,107.9L114.9,106.3M124.3,111.1L122.5,112.6M138,111.2L157.4,121.1M129.1,131.2L107.8,126.3M123,111.2L125.6,110M115.1,114.9L108.1,112.3M111.1,121.5L113.8,120M130.3,126.2L127.2,126.1M139.4,103.8L152.2,103.6M128.1,119.5L116.5,119.8M123.3,108.7L140.3,113.3M101.9,113.8L103.4,117.6M126.7,116.6L129.4,117.2M103.4,92L103.9,93.9M141.3,108L136,105.5M110.1,114.7L111.4,116.3M114.8,101.2L129.6,110.9M119.1,116.7L126.2,117.2M115.2,126.2L117.9,127.5M95.3,100L104.2,100.3M116.5,114.3L122.2,115.7M110.5,108.7L123.6,107.9M110.1,114.7L123.1,117.3M104.4,118L106,113.5M134.4,108.8L131.7,116.5M129.1,113.1L131,108.9M125,111.2L124.9,99.1M119.2,123.1L112.3,122.8M116.6,119.9L108.8,121.8M109.1,121.6L122.8,117.2M120.7,103.6L123.4,93.3M129.7,125.1L140,118.4M105.4,112.9L114.7,104M127.9,113.8L99.1,106.4M107.4,108L97.6,111.4M151.1,114.8L136.5,114.3M119.6,123L119.2,124.9M115.8,116.7L126.2,114.5M136.8,118.5L131.3,115.9M107.4,135.8L90.5,135.8M99.3,118.5L95.4,115.1M115.2,126.2L122.5,126.3M135,113.4L137,116.6" stroke="#e860a8" stroke-width="0.45" stroke-opacity="0.5"/>
<path class="fl" d="M96.8,69.3L115.7,119.4M96.8,69.3L105.3,118.6M96.8,69.3L121.5,114.4M96.8,69.3L117.4,92.5M96.8,69.3L112.6,100M96.8,69.3L123.2,107.6M96.8,69.3L126.3,107.4M96.8,69.3L125.3,101.7M96.8,69.3L113.6,111.7M89.4,81.1L102.5,115M89.4,81.1L97.6,113.4M89.4,81.1L96.5,114.1M89.4,81.1L118.2,119.5M89.4,81.1L114.3,115.6M89.4,81.1L98.7,133.5M89.4,81.1L113.9,110.4M89.4,81.1L113.5,113.6M89.4,81.1L121.9,105.5M89.4,81.1L107.2,113M65.8,96.8L121,107.8M65.8,96.8L126.3,102.8M65.8,96.8L124.3,100.9M65.8,96.8L109.6,109.1M65.8,96.8L109,97.4M65.8,96.8L114.7,107.5M65.8,96.8L109.1,112.6M65.9,115.1L115.4,105.2M65.9,115.1L115.1,100M65.9,115.1L106.8,105.6M65.9,115.1L99.5,107.6M65.9,115.1L99,92.2M65.9,115.1L97.6,92.3M65.9,115.1L102,89.6M65.9,115.1L112.9,121.6M65.9,115.1L107.5,126M65.9,115.1L115.4,130.4M65.9,115.1L112.4,138.1M71.3,104L106.4,112.9M71.3,104L106,99.9M71.3,104L107.2,113.6M71.3,104L118.9,112.1M71.3,104L120.3,109.7M71.3,104L116.6,113.5M71.3,104L122.1,93.8M92.3,140.9L114.1,119.2M92.3,140.9L112.6,112.4M92.3,140.9L114,116.1M92.3,140.9L111,109.9M92.3,140.9L119.6,111.1M92.3,140.9L109.7,106.8M92.3,140.9L112.9,111M92.3,140.9L103.1,103.8M92.3,140.9L98.8,102.7M100.1,128.9L99.8,96.2M100.1,128.9L118.8,123.1M100.1,128.9L113.4,109.9M100.1,128.9L112.1,103.7M100.1,128.9L112.4,105.4M100.1,128.9L108.2,102.6M114.1,70.1L100,102.5M114.1,70.1L110.2,107.8M114.1,70.1L114.5,103.5M114.1,70.1L113.3,121.2M114.1,70.1L113.7,120.1M114.1,70.1L118.1,116.1M114.1,70.1L110.3,119.4M114.1,70.1L118.3,113.6M114.1,70.1L129.2,116.6M114.1,70.1L131.8,110.2M114.1,70.1L136.2,115.8M114.1,70.1L123.5,114.9M122.9,70.5L124.5,105.6M122.9,70.5L129.2,105.9M122.9,70.5L132.2,106.2M122.9,70.5L118.8,104.3M122.9,70.5L115.6,105M122.9,70.5L108.4,103.4M131.5,74.9L127.9,114.5M131.5,74.9L126,118.6M131.5,74.9L134.9,119.6M131.5,74.9L104.7,103.2M131.5,74.9L112,104.6M131.5,74.9L107.5,103.6M131.5,74.9L103.2,104.5M141.9,66.4L106.5,116.2M141.9,66.4L99,107M141.9,66.4L109.7,98M141.9,66.4L107.1,96.2M141.9,66.4L111.2,95.2M141.9,66.4L125.2,104.1M141.9,66.4L116.3,103.9M141.9,66.4L127,109.2M147.4,85.4L127.3,122.8M147.4,85.4L121.4,120.3M147.4,85.4L118,117.7M147.4,85.4L118,112M147.4,85.4L121.3,111.8M147.4,85.4L135.1,120.9M147.4,85.4L125.5,108.6" stroke="#e860a8" stroke-width="0.45" stroke-opacity="0.5"/>
<path class="fl" d="M147.4,85.4L120.6,108.2M147.4,85.4L107.2,108M147.4,85.4L104.8,110.3M147.4,85.4L101.4,102.2M147.4,85.4L101.4,100.1M164,111.9L119.3,110.7M164,111.9L127.5,116.7M164,111.9L124.4,129.4M164,111.9L121.4,106.1M164,111.9L120.6,108.1M164,111.9L115.5,106.2M164,111.9L117.6,104.2M164,111.9L114.1,104.8M164,111.9L114.3,104.6M164,111.9L117.7,115M164,111.9L117.4,105.2M164,111.9L110.6,97.1M164,111.9L115.9,93.8M164,111.9L114.9,115.5M155.6,96.9L117,102.2M155.6,96.9L122.2,115.3M155.6,96.9L126.2,121.3M155.6,96.9L128.9,121.8M155.6,96.9L122.3,97.1M155.6,96.9L118.9,102.4M155.6,96.9L122.7,96.8M155.6,96.9L128.2,107.7M155.6,96.9L120.6,107.6M155.6,96.9L119.1,97.4M162.1,136.3L115.5,118.7M162.1,136.3L110.5,123.9M162.1,136.3L111.9,111.4M162.1,136.3L114.9,118.2M162.1,136.3L107.8,122.9M162.1,136.3L127.6,118.5M162.1,136.3L132.8,112.9M162.1,136.3L126.3,121.3M153.2,144L115.5,116.5M153.2,144L111.6,111.1M153.2,144L116.1,109.5M153.2,144L127,120.1M138.5,157.4L129.4,113.4M138.5,157.4L123.8,109.3M138.5,157.4L124.1,107.6M138.5,157.4L128.7,113.3M138.5,157.4L116.4,115.1M138.5,157.4L131.4,105.8M138.5,157.4L136.6,107.1M138.5,157.4L118.5,114.9M138.5,157.4L101.6,118.7M138.5,157.4L111.7,114.3M124.2,160.9L117.1,121.7M124.2,160.9L118.7,118.7M124.2,160.9L110.8,122.4M124.2,160.9L121,115.1M124.2,160.9L117.5,122.3M124.2,160.9L102.1,122.7M110.6,148.4L98.6,118.4M110.6,148.4L100.8,114.4M110.6,148.4L97.9,118.5M110.6,148.4L110,115.5M110.6,148.4L112.7,118.8M110.6,148.4L108,118.9M126.3,159.7L132.7,111.1M126.3,159.7L123.3,115.4M126.3,159.7L141.1,112.3M126.3,159.7L122.1,114.4M126.3,159.7L132.3,115.8M126.3,159.7L122.1,114M126.3,159.7L116.3,115M126.3,159.7L117.8,106.4M126.3,159.7L134.7,110.8M126.3,159.7L118.8,110.9M126.3,159.7L138.7,105.4M83.2,108.9L110,122.2M83.2,108.9L106.5,118.4M83.2,108.9L108,133.6M83.2,108.9L122.9,102.7M83.2,108.9L118.3,107.2M83.2,108.9L119.6,109M83.2,108.9L118.2,100.5M83.2,108.9L113.5,105.3M83.2,108.9L111.5,109.2M158.4,129.1L120,122.6M158.4,129.1L114.8,131.5M158.4,129.1L113.8,137.7M158.4,129.1L116.3,124.7M158.4,129.1L112.3,139.2M158.4,129.1L115.5,109M158.4,129.1L122.1,105.9M158.4,129.1L131,103.9M158.4,129.1L123.4,114.9M81.5,90.4L120.3,102.1M81.5,90.4L112.9,118.8M81.5,90.4L120.4,104.2M81.5,90.4L116.5,102.3M81.5,90.4L121.5,104.9M81.5,90.4L120.2,97.8M81.5,90.4L115.8,92.2" stroke="#e860a8" stroke-width="0.45" stroke-opacity="0.5"/>
<ellipse cx="116.5" cy="113.7" rx="14.9" ry="8.5" fill="#f898b8" fill-opacity="0.2"/>
<path class="fl" d="M86.2,103.6L91.6,101.8M121.2,93.4L123.1,91.1M139.4,109.5L143.2,108.1M110.3,119.3L112.3,122.5M110.2,120L105.3,118.8M99.7,108L100.5,109.5M95.8,111.7L93.6,110M115.4,107L115.1,103.5M121.7,125L125,123.5M127.1,115.9L130.4,112.7M117.5,121L113.1,121.8M107.6,113.7L115.1,125M139.5,105.1L147.8,108.3M140.7,122.8L144.4,126.2M115,116.8L117.1,118.3M116.9,116L123.9,112.5M95.1,116.9L91.2,121.3M110.7,108.1L111,104.7M140.1,107.5L140,102.6M107.5,106.2L113.4,103.8M116.9,114.8L121.5,110.6M141.4,108.5L134.2,105.9M114.8,114.6L119.1,111M129.6,109.4L132.5,107.1M111.1,104.1L114.4,100M120.1,116.4L123,115.3M132.1,121.3L135.6,121.7M127.7,102.4L130.9,108.7M128.6,111.8L126.7,111.9M115.7,110.8L118,111.9M110.3,108.2L115,102.6M110.5,106.3L111.1,110.2M138.9,112.4L137.2,119M142.3,109.2L139.9,108.1M123.9,118.8L124.3,115.3M107,93.8L101.6,96.9M109,106.2L104,110.4M129.8,107.1L126.8,107.2M105.2,108.1L108.5,106.2M85,114.5L85.7,111.1M125.3,104.1L129.8,109.8M120.1,117.2L128,117.4M106.1,113.4L103,115.4M103.9,113.8L92.9,121.4M100,115.9L100,117.3M119.1,108.8L106.4,103.3M113.6,128L109.4,130.2M113.2,118.6L115.1,119.7M106.2,120.5L109.8,124.4M119.3,117L122.8,117.2M128.6,126.9L121.7,128.7M124.4,121.7L122.7,123.8M115.9,102.5L120.5,101.6M111.8,112.7L118.5,108M116.2,124.4L124.4,122.9M129.5,117.4L125.6,115.1M105.2,93.6L102.8,96.7M126.6,109.8L132.8,106.4M137.7,119.7L139.1,112.1M131,106.1L134.1,107.7M126.9,107.8L122.3,103.4M105.1,109.3L114.5,109.7M134.9,117.3L129.8,115.2M136.1,114.5L137.5,113.6M116.8,114.3L113.8,114.1M104.4,112.7L104.1,117M142.3,118.8L140.4,119.9M130.9,107.9L123,105.5M111.8,121.7L109.5,124.1M115.8,104.1L117.6,98.3M123.9,100.5L131.8,94.2M87.5,117.5L94.5,114.5M110.3,111.6L108.6,116.5M104.5,113.5L108.2,113M120.1,125.6L118.5,124.3M125.6,126.7L123.8,127.6M95.6,120L96.5,121.3M129,123.5L130.1,119.8M123.4,107.6L114,109.7M123.5,105.8L116.3,109.4M114.3,121.5L115.5,119.5M128.2,113.9L126.9,117.4M105.8,115.7L104.2,110.1M121.9,105.6L117.9,108.2M136.6,120.2L140.4,117M110.7,108.8L106.3,110.3M120.5,99.7L116.9,97M113.5,107.1L110.6,101.3M107.9,101.3L109.2,103.1M114,109.6L121.7,109.3M115.7,123.3L113.7,124.8M135.6,107.5L147.7,114.4M119.1,109L122.8,114.4M126.5,117.2L129.8,122.6M134.4,106.2L125.8,102.5M120.5,108.1L132.5,104.5M104.9,106.3L97.1,103.5M115.1,118.1L110.8,121.9M108.5,112.9L107.7,114.2M98.3,110.2L94.9,109.1M125.7,122.4L127.7,121.4M133,110.4L120.6,114.5M116.8,107.7L114.7,104.9M142.9,117.3L144.2,121M131.7,110L143.4,116M90.4,116.1L77.3,112.5M125.6,111.3L116.1,112.8M110.7,118.1L112.5,113.8M127.5,115.7L130.7,117.9M115.1,104.2L120.9,100.4M133.9,111.3L136.7,111.2M107.6,112.6L119.4,110.8M127.1,110.9L132,113.3M121.1,103.7L104.8,99.7M115.5,110.7L112.3,112.8M114.4,106.6L112.8,109M104.3,122.1L102.5,123M154.4,121L157.1,117.6M126.9,103.1L123.2,105.2M112.6,102.7L111.8,98.6M134.3,107.5L140.3,99.4M98.3,102.7L103.3,105.3M119.1,112.7L119.4,114.8M132.7,117.1L138.8,111.2M117.7,104.9L118.4,110M132,112.6L126.1,113.2M115.7,105.8L111.2,106.7M112.7,105.6L108.6,108.4M123.5,106.9L126.8,109M123.9,114.2L122.3,109.7M115.4,108.7L112.3,105.4M108.3,109L105.9,111.4M133,120.7L130.9,120.6M111.7,120.5L109.6,121.7M126.9,110.3L134.6,109.9M128.7,126.1L129.7,120.1M116,109.4L106.1,106.9M105,99.3L112.2,99.1M113.9,108.6L107.1,116.6" stroke="#f898b8" stroke-width="0.42" stroke-opacity="0.55"/>
<path class="fl" d="M115.5,118L109.6,120.1M153.2,127L157.5,131M121.8,119L124.1,121.1M91.1,116.7L86.1,116.3M114,112.1L104.9,105.9M139.4,99.5L140.7,97.9M94.9,120.7L90.8,125.8M115,114.3L120,116M124.1,99.5L119.9,94.3M106.2,105.3L100,109.2M106.6,112.7L104.5,111.6M106.6,123.6L103.3,125.8M96.9,113.4L94.5,116M132,110.4L137.9,111.5M113.4,108.2L111.8,107.4M132.6,117.5L132.8,115.7M99.4,123.4L98.6,113.1M122.3,97.5L113.2,96.1M118.1,98.8L111.2,95.9M116.4,113.8L116.8,111.2M121.7,109.9L121.3,107.1M114.2,103.9L104.5,104.7M120.7,117.9L116.6,119.3M122.3,101.4L114.7,100.9M114.8,122.4L111.1,124.8M112.2,127.5L110.1,126.5M114.4,112.6L103.7,109.9M116.8,109.9L120.9,106.8M111.2,116.5L106,112.5M125.6,117.9L123.6,118.6M122.5,116.8L115.4,118.4M101.3,111.2L107.6,107.3M118.5,110.3L122.9,114.3M109.5,111.6L107.8,109.6M109.2,108.7L110.7,105.8M125.1,117.1L122.8,116.7M107.5,117.9L111.6,119.2M126,110L123.7,110.4M122,108.5L126.3,117.2M112.1,119.1L111.6,120.8M124.2,116.5L125.4,114M110.7,117.1L115.4,117.6M91.3,119.8L88,119.3M110.5,116.1L110.5,108.7M106.9,113.2L110.1,114.2M121.2,116.4L120.1,118.4M137.7,104.5L134.5,110.5M118.5,122.1L122.8,127M109.5,126.9L117.4,119.9M117,114.2L117.6,116.1M112,108.7L115.9,108.5M98.9,125.7L96.1,126.4M117.8,103.4L124.9,102.5M109,109.9L110.1,106.2M122.5,112.6L126.8,118M115.4,116.9L117.7,115.1M110.5,108.5L113.7,108.1M122,112.8L108.4,108.4M101.2,104.2L97.2,100.6M111.2,116.7L117.4,112.9M109.3,108.7L112.2,114.1M99.8,111L109.4,110.5M127.9,113.2L132.9,112.6M117.3,121L117.4,118.7M109,118.3L114.1,116.9M101.5,109.8L105.9,112.8M125.6,115.9L114.8,117M106.3,106.1L110.9,104.5M118,117.3L118.5,118.9M111.7,114.8L118.8,110.4M119.2,121.9L113.9,129.2M113.4,117L109.7,117.6M133.5,110.2L138.5,108M108.1,123L109.4,122.1M84.9,126.4L87.5,128.2M122,99.6L117.4,98.4M117.8,109.3L107.5,114.3M86.5,105.3L82.8,107.2M114.8,112.7L122,110.9M123.9,112L121.3,110.3M122.1,121.2L126.9,120.8M127.2,113.7L124.3,108.8M114,121.2L112.5,118.2M102.6,119.1L104.6,122.4M125.3,116.9L116,115.3M126.4,124.6L129.9,123.3M127.5,125.5L129.5,122.8M124.4,124L126.9,126.8M108.8,118.3L115.5,113.8M112.9,119.6L119,110M98,121.1L104.2,121.3M117.8,108.7L125,110.7M121.4,119.6L110,118.3M124.5,120.7L122.3,122.2M111.1,113.9L117.4,114.1M129.7,104.3L132.9,104M116.8,117.9L117.6,111.4M100.7,115L92.3,107.7M119.6,109.1L124.8,112.8M110.9,116.5L110.5,111.2M139.9,113.1L140.8,107.7M108.6,121.6L104.7,121.9M126.5,115.5L118.6,113.9M124.3,113.8L123.1,111.3M119.6,105.4L121.2,111.6M138.5,115L142.4,113.6M128.5,115.4L132.7,119.2M126.7,124.6L133.8,126.9M102.2,122.5L93,128.4M119.5,112.7L119.2,110.9M109.4,116.3L104.9,119M116.8,117.4L121.5,113.2M110.6,107.9L113.2,118.6M137.2,110L134.1,103.8M98,112.2L93.1,107.4M109.7,116.2L104.3,114.4M118.7,106L116.4,104.2M117.6,104.6L105.1,107.4M116,101.9L116.5,103.7M108,107L106.5,108.4M111.9,112.8L110.1,114.9M110.8,122L103.8,119.7M122.1,112L130.4,111.9M98,111.9L99.4,113.4M121.9,112.8L124.1,113.1M114,99.8L103.9,97.7M115.6,107.3L111.8,106.3M117.9,118.1L119.7,123.9M102,107.1L102,108.8M137.8,104.9L136.8,107.6M91.7,118.1L100.9,116.8M109.5,104.6L104.5,105.3M96.8,112.9L105.6,111.8M118.6,97L123.4,97.3M106.1,99.6L108.3,95.6M139.9,111.6L141.2,108M99.8,106.3L96.1,108.8M131.2,106.7L132.6,101.2M104.1,121.5L97.7,124.6" stroke="#f898b8" stroke-width="0.42" stroke-opacity="0.55"/>
<path class="fl" d="M113.7,130.7L118.6,130.3M118.3,114.8L105.2,115.3M112.5,106.1L110.1,106.8M132.8,107.5L129.8,111.1M113.6,118.7L122.6,117.7M100.6,112.4L101.1,113.6M144,107.7L127.1,106.9M110,115.5L105.3,113.6M114.2,115L116.9,109.1M110.1,109.1L118.2,111.9M136.2,118.2L134.2,121.6M121.3,116.5L129.6,118.4M107.5,111L105,107.8M119.7,108.8L109,104.2M122.9,106.6L131.3,109.4M123.1,120.2L112.1,122.5M108.5,108.6L107.4,104.2M147.3,105.9L151.2,105.2M132.9,124.2L130.3,126M121.2,117.3L111.9,116.8M128.7,107.5L123.8,107.2M131.9,118.9L124.6,127.5M95.8,123.9L90,127.1M122.3,107.7L123.6,106.7M127.7,110.1L122.9,108.7M105.9,113.4L108.1,110.7M106.6,104.1L106.2,105.7M108,122L107.1,124.4M123,108.4L127,108M97.6,117.6L101.1,117.3M126.4,111.9L127.9,108.9M130,125.1L136.4,124.8M107.7,112.3L116.8,110.1M117,121L111.5,121.9M123.4,110.3L127.7,110.5M126.7,108.2L115.5,103.4M107.9,109.5L107.7,111.9M130.7,113.7L136,114.8M122.6,121.5L121.4,120.3M127.1,96.7L128.5,90.5M108.8,119.6L104.6,118M103.8,114.7L102.9,109.9M144.6,113.7L152.8,116.6M116,110.2L113.9,109.5M99.5,108.8L92.1,105.2M133.2,116.5L132.5,120.5M113.8,112.3L120,115.4M118.2,112.7L124.1,110.9M122.9,95.5L127.7,91.1M116,112.9L115.2,111.4M110.7,118.9L112.1,127.5M117.3,117.3L115.1,114.4M110,114.2L97.4,111.1M124.1,121.7L111.2,119.6M130,100.7L122.6,99.6M121.6,112.3L120.4,114.5M117.5,106.9L116.3,105M120.1,112.8L126.9,110.5M130.7,114.7L130,109.5M110.9,128.3L107.6,130.6M103.4,116.8L112.1,118.4M117.5,116.9L119.5,116.7M105.4,116.7L107.5,119.6M97.6,114L101.7,116.5M128.2,89.2L132.4,91.7M117.2,116.2L115.7,121.8M124.9,95.3L110.5,95.6M121.2,117L127.9,116M120.1,111.5L124.1,111.6M114.2,111.5L102.6,116.8M110.4,114.8L104.3,113.4M115.8,110.4L109.5,111.1M118.9,116.2L109.9,113.6M117.7,114.9L132.2,117.1M138.3,101L136,105M120.4,112.7L125.9,115.1M123.5,104.4L124.3,108.1M128.3,107.7L129.7,106.9M106.3,109L104.6,112.8M125.9,101.9L131.1,98.9M119.1,127.1L119.2,130M126,100.7L120,95.1M121.1,108.9L122.6,109.7M121.6,117.1L125.7,119.9M114.5,118.9L123.3,116.9M111.1,119.6L113.1,120.1M148.3,113.7L152.3,113.3M118.3,117.2L120.6,118.5M126.8,121.3L127.2,117M128.6,116.3L128,112.7M122.3,127.6L119.4,130.9M132.6,124.7L127.4,127.2M101.4,109.2L105.6,108.1M116.9,108.7L116.2,113.3M128.3,111.7L126.5,110.7M124.6,107.6L121.8,106.4M117.4,119.5L114.7,119M111.3,119.3L124.9,115.4M123.1,112.4L118.4,107.8M127.2,109.6L121.9,107.8M127.8,93.5L135.7,94.1M112,114.5L107.2,118M114.4,114.2L104.8,117.1M99.8,122.8L110.5,116.9M116.2,102.6L110.3,107.2M111.1,106.5L107,107.6M117.9,116.2L113,119.3M127.9,110.6L133.4,109.2M108.5,116.8L103.7,117.1M123.4,103.3L119.8,98.5M96.8,116.6L102,116.5M112.2,113.6L109.7,110.8M89.4,124.1L86.7,124.8M127.3,116L132.1,115.9M108.8,110.8L99.2,107.8M125.9,113.1L128.1,111.8M95.7,111.1L87.5,109.4M121.9,106.6L119,106.5M116.7,116.6L122.4,113.4M100.3,120.9L105.8,123.1M123.7,113.5L125.3,109.6M160.8,114.7L162.9,112.7M103.5,110.2L109.8,114.3M115.9,109.4L111,118.2M100,100.4L95.2,101.1M100.1,120.4L100.9,117.3M86.6,101.1L89.4,101.1M156.2,104.9L150.8,105M113.7,110.3L126.6,113.2M119.7,115.4L122,116.3M121.9,107.7L126.5,104.7M115.7,111.4L118.6,108.6M115.6,106.6L117.9,106.1M126.2,112.4L127.3,111.3M124.5,107.4L118.5,108.8M117.2,118.6L105.4,122.3M127.7,117.7L127.9,116M114,101L119.7,101.5" stroke="#f898b8" stroke-width="0.42" stroke-opacity="0.55"/>
<path class="fl" d="M122.7,120.3L130.4,120M113.3,112.3L114.9,109.6M108.7,116.7L107.9,114.8M105.7,104.5L107.8,107.1M97.3,114.3L93.3,115.2M132,108.2L137.2,108.3M101.6,117.8L102.1,120.5M133.1,111.6L132.2,107.6M120.2,120.9L117.1,123.1M115.2,110.7L117.3,115.4M119.1,112.7L124,114.4M111,107.6L108.6,102.1M115.2,106.2L115.9,109.3M112,119L110.3,121.5M123.2,109L121.6,114.4M128.7,112.8L131.7,113.1M131.7,116.4L127.7,119.8M125.5,110.6L124.8,108.2M99.9,106.2L101.6,101.4M124.2,127.7L129.9,127.3M118.2,122.1L115.1,118.6M126.2,127.2L124.7,131.9M104.8,111.1L103.5,107M137.3,99.9L143.7,99.8M113.6,110.6L111.8,112.7M114.2,106.2L116.4,107.1M110.8,105.9L108.7,109.5M128.9,106.1L129.4,101M117.5,102.8L120,104.3M94.7,119.5L89.1,116.2M134,113.4L136.4,118.4M122.9,116.8L125.2,114.4M112.9,113.7L118.7,117.3M113.9,112.3L116.1,114.2M132.8,113L130.1,113.3M129.5,116.6L126,116.1M124.6,111.2L128.1,110.3M105.4,108.7L99.8,104.9M114.7,116.7L111.4,115M120.7,119.3L113.3,118" stroke="#fde0d0" stroke-width="0.6" stroke-opacity="0.85"/>
<g fill="#fde0d0" fill-opacity="0.8"><circle cx="96.8" cy="69.3" r="0.5"/><circle cx="89.4" cy="81.1" r="0.5"/><circle cx="65.8" cy="96.8" r="0.5"/><circle cx="65.9" cy="115.1" r="0.5"/><circle cx="71.3" cy="104" r="0.5"/><circle cx="92.3" cy="140.9" r="0.5"/><circle cx="100.1" cy="128.9" r="0.5"/><circle cx="114.1" cy="70.1" r="0.5"/><circle cx="122.9" cy="70.5" r="0.5"/><circle cx="131.5" cy="74.9" r="0.5"/><circle cx="141.9" cy="66.4" r="0.5"/><circle cx="147.4" cy="85.4" r="0.5"/><circle cx="164" cy="111.9" r="0.5"/><circle cx="155.6" cy="96.9" r="0.5"/><circle cx="162.1" cy="136.3" r="0.5"/><circle cx="153.2" cy="144" r="0.5"/><circle cx="138.5" cy="157.4" r="0.5"/><circle cx="124.2" cy="160.9" r="0.5"/><circle cx="110.6" cy="148.4" r="0.5"/><circle cx="126.3" cy="159.7" r="0.5"/><circle cx="83.2" cy="108.9" r="0.5"/><circle cx="158.4" cy="129.1" r="0.5"/><circle cx="81.5" cy="90.4" r="0.5"/></g>
<path class="fl" d="M96,74L103,75.5L99,84" stroke="#fbd0d0" stroke-width="0.8" stroke-opacity="1" stroke-linejoin="round"/>
<path class="fl" d="M103,82L113,100L121,118" stroke="#fbd6cc" stroke-width="0.9" stroke-opacity="1" stroke-linejoin="round"/>
<path class="fl" d="M88,111.5L106,112.5L118,116" stroke="#fcdcd0" stroke-width="0.9" stroke-opacity="1" stroke-linejoin="round"/>
<path class="fl" d="M120,92L124,108L131,122" stroke="#f8b8c8" stroke-width="0.8" stroke-opacity="1" stroke-linejoin="round"/>
<path class="fl" d="M99,122L108,132L100,138L112,136" stroke="#fbd0d0" stroke-width="0.7" stroke-opacity="1" stroke-linejoin="round"/>
<path class="fl" d="M126,104L137,112L148,127" stroke="#f8b8c8" stroke-width="0.7" stroke-opacity="1" stroke-linejoin="round"/>
<path class="fl" d="M110,104L116,122L113,135" stroke="#fcdcd0" stroke-width="0.7" stroke-opacity="1" stroke-linejoin="round"/>
<path class="fl" d="M74,152L80,147L88,143" stroke="#f8c0d0" stroke-width="0.7" stroke-opacity="1" stroke-linejoin="round"/>
</g>
<path d="M579.5999999999999,230.2V233.3H616.5V230.2" fill="none" stroke="#5a5a5a" stroke-width="0.9"/>
<text class="sb" x="579.9" y="226.6" text-anchor="middle">0</text>
<text class="sb" x="605.5" y="226.6">50 km</text>
<clipPath id="cb0"><rect x="34.4" y="408.1" width="173.4" height="173.0"/></clipPath>
<g clip-path="url(#cb0)">
<g transform="translate(-39.4,328.2) scale(1.36)">
<use href="#og" fill="#dedfdf"/>
</g>
<g transform="translate(0,0)">
<path class="fl" d="M121.1,477.4L88.9,485.5M116.6,476.3L99.4,470.2M122.7,477.8L94,476.5M122.9,480.6L111.9,482M115.1,478L81.1,490.5M119.9,480.5L107.3,485.4M117,480.8L91.8,483.9M114.4,479.8L99.7,485.2M115.5,477.7L90,490.4M113.8,476.4L97.8,478M117.2,478L99.8,484.1M121.7,476.9L105,481.2M120.9,478.8L82.7,481.5M122.6,480.4L83.3,484.3M115.1,477.9L88.2,485.9M123.7,479.7L85.8,481.9M119.8,478.9L102.8,485M119.1,478.3L92.5,491.1M114.2,478.6L85.4,477.3M118.5,480.5L97.5,480.2M112.4,478.7L79.8,481.8M116.2,476.6L95.9,475.4M119,479.5L108.2,480.3M124.6,477.9L106.8,484.6M120.4,476.9L81.4,482.4M113.8,479.8L76.7,494.9M117,480.3L97.8,482M113.9,479L92.5,482.3M114.9,477.6L91.3,485.1M122.1,476.1L95.6,495.3M121.6,479.9L104.4,485.6M113,477.9L90.7,487.3M123.4,477.9L136,504.2M113.3,478.4L114,491.3M119.4,479.6L117.6,489.5M124.7,477.7L125.2,498.4M124.1,480.2L104.4,500M112.3,480.6L113.8,503M112.7,479L109.5,504.5M122.4,479.1L117.6,491.5M116.1,478.1L105.4,499.6M119.8,477L129.3,501.1M118.2,479.9L129.4,498.8M118.2,478.1L120.1,506.5M117.8,476.1L108.6,501.1M118.9,479.2L118.9,511M118.7,476.6L137.8,491.4M122.1,479.3L131.8,505.8M115.3,479L100,504.1M121.8,477.2L102,502M124,477.4L108.5,494.9M122.6,480.3L108.3,496.5M124.4,477.7L121.6,500.3M112.2,479.1L107.8,499M116,476.9L119.6,495.2M117.9,477.5L116.7,487.1M114.6,477.1L119.6,497.7M113.7,478.9L111.7,510.4M120.8,478.5L98.5,494.7M115.6,478.6L110.9,488.2M112.2,478.9L112.2,489.8M120.1,480.5L116.1,490.5" stroke="#6b9bd6" stroke-width="0.4" stroke-opacity="0.5"/>
<path class="fl" d="M120.3,479.5L117.6,497M112.3,480.6L111.5,500.2M114.8,480L109.7,489.5M115.9,478.6L114.2,505.9M116.6,479.1L108.9,500.5M113.7,480.6L109.5,495.7M121.4,479.8L117.7,490.4M121.2,476.4L117.2,504.6M120.9,480.3L125.7,505.7M115.7,477.4L104.3,505.6M122.9,477L120.1,491.9M112.6,480L109,493.3M115.1,480.2L118.3,495.1M114,477.8L103.4,506.6M116.5,477.3L106.6,503.8M115.4,477.4L104.3,506.5M121.5,479.5L115.1,484.6M123.1,479.9L125.4,502.4M112.8,478.9L105,500.2M117.1,476.3L103.5,489.5M124.7,476.8L118.2,501.9M114.4,476.5L99.7,497.7M113.9,480.5L95.9,505.4M121.9,476L111.8,494.6M124.9,479.9L132.7,496.8M113.5,477.8L118.4,497.1M123.6,477.3L100,496.8M116.5,479L113.8,492.4M125,477.6L144.7,484.2M120.8,480.3L136.6,480.7M122.4,478.9L138,498.1M123,476.4L147.5,489.4M118.1,479.2L125.9,481.8M121.7,479.5L131,496.6M115.6,480.2L140.9,478.5M118.8,477.2L137.3,492.2M121.9,476.2L128.5,483.9M115.8,478.8L134.4,494.3M114.9,476.2L127.2,491.3M116.3,478L131.3,474.4M113.4,476.8L122.7,481.9M123.8,477.6L131,483.3M116.4,480.7L124,499.6M114.8,478.1L133,497M121.6,478.3L134.6,480.2M113,476.6L132.8,494.4M116.3,477.1L137.5,491.6M112.1,477.9L124.4,494.7M113,477.3L125.2,482.6M113.7,478.4L128.7,483.2M122.7,479.4L130.7,496.9M123.1,477.7L134.8,483.1M113.4,478.9L122.3,482.7M119.5,479.2L136.3,483.9M122.4,476.9L98.4,429.4M119.3,478.4L99.8,436.2M122.3,480.5L107.5,437.4M113,476.6L105.8,424.9M115.1,478.2L114.6,444.6M121.2,476.9L126.4,427M123.3,480.7L140,439.1M116.3,480.5L144.1,433.4" stroke="#6b9bd6" stroke-width="0.4" stroke-opacity="0.5"/>
<path class="fl" d="M121.5,480.3L143.1,452.5M125.1,477.9L102.1,457.1M112,478.2L90,466.1M118.7,478.7L126.2,450.9M117.3,477.7L138.5,457.2M123.1,477.9L127.4,454.1M115.2,476.1L104.4,450.4M124.2,480L132,467.3M124,480.3L118.3,460.6M120.7,477.4L124.5,459.6M124.8,479.4L133.9,454.9M113.4,480.6L110,467.6M122.6,477.2L134.7,464.2M116.3,479.2L127.8,454.5M121.4,479.8L135.3,454.3M121.8,477.4L123.7,467.3M118.8,480.5L125.8,455.5M120.3,480.7L132.1,469.1M113,479.4L107.4,456.2M122.2,479.8L140.5,475.9M119.4,477.4L112.1,460.1M154.1,476L123.8,476.9M154.1,476L131.1,454.2M154.1,476L125.9,460.5M154.1,476L125.1,461M154.1,476L126.9,462.8M154.1,476L122.1,477.5M154.1,476L127.1,472.1M154.1,476L128.9,464.9M154.1,476L135.7,451.2M154.1,476L123,460.4M154.1,476L125,460.9M154.1,476L126.8,462.7M154.1,476L118.5,476.5M154.1,476L127.1,462.2M154.1,476L129.6,463.3M154.1,476L127.3,477.5M154.1,476L128.6,475.1M154.1,476L127.6,477.5M154.1,476L123,474.7M154.1,476L128.6,470.4M154.1,476L132.7,453.9M154.1,476L117.7,477.5M154.1,476L117.6,475.7M154.1,476L131.6,455.5M154.1,476L119.9,477.1M154.1,476L127,477.5M154.1,476L120.9,476.9M154.1,476L131.5,462.1M154.1,476L125.9,457.1M154.1,476L126.4,457.5M154.1,476L129.1,451.7M154.1,476L134.4,453.1M154.1,476L126.3,475.5M154.1,476L122.3,474M154.1,476L131.6,439.6M154.1,476L127.3,443.8M154.1,476L135,435.3M116,476L50,460M154.1,476L184.1,483M115,482L84,525" stroke="#6b9bd6" stroke-width="0.4" stroke-opacity="0.5"/>
<path class="fl" d="M116.6,480L106.5,479.7M114.1,478.1L86.7,478.7M123.5,478.4L111,481.3M120.2,477.3L97.5,471.8M118.9,478.2L104.7,477.5M122.1,480.7L100.2,483.7M115.5,478.1L76.2,471.6M114.6,480.1L99.6,483.4M117.3,476.4L91.4,485M114,476.6L101.4,478.3M116.1,477.7L83.1,482.7M119.6,477.4L94,476.3M114.7,477.6L100.3,480.3M119.6,476.6L88.9,477.9M120.6,478.7L85.8,488.2M113.4,478.9L94.1,481.5M119.3,476.9L100.4,489.3M113.4,476.6L100.6,475.6M120.2,478.4L109.1,475.4M121.9,476.5L101.9,476.3M113.5,478.1L90.6,484.7M123,478.4L106.6,479.1M124.1,476.7L90.8,472.1M121.2,480.2L109.7,488M113.2,477.6L84.6,481.6M122.9,478.4L96.5,495.6M124.5,480L111.3,478.9M117.8,479.3L84.7,486.4M116.4,480.3L82.6,493.2M122.7,476.6L83.9,476M112.8,480.7L93.8,480.9M121.6,477.4L85.9,485.2M118,478.9L104.1,482.3M117.5,477.9L83.8,483.9M121.3,479.8L83.9,487.4M112.3,479.3L73.5,476.2M118.3,476.6L95.7,481.1M115.4,478.7L102.1,476M121,479L106.3,474.5M118.4,479L86.5,486.8" stroke="#2f72be" stroke-width="0.42" stroke-opacity="0.62"/>
<path class="fl" d="M114.6,476.2L81.9,479.5M124.5,478.9L114.3,480.5M122.4,479L103.1,489.6M120.9,477.3L91.5,475.6M118.4,477.9L84.3,480.6M121.4,479.2L87.7,482.1M115,476.7L87.3,476.4M115.7,477.9L86.6,477M112.5,480.5L96.1,480.4M117.9,479.7L85.7,482.8M117.3,478.7L88.3,475.7M122.2,477.8L87.4,482.2M115.9,478.2L85.5,475.5M119.7,479.9L123.2,506.8M119.4,479L119.7,496.8M118.2,477.6L113.6,488.1M115.7,479.6L107.7,503.1M114,478.7L112.1,487.3M123,479L128.9,500.9M120.4,480.7L125.3,499M123.8,479.4L113.8,497.2M112.6,478.8L107.5,489.8M117.2,478.7L127.7,508M118,476.7L117.5,490.7M114.6,478.2L116.9,492M115.9,477.7L108.9,502.5M124.6,479.9L103.9,499.7M112.1,479.7L112.1,508.2M123.9,478.8L114.1,505.5M122.6,478.5L117.3,509.7M113.7,476L116.8,487.9M120.7,478.5L114.6,499.3M113.5,479.8L117.1,490.2M113.3,478.6L106.6,506.2M120.5,479.8L110.4,496.6M120.3,479.2L113.8,509.7M120.3,476.2L115.2,484.2M124.1,477L121.4,489.7M117.3,479.9L115.1,505.1M124.9,480L125.3,510.6" stroke="#2f72be" stroke-width="0.42" stroke-opacity="0.62"/>
<path class="fl" d="M115.7,476.5L118.7,494.8M113.5,478.7L117.7,496.5M115.9,479.3L118.3,490M123.8,478.9L125.9,497.4M116.6,479.2L111.3,500.1M116.1,476.3L111.5,491M119.1,477.1L106,496.2M112.5,479.3L109.6,487.7M118.5,477.8L110.1,492.2M123.1,480.2L117.1,493.8M124,478.6L129.9,507.9M121.2,478.2L121.9,491.8M122.1,477.9L128.8,506.3M115.9,479.5L114.4,489.9M122.2,477L120.4,500.1M117.5,479.4L113.4,487.8M117.2,479.3L113.6,486.8M119.6,480L115.7,489.8M124,479.6L124.2,511.1M116.5,477.3L112.4,505.7M121.6,479.4L115.6,490.5M121,476.4L122.2,492.9M117.7,477.1L122.8,489.7M112.5,480.1L104.6,504.8M119.5,476.1L117.4,501.8M121.6,480.1L116.2,493.9M122.5,479.6L101.6,491.6M120.3,478.4L107.6,490.4M113.9,478.8L118.1,492.6M115.6,476.8L117,492.2M121,478.6L116.1,489.4M117,477.4L130.8,502.4M115.3,479.5L106,494.5M122.9,476.6L105.8,496.4M124.2,476.4L115.2,503.7M123.3,479.8L134.1,475.6M116.4,478L127,492.3M121.3,478.4L147,475.9M123.3,477.7L138.6,482.2M124.2,478.4L141,482.3" stroke="#2f72be" stroke-width="0.42" stroke-opacity="0.62"/>
<path class="fl" d="M119.6,480.7L141.5,495.5M124,479L141.4,491.1M122.6,480.5L133.5,487.3M120.9,479.4L136.8,475.9M122.5,477.6L132.4,485.9M124.2,477.8L136.4,485M120.9,476.3L135.7,484.9M114,480.8L124.5,492.1M115.1,477.4L127.3,500.1M112.6,476.4L133.2,468.6M122.9,477.7L135.4,487.8M116.7,476.5L140.7,472.9M125.1,477.4L141.6,482.5M121.1,478L136.2,481.5M154.1,476L126.4,460.9M154.1,476L130.2,469.9M154.1,476L127.5,451.1M154.1,476L123.5,469.5M154.1,476L132.2,464M154.1,476L117.5,476.5M154.1,476L121.2,477.1M154.1,476L119.6,477.2M154.1,476L121,476.8M154.1,476L120.2,476.5M154.1,476L123.8,457.5M154.1,476L123.9,472.9M154.1,476L130,462.5M154.1,476L127.1,477.5M154.1,476L117.4,476.7M154.1,476L125.9,477.1M154.1,476L133.4,460M154.1,476L125.5,477.5M154.1,476L117.3,477.4M154.1,476L134.9,454.2M154.1,476L126.9,474.4M154.1,476L125.3,456.5M154.1,476L123,477.5M154.1,476L131.8,459.3M154.1,476L129.6,461.6M154.1,476L117.8,476.1" stroke="#2f72be" stroke-width="0.42" stroke-opacity="0.62"/>
<path class="fl" d="M122.1,479.4L117.1,485.3M121,478.3L120.8,485.1M124.2,479.4L120.3,483.6M124.3,479.9L118.1,485.6M122.8,475.4L119.1,484M119.5,474.4L118,483.9M119.6,479.5L120.2,481.6M115.9,477.7L117.3,484.4M123.9,475.4L117.2,482.2M122,478.2L118.7,484.5M119.6,476.7L118.8,486.4M127.8,475.8L117.1,487.2M119.1,475.8L118.6,485.4M116.4,473.4L120.6,485.1M117,473.6L116,485.8M116.4,476.9L116.8,482.4M117.8,473.3L119.2,484M126.1,474.9L118.9,487M120.5,479.8L117.5,482.3M122.5,473.9L118.9,485.1M117.6,473.9L120.1,484.8M124.1,474.8L118.5,485.1" stroke="#1b468e" stroke-width="0.6" stroke-opacity="0.8"/>
<path class="fl" d="M121.8,473.1L116.1,484.7M121.6,476.5L119,481M125.5,474L120.8,484.3M125.6,474.9L117.6,485.1M127,474.6L118.6,486.9M122.4,473.1L120.3,484.3M115.5,476.8L117,482.1M116.4,473.9L117.8,484M111.1,479.1L120.4,482.9M123.7,473.8L118.4,481.5M124.9,473.2L116.5,481.2M113.9,476.6L117.2,482.1M126.1,473.8L120,483M115.8,476.6L119.2,485.9M122.9,477.4L120.2,485.3M116.7,477.2L119.7,485.7M119.3,477.2L119.9,481.9M127.9,479.2L119.9,481.3M116.5,478.2L119.4,487.9M118.8,476.7L120.3,486.1M124.9,474.1L121,485.4M115.8,475.9L118.9,486.8" stroke="#1b468e" stroke-width="0.6" stroke-opacity="0.8"/>
<circle cx="154.1" cy="476" r="1.1" fill="#0a0a14"/>
<circle cx="137.5" cy="481.2" r="0.7" fill="#0a0a14"/>
</g>
</g>
<rect x="129.6" y="519.5" width="78.2" height="61.6" fill="#fff" stroke="#5c5c5c" stroke-width="1.1"/>
<g transform="translate(129.2,518.2) scale(0.324)">
<use href="#og" fill="#dedfdf"/>
<path d="M110,106.5l6,1.5l5,-0.5l2.5,3.5l-7,1.5l-6,-2zM126,109.5l4,0l0,3.5l-4,0zM137,108l3.5,0l0,3.5l-3.5,0z" fill="#0a0a0a"/>
</g>
<rect x="146.3" y="535.2" width="41.3" height="40.4" fill="none" stroke="#e45aa0" stroke-width="0.7" stroke-dasharray="2.8 1.4"/>
<rect x="34.4" y="408.1" width="173.4" height="173.0" fill="none" stroke="#5c5c5c" stroke-width="1.1"/>
<clipPath id="cb1"><rect x="292.3" y="407.5" width="173.0" height="173.60000000000002"/></clipPath>
<g clip-path="url(#cb1)">
<g transform="translate(219.2,328.2) scale(1.36)">
<use href="#og" fill="#dedfdf"/>
</g>
<g transform="translate(258.6,0)">
<path class="fl" d="M118.1,477.1L93.6,473.2M124.8,477.2L108.2,483.1M123.3,476.8L95.2,484.1M121.7,478.2L106,483.5M112.2,480.5L81.1,469.3M121.3,476.5L111.5,479M119.6,480.2L105.4,478.3M122.4,480.5L104,484.9M119.3,477.9L91.4,478.9M115.2,480.1L84.8,485.8M120.8,476.3L86.5,484M117.2,477.6L84.5,483.1M115.1,477.4L104,476.8M117.5,477.6L93.7,477.2M123.4,476.3L105.5,478.6M118.3,478.5L94.8,485.1M121.2,477.1L106.1,480.9M125.1,480.4L99.5,489M123,477.6L93.4,476.5M124.8,476.2L85.9,467.3M114.8,479L100,482.4M120.8,478.4L94.7,479.3M113.6,479.9L102,482.1M113.7,476.9L95.2,481.5M112.4,477.4L99.1,501.6M112.6,480.3L103,493.2M119.7,479.4L116.9,493.6M123.9,477.1L120.4,499.8M118.2,476.1L91.8,488.6M120.4,479L136.2,503.7M114.2,480.1L97.7,494.2M119.3,479.1L128.8,508.3M123.5,476.2L114.1,494M123.3,476.1L125.4,484.9M123.3,478.5L130,488.1M113.2,478.6L114.9,499.2M124.2,476.9L135.3,493.7M120.2,476.4L132.6,499.9M118.1,480.6L130.6,497.5M116.6,479.5L114,492M118,477L119.1,490.8M113.2,480.3L116,493M114.1,476L118.7,498.1M119,480L105.6,499.2M123.6,476.5L104.3,494.8" stroke="#6b9bd6" stroke-width="0.4" stroke-opacity="0.5"/>
<path class="fl" d="M124.2,476.4L135.1,501.4M120.6,478.1L113.8,504.4M114.3,479.2L102.6,496.8M123.1,476.1L102.8,484.7M118.9,479.2L117.3,495.7M124.3,479.3L120,490.4M119.1,479.8L126.5,501.9M118.2,477.3L112.2,492.8M113.2,476.7L112.9,503.8M115,479.7L96.3,503.5M112.5,476.4L103.9,498.8M114,477L127,485.1M118.3,480.8L141.8,485.2M123.9,477.3L134.2,482.1M124.2,478.2L141.1,499.8M124,476.9L126.9,487.1M124.1,480.1L139.3,486.6M116.9,480.7L139.1,492.3M112.5,479.4L123.1,484.7M123.7,476.5L142.1,481.1M113.3,477.9L137.8,474.3M123.5,479.2L142.7,489.6M116.6,478.6L136,493.6M113,479.8L129,487.5M113.3,477.7L124.2,483.9M120.4,479.1L94,426.5M117.5,477.2L98.2,435.6M123.1,478.6L107.8,435.3M120.2,476.3L108.1,419.8M121.6,480.2L120.1,444.8M115.3,476.8L120.3,427.8M116.7,476.1L133.1,437.9M114.8,477.3L143.1,427.9M114.2,476.8L137.1,446.5M118.3,478.9L96.4,459.4M119.7,480.3L98.5,467.7M115.1,479.4L122.5,454.8M113.5,480.6L135.5,458M120.8,477.2L130.7,449.4M120.8,477.3L141,466.6M119.1,480.3L117,459.9M119.6,480.5L116.8,470.3M114.1,480.3L114.6,453.8M113.3,478.6L114.3,460M112.8,478.6L126.3,461.7" stroke="#6b9bd6" stroke-width="0.4" stroke-opacity="0.5"/>
<path class="fl" d="M122.9,476.3L126.9,460.1M154.1,476L121.4,470.4M154.1,476L123.1,462.3M154.1,476L127.4,462.1M154.1,476L127.1,476.4M154.1,476L124.9,469.4M154.1,476L127.5,476.4M154.1,476L133.3,453.6M154.1,476L127.6,465.2M154.1,476L130,461.9M154.1,476L121.3,471.9M154.1,476L123.2,475M154.1,476L123.1,477.4M154.1,476L124.5,460.7M154.1,476L128.1,475.3M154.1,476L127.3,463.7M154.1,476L127,471.6M154.1,476L123.9,465.6M154.1,476L128,466.9M154.1,476L127.9,460.6M154.1,476L119.9,472.3M154.1,476L126.8,475.8M154.1,476L122.4,464.5M154.1,476L137.9,434.7M154.1,476L130.8,442.6M154.1,476L130.9,430.7M116,476L50,460M154.1,476L184.1,483M115,482L84,525M131,482L128.2,493.3M131,482L140.4,491.8M131,482L133.5,492.9M131,482L134.6,492.5M131,482L141.9,484.6M131,482L136,484.7M131,482L136.1,484.8M131,482L137.1,483.4M131,482L141,492.7M131,482L142.1,488M131,482L135.9,484.6M131,482L145.4,487.9M131,482L141.5,486.1M131,482L134.1,489.7" stroke="#6b9bd6" stroke-width="0.4" stroke-opacity="0.5"/>
<path class="fl" d="M124.5,480.1L99.2,488.2M124.4,478.9L109.5,479.2M116.2,476.3L88.5,496.7M124.1,477.8L106.4,483.6M115.7,480.3L88.8,483.9M113.4,478.9L89.5,479.4M114.1,477.7L97.9,488.9M119.3,480.4L86.1,491.9M117.2,480.5L83.5,478.7M124.6,478.6L102.4,482M122.4,477.5L106.3,478.3M112.5,480.6L98.9,483.8M119.1,478.9L90.5,488.4M118.4,479.4L105.2,481.4M119.6,478.9L100.1,482.3M119.8,476.1L94.1,483.2M121.9,478.5L102,485M124.7,477.5L103.1,487.1M122.3,480.7L88,493.2M120.6,477.3L85.5,485.2" stroke="#2f72be" stroke-width="0.42" stroke-opacity="0.62"/>
<path class="fl" d="M117.3,478.6L86.7,488.6M121.9,480.3L108.2,486.7M120.2,478.4L122.9,495.3M115,477.5L119.3,490.5M121.5,478.8L121.7,493.8M120.3,480.2L119.6,498.8M119.7,479.9L116.8,487.6M121.3,476.6L111.8,498.2M123.8,477.8L110.9,505M123.7,479.3L117.9,492.5M115.9,478L107.5,492.4M124.2,480.1L128,498.6M118.1,479.6L109.6,500.9M120.9,478L107.4,496.9M113.4,477.3L109.2,484.1M124.4,479.1L123.8,493.4M115.5,479.9L106.7,490.5M112.1,479.7L110.7,492.5M113.5,480.2L99.9,492.9M114.1,476.7L109.1,487.4" stroke="#2f72be" stroke-width="0.42" stroke-opacity="0.62"/>
<path class="fl" d="M114.9,480.5L118.1,502.9M120.5,479.6L115,498.6M123,479.6L112.2,493.3M124.9,479L107.5,494.6M124.9,479.1L118.6,509.8M112.5,479.3L126.7,499.1M125.2,477.6L129.8,489.4M118.9,478.5L115.7,487.9M116.7,479.8L124.8,506.1M122.6,480.6L112.6,510.6M112.5,476.9L119.5,492.4M120.7,478.9L126.9,488.1M120.9,479.8L123.8,493.8M113.3,476.8L106.6,486.1M124.7,480.5L104.1,498.2M119.7,480.6L116.2,488.1M116.6,477.2L132.7,485.1M120.8,479.8L131.7,483M112.5,479.8L133.8,491.1M115.6,478.5L126.1,485" stroke="#2f72be" stroke-width="0.42" stroke-opacity="0.62"/>
<path class="fl" d="M118.8,477.2L124.1,483.5M118.8,480.6L129,482.4M112.6,477.2L116,487.5M119.4,477.5L123.5,484.5M115.7,476.3L133.6,485.3M114.6,477.6L130.3,482.7M154.1,476L126.6,477.5M154.1,476L120.7,474.2M154.1,476L128.4,474M154.1,476L120.4,475.9M154.1,476L123.7,458.6M154.1,476L129.4,462.5M154.1,476L123.3,475M154.1,476L124,473.8M154.1,476L118.1,477.4M154.1,476L118.2,475M154.1,476L126.2,451.3" stroke="#2f72be" stroke-width="0.42" stroke-opacity="0.62"/>
<path class="fl" d="M115.5,476.6L115.2,483.5M116,475.7L115.7,483.9M116.5,475.5L116.2,484.2M117,475.9L116.7,483.3M119,477L118.7,484.8M119.5,476L119.2,484.9" stroke="#1b468e" stroke-width="0.6" stroke-opacity="0.8"/>
<path class="fl" d="M120,476.9L119.7,485.2M120.5,475.3L120.2,483.4M122.5,475.1L122.2,485.3M123,476.2L122.7,484.4M123.5,475.2L123.2,483M124,475.5L123.7,484.2" stroke="#1b468e" stroke-width="0.6" stroke-opacity="0.8"/>
<circle cx="154.1" cy="476" r="1.1" fill="#0a0a14"/>
<circle cx="137.5" cy="481.2" r="0.7" fill="#0a0a14"/>
</g>
</g>
<rect x="387.3" y="519.5" width="78.0" height="61.6" fill="#fff" stroke="#5c5c5c" stroke-width="1.1"/>
<g transform="translate(387.7,518.2) scale(0.324)">
<use href="#og" fill="#dedfdf"/>
<path d="M110,106.5l6,1.5l5,-0.5l2.5,3.5l-7,1.5l-6,-2zM126,109.5l4,0l0,3.5l-4,0zM137,108l3.5,0l0,3.5l-3.5,0z" fill="#0a0a0a"/>
</g>
<rect x="404.8" y="535.2" width="41.3" height="40.4" fill="none" stroke="#e45aa0" stroke-width="0.7" stroke-dasharray="2.8 1.4"/>
<rect x="292.3" y="407.5" width="173.0" height="173.60000000000002" fill="none" stroke="#5c5c5c" stroke-width="1.1"/>
<clipPath id="cb2"><rect x="553.8" y="408.5" width="173.4000000000001" height="172.60000000000002"/></clipPath>
<g clip-path="url(#cb2)">
<g transform="translate(481.8,328.2) scale(1.36)">
<use href="#og" fill="#dedfdf"/>
</g>
<g transform="translate(521.2,0)">
<path class="fl" d="M121,478.7L81.9,483M115.8,479.4L81.7,490.5M115.2,477.4L96.7,480M114.9,480.6L103.3,482.3M119.1,477.2L94.6,476.8M121.2,478.2L101.9,479.2M121.3,479.2L97.1,478.3M112.8,479.3L95.6,484.9M122.6,478.6L84.2,475.4M123.6,479.3L98.5,479.1M114.4,478.3L89.7,478.5M116.8,476L86.7,476.7M125,476.1L107.4,483.3M123.6,479.5L89.2,471.5M123.9,477.2L98.9,482.9M116.6,479.2L84.8,489.3M120.4,477.8L89.9,474.9M120.3,476.4L89.8,482.7M121.4,479.8L102.9,480.8M123.6,478.6L103.7,480.2M123.7,479.9L107,478.4M122.4,478.1L92.5,487.3M119.5,478.9L97.9,487.8M119.1,477.4L93.6,478.2M113.7,480.4L77.4,480.3M118.5,480.4L81.8,476.8M124.1,478.5L110.6,478.5M117.3,477L106.9,477.8M124.9,479.4L86.1,473.9M124.6,478.5L88.7,493.9M124.1,476.4L96.8,482.6M114.9,479L83,490M121.2,476.5L83.2,483.7M117.6,480.2L83.8,485.8M121.5,476.7L107,476.8M113.4,476.6L87.4,473.8M113.9,477.1L81,474.8M122.6,478.4L96.9,476.7M115.4,476.6L87.1,477.9M124.8,476.6L95.9,479.4M123.6,477.3L84.3,481.1M112.5,476.8L88.8,473.6M118.2,476.4L123.9,495.5M118.2,478.8L110.2,489.1M122.9,477.8L116.9,486.1M113.9,479.5L118.5,501.4M113.2,479.6L94.6,504M118.1,476.4L111.3,494.8M117.9,478.1L118.9,489.3M124.2,479.8L124.2,495.6M113.7,479.6L106.1,488.9M118.5,479.4L108,501.5M122.5,480.3L115.5,496.2M115.4,477.1L104.6,501.5M123.9,478L118.5,507.5M117.9,476.3L122.2,492.3M121.3,479.5L124,496.8M114.6,479.3L113.8,509M116.6,478.1L118.4,505.3M119,479.8L122.5,488.1M114.4,480.2L124.4,499.6M113.2,478.2L112.7,489.7M112.6,478.2L117.2,496.2M113.1,479.5L111.7,492.2M112.4,479.9L106.5,495.9M120.7,479.6L118.2,506.6M119.4,477.7L115.2,509.2M114.9,479.6L104.6,509.4M115.9,477.5L123,499.4M116.2,477.1L114.9,492" stroke="#6b9bd6" stroke-width="0.4" stroke-opacity="0.5"/>
<path class="fl" d="M115.9,478.3L101.4,500.4M123.5,476.4L119.5,491.1M118.6,476L121.4,499.3M116.2,476.3L113.2,494.8M124.4,480.1L117.4,484.6M123.5,478L119.5,501.8M123.4,480.6L110.3,487.1M118.4,480.5L107.8,505.2M115.9,477.1L110,508.1M124.1,476.9L123,495.5M113.8,479.9L113.2,493.7M119.8,476.5L114.1,506.9M116.8,476.9L126.7,505.4M123.2,477.6L118.7,492.7M121.2,476.3L118.3,486.8M112.4,478.9L99.8,503.3M116.8,478.7L115.3,497M116.6,478.2L120.2,502.8M114.9,478.2L105.2,492M112.9,477L113.2,497.5M119.8,476.3L118.2,500.4M118.1,480.4L109.4,506.5M125.1,480.4L132.9,493.7M123.9,479.2L128,487.1M113.9,480.5L95.3,503.1M114.2,480.5L120,505.3M121.6,477.1L117.2,503.4M124.1,476.4L135.6,498.1M113.4,477.7L110.7,493.4M114.9,476.2L127.4,494M119,478.7L111.9,494M119,478.1L114.5,486M122.6,479.2L115,506.8M118.5,480.2L111.7,489.8M122.4,478.2L122,510M115.4,480.2L133.7,493.4M118,477L121.9,490.9M113.3,479.3L136.3,479.1M114.9,480L140.3,490.7M113.9,478.9L138.3,488.1M123.3,478.3L136.9,492.1M123.7,477.1L130.4,482.4M122.1,476.9L134.8,478.9M116.2,479.9L136.6,492.5M116.1,476.8L137.1,480.5M112.8,478L121.4,481M118.8,476.6L138,486M117.3,477.7L140.7,489.8M121.7,476.2L130.1,484.3M118.4,476.3L138.5,485.5M122.7,476.2L126,485.7M121.9,480L146.9,475.2M112.7,480.5L127.2,493.6M117.7,479L132.8,502.5M118.1,477.3L127.2,489.8M118.2,476.4L133.8,487.8M112.8,477.5L120.3,482.5M113.5,478.3L125.4,481.2M112.4,477.9L118.1,485.2M113.3,480.3L135.1,468.9M116.1,476.7L133.8,483M112.6,480.2L129.5,497M124.2,478L148,491.1M115.7,480.7L124.8,506.8M113.2,479.1L119.9,486.6M121.1,480.4L89.1,424.4M124.3,477.3L105.5,438.9M112.8,480.3L100.5,443.8M121.7,479.3L111.6,430.6M113.2,476.3L112.2,442.1" stroke="#6b9bd6" stroke-width="0.4" stroke-opacity="0.5"/>
<path class="fl" d="M120.1,478.8L125,428.4M114.9,478L129.6,443.2M117.4,480.4L143.2,432.1M122.4,479.7L143,451.3M116,478.4L90.9,455.4M122.6,476L99.7,462.2M125,476.7L132.4,449M120,478.6L144.2,453M120.4,476.9L126.2,462.5M113.8,479.7L133.1,458M117.5,479.2L132.9,456.3M124.2,477.4L151.1,475.5M118.3,476.7L102.8,458.8M124.5,478.2L117.3,458.2M113.8,479.6L118.5,450.2M118.9,480.3L131.7,455.1M124.1,480L137.6,471.8M114,477.1L117.1,467.4M114,479.9L118.5,458.6M118.3,476.2L116.2,450.7M113.2,476.5L108.6,457.9M114.6,477.6L116.1,464.4M116.3,478.2L109.5,457.8M117.5,476.5L132.7,463.9M112.6,478.4L116.8,457M154.1,476L121.1,470.8M154.1,476L126.4,473.2M154.1,476L124.6,464.3M154.1,476L129.5,472.8M154.1,476L121.2,467.7M154.1,476L129.7,456M154.1,476L125.3,473.2M154.1,476L119.9,474.9M154.1,476L126.8,457.2M154.1,476L128,474.3M154.1,476L129.8,450.7M154.1,476L127.5,470.6M154.1,476L119.4,473.7M154.1,476L127.6,459.9M154.1,476L126.5,464.5M154.1,476L120.4,477.4M154.1,476L124.2,470.3M154.1,476L126,469.7M154.1,476L130.9,468.1M154.1,476L127.9,467.4M154.1,476L131.7,451.6M154.1,476L128,467.4M154.1,476L130.4,463.3M154.1,476L132.5,457.5M154.1,476L118.8,474.4M154.1,476L128.7,460.8M154.1,476L120.4,468M154.1,476L125.8,473.1M154.1,476L132.4,454.4M154.1,476L129.9,470.8M154.1,476L123.8,475.2M154.1,476L120.6,470.9M154.1,476L130.5,454.4M154.1,476L127.6,454.9M154.1,476L132.4,462.7M154.1,476L129.2,461.5M154.1,476L120.5,475.1M154.1,476L132,430M154.1,476L132.1,432M154.1,476L135.4,433.2M116,476L50,460M154.1,476L184.1,483M115,482L84,525" stroke="#6b9bd6" stroke-width="0.4" stroke-opacity="0.5"/>
<path class="fl" d="M118.3,476.9L93.5,486.6M118.6,479.7L96.8,481.4M112.4,477.1L83.4,483.7M120.7,479.5L99.4,481.1M123.3,476.7L100.3,476.6M118.9,479.5L82.8,492.9M114.5,478.9L98.4,486.6M124.8,478L115.2,483.9M121.3,477.9L93.8,486.2M121.6,478.6L98.2,478.4M123.4,480.4L107,485.9M117.6,476.5L87.8,476.4M124.4,478.5L114,477.8M121.7,478.3L89.8,475.6M117.1,477.9L98.4,485.4M123,479.5L99.5,477.3M115.1,477.2L102.1,477.1M117.5,476.9L94.7,477.3M113.7,479.4L99.5,480.6M117.6,477.5L89.1,486.3M119.7,478.8L97.5,485.4M123.5,476.8L96.7,489M114.3,479.1L81.3,481M116.4,476.9L95.2,481.4M116.9,479.1L104.7,483.8M121.2,477.9L98.2,486.3M124.1,477.8L99.5,489M120.3,478.2L89.9,475.7M121,477.1L101.2,473.5M115.8,477.4L77.8,488.3M124.9,478.4L107.5,482.9M114,477.7L103.2,474.1M124.2,477.5L90.5,472.9M115.4,480.2L82.8,490.1M120,477.6L102.8,476.6M115.5,476.4L93.9,484.7M121.1,476.2L101.9,487.4M123.7,479.1L89.3,473.7M119.3,479.4L107.7,479.4M123.2,480.1L110.1,482.4M113.3,479.9L89.2,487.3M113.1,478.7L74.4,480" stroke="#2f72be" stroke-width="0.42" stroke-opacity="0.62"/>
<path class="fl" d="M118.8,477.6L96,483.2M114,479.9L103.6,478.9M119,480.7L81.5,480.7M112.1,476.7L99.1,476.2M118.6,477L90.4,478.7M116.1,476.1L81.8,467M116.2,478.2L91.2,481.3M118,476.8L92,481.6M113.1,478.3L88.9,487.8M112.2,478.6L114.2,494.9M116.5,477L112.2,485.1M113.5,476.7L108,490.8M123.6,477L121.8,486.8M122.9,476.2L116.8,482.7M122,477.7L113.6,500.8M124.9,477.1L102.1,498.7M115,476.4L103.1,493.7M112.2,479.4L87.8,495.7M114.1,477.9L123.3,483.3M117.3,477L112.2,484.9M114.4,477L116.7,507.2M122.5,476.9L117.3,507.1M123.7,477L116.6,489.3M112.9,478.3L112.9,495M119,479.6L110.4,510M122.1,479.3L126.1,491.3M112.4,480.7L103.8,504.8M124.8,477.4L130,501.1M120.9,479.9L120.6,495.1M114,478.4L106.9,505.3M119.8,479.7L124.6,495.9M119.9,480.3L133.5,506.5M122.6,479L117.2,508.5M114.5,476.7L116.8,508M123.2,477.3L120.6,488.6M113.4,480.5L137.1,496.2M123.2,478L119.9,487.2M116.2,480.4L110.2,492.1M121.3,479.6L116.4,486.2M122.1,478.1L116.1,492.7M123.3,476.3L129.6,489.2M118.7,480L119.1,499" stroke="#2f72be" stroke-width="0.42" stroke-opacity="0.62"/>
<path class="fl" d="M117.7,476L114.9,486M115.8,476.9L110.5,492.9M119.7,480.2L95,499.8M124,479L135.3,504.3M120.9,476.9L115.7,498.6M122.4,476.3L118.9,500.9M121.9,479L127.7,497.7M112.1,479.7L101.3,495.4M118.1,478.7L113,487.7M120.6,477.2L141.7,483.1M112.3,478L111.1,490.6M121.2,478.7L139,497.8M117.5,477.1L120.2,501.6M121.3,479.9L116.2,487.8M115.4,477.3L113.9,488.1M124.9,480.2L114,490.3M112.1,479L101.6,489.9M124.7,480.1L126.7,502.1M122.1,478.5L123.7,494.6M117.3,480.2L105.3,505.1M113.4,476.7L106.3,494.3M115.1,476.4L109.5,497.5M115.5,478.7L106.6,503.3M120.6,477L122.3,491.2M123.1,480.7L114.2,496.6M123.9,476.6L118.6,487.4M115.1,478.7L121.7,491.8M119.1,480.5L119.9,501.6M116.5,476.1L110.6,505.1M120.2,479.4L108.7,495.5M117.7,476.4L112.3,493.1M116.6,476.7L119,506.8M119.2,480.5L127.8,500.2M119.8,478.2L117.8,508.2M118.5,477.6L107,495.7M124.4,479L136.9,500.6M121.1,479.7L127.5,491.7M119.9,478.8L133.5,483.8M113.9,477L123.7,477.7M122.1,479.1L130.4,482.2M125.1,479.5L134.5,491.1M113.9,479.4L141.2,476.5" stroke="#2f72be" stroke-width="0.42" stroke-opacity="0.62"/>
<path class="fl" d="M121.3,480.4L128,494.4M121.3,478.3L129.1,484.2M119.6,476.7L139,478.7M113.3,480.7L121.7,499M112.5,479L125.7,480.2M112,480.7L133.5,489.6M119.1,478.6L132.5,486M120,480.7L131.7,482.4M117.1,479.7L127.1,482.5M113.7,477.9L124,492.5M124.5,480.7L134.1,484.5M121.3,479.3L132.2,493.2M119.2,480.4L127.6,485.2M154.1,476L122,476.8M154.1,476L128.3,456.2M154.1,476L117.1,477.5M154.1,476L128.4,462.1M154.1,476L120.7,477.4M154.1,476L126.9,467.2M154.1,476L119.4,477.5M154.1,476L119.8,475M154.1,476L120,477M154.1,476L128.5,463.1M154.1,476L127.7,477.4M154.1,476L126.5,477.5M154.1,476L123.4,471.1M154.1,476L134.7,452.8M154.1,476L124.4,463.3M154.1,476L118.7,477.5M154.1,476L117.2,477.2M154.1,476L118.3,475.1M154.1,476L130.2,453.1M154.1,476L126.2,453.9M154.1,476L124.1,477.2M154.1,476L125.9,462.1M154.1,476L127.7,469.5M154.1,476L123.5,476M154.1,476L130.6,458.3M154.1,476L121.1,477.5M154.1,476L122.4,477.5M154.1,476L136,451.8M154.1,476L128.4,472" stroke="#2f72be" stroke-width="0.42" stroke-opacity="0.62"/>
<path class="fl" d="M116.7,473.2L118.4,481.5M114.9,477.5L116.2,483M111.8,479.6L117.1,483.3M113.8,474.1L116.7,483.6M121.6,474.1L118.3,486.8M119.7,475.6L117.3,487.8M112.3,479.1L120,481.5M121.6,475.2L119.1,485.4M124.2,476.8L120.6,483.3M116.2,475L118.9,482.2M124.9,474L116.1,482.7M121.7,477.2L119.6,484.4M122.1,473.3L118.7,487.1M113.9,474.2L119.4,483.9M127.1,473.5L118.3,482.9M114.7,474.1L119.8,487M112.7,476.4L116,481.5M122.7,474.1L119.9,481.1M124,477.5L118.2,484.7M120.4,476.8L119,487.8M113.1,477.6L118.9,486.1M118.4,479.7L119.9,483.3" stroke="#1b468e" stroke-width="0.6" stroke-opacity="0.8"/>
<path class="fl" d="M116.7,473.6L118.3,487.9M115.2,475.8L118.5,486.8M124.8,477.6L119.9,486.5M125.3,473.2L116.7,487.7M119.7,474.6L120.3,485.8M123.7,476.7L118,485.3M119.9,476.8L116.9,481.3M111.4,474.2L118,486.9M117.8,474.1L116.5,486.6M115.7,475.8L118.9,482.2M116.1,473.6L116.7,481.7M125.4,476.6L119.3,483.6M125.1,473.6L117,485.9M123.2,476.4L117,483M125.3,478.5L119.5,484.1M117.2,477.8L117.9,483.2M121.6,474.6L118.1,484M122.3,476.3L120,482.6M122.6,477.8L117.1,482.5M113.5,474.7L118.2,484.9M125,476.5L119.6,485.1M125.3,479.5L120.6,484.9" stroke="#1b468e" stroke-width="0.6" stroke-opacity="0.8"/>
<circle cx="154.1" cy="476" r="1.1" fill="#0a0a14"/>
<circle cx="137.5" cy="481.2" r="0.7" fill="#0a0a14"/>
</g>
</g>
<rect x="648.4" y="519.5" width="78.8" height="61.6" fill="#fff" stroke="#5c5c5c" stroke-width="1.1"/>
<g transform="translate(650.4,518.2) scale(0.324)">
<use href="#og" fill="#dedfdf"/>
<path d="M110,106.5l6,1.5l5,-0.5l2.5,3.5l-7,1.5l-6,-2zM126,109.5l4,0l0,3.5l-4,0zM137,108l3.5,0l0,3.5l-3.5,0z" fill="#0a0a0a"/>
</g>
<rect x="667.5" y="535.2" width="41.3" height="40.4" fill="none" stroke="#e45aa0" stroke-width="0.7" stroke-dasharray="2.8 1.4"/>
<rect x="553.8" y="408.5" width="173.4000000000001" height="172.60000000000002" fill="none" stroke="#5c5c5c" stroke-width="1.1"/>
<path d="M59.3,422.2V425.5H111.3V422.2" fill="none" stroke="#5a5a5a" stroke-width="0.9"/>
<text class="sb" x="59.6" y="419.7" text-anchor="middle">0</text>
<text class="sb" x="100.3" y="419.7">50 km</text>
<path d="M317.4,420.4V423.7H369.4V420.4" fill="none" stroke="#5a5a5a" stroke-width="0.9"/>
<text class="sb" x="317.7" y="417.9" text-anchor="middle">0</text>
<text class="sb" x="358.4" y="417.9">50 km</text>
<path d="M580.6,420.8V424.1H631.9V420.8" fill="none" stroke="#5a5a5a" stroke-width="0.9"/>
<text class="sb" x="580.9" y="418.3" text-anchor="middle">0</text>
<text class="sb" x="620.9" y="418.3">50 km</text>
<text class="lg" x="205.5" y="122">C<tspan class="i">obs</tspan>: 15.4 km</text>
<text class="lg" x="205.5" y="133.6">Number of workers</text>
<path d="M205,145.5H227.8" stroke="#f3f3a8" stroke-width="0.9" fill="none"/>
<text class="lg" x="232.4" y="147.9">410 - 985</text>
<path d="M205,156.3H227.8" stroke="#c6e28c" stroke-width="0.9" fill="none"/>
<text class="lg" x="232.4" y="158.7">195 - 410</text>
<path d="M205,167.6H227.8" stroke="#74c476" stroke-width="0.9" fill="none"/>
<text class="lg" x="232.4" y="170">85 - 195</text>
<path d="M205,177.6H227.8" stroke="#8fd3b4" stroke-width="0.9" fill="none"/>
<text class="lg" x="232.4" y="180">30 - 85</text>
<path d="M205,188.8H227.8" stroke="#cfe3dd" stroke-width="0.9" fill="none"/>
<text class="lg" x="232.4" y="190.6">4 - 30</text>
<text class="lg" x="468" y="122.8">C<tspan class="i">min</tspan>: 6.1 km</text>
<text class="lg" x="468" y="132.8">Number of workers</text>
<path d="M467.7,145.5H490.4" stroke="#f3f3a8" stroke-width="0.9" fill="none"/>
<text class="lg" x="495.5" y="147.9">2754 - 4009</text>
<path d="M467.7,156.3H490.4" stroke="#c6e28c" stroke-width="0.9" fill="none"/>
<text class="lg" x="495.5" y="158.7">1875 - 2754</text>
<path d="M467.7,167.6H490.4" stroke="#74c476" stroke-width="0.9" fill="none"/>
<text class="lg" x="495.5" y="170">1172 - 1875</text>
<path d="M467.7,178H490.4" stroke="#8fd3b4" stroke-width="0.9" fill="none"/>
<text class="lg" x="495.5" y="180.4">582 - 1172</text>
<path d="M467.7,189H490.4" stroke="#cfe3dd" stroke-width="0.9" fill="none"/>
<text class="lg" x="495.5" y="190.8">1- 582</text>
<text class="lg" x="731.3" y="125.6">C<tspan class="i">ex</tspan>: 60.4 %</text>
<text class="lg" x="731.3" y="133.9">Number of workers</text>
<path d="M730.9,146.7H753.4" stroke="#f3f3a8" stroke-width="0.9" fill="none"/>
<text class="lg" x="758.4" y="149.1">365 - 985</text>
<path d="M730.9,157.6H753.4" stroke="#c6e28c" stroke-width="0.9" fill="none"/>
<text class="lg" x="758.4" y="160">165 - 365</text>
<path d="M730.9,169.1H753.4" stroke="#74c476" stroke-width="0.9" fill="none"/>
<text class="lg" x="758.4" y="171.5">70 - 165</text>
<path d="M730.9,179.5H753.4" stroke="#8fd3b4" stroke-width="0.9" fill="none"/>
<text class="lg" x="758.4" y="181.9">25 - 70</text>
<path d="M730.9,190.3H753.4" stroke="#cfe3dd" stroke-width="0.9" fill="none"/>
<text class="lg" x="758.4" y="192.1">3 -25</text>
<text class="lg" x="210.5" y="310.8">C<tspan class="i">obs</tspan>: 20.9 km</text>
<text class="lg" x="210.5" y="321.3">Number of workers</text>
<path d="M210,331.8H232.6" stroke="#fcd6cc" stroke-width="0.9" fill="none"/>
<text class="lg" x="237.5" y="334.2">315 - 825</text>
<path d="M210,342.6H232.6" stroke="#f8989e" stroke-width="0.9" fill="none"/>
<text class="lg" x="237.5" y="345">150 - 315</text>
<path d="M210,354H232.6" stroke="#f26aa0" stroke-width="0.9" fill="none"/>
<text class="lg" x="237.5" y="356.4">65 - 150</text>
<path d="M210,364.4H232.6" stroke="#e896d0" stroke-width="0.9" fill="none"/>
<text class="lg" x="237.5" y="366.8">25 - 65</text>
<path d="M210,375.4H232.6" stroke="#e2cbe6" stroke-width="0.9" fill="none"/>
<text class="lg" x="237.5" y="377.2">4 -25</text>
<text class="lg" x="211.2" y="386.2">Neighborhood I</text>
<rect x="211" y="392" width="18" height="4" fill="#000"/>
<text class="lg" x="472.7" y="311.5">C<tspan class="i">min</tspan>: 13.1 km</text>
<text class="lg" x="472.7" y="322.5">Number of workers</text>
<path d="M472.4,334.4H495.1" stroke="#fcd6cc" stroke-width="0.9" fill="none"/>
<text class="lg" x="499.9" y="336.8">1582 - 2832</text>
<path d="M472.4,345.2H495.1" stroke="#f8989e" stroke-width="0.9" fill="none"/>
<text class="lg" x="499.9" y="347.6">985 - 1582</text>
<path d="M472.4,356.5H495.1" stroke="#f26aa0" stroke-width="0.9" fill="none"/>
<text class="lg" x="499.9" y="358.9">581 - 985</text>
<path d="M472.4,367H495.1" stroke="#e896d0" stroke-width="0.9" fill="none"/>
<text class="lg" x="499.9" y="369.4">263 - 581</text>
<path d="M472.4,378H495.1" stroke="#e2cbe6" stroke-width="0.9" fill="none"/>
<text class="lg" x="499.9" y="379.8">3 - 263</text>
<text class="lg" x="472.7" y="388.5">Neighborhood I</text>
<rect x="473.5" y="393.5" width="17.5" height="4.5" fill="#000"/>
<text class="lg" x="731.3" y="311.7">C<tspan class="i">ex</tspan>: 37.3 %</text>
<text class="lg" x="731.3" y="321.6">Number of workers</text>
<path d="M730.9,332.1H753.4" stroke="#fcd6cc" stroke-width="0.9" fill="none"/>
<text class="lg" x="758.8" y="334.5">270 - 710</text>
<path d="M730.9,343.4H753.4" stroke="#f8989e" stroke-width="0.9" fill="none"/>
<text class="lg" x="758.8" y="345.8">130 - 270</text>
<path d="M730.9,354.4H753.4" stroke="#f26aa0" stroke-width="0.9" fill="none"/>
<text class="lg" x="758.8" y="356.8">60 - 130</text>
<path d="M730.9,364.6H753.4" stroke="#e896d0" stroke-width="0.9" fill="none"/>
<text class="lg" x="758.8" y="367">26 - 60</text>
<path d="M730.9,375.4H753.4" stroke="#e2cbe6" stroke-width="0.9" fill="none"/>
<text class="lg" x="758.8" y="377.2">1 - 26</text>
<text class="lg" x="732.4" y="386.5">Neighborhood I</text>
<rect x="732" y="392.5" width="18" height="4" fill="#000"/>
<text class="lg" x="212" y="495.2">C<tspan class="i">obs</tspan>: 10.9 km</text>
<text class="lg" x="212" y="506.5">Number of workers</text>
<path d="M212,518.5H234.7" stroke="#1b2f6e" stroke-width="1.6" fill="none"/>
<text class="lg" x="239.4" y="520.9">300 - 515</text>
<path d="M212,529.6H234.7" stroke="#1f3a7a" stroke-width="1.2" fill="none"/>
<text class="lg" x="239.4" y="532">180 - 300</text>
<path d="M212,540.8H234.7" stroke="#8fb4e0" stroke-width="1.0" fill="none"/>
<text class="lg" x="239.4" y="543.2">75 - 180</text>
<path d="M212,551.6H234.7" stroke="#8fb4e0" stroke-width="0.9" fill="none"/>
<text class="lg" x="239.4" y="554">25 - 75</text>
<path d="M212,562.3H234.7" stroke="#cfe0f2" stroke-width="0.9" fill="none"/>
<text class="lg" x="239.4" y="564.1">4 - 25</text>
<text class="lg" x="212.9" y="573.9">Neighborhood II</text>
<rect x="213.2" y="578.7" width="17.6" height="3.3" fill="#000"/>
<text class="lg" x="472.5" y="495.2">C<tspan class="i">min</tspan>: 8.2 km</text>
<text class="lg" x="472.5" y="504.7">Number of workers</text>
<path d="M472.2,517H494.9" stroke="#1b2f6e" stroke-width="1.6" fill="none"/>
<text class="lg" x="499.7" y="519.4">821 - 1294</text>
<path d="M472.2,527.8H494.9" stroke="#1f3a7a" stroke-width="1.2" fill="none"/>
<text class="lg" x="499.7" y="530.2">499 - 821</text>
<path d="M472.2,539H494.9" stroke="#8fb4e0" stroke-width="1.0" fill="none"/>
<text class="lg" x="499.7" y="541.4">210 - 499</text>
<path d="M472.2,549.4H494.9" stroke="#8fb4e0" stroke-width="0.9" fill="none"/>
<text class="lg" x="499.7" y="551.8">65 - 210</text>
<path d="M472.2,560.1H494.9" stroke="#cfe0f2" stroke-width="0.9" fill="none"/>
<text class="lg" x="499.7" y="561.9">4 - 65</text>
<text class="lg" x="472.5" y="571.2">Neighborhood II</text>
<rect x="472.9" y="577.5" width="17.5" height="3" fill="#000"/>
<text class="lg" x="731.3" y="495.2">C<tspan class="i">ex</tspan>: 24.8 %</text>
<text class="lg" x="731.3" y="505.4">Number of workers</text>
<path d="M731.3,517.6H754.6" stroke="#1b2f6e" stroke-width="1.6" fill="none"/>
<text class="lg" x="759" y="520">175 - 295</text>
<path d="M731.3,528.5H754.6" stroke="#1f3a7a" stroke-width="1.2" fill="none"/>
<text class="lg" x="759" y="530.9">90 - 175</text>
<path d="M731.3,539.6H754.6" stroke="#8fb4e0" stroke-width="1.0" fill="none"/>
<text class="lg" x="759" y="542">45 - 90</text>
<path d="M731.3,550.3H754.6" stroke="#8fb4e0" stroke-width="0.9" fill="none"/>
<text class="lg" x="759" y="552.7">20 - 45</text>
<path d="M731.3,561.4H754.6" stroke="#cfe0f2" stroke-width="0.9" fill="none"/>
<text class="lg" x="759" y="563.2">4 - 20</text>
<text class="lg" x="732" y="572.8">Neighborhood II</text>
<rect x="732" y="578" width="18" height="3.4" fill="#000"/>
</svg>
</body></html>
